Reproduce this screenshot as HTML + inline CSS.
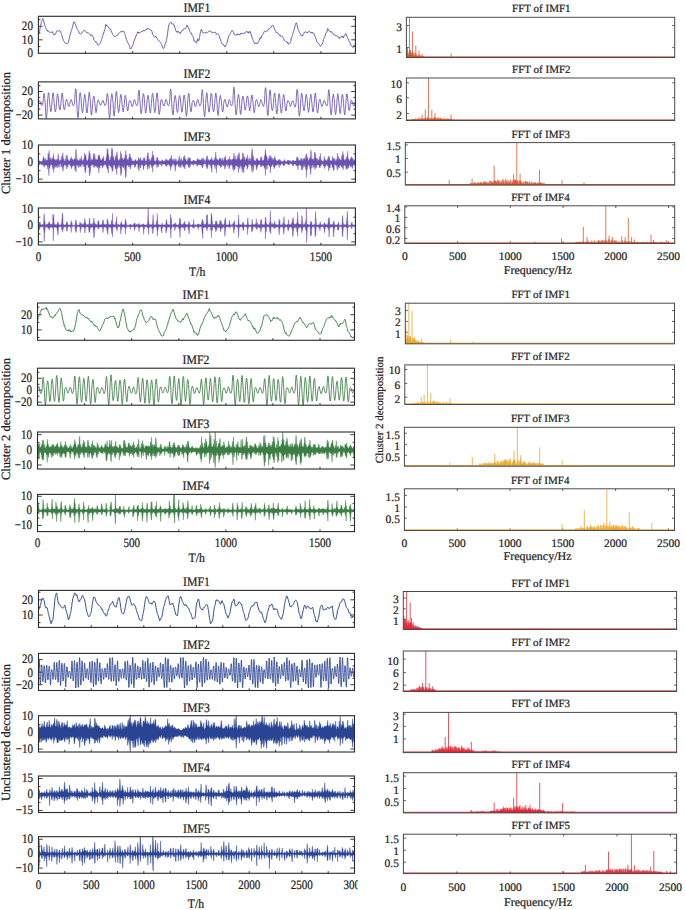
<!DOCTYPE html><html><head><meta charset="utf-8"><style>html,body{margin:0;padding:0;background:#fff;}body{width:685px;height:910px;overflow:hidden;font-family:"Liberation Serif",serif;}svg{display:block;}</style></head><body><svg width="685" height="910" viewBox="0 0 685 910" font-family="'Liberation Serif', serif" text-rendering="geometricPrecision"><style>text{stroke:#1e1e1e;stroke-width:0.22px;}</style><defs><clipPath id="lc10"><rect x="38.4" y="16.3" width="317" height="37"/></clipPath><clipPath id="lc11"><rect x="38.4" y="81.9" width="317" height="37"/></clipPath><clipPath id="lc12"><rect x="38.4" y="145" width="317" height="37.3"/></clipPath><clipPath id="lc13"><rect x="38.4" y="208" width="317" height="37"/></clipPath><clipPath id="lc20"><rect x="37.5" y="303" width="317" height="37.3"/></clipPath><clipPath id="lc21"><rect x="37.5" y="368.2" width="317" height="37"/></clipPath><clipPath id="lc22"><rect x="37.5" y="432" width="317" height="37"/></clipPath><clipPath id="lc23"><rect x="37.5" y="494.4" width="317" height="37.2"/></clipPath><clipPath id="lc30"><rect x="38.5" y="590.4" width="316" height="37"/></clipPath><clipPath id="lc31"><rect x="38.5" y="653.4" width="316" height="37.1"/></clipPath><clipPath id="lc32"><rect x="38.5" y="715.7" width="316" height="36.3"/></clipPath><clipPath id="lc33"><rect x="38.5" y="776" width="316" height="36.5"/></clipPath><clipPath id="lc34"><rect x="38.5" y="836.7" width="316" height="36.6"/></clipPath><clipPath id="rc10"><rect x="406.4" y="17.3" width="268.3" height="40.2"/></clipPath><clipPath id="rc11"><rect x="406.4" y="78" width="268.3" height="42.5"/></clipPath><clipPath id="rc12"><rect x="405.3" y="142.6" width="269.4" height="42.5"/></clipPath><clipPath id="rc13"><rect x="404.8" y="205.8" width="269.9" height="37.7"/></clipPath><clipPath id="rc20"><rect x="405.3" y="303.2" width="269.2" height="40.6"/></clipPath><clipPath id="rc21"><rect x="404.8" y="364.9" width="269.7" height="39.6"/></clipPath><clipPath id="rc22"><rect x="404.4" y="427.3" width="270.1" height="38.9"/></clipPath><clipPath id="rc23"><rect x="404.4" y="488.8" width="270.1" height="41.7"/></clipPath><clipPath id="rc30"><rect x="403.3" y="591.5" width="273.3" height="38"/></clipPath><clipPath id="rc31"><rect x="403.3" y="651" width="273.3" height="40.5"/></clipPath><clipPath id="rc32"><rect x="403.3" y="712.4" width="273.3" height="40.2"/></clipPath><clipPath id="rc33"><rect x="403.4" y="772.7" width="273.2" height="40.2"/></clipPath><clipPath id="rc34"><rect x="403.4" y="834.2" width="273.2" height="39.4"/></clipPath></defs><rect width="685" height="910" fill="#fff"/><text transform="translate(196.9,12.1) scale(0.98,1.07)" font-size="12" text-anchor="middle" fill="#1e1e1e" >IMF1</text>
<text transform="translate(32.9,30.1) scale(0.96,1.13)" font-size="11.5" text-anchor="end" fill="#1e1e1e" >20</text>
<text transform="translate(32.9,43.6) scale(0.96,1.13)" font-size="11.5" text-anchor="end" fill="#1e1e1e" >10</text>
<text transform="translate(32.9,57) scale(0.96,1.13)" font-size="11.5" text-anchor="end" fill="#1e1e1e" >0</text>
<line x1="38.4" y1="19.6" x2="40.4" y2="19.6" stroke="#2b2b2b" stroke-width="0.9"/>
<line x1="355.4" y1="19.6" x2="353.4" y2="19.6" stroke="#2b2b2b" stroke-width="0.9"/>
<line x1="38.4" y1="26.3" x2="42.6" y2="26.3" stroke="#2b2b2b" stroke-width="0.9"/>
<line x1="355.4" y1="26.3" x2="351.2" y2="26.3" stroke="#2b2b2b" stroke-width="0.9"/>
<line x1="38.4" y1="33" x2="40.4" y2="33" stroke="#2b2b2b" stroke-width="0.9"/>
<line x1="355.4" y1="33" x2="353.4" y2="33" stroke="#2b2b2b" stroke-width="0.9"/>
<line x1="38.4" y1="39.8" x2="42.6" y2="39.8" stroke="#2b2b2b" stroke-width="0.9"/>
<line x1="355.4" y1="39.8" x2="351.2" y2="39.8" stroke="#2b2b2b" stroke-width="0.9"/>
<line x1="38.4" y1="46.5" x2="40.4" y2="46.5" stroke="#2b2b2b" stroke-width="0.9"/>
<line x1="355.4" y1="46.5" x2="353.4" y2="46.5" stroke="#2b2b2b" stroke-width="0.9"/>
<line x1="85.5" y1="53.3" x2="85.5" y2="51.1" stroke="#2b2b2b" stroke-width="0.9"/>
<line x1="132.6" y1="53.3" x2="132.6" y2="51.1" stroke="#2b2b2b" stroke-width="0.9"/>
<line x1="179.7" y1="53.3" x2="179.7" y2="51.1" stroke="#2b2b2b" stroke-width="0.9"/>
<line x1="226.8" y1="53.3" x2="226.8" y2="51.1" stroke="#2b2b2b" stroke-width="0.9"/>
<line x1="273.8" y1="53.3" x2="273.8" y2="51.1" stroke="#2b2b2b" stroke-width="0.9"/>
<line x1="320.9" y1="53.3" x2="320.9" y2="51.1" stroke="#2b2b2b" stroke-width="0.9"/>
<path d="M38.9 33.9 39.2 33.3 39.6 31.6 39.9 29.2 40.3 27.2 40.6 25.8 41 23.6 41.3 22.4 41.7 21.2 42 20.5 42.4 19.8 42.7 18.6 43.1 19.1 43.4 20.3 43.8 21 44.1 23 44.5 24.3 44.8 25.3 45.2 26.5 45.5 27.7 45.9 28 46.2 28.6 46.6 29.7 46.9 30.3 47.3 30.9 47.6 30.1 48 31.5 48.3 30.9 48.7 31.4 49 31.9 49.4 32 49.7 32.3 50.1 32.3 50.4 32.4 50.8 32.3 51.1 32.1 51.5 32.2 51.8 32.2 52.2 32.5 52.5 31.7 52.9 33.2 53.2 33.4 53.6 33.9 53.9 35 54.3 34.3 54.6 34.5 55 34.4 55.3 34 55.7 34.2 56 32.6 56.4 32.2 56.7 31.4 57.1 30.6 57.4 30.9 57.8 30.9 58.1 31.2 58.5 31.2 58.8 30.8 59.2 30.9 59.5 30.6 59.9 30.6 60.2 31 60.6 31.8 60.9 32.9 61.3 33.7 61.6 34.5 62 35.7 62.3 37.1 62.7 38.3 63 39.1 63.4 40.5 63.7 41.1 64.1 41.6 64.4 41.7 64.8 42.7 65.1 43 65.5 43.4 65.8 43.4 66.2 44 66.5 43.5 66.9 43.7 67.2 43.8 67.6 43.3 67.9 43.1 68.3 42.8 68.6 41.3 69 39.7 69.3 38.1 69.7 36.8 70 35.1 70.4 34.1 70.7 32.7 71.1 31.2 71.4 30.7 71.8 29.4 72.1 28.5 72.5 26.8 72.8 26.1 73.2 24 73.5 22.1 73.9 22 74.2 21.7 74.6 22.3 74.9 23.1 75.3 23.9 75.6 24.9 76 25.8 76.3 27.2 76.7 27.4 77 28.4 77.4 29.6 77.7 29.9 78.1 30.5 78.4 31.1 78.8 31.6 79.1 33.2 79.5 33.4 79.8 33.3 80.2 33.8 80.5 34.2 80.9 33.7 81.2 33.8 81.6 33.3 81.9 32.9 82.3 32 82.6 31.9 83 31.3 83.3 31.1 83.7 30.8 84 30.7 84.4 30.5 84.7 31 85.1 30.6 85.4 31 85.8 31.7 86.1 32.1 86.5 32.3 86.8 32.5 87.2 33.2 87.5 32.7 87.9 32.7 88.2 32.7 88.6 33.3 88.9 33.5 89.3 33.9 89.6 34.2 90 34.4 90.3 34.8 90.7 35.5 91 34.6 91.4 35 91.7 35 92.1 36.3 92.4 36.2 92.8 36.2 93.1 36.6 93.5 37.7 93.8 39 94.2 40.1 94.5 40.6 94.9 41.2 95.2 41.5 95.6 42.2 95.9 41.4 96.3 42.6 96.6 42.7 97 43.1 97.3 44.4 97.7 44.5 98 45.1 98.4 44.9 98.7 44.7 99.1 44.4 99.4 44.1 99.8 44 100.1 43.5 100.5 42.8 100.8 41.7 101.2 40.5 101.5 39.8 101.9 38.8 102.2 36.9 102.6 36.1 102.9 35.2 103.3 34.2 103.6 33 104 32.1 104.3 30.8 104.7 29.9 105 28.6 105.4 27.1 105.7 24.6 106.1 25.9 106.4 24.9 106.8 25 107.1 25.6 107.5 26.1 107.8 26.6 108.2 27.1 108.5 27.2 108.9 28 109.2 28.1 109.6 28.3 109.9 29.4 110.3 29.3 110.6 29.2 111 30.3 111.3 31.1 111.7 32.3 112 33.1 112.4 33.4 112.7 34.5 113.1 34.9 113.4 35.3 113.8 35.9 114.1 35.9 114.5 36.5 114.8 36.6 115.2 36.8 115.5 36.3 115.9 36 116.2 36 116.6 35.4 116.9 35.6 117.3 35.3 117.6 35.3 118 34.4 118.3 34.2 118.7 33.5 119 33.3 119.4 32.8 119.7 32.5 120.1 32.1 120.4 31.9 120.8 32.1 121.1 31.5 121.5 32.1 121.8 31.4 122.2 31.7 122.5 31.8 122.9 31 123.2 31 123.6 31.1 123.9 31.6 124.3 32.4 124.6 33.3 125 34.5 125.3 35.5 125.7 36.9 126 37.9 126.4 39.5 126.7 39.9 127.1 41.1 127.4 41.8 127.8 42.7 128.1 43.5 128.5 43.6 128.8 44.6 129.2 45.4 129.5 46.4 129.9 47.3 130.2 49 130.6 49 130.9 48.5 131.3 48.4 131.6 47.6 132 46.7 132.3 46 132.7 45.8 133 44.3 133.4 43.3 133.7 41.8 134.1 40.7 134.4 40 134.8 39 135.1 38.4 135.5 37 135.8 36.2 136.2 36.1 136.5 34.9 136.9 34.1 137.2 33.8 137.6 31.8 137.9 32.5 138.3 32 138.6 33.3 139 32.4 139.3 32.5 139.7 32.5 140 32.6 140.4 32.2 140.7 32.3 141.1 31.9 141.4 31.4 141.8 32 142.1 31.4 142.5 31.1 142.8 30.7 143.2 31 143.5 30.4 143.9 30.5 144.2 31.2 144.6 30.7 144.9 30.6 145.3 30.6 145.6 30 146 29.6 146.3 30 146.7 29 147 28.6 147.4 28 147.7 28.9 148.1 28.5 148.4 28.7 148.8 28.5 149.1 29 149.5 29.8 149.8 29.7 150.2 29.9 150.5 29.6 150.9 30 151.2 30.6 151.6 30.4 151.9 31.4 152.3 33 152.6 34.1 153 34.4 153.3 35.4 153.7 36.2 154 36.4 154.4 36.8 154.7 36.9 155.1 36.5 155.4 36.1 155.8 37.3 156.1 36.8 156.5 37.2 156.8 38 157.2 38.5 157.5 39.3 157.9 39.8 158.2 40.4 158.6 40.4 158.9 40.8 159.3 41.3 159.6 41.3 160 41.7 160.3 42.1 160.7 42.7 161 43.5 161.4 44.1 161.7 44.7 162.1 46.3 162.4 46.3 162.8 47.1 163.1 48.5 163.5 48.4 163.8 48.2 164.2 47.7 164.5 46.6 164.9 46.1 165.2 43.2 165.6 43 165.9 42.2 166.3 40.8 166.6 39.7 167 37.5 167.3 34.9 167.7 32.5 168 30.1 168.4 27.5 168.7 25.8 169.1 24.3 169.4 23.5 169.8 23.1 170.1 22.6 170.5 22.6 170.8 22.8 171.2 22.3 171.5 23.4 171.9 23.7 172.2 24.3 172.6 24.1 172.9 23.5 173.3 23.9 173.6 24.5 174 25 174.3 26 174.7 27 175 27.7 175.4 29.1 175.7 30.4 176.1 31.6 176.4 31.5 176.8 31.5 177.1 32.4 177.5 31.4 177.8 32.1 178.2 31.4 178.5 32.1 178.9 32.1 179.2 32.6 179.6 32.7 179.9 32.1 180.3 33.6 180.6 32.8 181 32.1 181.3 31.4 181.7 31.3 182 30.7 182.4 30.2 182.7 30.8 183.1 29.5 183.4 29 183.8 28.9 184.1 28.9 184.5 28.6 184.8 28.8 185.2 28.7 185.5 27.8 185.9 27.5 186.2 27.1 186.6 26.9 186.9 25.3 187.3 26.7 187.6 26 188 26.4 188.3 27.5 188.7 28.1 189 29 189.4 30.1 189.7 31.1 190.1 31.6 190.4 32.3 190.8 32.7 191.1 33.5 191.5 32.9 191.8 34.3 192.2 35.6 192.5 35.8 192.9 36.6 193.2 36.9 193.6 38.2 193.9 40 194.3 41.3 194.6 40.8 195 41.5 195.3 42 195.7 42.7 196 42.9 196.4 42.8 196.7 42.9 197.1 40.6 197.4 41 197.8 38.7 198.1 39.7 198.5 40 198.8 40.6 199.2 39.6 199.5 37.6 199.9 35.1 200.2 33.4 200.6 31.7 200.9 30.4 201.3 29.4 201.6 30.5 202 30 202.3 31.6 202.7 32 203 32.9 203.4 32.8 203.7 33 204.1 33.1 204.4 33.1 204.8 32.8 205.1 32.4 205.5 32.7 205.8 32.1 206.2 32.7 206.5 32.1 206.9 32.2 207.2 32.4 207.6 32.7 207.9 32.4 208.3 32 208.6 31.6 209 31.5 209.3 31 209.7 30.7 210 31.2 210.4 31.2 210.7 31.4 211.1 31.7 211.4 31.6 211.8 32.5 212.1 32.1 212.5 32.8 212.8 32.5 213.2 32.6 213.5 32.6 213.9 32.4 214.2 32.4 214.6 32.5 214.9 32.4 215.3 32.1 215.6 32.6 216 33.1 216.3 34.4 216.7 34 217 34.1 217.4 33.7 217.7 33.9 218.1 34.2 218.4 34.5 218.8 35.3 219.1 35.7 219.5 37.2 219.8 38.5 220.2 38.3 220.5 39.5 220.9 40.8 221.2 41.4 221.6 42.3 221.9 43.6 222.3 43.8 222.6 44.2 223 44.1 223.3 44.4 223.7 45.5 224 45.5 224.4 45.7 224.7 45.9 225.1 47.1 225.4 45.8 225.8 45.8 226.1 44.6 226.5 44.1 226.8 43.3 227.2 42.3 227.5 41 227.9 38.9 228.2 38.4 228.6 37.1 228.9 36 229.3 35.2 229.6 34.7 230 34.1 230.3 33.4 230.7 32.7 231 32.2 231.4 31.7 231.7 30.6 232.1 30.3 232.4 30.7 232.8 30.7 233.1 31.5 233.5 32.1 233.8 33 234.2 34.4 234.5 34.2 234.9 34.6 235.2 35.1 235.6 35.2 235.9 34.9 236.3 34.9 236.6 35 237 34.2 237.3 34.9 237.7 34.5 238 33.6 238.4 34.6 238.7 34.7 239.1 35.1 239.4 34.5 239.8 34.8 240.1 34.7 240.5 33.8 240.8 34.1 241.2 33 241.5 33.9 241.9 33.5 242.2 33.1 242.6 33.4 242.9 33.4 243.3 33.6 243.6 33.5 244 33.5 244.3 32.9 244.7 33 245 32.8 245.4 32.2 245.7 32.5 246.1 32.1 246.4 31.4 246.8 31.8 247.1 31.4 247.5 32.2 247.8 32.9 248.2 32.2 248.5 32 248.9 33.3 249.2 31.5 249.6 31.4 249.9 31.8 250.3 31.8 250.6 33.1 251 34.1 251.3 34.7 251.7 36.1 252 37.3 252.4 38.5 252.7 39.2 253.1 40.4 253.4 41.3 253.8 41.9 254.1 42.7 254.5 43.6 254.8 42.9 255.2 43.4 255.5 43.2 255.9 43.2 256.2 43.6 256.6 42.8 256.9 43.3 257.3 43.9 257.6 43.4 258 43.2 258.3 42.6 258.7 41.3 259 40.7 259.4 40 259.7 38.3 260.1 38.9 260.4 38 260.8 37 261.1 38 261.5 36.1 261.8 36.1 262.2 35.4 262.5 34.9 262.9 34.4 263.2 33.5 263.6 32.7 263.9 32.7 264.3 31.4 264.6 31.8 265 31.4 265.3 31.3 265.7 31.7 266 31.3 266.4 31.3 266.7 31.1 267.1 31.2 267.4 30.3 267.8 30.3 268.1 29.7 268.5 29.7 268.8 28.7 269.2 28.5 269.5 28.2 269.9 27.9 270.2 27.9 270.6 27.7 270.9 27.1 271.3 27.1 271.6 26.4 272 25.7 272.3 25.1 272.7 25 273 25.4 273.4 26.2 273.7 27.1 274.1 27.3 274.4 29 274.8 29.4 275.1 30.3 275.5 31.1 275.8 31.7 276.2 32.7 276.5 32.2 276.9 32.6 277.2 32.5 277.6 32.8 277.9 33.4 278.3 33.6 278.6 34.1 279 34.3 279.3 34.9 279.7 35.5 280 34.9 280.4 36.2 280.7 36.2 281.1 36.3 281.4 36.2 281.8 36.3 282.1 36.4 282.5 36.4 282.8 37.3 283.2 37.8 283.5 38.4 283.9 38.6 284.2 40.4 284.6 40.6 284.9 40.7 285.3 41.2 285.6 41.5 286 41.7 286.3 41.6 286.7 42.2 287 42.1 287.4 42 287.7 43.1 288.1 42.8 288.4 44.2 288.8 44 289.1 43.9 289.5 43.4 289.8 43.1 290.2 42.7 290.5 41.5 290.9 40.8 291.2 38.2 291.6 38.4 291.9 36.7 292.3 35.4 292.6 34.4 293 33.4 293.3 32.1 293.7 31.4 294 29.8 294.4 28.7 294.7 26.8 295.1 26.3 295.4 24.2 295.8 23.4 296.1 22.8 296.5 23 296.8 24.2 297.2 25.7 297.5 27 297.9 28.3 298.2 29.5 298.6 30.3 298.9 31 299.3 32.3 299.6 32.4 300 33 300.3 33.9 300.7 34.8 301 35.8 301.4 36 301.7 36.1 302.1 35.3 302.4 35.4 302.8 35.9 303.1 34.3 303.5 33.8 303.8 33.1 304.2 32.6 304.5 33.1 304.9 32 305.2 31.7 305.6 31.8 305.9 32.1 306.3 32.3 306.6 32.4 307 33.1 307.3 32.4 307.7 32.4 308 32.5 308.4 31.6 308.7 31.9 309.1 31.5 309.4 31.3 309.8 31.5 310.1 31.7 310.5 32 310.8 33 311.2 32.6 311.5 33 311.9 33.2 312.2 32.2 312.6 32.9 312.9 33.3 313.3 32.8 313.6 33 314 33.8 314.3 34.4 314.7 35.9 315 36.2 315.4 37.4 315.7 38.2 316.1 39.1 316.4 39.6 316.8 41.5 317.1 41.8 317.5 42.4 317.8 43.1 318.2 43.6 318.5 43.7 318.9 43.6 319.2 44.1 319.6 44.7 319.9 45.3 320.3 46.3 320.6 45.9 321 45.5 321.3 44.8 321.7 44.5 322 43.8 322.4 44 322.7 42.4 323.1 41.3 323.4 39.7 323.8 39.3 324.1 37.9 324.5 37.3 324.8 36.9 325.2 35.1 325.5 33.8 325.9 33 326.2 32.8 326.6 32.1 326.9 32.3 327.3 29.9 327.6 28.6 328 28.7 328.3 29.2 328.7 29.9 329 30.7 329.4 31.2 329.7 31.2 330.1 31.3 330.4 31.8 330.8 31.6 331.1 32.3 331.5 31.7 331.8 31.6 332.2 32.3 332.5 33.1 332.9 33.7 333.2 33.6 333.6 34.5 333.9 35.2 334.3 35 334.6 35.1 335 35.5 335.3 35.6 335.7 35.5 336 35.3 336.4 36 336.7 36.1 337.1 35.9 337.4 36.1 337.8 36.5 338.1 37.7 338.5 37.7 338.8 37.6 339.2 37.5 339.5 38.6 339.9 37.3 340.2 37.3 340.6 36.8 340.9 36.8 341.3 36.9 341.6 36.2 342 36.8 342.3 36.9 342.7 36.3 343 38 343.4 37 343.7 36.4 344.1 36.5 344.4 35.4 344.8 34.7 345.1 34.3 345.5 33.7 345.8 33.6 346.2 34 346.5 35 346.9 36.3 347.2 36.6 347.6 37.8 347.9 38.3 348.3 39.1 348.6 40 349 40.9 349.3 41.7 349.7 42.4 350 43.2 350.4 43.1 350.7 44.7 351.1 45.3 351.4 45.9 351.8 46.3 352.1 46.8 352.5 47 352.8 47.5 353.2 47.2 353.5 45.7 353.9 46 354.2 45.5 354.6 45.2 354.9 45.2 355.3 44.5" fill="none" stroke="#6a51b2" stroke-width="0.95" stroke-linejoin="round" opacity="1" clip-path="url(#lc10)"/>
<rect x="38.4" y="16.3" width="317" height="37" fill="none" stroke="#2b2b2b" stroke-width="1.1"/>
<text transform="translate(196.9,77.7) scale(0.98,1.07)" font-size="12" text-anchor="middle" fill="#1e1e1e" >IMF2</text>
<text transform="translate(32.9,95.3) scale(0.96,1.13)" font-size="11.5" text-anchor="end" fill="#1e1e1e" >20</text>
<text transform="translate(32.9,107.1) scale(0.96,1.13)" font-size="11.5" text-anchor="end" fill="#1e1e1e" >0</text>
<text transform="translate(32.9,118.9) scale(0.96,1.13)" font-size="11.5" text-anchor="end" fill="#1e1e1e" >−20</text>
<line x1="38.4" y1="85.6" x2="40.4" y2="85.6" stroke="#2b2b2b" stroke-width="0.9"/>
<line x1="355.4" y1="85.6" x2="353.4" y2="85.6" stroke="#2b2b2b" stroke-width="0.9"/>
<line x1="38.4" y1="91.5" x2="42.6" y2="91.5" stroke="#2b2b2b" stroke-width="0.9"/>
<line x1="355.4" y1="91.5" x2="351.2" y2="91.5" stroke="#2b2b2b" stroke-width="0.9"/>
<line x1="38.4" y1="97.4" x2="40.4" y2="97.4" stroke="#2b2b2b" stroke-width="0.9"/>
<line x1="355.4" y1="97.4" x2="353.4" y2="97.4" stroke="#2b2b2b" stroke-width="0.9"/>
<line x1="38.4" y1="103.3" x2="42.6" y2="103.3" stroke="#2b2b2b" stroke-width="0.9"/>
<line x1="355.4" y1="103.3" x2="351.2" y2="103.3" stroke="#2b2b2b" stroke-width="0.9"/>
<line x1="38.4" y1="109.2" x2="40.4" y2="109.2" stroke="#2b2b2b" stroke-width="0.9"/>
<line x1="355.4" y1="109.2" x2="353.4" y2="109.2" stroke="#2b2b2b" stroke-width="0.9"/>
<line x1="38.4" y1="115.1" x2="42.6" y2="115.1" stroke="#2b2b2b" stroke-width="0.9"/>
<line x1="355.4" y1="115.1" x2="351.2" y2="115.1" stroke="#2b2b2b" stroke-width="0.9"/>
<line x1="85.5" y1="118.9" x2="85.5" y2="116.7" stroke="#2b2b2b" stroke-width="0.9"/>
<line x1="132.6" y1="118.9" x2="132.6" y2="116.7" stroke="#2b2b2b" stroke-width="0.9"/>
<line x1="179.7" y1="118.9" x2="179.7" y2="116.7" stroke="#2b2b2b" stroke-width="0.9"/>
<line x1="226.8" y1="118.9" x2="226.8" y2="116.7" stroke="#2b2b2b" stroke-width="0.9"/>
<line x1="273.8" y1="118.9" x2="273.8" y2="116.7" stroke="#2b2b2b" stroke-width="0.9"/>
<line x1="320.9" y1="118.9" x2="320.9" y2="116.7" stroke="#2b2b2b" stroke-width="0.9"/>
<path d="M38.4 103.3 38.8 101.9 39.2 100.7 39.5 100.9 39.9 100.9 40.3 101.7 40.7 103.2 41 104.6 41.4 105.1 41.8 105.6 42.2 105.1 42.5 104 42.9 103.4 43.3 98.8 43.7 95.3 44.1 93.3 44.4 95.1 44.8 98.6 45.2 103.1 45.6 111.3 45.9 116.6 46.3 118.7 46.7 116.7 47.1 110.9 47.4 102.9 47.8 98.2 48.2 93.9 48.6 92.7 48.9 94 49.3 98.6 49.7 103 50.1 107.8 50.5 111.4 50.8 111.8 51.2 110.7 51.6 107.6 52 102.9 52.3 98.2 52.7 93.9 53.1 92.8 53.5 94.1 53.8 97.9 54.2 103.4 54.6 107.6 55 111.3 55.4 111.9 55.7 110.8 56.1 108 56.5 102.7 56.9 98.8 57.2 95.2 57.6 94 58 95.2 58.4 99 58.7 102.8 59.1 106.8 59.5 109.3 59.9 110 60.2 109.1 60.6 106.8 61 103.1 61.4 97.8 61.8 94.6 62.1 93 62.5 94.4 62.9 98.2 63.3 103.4 63.6 107 64 109 64.4 109.8 64.8 109.1 65.1 106.6 65.5 102.8 65.9 101.1 66.3 99.5 66.7 99.5 67 100.2 67.4 101.4 67.8 102.9 68.2 105.1 68.5 105.9 68.9 106.6 69.3 105.8 69.7 104.5 70 102.8 70.4 101.4 70.8 100 71.2 99.8 71.6 99.8 71.9 101.6 72.3 103 72.7 104.8 73.1 105.7 73.4 105.7 73.8 105.4 74.2 104.5 74.6 103.3 74.9 96 75.3 91.1 75.7 88.8 76.1 90.4 76.4 96.1 76.8 103.2 77.2 110.6 77.6 115.9 78 117.7 78.3 115.8 78.7 110.5 79.1 103 79.5 97.6 79.8 93.9 80.2 92.6 80.6 93.5 81 97.8 81.3 103 81.7 108 82.1 111.3 82.5 112.8 82.9 111.4 83.2 108.3 83.6 103.1 84 99 84.4 96 84.7 94.4 85.1 95.7 85.5 99.4 85.9 103.3 86.2 108.2 86.6 112 87 113 87.4 111.7 87.7 108.1 88.1 102.8 88.5 97.9 88.9 93.6 89.3 92.2 89.6 93.6 90 97.6 90.4 102.6 90.8 109 91.1 113.8 91.5 115.1 91.9 113.2 92.3 108.8 92.6 103.2 93 99.6 93.4 96.7 93.8 96 94.2 96.5 94.5 99.8 94.9 103.2 95.3 107.8 95.7 111.3 96 112.7 96.4 111.5 96.8 107.9 97.2 103.3 97.5 102.4 97.9 100.3 98.3 99.8 98.7 100.8 99.1 101.5 99.4 103.2 99.8 103.7 100.2 104.8 100.6 105.4 100.9 105.1 101.3 103.8 101.7 103.1 102.1 102 102.4 101.2 102.8 100.2 103.2 100.6 103.6 102.1 103.9 103.1 104.3 104.1 104.7 105.5 105.1 105.1 105.5 105 105.8 104.6 106.2 103 106.6 98.4 107 94.3 107.3 93.5 107.7 94.7 108.1 98.7 108.5 103.1 108.8 110.5 109.2 116 109.6 118.3 110 115.9 110.4 110.6 110.7 103.7 111.1 98.7 111.5 95.3 111.9 93.7 112.2 95.3 112.6 98.2 113 102.8 113.4 109.4 113.7 114.7 114.1 116.1 114.5 114.1 114.9 109.5 115.2 103.3 115.6 97.4 116 92.3 116.4 91.4 116.8 92.9 117.1 96.9 117.5 103.1 117.9 108 118.3 111.2 118.6 112.6 119 111 119.4 107.4 119.8 103.8 120.1 98.7 120.5 95.4 120.9 94.3 121.3 95.7 121.7 98.9 122 102.9 122.4 107.4 122.8 110.6 123.2 111.9 123.5 110.5 123.9 107.6 124.3 103.3 124.7 99.6 125 95.7 125.4 95.3 125.8 96.4 126.2 99.4 126.5 103.2 126.9 106.8 127.3 110 127.7 111 128.1 109.7 128.4 106.7 128.8 103.3 129.2 101.5 129.6 100.8 129.9 100.6 130.3 100.7 130.7 101.8 131.1 103.2 131.4 105.2 131.8 106.4 132.2 106.5 132.6 106.2 133 104.8 133.3 103.1 133.7 101.7 134.1 100.2 134.5 99.6 134.8 99.9 135.2 101.7 135.6 103 136 104.1 136.3 105.1 136.7 105.7 137.1 104.8 137.5 104.5 137.9 103.3 138.2 96.3 138.6 91.5 139 90 139.4 92.3 139.7 96.5 140.1 103.5 140.5 108.8 140.9 112 141.2 113.8 141.6 112.7 142 108.4 142.4 103.5 142.7 98.2 143.1 94.6 143.5 93.6 143.9 95.1 144.3 98.4 144.6 103.4 145 107.7 145.4 111.5 145.8 113.2 146.1 111 146.5 108.1 146.9 103 147.3 99.2 147.6 96.5 148 95.1 148.4 96.8 148.8 99.5 149.2 103.5 149.5 108.1 149.9 111.3 150.3 113 150.7 111.2 151 107.8 151.4 103.7 151.8 98.3 152.2 94.4 152.5 93.3 152.9 94.3 153.3 98.2 153.7 103 154 107.7 154.4 111.1 154.8 112.7 155.2 110.9 155.6 108 155.9 103.2 156.3 97.7 156.7 93.9 157.1 92.8 157.4 94.6 157.8 98.2 158.2 103.7 158.6 108.8 158.9 113.2 159.3 114.4 159.7 112.6 160.1 109 160.5 103 160.8 101 161.2 99.8 161.6 99.4 162 100.1 162.3 101.6 162.7 103.4 163.1 105 163.5 104.9 163.8 105.6 164.2 106 164.6 104.4 165 102.9 165.4 101.1 165.7 99.7 166.1 99.3 166.5 100.4 166.9 101 167.2 103 167.6 104.8 168 105.5 168.4 105.8 168.7 105.3 169.1 104.7 169.5 102.9 169.9 96.3 170.2 90.9 170.6 88.9 171 90.8 171.4 96.3 171.8 103.3 172.1 109.1 172.5 113.7 172.9 115 173.3 114 173.6 109.6 174 103.5 174.4 99.6 174.8 96.9 175.1 95.4 175.5 96.7 175.9 99.4 176.3 103.2 176.7 108.2 177 111.4 177.4 112.6 177.8 111.8 178.2 107.9 178.5 103 178.9 98.9 179.3 96.2 179.7 95.5 180 96.6 180.4 98.9 180.8 103.2 181.2 107.8 181.5 110.9 181.9 112.3 182.3 111.4 182.7 107.5 183.1 102.8 183.4 99.1 183.8 96 184.2 95.1 184.6 96.4 184.9 99.4 185.3 103.3 185.7 110 186.1 114.4 186.4 116.3 186.8 114.4 187.2 109.7 187.6 103.1 188 98.2 188.3 94.5 188.7 93.2 189.1 94.6 189.5 98.5 189.8 103.1 190.2 107.7 190.6 110.4 191 111.8 191.3 111 191.7 107.6 192.1 102.7 192.5 101.9 192.9 100.8 193.2 100.2 193.6 100.5 194 101.6 194.4 102.9 194.7 105 195.1 106.2 195.5 106.7 195.9 106.3 196.2 104.3 196.6 103.1 197 101.5 197.4 99.9 197.7 99.4 198.1 99.8 198.5 101.4 198.9 103.2 199.3 104.9 199.6 105.7 200 106 200.4 105.6 200.8 104.4 201.1 103.2 201.5 96.8 201.9 91.8 202.3 89.6 202.6 91.3 203 96.7 203.4 103.3 203.8 110 204.2 114.6 204.5 116.8 204.9 115 205.3 109.9 205.7 103.3 206 98 206.4 94.5 206.8 92.7 207.2 94.4 207.5 98.8 207.9 103.4 208.3 108.1 208.7 111.1 209 112.2 209.4 111 209.8 107.6 210.2 103.4 210.6 97.7 210.9 94 211.3 93.4 211.7 94.1 212.1 97.8 212.4 103.5 212.8 107.8 213.2 110.9 213.6 111.9 213.9 110.9 214.3 107.6 214.7 103.2 215.1 98.3 215.5 94.6 215.8 93 216.2 94.7 216.6 98.3 217 102.8 217.3 109.4 217.7 113.7 218.1 115.4 218.5 113.4 218.8 109.2 219.2 103.1 219.6 99.1 220 96.7 220.4 95.4 220.7 96.6 221.1 99.1 221.5 102.9 221.9 107.4 222.2 110.5 222.6 112 223 111.1 223.4 108.1 223.7 103.5 224.1 101.4 224.5 99.8 224.9 99.4 225.2 99.5 225.6 101.3 226 103.4 226.4 104.5 226.8 106.6 227.1 107.1 227.5 106.7 227.9 105 228.3 103 228.6 101.2 229 100.2 229.4 99.6 229.8 100.4 230.1 101 230.5 103.5 230.9 105 231.3 105.3 231.7 105.9 232 105.1 232.4 103.8 232.8 102.9 233.2 95.2 233.5 89.4 233.9 87.1 234.3 89.5 234.7 95.3 235 103.7 235.4 108.8 235.8 113.3 236.2 115 236.5 113.4 236.9 109.1 237.3 103.8 237.7 98.9 238.1 96 238.4 94.3 238.8 95.7 239.2 99.2 239.6 103.5 239.9 108.4 240.3 113.5 240.7 114.5 241.1 112.7 241.4 108.9 241.8 103 242.2 99.2 242.6 97 243 96.2 243.3 97.2 243.7 99.2 244.1 103 244.5 106.4 244.8 109.1 245.2 110.1 245.6 108.8 246 106.2 246.3 103.3 246.7 99.3 247.1 96.7 247.5 95.9 247.8 96.8 248.2 99.1 248.6 102.9 249 106.5 249.4 109.8 249.7 110.9 250.1 109.3 250.5 106.8 250.9 102.9 251.2 99.1 251.6 95.9 252 94.9 252.4 96.5 252.7 99.4 253.1 103.2 253.5 108.3 253.9 111.3 254.3 112.8 254.6 111.2 255 107.8 255.4 103.4 255.8 101.2 256.1 100.1 256.5 99.5 256.9 99.9 257.3 101.5 257.6 103.2 258 104.4 258.4 106.5 258.8 106.8 259.2 105.7 259.5 104.9 259.9 103.2 260.3 101.3 260.7 99.9 261 99.7 261.4 100.2 261.8 101.8 262.2 103.2 262.5 104.5 262.9 105.8 263.3 106.4 263.7 106.3 264 104.5 264.4 103.2 264.8 95.5 265.2 89 265.6 87.6 265.9 89.2 266.3 95.2 266.7 103 267.1 109.4 267.4 113.9 267.8 115.5 268.2 114.5 268.6 108.6 268.9 103 269.3 96.3 269.7 91.8 270.1 89.9 270.5 91.8 270.8 96.6 271.2 103 271.6 107.2 272 109.4 272.3 110.7 272.7 109.8 273.1 107.4 273.5 102.8 273.8 97.7 274.2 94.4 274.6 92.9 275 93.9 275.3 98.4 275.7 103.3 276.1 108.5 276.5 112.4 276.9 114 277.2 112.4 277.6 108.7 278 103.3 278.4 97.9 278.7 94.1 279.1 93.6 279.5 94.4 279.9 98.6 280.2 103.2 280.6 107.6 281 112.1 281.4 113.1 281.8 111.4 282.1 108.3 282.5 102.9 282.9 98.6 283.3 95.7 283.6 94.4 284 95.4 284.4 98.7 284.8 103.2 285.1 107 285.5 109.9 285.9 111.1 286.3 110.2 286.7 107 287 103.1 287.4 101.8 287.8 100.5 288.2 100.6 288.5 101 288.9 101.8 289.3 102.9 289.7 104.2 290 105.2 290.4 106.5 290.8 105.9 291.2 104.5 291.5 102.8 291.9 101.9 292.3 101.2 292.7 100.7 293.1 100.7 293.4 102.7 293.8 103.3 294.2 104.8 294.6 106.7 294.9 107.2 295.3 106.8 295.7 105.2 296.1 102.9 296.4 96.4 296.8 91 297.2 89.4 297.6 91.2 298 96.4 298.3 103.2 298.7 109.6 299.1 115.2 299.5 116.2 299.8 114.4 300.2 109.8 300.6 103.3 301 98.5 301.3 94.2 301.7 93.1 302.1 94.8 302.5 98.3 302.8 103.3 303.2 106.8 303.6 109.7 304 110.9 304.4 110.1 304.7 107.3 305.1 103.4 305.5 98.2 305.9 95.4 306.2 94.3 306.6 95.3 307 98.6 307.4 102.9 307.7 107.5 308.1 110.3 308.5 112.4 308.9 110.9 309.3 108 309.6 103 310 98.5 310.4 96.4 310.8 94.2 311.1 95.6 311.5 99.2 311.9 103.5 312.3 107.5 312.6 110.9 313 112.1 313.4 111.1 313.8 107.4 314.2 103.3 314.5 98.3 314.9 94.3 315.3 93 315.7 95 316 98.2 316.4 103.1 316.8 108.5 317.2 112.2 317.5 113 317.9 111.6 318.3 108.6 318.7 103.5 319 101.7 319.4 100.4 319.8 99.2 320.2 99.6 320.6 101.6 320.9 103.4 321.3 105 321.7 106.4 322.1 106.4 322.4 105.9 322.8 104.9 323.2 103.3 323.6 101.8 323.9 100.5 324.3 100.3 324.7 100.9 325.1 101.8 325.5 103.1 325.8 104.9 326.2 105.1 326.6 105.8 327 105.9 327.3 105.1 327.7 103.6 328.1 96.4 328.5 91.2 328.8 89.7 329.2 91.6 329.6 96.5 330 102.9 330.3 108.9 330.7 113.3 331.1 114.8 331.5 113.6 331.9 109.1 332.2 103.3 332.6 98.7 333 95.6 333.4 94 333.7 95.5 334.1 98.4 334.5 103.2 334.9 108.9 335.2 112.8 335.6 114.7 336 112.6 336.4 108.7 336.8 103.1 337.1 98.5 337.5 95.6 337.9 93.7 338.3 95.7 338.6 99 339 103.3 339.4 108.4 339.8 112.5 340.1 113.7 340.5 112.8 340.9 108.2 341.3 103 341.7 98.7 342 94.7 342.4 94.5 342.8 95.3 343.2 98.9 343.5 103.2 343.9 108.6 344.3 113.3 344.7 115 345 113 345.4 108.8 345.8 102.9 346.2 98.8 346.5 95 346.9 93.9 347.3 95.3 347.7 98.7 348.1 103 348.4 107.4 348.8 110.2 349.2 110.5 349.6 110.2 349.9 107.1 350.3 103.4 350.7 102 351.1 100.5 351.4 100.1 351.8 100.9 352.2 101.6 352.6 103.9 353 104.4 353.3 105.7 353.7 105.5 354.1 106 354.5 105 354.8 102.8 355.2 101.7" fill="none" stroke="#6a51b2" stroke-width="0.85" stroke-linejoin="round" opacity="1" clip-path="url(#lc11)"/>
<rect x="38.4" y="81.9" width="317" height="37" fill="none" stroke="#2b2b2b" stroke-width="1.1"/>
<text transform="translate(196.9,140.8) scale(0.98,1.07)" font-size="12" text-anchor="middle" fill="#1e1e1e" >IMF3</text>
<text transform="translate(32.9,149.3) scale(0.96,1.13)" font-size="11.5" text-anchor="end" fill="#1e1e1e" >10</text>
<text transform="translate(32.9,166.2) scale(0.96,1.13)" font-size="11.5" text-anchor="end" fill="#1e1e1e" >0</text>
<text transform="translate(32.9,182.9) scale(0.96,1.13)" font-size="11.5" text-anchor="end" fill="#1e1e1e" >−10</text>
<line x1="38.4" y1="153.9" x2="40.4" y2="153.9" stroke="#2b2b2b" stroke-width="0.9"/>
<line x1="355.4" y1="153.9" x2="353.4" y2="153.9" stroke="#2b2b2b" stroke-width="0.9"/>
<line x1="38.4" y1="162.3" x2="42.6" y2="162.3" stroke="#2b2b2b" stroke-width="0.9"/>
<line x1="355.4" y1="162.3" x2="351.2" y2="162.3" stroke="#2b2b2b" stroke-width="0.9"/>
<line x1="38.4" y1="170.7" x2="40.4" y2="170.7" stroke="#2b2b2b" stroke-width="0.9"/>
<line x1="355.4" y1="170.7" x2="353.4" y2="170.7" stroke="#2b2b2b" stroke-width="0.9"/>
<line x1="38.4" y1="179.1" x2="42.6" y2="179.1" stroke="#2b2b2b" stroke-width="0.9"/>
<line x1="355.4" y1="179.1" x2="351.2" y2="179.1" stroke="#2b2b2b" stroke-width="0.9"/>
<line x1="85.5" y1="182.3" x2="85.5" y2="180.1" stroke="#2b2b2b" stroke-width="0.9"/>
<line x1="132.6" y1="182.3" x2="132.6" y2="180.1" stroke="#2b2b2b" stroke-width="0.9"/>
<line x1="179.7" y1="182.3" x2="179.7" y2="180.1" stroke="#2b2b2b" stroke-width="0.9"/>
<line x1="226.8" y1="182.3" x2="226.8" y2="180.1" stroke="#2b2b2b" stroke-width="0.9"/>
<line x1="273.8" y1="182.3" x2="273.8" y2="180.1" stroke="#2b2b2b" stroke-width="0.9"/>
<line x1="320.9" y1="182.3" x2="320.9" y2="180.1" stroke="#2b2b2b" stroke-width="0.9"/>
<path d="M38.6 160.7 39 160.5 39.3 160.7 39.7 161.1 40 160.9 40.4 161.4 40.7 161.4 41.1 161.7 41.4 161.6 41.8 161.5 42.1 161.4 42.5 160.7 42.8 159.4 43.2 159 43.5 156.3 43.9 157.3 44.2 160 44.6 160 44.9 158.8 45.3 158.1 45.6 160.9 46 159.8 46.3 160.7 46.7 160.3 47 160.2 47.4 160.1 47.7 160.6 48.1 153.1 48.4 156.6 48.8 154.4 49.1 150.5 49.5 159.4 49.8 158.8 50.2 157.2 50.5 160.2 50.9 160.1 51.2 160.2 51.6 158.6 51.9 161 52.3 157.7 52.6 159.4 53 158.8 53.3 153.8 53.7 156.6 54 158.5 54.4 160.3 54.7 159.6 55.1 159.2 55.4 160.6 55.8 160.6 56.1 159.9 56.5 160.8 56.8 159.1 57.2 160.2 57.5 161.1 57.9 156.6 58.2 153.9 58.6 157.5 58.9 159.4 59.3 160.2 59.6 161.1 60 161.4 60.3 160.7 60.7 160 61 160.1 61.4 156.2 61.7 159.9 62.1 160.2 62.4 155.5 62.8 152.7 63.1 156.5 63.5 161.2 63.8 158.4 64.2 160.6 64.5 161.3 64.9 160.9 65.2 160.9 65.6 158.7 65.9 159 66.3 154.9 66.6 160.9 67 159.1 67.3 155.6 67.7 159.5 68 159.5 68.4 160.4 68.7 160.6 69.1 161 69.4 160.8 69.8 161.3 70.1 159.2 70.5 159.6 70.8 158.8 71.2 156.7 71.5 159.5 71.9 158.7 72.2 158.8 72.6 160.5 72.9 159.6 73.3 160.5 73.6 160.3 74 159.6 74.3 159 74.7 158.4 75 159.8 75.4 159.3 75.7 152.1 76.1 149.1 76.4 155.2 76.8 161.2 77.1 158.4 77.5 161 77.8 160.1 78.2 160.7 78.5 160.4 78.9 160.9 79.2 160.3 79.6 161.1 79.9 158.3 80.3 159.6 80.6 159.3 81 161.1 81.3 156.3 81.7 159.5 82 160.9 82.4 161.2 82.7 160.8 83.1 159.5 83.4 159.7 83.8 160.8 84.1 158.8 84.5 152.9 84.8 158.4 85.2 155.2 85.5 155.6 85.9 154.5 86.2 159 86.6 160.5 86.9 160.6 87.3 160.9 87.6 160.9 88 159.7 88.3 159 88.7 156.7 89 151.5 89.4 151 89.7 157.7 90.1 153.2 90.4 159.9 90.8 160.7 91.1 158.2 91.5 160.3 91.8 160.8 92.2 160.1 92.5 159.7 92.9 160 93.2 156.5 93.6 153.4 93.9 156.8 94.3 160.2 94.6 153.5 95 155.5 95.3 159.5 95.7 159.5 96 159.8 96.4 159.3 96.7 160.2 97.1 160 97.4 159.7 97.8 159.4 98.1 155.2 98.5 156 98.8 157.6 99.2 154.4 99.5 157.2 99.9 157 100.2 158.8 100.6 159.9 100.9 159.7 101.3 159.8 101.6 160.5 102 159.7 102.3 158.1 102.7 159.3 103 159 103.4 156.2 103.7 158.1 104.1 160.8 104.4 161.5 104.8 161.3 105.1 161.3 105.5 160.8 105.8 160.8 106.2 157.5 106.5 156.4 106.9 154.4 107.2 148.5 107.6 154.3 107.9 148.9 108.3 156.7 108.6 154.7 109 159.3 109.3 160.3 109.7 160.5 110 159.9 110.4 159.9 110.7 156.8 111.1 159 111.4 153.8 111.8 147.9 112.1 154.5 112.5 148.9 112.8 158.7 113.2 157.6 113.5 155.9 113.9 158.6 114.2 160.6 114.6 160.7 114.9 160.3 115.3 159.1 115.6 155.9 116 159 116.3 154.4 116.7 159 117 151.6 117.4 156.8 117.7 158.6 118.1 160.6 118.4 160.7 118.8 160.5 119.1 160 119.5 160.5 119.8 158.8 120.2 160.2 120.5 151.3 120.9 158 121.2 159.4 121.6 153.4 121.9 158.8 122.3 158.6 122.6 158.3 123 159 123.3 160 123.7 159.9 124 159.8 124.4 158.1 124.7 159.6 125.1 155.2 125.4 159.8 125.8 150.3 126.1 155.6 126.5 154.9 126.8 159.6 127.2 159.6 127.5 159.1 127.9 160.4 128.2 160.4 128.6 159 128.9 157.7 129.3 157.7 129.6 153.8 130 153.8 130.3 156.8 130.7 157.1 131 157.5 131.4 160.1 131.7 159.1 132.1 160.7 132.4 161.3 132.8 160.9 133.1 161 133.5 160.9 133.8 161.1 134.2 160.9 134.5 161.5 134.9 159.7 135.2 159.9 135.6 159.5 135.9 160.5 136.3 161.1 136.6 161.4 137 161.6 137.3 160.2 137.7 161.2 138 161.4 138.4 157.2 138.7 160.3 139.1 158.9 139.4 160.7 139.8 159.3 140.1 158.8 140.5 157.4 140.8 160.9 141.2 160.2 141.5 161.3 141.9 160.8 142.2 159.6 142.6 161 142.9 160.8 143.3 161.2 143.6 158 144 159.4 144.3 157.3 144.7 158.9 145 159.5 145.4 161.7 145.7 161.2 146.1 161 146.4 160.7 146.8 160.4 147.1 156.7 147.5 154.5 147.8 152.7 148.2 152.7 148.5 159.6 148.9 160.4 149.2 158.4 149.6 160.5 149.9 161.5 150.3 160.9 150.6 160.3 151 160.7 151.3 158.3 151.7 157.6 152 158.3 152.4 151 152.7 159.1 153.1 155.5 153.4 157.6 153.8 155.1 154.1 160.6 154.5 160.9 154.8 161.1 155.2 161.4 155.5 161.3 155.9 161.4 156.2 159.6 156.6 160.7 156.9 157.6 157.3 159 157.6 157.1 158 161.6 158.3 161 158.7 159.8 159 160.8 159.4 161.5 159.7 161.5 160.1 161.7 160.4 161.2 160.8 161 161.1 161.4 161.5 160.8 161.8 160 162.2 159.7 162.5 160.9 162.9 160.3 163.2 161.3 163.6 161.3 163.9 161.4 164.3 161 164.6 160.7 165 160.9 165.3 161 165.7 159.2 166 160.5 166.4 160.3 166.7 159.2 167.1 160.5 167.4 160.5 167.8 160.2 168.1 160.4 168.5 161.1 168.8 160.6 169.2 160.5 169.5 159.5 169.9 158.5 170.2 158.8 170.6 158.7 170.9 158.2 171.3 155.2 171.6 159.2 172 159.3 172.3 159.3 172.7 160.7 173 161.7 173.4 161.6 173.7 158.8 174.1 161.4 174.4 160.8 174.8 160.5 175.1 158.6 175.5 161.5 175.8 160.2 176.2 159.4 176.5 161.3 176.9 161.5 177.2 161.8 177.6 161.6 177.9 160.7 178.3 160.5 178.6 159.2 179 158 179.3 155.8 179.7 159.5 180 161.7 180.4 160.8 180.7 160.3 181.1 157.8 181.4 159.5 181.8 160.5 182.1 161.2 182.5 161.1 182.8 161.1 183.2 160 183.5 158 183.9 156.5 184.2 159.3 184.6 155.4 184.9 158.6 185.3 159.2 185.6 160 186 159.3 186.3 161.4 186.7 161.6 187 160.8 187.4 161.5 187.7 160.2 188.1 157.4 188.4 159.7 188.8 159.9 189.1 157.8 189.5 157.5 189.8 159.6 190.2 158.2 190.5 161.2 190.9 161.1 191.2 161.5 191.6 161.5 191.9 161.4 192.3 161.4 192.6 161.3 193 160.5 193.3 160.1 193.7 160.6 194 161.5 194.4 160.6 194.7 161.1 195.1 160.8 195.4 161.6 195.8 161.5 196.1 161.3 196.5 160.9 196.8 160.9 197.2 159.6 197.5 158.3 197.9 159.5 198.2 159.8 198.6 159.9 198.9 159.4 199.3 160 199.6 160.6 200 159.5 200.3 160.6 200.7 160.4 201 160.1 201.4 159.6 201.7 160.5 202.1 157.8 202.4 160.7 202.8 159.5 203.1 158 203.5 158.9 203.8 161.3 204.2 160.8 204.5 159.7 204.9 161.9 205.2 161.9 205.6 160.6 205.9 159.3 206.3 159.7 206.6 156.7 207 159.6 207.3 155.7 207.7 160.7 208 159.7 208.4 159.2 208.7 161.7 209.1 160 209.4 161.5 209.8 160.2 210.1 160.1 210.5 160.1 210.8 159.3 211.2 160.3 211.5 158.8 211.9 157.3 212.2 161.3 212.6 160 212.9 159.6 213.3 160.9 213.6 160.8 214 160.9 214.3 159.4 214.7 159 215 157.6 215.4 158.2 215.7 152 216.1 156.7 216.4 158.3 216.8 160.3 217.1 159.1 217.5 160.3 217.8 159.8 218.2 160.4 218.5 160.4 218.9 159.7 219.2 159 219.6 158.2 219.9 160 220.3 157.6 220.6 160.2 221 158.9 221.3 160.5 221.7 160.5 222 160.5 222.4 160.1 222.7 157.9 223.1 160.7 223.4 160.7 223.8 160.2 224.1 159 224.5 157.5 224.8 160.6 225.2 156.5 225.5 156.3 225.9 160 226.2 160.9 226.6 160.1 226.9 161.3 227.3 161.2 227.6 159.4 228 160.2 228.3 159.5 228.7 159.5 229 160.7 229.4 156.4 229.7 160.8 230.1 159.2 230.4 159.4 230.8 159.8 231.1 159.4 231.5 160.7 231.8 160.7 232.2 159.8 232.5 159.2 232.9 158.9 233.2 158.6 233.6 159.3 233.9 153 234.3 158.9 234.6 160.1 235 155.3 235.3 158.5 235.7 159.7 236 160 236.4 160.2 236.7 158.8 237.1 160.4 237.4 155.5 237.8 158.2 238.1 159.3 238.5 153.6 238.8 158.9 239.2 152.5 239.5 159.2 239.9 159.1 240.2 160.4 240.6 160.4 240.9 159.8 241.3 160.4 241.6 159.2 242 159 242.3 160.3 242.7 152.6 243 159.5 243.4 153.5 243.7 159.2 244.1 158.7 244.4 156.6 244.8 159.4 245.1 160.2 245.5 160.6 245.8 159.8 246.2 157.5 246.5 159 246.9 159.1 247.2 160.2 247.6 154.7 247.9 159.9 248.3 159 248.6 160.9 249 160.2 249.3 157.8 249.7 161.6 250 161.2 250.4 161.5 250.7 158.5 251.1 161.6 251.4 156.4 251.8 151.2 252.1 148.5 252.5 152.2 252.8 157.7 253.2 156.1 253.5 158 253.9 161.2 254.2 159.8 254.6 161.5 254.9 161 255.3 160.8 255.6 161 256 161.1 256.3 159.1 256.7 160.5 257 157.9 257.4 159.3 257.7 159.2 258.1 159.8 258.4 160.1 258.8 161.1 259.1 161 259.5 161 259.8 160.7 260.2 160.8 260.5 159.2 260.9 156.8 261.2 159.7 261.6 156.9 261.9 159.6 262.3 159.9 262.6 160.4 263 160.9 263.3 160.1 263.7 160.7 264 159.7 264.4 156.2 264.7 157.2 265.1 152.6 265.4 149.3 265.8 153.2 266.1 154.5 266.5 156.1 266.8 156.5 267.2 158.2 267.5 160.7 267.9 160.7 268.2 161.1 268.6 157.7 268.9 160.4 269.3 158.6 269.6 156.8 270 154.8 270.3 158.3 270.7 157.7 271 156 271.4 158.1 271.7 159 272.1 160.6 272.4 158.2 272.8 160.4 273.1 160 273.5 160.4 273.8 158.3 274.2 160.4 274.5 156.5 274.9 158 275.2 157.7 275.6 159.5 275.9 160 276.3 160.2 276.6 160.9 277 161.1 277.3 160.9 277.7 160.8 278 160.5 278.4 160.4 278.7 159.5 279.1 159.6 279.4 161.1 279.8 159.4 280.1 160.7 280.5 160.1 280.8 160.9 281.2 161.2 281.5 161.8 281.9 161.7 282.2 160.9 282.6 161.3 282.9 161.7 283.3 161.4 283.6 161 284 160.8 284.3 159.4 284.7 160.8 285 160.5 285.4 161.4 285.7 161.6 286.1 161.7 286.4 161.8 286.8 161.3 287.1 161.5 287.5 159.9 287.8 160.8 288.2 160.7 288.5 160.2 288.9 160.1 289.2 161.1 289.6 160.8 289.9 161.7 290.3 161.8 290.6 160.4 291 161.9 291.3 161.4 291.7 161.6 292 161.7 292.4 160.8 292.7 160.2 293.1 161.6 293.4 160.2 293.8 160.6 294.1 161.1 294.5 161.4 294.8 161.1 295.2 160.9 295.5 161.1 295.9 160.8 296.2 160.8 296.6 159.3 296.9 157 297.3 159.2 297.6 156.9 298 159.4 298.3 158.7 298.7 160.7 299 160.5 299.4 160.8 299.7 160.7 300.1 159.9 300.4 161 300.8 158.5 301.1 159.2 301.5 158.3 301.8 159.9 302.2 161 302.5 161.2 302.9 158.9 303.2 159.1 303.6 158.7 303.9 161 304.3 157.7 304.6 160 305 159.6 305.3 159.8 305.7 156.7 306 154.7 306.4 156.2 306.7 153.4 307.1 160.6 307.4 158.6 307.8 157.4 308.1 160.6 308.5 160.8 308.8 160.5 309.2 159.5 309.5 157.7 309.9 160.5 310.2 158.6 310.6 157.1 310.9 149.8 311.3 153 311.6 158.4 312 159.2 312.3 159 312.7 158.7 313 160.4 313.4 160.6 313.7 159.1 314.1 159 314.4 151.9 314.8 158.9 315.1 157.2 315.5 152.7 315.8 158.1 316.2 158 316.5 158.8 316.9 160.4 317.2 158.3 317.6 160.4 317.9 160.7 318.3 160.2 318.6 159.5 319 160.1 319.3 160.2 319.7 156.4 320 159.6 320.4 153.4 320.7 158.6 321.1 160.8 321.4 161 321.8 160 322.1 161.3 322.5 161.5 322.8 161.4 323.2 161.5 323.5 160.8 323.9 160.2 324.2 156.5 324.6 161.1 324.9 159 325.3 160 325.6 159.9 326 160.6 326.3 161 326.7 160.8 327 161.1 327.4 160.1 327.7 158.8 328.1 158.8 328.4 155.8 328.8 160.2 329.1 156.7 329.5 157.4 329.8 160.5 330.2 160.1 330.5 160.5 330.9 160.9 331.2 160.7 331.6 160.8 331.9 161.4 332.3 158.9 332.6 156.4 333 160.9 333.3 158.9 333.7 157.9 334 159.6 334.4 160.9 334.7 158.5 335.1 159.3 335.4 161.1 335.8 161.4 336.1 161.3 336.5 159.4 336.8 160.2 337.2 158.2 337.5 153 337.9 161.1 338.2 155.9 338.6 159.2 338.9 160.6 339.3 159.3 339.6 158.1 340 159.3 340.3 160.4 340.7 160.3 341 160 341.4 160.6 341.7 156.5 342.1 155.3 342.4 160.3 342.8 151.4 343.1 158.3 343.5 154.1 343.8 159.1 344.2 160 344.5 160.7 344.9 160.3 345.2 159.6 345.6 159.1 345.9 159.3 346.3 159.6 346.6 156.7 347 157.4 347.3 155.9 347.7 151.1 348 158.3 348.4 160.1 348.7 158.4 349.1 160.5 349.4 161.1 349.8 160.4 350.1 160.3 350.5 158.4 350.8 160.3 351.2 157.4 351.5 156.6 351.9 158.3 352.2 158.2 352.6 159.1 352.9 158.6 353.3 160.9 353.6 160.5 354 160.5 354.3 160.3 354.7 159.8 355 159.4 355 166.2 354.7 165.2 354.3 164.5 354 164.6 353.6 164.3 353.3 164.8 352.9 165.8 352.6 168.5 352.2 167.8 351.9 165.7 351.5 166.5 351.2 164.4 350.8 167.5 350.5 165.3 350.1 165.9 349.8 164.6 349.4 164.5 349.1 166.2 348.7 167.1 348.4 168.1 348 164.3 347.7 168.1 347.3 168.8 347 166.5 346.6 169.4 346.3 169 345.9 167.8 345.6 166.3 345.2 164.7 344.9 164 344.5 164.7 344.2 166 343.8 164.5 343.5 166.3 343.1 170 342.8 165.6 342.4 168 342.1 167.1 341.7 164.4 341.4 167.2 341 165 340.7 165.7 340.3 165.1 340 165.4 339.6 164.5 339.3 167.9 338.9 167.1 338.6 166.6 338.2 167 337.9 169 337.5 164.4 337.2 170.4 336.8 164.8 336.5 166.1 336.1 164.4 335.8 164.1 335.4 165.2 335.1 165.2 334.7 163.9 334.4 164 334 170.7 333.7 168 333.3 170.1 333 167.8 332.6 167.8 332.3 166.8 331.9 165.4 331.6 164 331.2 164 330.9 164.4 330.5 164.1 330.2 167.9 329.8 167.1 329.5 167.8 329.1 168.5 328.8 171 328.4 167.7 328.1 165.7 327.7 164.6 327.4 166.1 327 164.6 326.7 164.2 326.3 164.9 326 164.5 325.6 166.6 325.3 163.8 324.9 167.7 324.6 168.6 324.2 164.2 323.9 166.4 323.5 166.2 323.2 164.3 322.8 163.8 322.5 163.5 322.1 164 321.8 164.5 321.4 165.2 321.1 165.2 320.7 166.1 320.4 163.7 320 168.1 319.7 165.6 319.3 167.7 319 165.8 318.6 165.3 318.3 164.4 317.9 164.7 317.6 165 317.2 164.9 316.9 164.8 316.5 168.1 316.2 166 315.8 165.6 315.5 167.5 315.1 168.6 314.8 169.4 314.4 165.1 314.1 166.8 313.7 167.5 313.4 164.5 313 165.1 312.7 165.4 312.3 164.2 312 168 311.6 165.1 311.3 166 310.9 172.6 310.6 174.5 310.2 168.6 309.9 169 309.5 164.8 309.2 165.5 308.8 164.7 308.5 164.8 308.1 165.5 307.8 165 307.4 168.8 307.1 169.2 306.7 170.8 306.4 177.5 306 165.3 305.7 169.5 305.3 166.1 305 164.5 304.6 166.8 304.3 164.3 303.9 165.1 303.6 164.7 303.2 167.5 302.9 166.8 302.5 170.1 302.2 166.1 301.8 166 301.5 170.1 301.1 166.4 300.8 165.1 300.4 165.2 300.1 164.9 299.7 164.8 299.4 164.4 299 165.4 298.7 165 298.3 164.8 298 169.7 297.6 165.7 297.3 166 296.9 165.5 296.6 166 296.2 165.1 295.9 164.2 295.5 164.4 295.2 164.2 294.8 164 294.5 163.9 294.1 164.2 293.8 164.1 293.4 165.9 293.1 164.9 292.7 165.8 292.4 164.4 292 163.8 291.7 164.5 291.3 163.6 291 163.3 290.6 163.3 290.3 163.5 289.9 163.8 289.6 163.9 289.2 164.9 288.9 164.9 288.5 163.4 288.2 165.2 287.8 164 287.5 164 287.1 163.6 286.8 163.5 286.4 163.5 286.1 163.5 285.7 163.7 285.4 163.6 285 163.5 284.7 164.8 284.3 165.1 284 166 283.6 164.6 283.3 165.8 282.9 163.4 282.6 163.4 282.2 164.5 281.9 163.6 281.5 163.6 281.2 163.9 280.8 164.8 280.5 165.4 280.1 164.5 279.8 164.3 279.4 164.4 279.1 167.8 278.7 164.8 278.4 164.2 278 164.7 277.7 164.2 277.3 164 277 164 276.6 164.9 276.3 165.6 275.9 165.4 275.6 165.6 275.2 165.5 274.9 166.8 274.5 168 274.2 168.8 273.8 165.9 273.5 166.7 273.1 164.9 272.8 164.4 272.4 164.2 272.1 164.8 271.7 166.5 271.4 166.3 271 166.8 270.7 166.8 270.3 173.1 270 165.7 269.6 166 269.3 166.3 268.9 164.7 268.6 165 268.2 164.4 267.9 164.7 267.5 164.5 267.2 168 266.8 169.6 266.5 165.1 266.1 165.8 265.8 165.2 265.4 175.6 265.1 167.3 264.7 168.5 264.4 166.9 264 166.9 263.7 165.8 263.3 165 263 165.3 262.6 165.3 262.3 166.2 261.9 166.4 261.6 165.8 261.2 164.9 260.9 167.3 260.5 165.9 260.2 164.9 259.8 164 259.5 164 259.1 164.5 258.8 164.1 258.4 165 258.1 165 257.7 165.4 257.4 167.7 257 164.8 256.7 169.9 256.3 169.6 256 164.5 255.6 165.6 255.3 163.6 254.9 164.6 254.6 164 254.2 164.9 253.9 165.2 253.5 168.6 253.2 171.1 252.8 167.3 252.5 164.7 252.1 172.5 251.8 169.8 251.4 166.8 251.1 164.1 250.7 165.5 250.4 165.4 250 164 249.7 163.5 249.3 164.5 249 164.3 248.6 164.8 248.3 165.7 247.9 167.7 247.6 167.6 247.2 169.5 246.9 165.3 246.5 166.2 246.2 164.6 245.8 165 245.5 164.8 245.1 165.7 244.8 167 244.4 165.9 244.1 168 243.7 172.9 243.4 168.1 243 169.5 242.7 166.6 242.3 172.2 242 170.5 241.6 165.2 241.3 166.4 240.9 165.5 240.6 164.8 240.2 167.2 239.9 168.8 239.5 167.1 239.2 166.9 238.8 164.9 238.5 172.7 238.1 167.1 237.8 164.6 237.4 167.1 237.1 166.3 236.7 166 236.4 165.8 236 165.2 235.7 164.9 235.3 166.3 235 169.1 234.6 169.2 234.3 168.2 233.9 171.4 233.6 167.5 233.2 166.8 232.9 169.5 232.5 166 232.2 165.3 231.8 164.8 231.5 164.3 231.1 165.3 230.8 165.2 230.4 164.8 230.1 164.9 229.7 167.2 229.4 166.6 229 169.1 228.7 164.9 228.3 164.8 228 164.1 227.6 166.3 227.3 164.6 226.9 164.2 226.6 164.5 226.2 164.7 225.9 166.4 225.5 167 225.2 167.4 224.8 169.2 224.5 166.2 224.1 164.8 223.8 165.5 223.4 165 223.1 165.7 222.7 164.2 222.4 164.7 222 165.1 221.7 165.5 221.3 167.1 221 165.8 220.6 167.7 220.3 166.1 219.9 165.3 219.6 164.5 219.2 165.5 218.9 165.3 218.5 164 218.2 164.5 217.8 164.5 217.5 164.7 217.1 166 216.8 165.4 216.4 173 216.1 164 215.7 165.8 215.4 164.5 215 168.8 214.7 165.5 214.3 165.3 214 164.2 213.6 164.2 213.3 164.8 212.9 164.3 212.6 164.7 212.2 164 211.9 172.3 211.5 166.7 211.2 168.4 210.8 166.4 210.5 164.3 210.1 165 209.8 165.4 209.4 163.7 209.1 163.7 208.7 164.6 208.4 163.5 208 165.6 207.7 168.7 207.3 164.4 207 168.6 206.6 163.6 206.3 167 205.9 164 205.6 164.1 205.2 163.7 204.9 163.3 204.5 163.7 204.2 164.1 203.8 163.8 203.5 165.2 203.1 164.8 202.8 165.5 202.4 168 202.1 167.7 201.7 165.6 201.4 164.8 201 165.3 200.7 164.9 200.3 164.9 200 164.4 199.6 164.3 199.3 164.7 198.9 164.3 198.6 164.4 198.2 165.2 197.9 164.5 197.5 166.3 197.2 164.4 196.8 165.6 196.5 163.6 196.1 163.9 195.8 163.9 195.4 163.8 195.1 163.7 194.7 164.6 194.4 163.7 194 164.1 193.7 164.1 193.3 165.4 193 164 192.6 164.6 192.3 163.5 191.9 164.3 191.6 163.6 191.2 163.6 190.9 163.9 190.5 164.9 190.2 166.2 189.8 165.8 189.5 167.6 189.1 164.3 188.8 167.6 188.4 167.4 188.1 164.1 187.7 164.5 187.4 164.8 187 163.9 186.7 164 186.3 164 186 164.1 185.6 165.1 185.3 165.1 184.9 169 184.6 168.2 184.2 163.9 183.9 167.3 183.5 164.6 183.2 166.8 182.8 165.8 182.5 164.7 182.1 163.7 181.8 164.4 181.4 164.5 181.1 166.9 180.7 166.4 180.4 164.9 180 168.2 179.7 165.4 179.3 164.7 179 166.3 178.6 166.6 178.3 165.6 177.9 163.7 177.6 163.7 177.2 164.1 176.9 163.7 176.5 165.2 176.2 165.6 175.8 165.8 175.5 168.8 175.1 171.3 174.8 165.3 174.4 165.6 174.1 164.2 173.7 164.7 173.4 164.1 173 163.5 172.7 163.8 172.3 163.7 172 166.4 171.6 165.1 171.3 166.7 170.9 164.7 170.6 170.5 170.2 166.7 169.9 164.7 169.5 165.4 169.2 165.6 168.8 164.3 168.5 164 168.1 164.4 167.8 164.5 167.4 164.4 167.1 165.6 166.7 165.8 166.4 166.7 166 165.5 165.7 165.8 165.3 164.9 165 164.3 164.6 164 164.3 164 163.9 164 163.6 164.2 163.2 164.2 162.9 164.4 162.5 164.2 162.2 163.7 161.8 166.6 161.5 163.6 161.1 163.6 160.8 165.3 160.4 163.5 160.1 163.9 159.7 163.5 159.4 163.9 159 165.5 158.7 164.7 158.3 163.8 158 167.4 157.6 164 157.3 165.7 156.9 167.4 156.6 164.4 156.2 164.8 155.9 164.3 155.5 164.1 155.2 163.9 154.8 164.4 154.5 164.2 154.1 164.6 153.8 165.8 153.4 165.5 153.1 165.6 152.7 172.2 152.4 164.5 152 166.6 151.7 167.6 151.3 165.8 151 164.2 150.6 164.7 150.3 164 149.9 164.1 149.6 165.6 149.2 168.7 148.9 166.9 148.5 166.9 148.2 164.4 147.8 166.5 147.5 169.6 147.1 164.6 146.8 165.1 146.4 163.9 146.1 164.2 145.7 164.3 145.4 163.6 145 165.9 144.7 165.7 144.3 165 144 166.5 143.6 169.8 143.3 169.3 142.9 164.3 142.6 165 142.2 164.4 141.9 165.4 141.5 164.1 141.2 164 140.8 165.9 140.5 167.9 140.1 168 139.8 165.7 139.4 164 139.1 171 138.7 168.6 138.4 165 138 168.8 137.7 163.8 137.3 163.9 137 163.9 136.6 163.9 136.3 163.9 135.9 165 135.6 165.7 135.2 167.2 134.9 163.5 134.5 167.5 134.2 164.8 133.8 164.2 133.5 164.4 133.1 165 132.8 164.1 132.4 164.2 132.1 165 131.7 165.1 131.4 165.2 131 164.9 130.7 168.6 130.3 169.2 130 166.2 129.6 166.1 129.3 164.9 128.9 167.2 128.6 165.4 128.2 165.2 127.9 165.5 127.5 165.1 127.2 165.1 126.8 165.4 126.5 166.9 126.1 176.4 125.8 176.5 125.4 177.7 125.1 169 124.7 169.6 124.4 165 124 165.7 123.7 168 123.3 165 123 167.5 122.6 164.9 122.3 166.3 121.9 166.8 121.6 174.2 121.2 165.2 120.9 175.8 120.5 169.2 120.2 166 119.8 167.5 119.5 165.6 119.1 164.5 118.8 164.7 118.4 165.8 118.1 167.1 117.7 167.6 117.4 168.3 117 168.7 116.7 174.7 116.3 164.9 116 169.2 115.6 168.9 115.3 168.5 114.9 166.8 114.6 164.4 114.2 165 113.9 164.9 113.5 165.1 113.2 166.1 112.8 171 112.5 171.3 112.1 171.6 111.8 166.9 111.4 168.3 111.1 165.9 110.7 166.3 110.4 166.9 110 165.5 109.7 165.6 109.3 165 109 164.5 108.6 165.4 108.3 173.2 107.9 169.3 107.6 169.6 107.2 168.6 106.9 168.1 106.5 165.1 106.2 166.3 105.8 164.5 105.5 164.6 105.1 164.4 104.8 164.2 104.4 164.9 104.1 164.7 103.7 166.3 103.4 164.3 103 165.9 102.7 167.5 102.3 168.1 102 164.6 101.6 165.8 101.3 164.6 100.9 165.1 100.6 166 100.2 165.2 99.9 168.3 99.5 167.1 99.2 166.7 98.8 173 98.5 165.5 98.1 166.9 97.8 166.1 97.4 168.2 97.1 167.2 96.7 166.9 96.4 165.6 96 166.2 95.7 166.3 95.3 165.5 95 165.8 94.6 165.1 94.3 167.3 93.9 167.7 93.6 167.1 93.2 164.6 92.9 164.9 92.5 164.6 92.2 165.2 91.8 164.2 91.5 164.6 91.1 165.8 90.8 165.1 90.4 171.4 90.1 172.4 89.7 175.7 89.4 175.5 89 165.1 88.7 166.4 88.3 168 88 166.3 87.6 164.8 87.3 164.6 86.9 164.4 86.6 165 86.2 165.4 85.9 170.1 85.5 172.1 85.2 173 84.8 170.1 84.5 165.1 84.1 166.6 83.8 164.1 83.4 164.9 83.1 166.7 82.7 164 82.4 164 82 164.1 81.7 164.4 81.3 165.5 81 166.7 80.6 166.8 80.3 164.9 79.9 166.2 79.6 166.9 79.2 164.7 78.9 164.1 78.5 167.8 78.2 164.5 77.8 164.8 77.5 165.9 77.1 165.1 76.8 164.2 76.4 165.4 76.1 172.2 75.7 169.9 75.4 165.7 75 170.1 74.7 165.9 74.3 166.1 74 164.6 73.6 164.9 73.3 165.5 72.9 165.1 72.6 166.5 72.2 165.8 71.9 167 71.5 168.9 71.2 167.5 70.8 166.3 70.5 165 70.1 165.5 69.8 164.6 69.4 164.5 69.1 163.9 68.7 164.4 68.4 164.2 68 165.2 67.7 167.4 67.3 166.2 67 167 66.6 169.1 66.3 165.5 65.9 164.8 65.6 165.8 65.2 164.2 64.9 164.9 64.5 164.8 64.2 163.8 63.8 167.1 63.5 165.7 63.1 171.3 62.8 169.3 62.4 168.1 62.1 164.5 61.7 164 61.4 167 61 167.1 60.7 163.5 60.3 163.6 60 164.5 59.6 164.1 59.3 166.7 58.9 167.6 58.6 165.2 58.2 164.8 57.9 164.1 57.5 167.6 57.2 167 56.8 164.7 56.5 165.7 56.1 167.7 55.8 164.7 55.4 167.1 55.1 165.3 54.7 165.6 54.4 168.4 54 164.6 53.7 172.5 53.3 164.8 53 169.4 52.6 167.7 52.3 165.5 51.9 164.6 51.6 165.1 51.2 164.2 50.9 165 50.5 165.7 50.2 164.5 49.8 168.2 49.5 165.8 49.1 169.9 48.8 175.6 48.4 165.6 48.1 164.7 47.7 169 47.4 165.7 47 165.1 46.7 165.1 46.3 165.1 46 165.7 45.6 164.9 45.3 164.5 44.9 165.6 44.6 164.5 44.2 167.5 43.9 165.8 43.5 165.7 43.2 164.6 42.8 165.4 42.5 164.5 42.1 163.8 41.8 163.9 41.4 165 41.1 163.6 40.7 163.8 40.4 163.7 40 164.1 39.7 165.2 39.3 164.1 39 164.5 38.6 163.9Z" fill="#6a51b2" stroke="#6a51b2" stroke-width="0.4" stroke-linejoin="round" clip-path="url(#lc12)"/>
<rect x="38.4" y="145" width="317" height="37.3" fill="none" stroke="#2b2b2b" stroke-width="1.1"/>
<text transform="translate(196.9,203.8) scale(0.98,1.07)" font-size="12" text-anchor="middle" fill="#1e1e1e" >IMF4</text>
<text transform="translate(32.9,212.7) scale(0.96,1.13)" font-size="11.5" text-anchor="end" fill="#1e1e1e" >10</text>
<text transform="translate(32.9,229.4) scale(0.96,1.13)" font-size="11.5" text-anchor="end" fill="#1e1e1e" >0</text>
<text transform="translate(32.9,245.7) scale(0.96,1.13)" font-size="11.5" text-anchor="end" fill="#1e1e1e" >−10</text>
<line x1="38.4" y1="217.2" x2="40.4" y2="217.2" stroke="#2b2b2b" stroke-width="0.9"/>
<line x1="355.4" y1="217.2" x2="353.4" y2="217.2" stroke="#2b2b2b" stroke-width="0.9"/>
<line x1="38.4" y1="225.4" x2="42.6" y2="225.4" stroke="#2b2b2b" stroke-width="0.9"/>
<line x1="355.4" y1="225.4" x2="351.2" y2="225.4" stroke="#2b2b2b" stroke-width="0.9"/>
<line x1="38.4" y1="233.7" x2="40.4" y2="233.7" stroke="#2b2b2b" stroke-width="0.9"/>
<line x1="355.4" y1="233.7" x2="353.4" y2="233.7" stroke="#2b2b2b" stroke-width="0.9"/>
<line x1="38.4" y1="241.9" x2="42.6" y2="241.9" stroke="#2b2b2b" stroke-width="0.9"/>
<line x1="355.4" y1="241.9" x2="351.2" y2="241.9" stroke="#2b2b2b" stroke-width="0.9"/>
<line x1="85.5" y1="245" x2="85.5" y2="242.8" stroke="#2b2b2b" stroke-width="0.9"/>
<line x1="132.6" y1="245" x2="132.6" y2="242.8" stroke="#2b2b2b" stroke-width="0.9"/>
<line x1="179.7" y1="245" x2="179.7" y2="242.8" stroke="#2b2b2b" stroke-width="0.9"/>
<line x1="226.8" y1="245" x2="226.8" y2="242.8" stroke="#2b2b2b" stroke-width="0.9"/>
<line x1="273.8" y1="245" x2="273.8" y2="242.8" stroke="#2b2b2b" stroke-width="0.9"/>
<line x1="320.9" y1="245" x2="320.9" y2="242.8" stroke="#2b2b2b" stroke-width="0.9"/>
<path d="M38.6 225 39 224.5 39.3 222.6 39.7 222.4 40 221.8 40.4 223.9 40.7 224.8 41.1 224.9 41.4 224.9 41.8 225.2 42.1 224.8 42.5 224.8 42.8 224.1 43.2 224.9 43.5 224.4 43.9 216.4 44.2 213.5 44.6 223.4 44.9 221.3 45.3 224.7 45.6 224.8 46 224.8 46.3 224.8 46.7 224.4 47 224.3 47.4 224.6 47.7 223.9 48.1 223.9 48.4 222.9 48.8 223.9 49.1 221.3 49.5 222.4 49.8 224.1 50.2 224.6 50.5 224.1 50.9 224.4 51.2 224.2 51.6 224.2 51.9 224.2 52.3 224.5 52.6 224.3 53 214.1 53.3 220 53.7 214.7 54 221.3 54.4 223.9 54.7 224.7 55.1 224.5 55.4 224.7 55.8 224.6 56.1 224.9 56.5 224.7 56.8 224.7 57.2 223.4 57.5 224 57.9 221.4 58.2 224.2 58.6 223.3 58.9 224.7 59.3 225.1 59.6 224.9 60 224.9 60.3 224.9 60.7 224.7 61 224.8 61.4 224.3 61.7 222.1 62.1 217.6 62.4 212.8 62.8 214.9 63.1 224 63.5 224.2 63.8 224.7 64.2 224.9 64.5 224.9 64.9 225.1 65.2 224.8 65.6 225.1 65.9 224.8 66.3 222.9 66.6 222.2 67 222 67.3 221.8 67.7 224.1 68 224.8 68.4 224.9 68.7 225.1 69.1 224.9 69.4 224.9 69.8 225.2 70.1 225.1 70.5 225 70.8 223.2 71.2 220.5 71.5 225 71.9 222.3 72.2 224.8 72.6 225.4 72.9 225.3 73.3 225.4 73.6 225.4 74 225.3 74.3 225.4 74.7 225.3 75 225.2 75.4 222.1 75.7 219.7 76.1 220.7 76.4 221.5 76.8 225 77.1 225.1 77.5 225.1 77.8 225.2 78.2 225.1 78.5 225.1 78.9 225.1 79.2 225 79.6 224.9 79.9 222.2 80.3 223.5 80.6 224.3 81 222.7 81.3 224.1 81.7 224.6 82 224.7 82.4 224.6 82.7 224.7 83.1 224.6 83.4 223.2 83.8 224.5 84.1 223.8 84.5 222.8 84.8 218.4 85.2 221.5 85.5 222.1 85.9 223.9 86.2 224.7 86.6 224.8 86.9 224.8 87.3 224.7 87.6 224.5 88 224.5 88.3 224.4 88.7 224.5 89 224.3 89.4 218.4 89.7 218 90.1 223.2 90.4 224.1 90.8 224.5 91.1 224.2 91.5 224.3 91.8 224.3 92.2 224.5 92.5 224.2 92.9 223.2 93.2 224.1 93.6 219.8 93.9 218 94.3 223.7 94.6 222.4 95 224 95.3 224.3 95.7 224.2 96 224.4 96.4 224.7 96.7 224.8 97.1 224.5 97.4 224.4 97.8 223.1 98.1 220.3 98.5 221.7 98.8 221.1 99.2 224.2 99.5 224.7 99.9 224.9 100.2 225 100.6 224.6 100.9 224.7 101.3 224.7 101.6 224.6 102 224.8 102.3 223.5 102.7 220.1 103 219.8 103.4 221.1 103.7 224.1 104.1 224.4 104.4 224.4 104.8 224.6 105.1 224.7 105.5 224.5 105.8 224.3 106.2 224.5 106.5 224.4 106.9 224 107.2 218.7 107.6 224.4 107.9 220.3 108.3 223.8 108.6 224.4 109 224.7 109.3 224.8 109.7 224.6 110 224.4 110.4 224.7 110.7 224.5 111.1 224.2 111.4 220.3 111.8 223.2 112.1 223.7 112.5 213.4 112.8 224.1 113.2 224.2 113.5 224.7 113.9 224.4 114.2 224.7 114.6 224.7 114.9 224.9 115.3 224.8 115.6 224.7 116 221.3 116.3 224.5 116.7 216.6 117 224.3 117.4 224.2 117.7 224.9 118.1 225.1 118.4 225.1 118.8 224.3 119.1 225 119.5 225.2 119.8 225.1 120.2 224.7 120.5 223.7 120.9 224 121.2 221.6 121.6 222.3 121.9 224.6 122.3 224.6 122.6 224.7 123 224.6 123.3 224.7 123.7 224.8 124 224.7 124.4 224.9 124.7 224.5 125.1 223 125.4 218.8 125.8 221.1 126.1 220.9 126.5 225 126.8 225.2 127.2 225.1 127.5 225.2 127.9 225.2 128.2 225.3 128.6 225.2 128.9 225.2 129.3 225.2 129.6 224.8 130 224.1 130.3 224.6 130.7 224.4 131 224.7 131.4 225.1 131.7 225 132.1 225 132.4 225 132.8 225 133.1 225 133.5 224.3 133.8 224.9 134.2 222.8 134.5 224.2 134.9 223 135.2 224.7 135.6 224.7 135.9 224.9 136.3 223.8 136.6 225 137 224.8 137.3 224.8 137.7 224.8 138 224.8 138.4 224.1 138.7 224.3 139.1 223.2 139.4 224.9 139.8 224.7 140.1 224.8 140.5 225.1 140.8 224.8 141.2 224.9 141.5 224.9 141.9 225 142.2 224.2 142.6 225 142.9 224.3 143.3 223.9 143.6 223.8 144 224.8 144.3 224.9 144.7 224.8 145 224.9 145.4 225.1 145.7 224.9 146.1 224.9 146.4 224.9 146.8 225 147.1 224.6 147.5 223 147.8 218.4 148.2 208.3 148.5 219.9 148.9 223.4 149.2 224.4 149.6 224.4 149.9 224.5 150.3 224.9 150.6 224.8 151 224.7 151.3 225 151.7 224.6 152 224.6 152.4 224.2 152.7 222 153.1 214.6 153.4 221.2 153.8 224.8 154.1 224.7 154.5 225 154.8 224.8 155.2 224.8 155.5 224.7 155.9 224.9 156.2 224.4 156.6 220.8 156.9 223.4 157.3 213.5 157.6 221.8 158 224.7 158.3 224.3 158.7 224.8 159 224.6 159.4 224.9 159.7 225 160.1 224.7 160.4 225 160.8 225.1 161.1 224.8 161.5 224.9 161.8 223.9 162.2 222.9 162.5 224.9 162.9 225 163.2 225 163.6 224.8 163.9 225.1 164.3 224.8 164.6 224.9 165 224.9 165.3 224.8 165.7 224.8 166 222.3 166.4 220.9 166.7 219.4 167.1 223.5 167.4 224.5 167.8 224.5 168.1 224.4 168.5 224.7 168.8 224.5 169.2 224.8 169.5 224.8 169.9 224.9 170.2 224.6 170.6 214.3 170.9 222.4 171.3 217.8 171.6 224.2 172 224.8 172.3 225.2 172.7 225.2 173 225.3 173.4 224.1 173.7 224 174.1 225.2 174.4 224 174.8 224 175.1 222.6 175.5 224.9 175.8 223.6 176.2 224.4 176.5 225.1 176.9 225.1 177.2 225.1 177.6 225 177.9 224.9 178.3 224.7 178.6 224.6 179 224.2 179.3 222.7 179.7 218.1 180 224.6 180.4 218.7 180.7 223 181.1 224.7 181.4 224.6 181.8 224.6 182.1 224.5 182.5 224.5 182.8 224.6 183.2 224.6 183.5 223.5 183.9 223.2 184.2 222 184.6 221.3 184.9 223.7 185.3 223.8 185.6 224.3 186 224.4 186.3 224.5 186.7 224.8 187 224.6 187.4 224.8 187.7 224.8 188.1 224.7 188.4 224.9 188.8 221.2 189.1 222.4 189.5 223.1 189.8 224.1 190.2 225.1 190.5 225 190.9 225.1 191.2 225.2 191.6 225.1 191.9 225.2 192.3 225.1 192.6 224.5 193 224.3 193.3 224.7 193.7 219.5 194 223.9 194.4 225 194.7 225.2 195.1 225.2 195.4 224.6 195.8 224.9 196.1 225.2 196.5 225.2 196.8 224.9 197.2 224 197.5 224.9 197.9 224 198.2 223.9 198.6 223.7 198.9 223.9 199.3 224.8 199.6 224.8 200 224.8 200.3 224.6 200.7 225 201 224.8 201.4 224.2 201.7 222 202.1 220.4 202.4 219.1 202.8 221.4 203.1 221 203.5 223.8 203.8 224.5 204.2 224.3 204.5 224.4 204.9 224.4 205.2 224.5 205.6 224.6 205.9 224.5 206.3 221.6 206.6 215.2 207 217 207.3 214.3 207.7 220.7 208 224.8 208.4 224.5 208.7 224.8 209.1 224.9 209.4 224.5 209.8 223.8 210.1 224.5 210.5 224.6 210.8 224.4 211.2 213.3 211.5 213.3 211.9 215.9 212.2 221.1 212.6 224.8 212.9 224.6 213.3 224.8 213.6 224.5 214 224.4 214.3 224.7 214.7 224.4 215 224.5 215.4 223.6 215.7 220.8 216.1 222.6 216.4 222.9 216.8 220.7 217.1 224.2 217.5 224.3 217.8 224.4 218.2 224.4 218.5 224.2 218.9 224.4 219.2 224.1 219.6 224.1 219.9 220.6 220.3 220 220.6 222.2 221 221.5 221.3 221.4 221.7 224.5 222 224.2 222.4 224.7 222.7 224.6 223.1 224.8 223.4 224.6 223.8 224.8 224.1 224.4 224.5 222 224.8 219.8 225.2 221.2 225.5 217.7 225.9 223.9 226.2 224.7 226.6 225 226.9 224.8 227.3 225 227.6 224.9 228 224.8 228.3 224.9 228.7 224.8 229 224.7 229.4 220.4 229.7 220.8 230.1 224.9 230.4 224.5 230.8 225.1 231.1 225.2 231.5 225.3 231.8 225.2 232.2 223.8 232.5 225.2 232.9 225 233.2 224 233.6 222.2 233.9 222.7 234.3 223.3 234.6 220.5 235 225.3 235.3 225.3 235.7 225.2 236 225.3 236.4 225.1 236.7 225.2 237.1 225.1 237.4 225.1 237.8 224.5 238.1 224.2 238.5 215.1 238.8 219.7 239.2 224.7 239.5 224.5 239.9 224.8 240.2 224.7 240.6 224.9 240.9 224.8 241.3 224.7 241.6 225 242 224.9 242.3 224.1 242.7 222.5 243 222.8 243.4 221.9 243.7 224.6 244.1 224.6 244.4 224.8 244.8 225 245.1 225 245.5 225 245.8 225.2 246.2 225.1 246.5 224.9 246.9 224.5 247.2 224.7 247.6 219.8 247.9 217.8 248.3 223.8 248.6 224.7 249 225 249.3 225.2 249.7 225.1 250 224.9 250.4 225 250.7 225 251.1 225.1 251.4 224.7 251.8 223.4 252.1 219.2 252.5 223.2 252.8 224.5 253.2 224.1 253.5 224.9 253.9 224.9 254.2 224.6 254.6 224.8 254.9 224.8 255.3 224.6 255.6 223.6 256 224.3 256.3 218.7 256.7 224 257 224.6 257.4 222.7 257.7 224.5 258.1 224.4 258.4 224.8 258.8 224.8 259.1 224.7 259.5 224.4 259.8 224.7 260.2 224.3 260.5 223.5 260.9 219.6 261.2 221.5 261.6 219.6 261.9 224.4 262.3 224.4 262.6 224.8 263 224.6 263.3 224.7 263.7 224.7 264 224.6 264.4 224.7 264.7 224.5 265.1 222 265.4 217.1 265.8 217.8 266.1 221.3 266.5 223.8 266.8 224.2 267.2 224.6 267.5 224.7 267.9 224.7 268.2 225 268.6 224.8 268.9 224.6 269.3 224.2 269.6 222.2 270 221.3 270.3 210.5 270.7 221.2 271 223.2 271.4 224.7 271.7 224.5 272.1 222.9 272.4 224.5 272.8 224.8 273.1 223.8 273.5 224.6 273.8 224.4 274.2 224.3 274.5 221.2 274.9 221.5 275.2 224.2 275.6 224.5 275.9 224.2 276.3 224.6 276.6 224.7 277 224.9 277.3 224.7 277.7 225 278 224.9 278.4 224.6 278.7 224.9 279.1 219 279.4 222.6 279.8 220.2 280.1 224 280.5 224.9 280.8 225 281.2 224.7 281.5 225 281.9 224.7 282.2 224.8 282.6 224.7 282.9 223.1 283.3 224.9 283.6 221.5 284 216.6 284.3 222.6 284.7 224.3 285 224.7 285.4 224.8 285.7 224.8 286.1 224.8 286.4 224.9 286.8 225 287.1 224.8 287.5 224.4 287.8 224 288.2 224.2 288.5 219.6 288.9 223.9 289.2 224.1 289.6 224.5 289.9 224.9 290.3 224.5 290.6 224.8 291 224.7 291.3 224.3 291.7 223.1 292 223.4 292.4 219.4 292.7 222.8 293.1 217.4 293.4 220.3 293.8 223.6 294.1 224.2 294.5 224.5 294.8 224.4 295.2 223.8 295.5 224.3 295.9 224.2 296.2 223.8 296.6 223.6 296.9 223 297.3 219.2 297.6 211.9 298 219.9 298.3 223.7 298.7 224.1 299 223.9 299.4 224.3 299.7 224.3 300.1 224 300.4 224.2 300.8 224.2 301.1 224.2 301.5 224.5 301.8 215.6 302.2 216.8 302.5 221.2 302.9 224 303.2 224.4 303.6 224.8 303.9 224.7 304.3 224.8 304.6 223.5 305 224.8 305.3 224.2 305.7 220.8 306 223 306.4 206.4 306.7 223 307.1 224.5 307.4 224.1 307.8 224.7 308.1 224.6 308.5 224.8 308.8 224.8 309.2 225.1 309.5 224.8 309.9 224.9 310.2 224.3 310.6 221.2 310.9 224.2 311.3 222.3 311.6 221.6 312 224.3 312.3 225 312.7 225 313 224.9 313.4 225 313.7 224.9 314.1 225.1 314.4 224.9 314.8 223.8 315.1 224.8 315.5 211.3 315.8 216.5 316.2 221.3 316.5 225 316.9 224.9 317.2 225 317.6 225 317.9 225 318.3 225.1 318.6 225 319 224.8 319.3 224.7 319.7 223.5 320 224.5 320.4 221.7 320.7 224.6 321.1 224.7 321.4 225 321.8 224.6 322.1 224.8 322.5 224.9 322.8 224.6 323.2 224.8 323.5 224.9 323.9 224.2 324.2 222.7 324.6 223.1 324.9 223.2 325.3 224.6 325.6 224.7 326 224.5 326.3 224.8 326.7 224.8 327 224.6 327.4 224.6 327.7 224.7 328.1 222.6 328.4 219.3 328.8 218.1 329.1 217.3 329.5 220.7 329.8 224.1 330.2 224.7 330.5 224.7 330.9 224.6 331.2 224.6 331.6 224.5 331.9 224.9 332.3 224.9 332.6 223.9 333 223.7 333.3 222.5 333.7 222.1 334 220.7 334.4 224.6 334.7 224.9 335.1 224.9 335.4 224.8 335.8 224.9 336.1 224.9 336.5 225.1 336.8 225 337.2 225 337.5 224.3 337.9 224.9 338.2 222 338.6 222.4 338.9 224.6 339.3 225.1 339.6 225.2 340 225.2 340.3 225.2 340.7 225.1 341 225.1 341.4 225.2 341.7 224.9 342.1 224 342.4 216.5 342.8 215.5 343.1 222.7 343.5 224.2 343.8 224.7 344.2 224.6 344.5 224.9 344.9 224.6 345.2 224.8 345.6 224.9 345.9 224.9 346.3 223.3 346.6 220.5 347 216.9 347.3 211.1 347.7 220.6 348 224.8 348.4 225.1 348.7 225.3 349.1 225.5 349.4 225.3 349.8 225.4 350.1 225.4 350.5 225.3 350.8 225.2 351.2 223.3 351.5 225.2 351.9 221.9 352.2 223.4 352.6 225.3 352.9 225.3 353.3 225.5 353.6 225.4 354 225.3 354.3 225.3 354.7 225.3 355 224.9 355 226.4 354.7 226.4 354.3 226.3 354 226.2 353.6 226.2 353.3 226.2 352.9 226.2 352.6 226.2 352.2 226.9 351.9 228.7 351.5 228.8 351.2 226.4 350.8 226.9 350.5 226.4 350.1 226.2 349.8 226.1 349.4 226.2 349.1 227.2 348.7 226.3 348.4 226.3 348 227.9 347.7 226.7 347.3 239.6 347 230.1 346.6 227.1 346.3 227.6 345.9 227 345.6 226.7 345.2 226.8 344.9 227 344.5 226.7 344.2 226.9 343.8 226.9 343.5 226.9 343.1 230.7 342.8 236.7 342.4 236 342.1 230 341.7 226.8 341.4 226.4 341 226.4 340.7 226.5 340.3 226.4 340 226.4 339.6 226.3 339.3 226.6 338.9 229.2 338.6 228.9 338.2 230.6 337.9 226.9 337.5 229.9 337.2 227.1 336.8 226.5 336.5 226.6 336.1 226.6 335.8 226.5 335.4 226.8 335.1 226.9 334.7 228.5 334.4 226.8 334 233 333.7 236.9 333.3 230.9 333 227.2 332.6 226.9 332.3 226.9 331.9 226.7 331.6 226.9 331.2 226.9 330.9 227.2 330.5 226.9 330.2 227.5 329.8 227.3 329.5 228.6 329.1 237 328.8 229.7 328.4 229.8 328.1 228.2 327.7 227.5 327.4 227.2 327 227.2 326.7 226.8 326.3 227 326 226.9 325.6 227.1 325.3 228.1 324.9 229.3 324.6 232.9 324.2 230.2 323.9 228.1 323.5 227.1 323.2 226.8 322.8 226.8 322.5 226.6 322.1 226.8 321.8 226.7 321.4 226.9 321.1 226.7 320.7 227.1 320.4 226.9 320 230.8 319.7 229.1 319.3 227.3 319 226.6 318.6 227.9 318.3 226.5 317.9 226.5 317.6 226.5 317.2 226.6 316.9 226.5 316.5 227 316.2 227 315.8 235.2 315.5 233.5 315.1 236.9 314.8 228.3 314.4 226.6 314.1 226.8 313.7 226.6 313.4 226.7 313 226.5 312.7 226.7 312.3 226.7 312 227.4 311.6 229.3 311.3 235.7 310.9 232 310.6 235.8 310.2 228.7 309.9 226.7 309.5 226.6 309.2 226.8 308.8 226.6 308.5 227 308.1 226.9 307.8 226.8 307.4 227.5 307.1 232.7 306.7 243 306.4 232.5 306 228.6 305.7 230.2 305.3 227.4 305 226.9 304.6 226.8 304.3 227 303.9 226.9 303.6 227 303.2 227.1 302.9 227.4 302.5 230.5 302.2 229.5 301.8 232.8 301.5 229.1 301.1 228.8 300.8 227.4 300.4 227.1 300.1 227.6 299.7 227.3 299.4 227.5 299 227.3 298.7 227.3 298.3 228.6 298 229.1 297.6 236.1 297.3 231.2 296.9 231.8 296.6 228.1 296.2 227.5 295.9 227.2 295.5 227.5 295.2 227.4 294.8 227.5 294.5 227.6 294.1 227.2 293.8 228.5 293.4 231.7 293.1 235.6 292.7 236.4 292.4 229.7 292 228.2 291.7 227.1 291.3 227.3 291 226.9 290.6 226.9 290.3 227.1 289.9 227 289.6 226.9 289.2 227 288.9 229.1 288.5 228.4 288.2 231.3 287.8 229.2 287.5 228.1 287.1 226.6 286.8 226.6 286.4 227.2 286.1 226.8 285.7 226.9 285.4 227 285 226.8 284.7 227.2 284.3 229.6 284 234.1 283.6 232.7 283.3 228.8 282.9 227.2 282.6 226.9 282.2 226.7 281.9 226.7 281.5 226.7 281.2 226.8 280.8 226.8 280.5 226.9 280.1 227.4 279.8 228.5 279.4 230.4 279.1 235.1 278.7 228.7 278.4 227 278 226.9 277.7 226.9 277.3 226.7 277 226.7 276.6 227.1 276.3 227 275.9 227.2 275.6 227.8 275.2 227.9 274.9 227.1 274.5 228 274.2 229 273.8 227.8 273.5 227.1 273.1 227.1 272.8 227 272.4 226.9 272.1 227.1 271.7 226.7 271.4 227.1 271 227.7 270.7 233.9 270.3 228.9 270 232.1 269.6 228.9 269.3 227.2 268.9 226.6 268.6 227 268.2 226.8 267.9 226.6 267.5 226.8 267.2 227 266.8 227.1 266.5 228 266.1 231.9 265.8 230 265.4 239.1 265.1 228.8 264.7 227.3 264.4 227.1 264 226.8 263.7 227 263.3 227 263 226.9 262.6 226.9 262.3 227.4 261.9 227 261.6 229.1 261.2 230.3 260.9 232.4 260.5 228.3 260.2 226.9 259.8 226.9 259.5 228.3 259.1 227.7 258.8 227 258.4 226.8 258.1 227.1 257.7 227.1 257.4 228.6 257 228.3 256.7 228 256.3 229.7 256 228 255.6 226.9 255.3 226.9 254.9 226.7 254.6 226.8 254.2 226.7 253.9 226.8 253.5 226.7 253.2 226.8 252.8 230.7 252.5 230.8 252.1 226.7 251.8 232.3 251.4 227.5 251.1 226.9 250.7 226.4 250.4 226.4 250 226.7 249.7 226.5 249.3 226.4 249 226.4 248.6 227.1 248.3 228.2 247.9 228.7 247.6 234.7 247.2 227.8 246.9 227 246.5 226.7 246.2 226.7 245.8 226.6 245.5 226.6 245.1 226.7 244.8 226.5 244.4 226.6 244.1 227.1 243.7 229.2 243.4 230.8 243 229.9 242.7 228.3 242.3 226.7 242 226.8 241.6 226.7 241.3 227 240.9 226.9 240.6 226.8 240.2 226.8 239.9 226.9 239.5 227.3 239.2 227 238.8 233.4 238.5 237.8 238.1 227 237.8 227.9 237.4 226.6 237.1 226.5 236.7 227.3 236.4 226.4 236 226.3 235.7 226.3 235.3 226.2 235 226.5 234.6 229.3 234.3 227.5 233.9 233.3 233.6 230.6 233.2 227.3 232.9 226.3 232.5 226.3 232.2 226.4 231.8 226.3 231.5 226.3 231.1 226.4 230.8 226.4 230.4 227.1 230.1 228.1 229.7 227.1 229.4 226.8 229 227.5 228.7 226.7 228.3 226.8 228 226.7 227.6 226.8 227.3 226.8 226.9 226.7 226.6 226.9 226.2 227 225.9 227.3 225.5 230.3 225.2 233.8 224.8 236.3 224.5 227.7 224.1 226.8 223.8 226.8 223.4 227 223.1 227 222.7 227.1 222.4 228.4 222 227 221.7 227 221.3 228.9 221 229.2 220.6 232.1 220.3 228.6 219.9 228.5 219.6 227.3 219.2 227.2 218.9 227.5 218.5 227.3 218.2 227 217.8 227.6 217.5 227.1 217.1 227.7 216.8 230.6 216.4 229.1 216.1 228.6 215.7 231.9 215.4 228.6 215 229 214.7 227 214.3 227.3 214 226.9 213.6 227 213.3 227 212.9 227.1 212.6 226.9 212.2 230.4 211.9 227.2 211.5 237.8 211.2 228.3 210.8 230.5 210.5 226.9 210.1 226.9 209.8 226.8 209.4 226.9 209.1 227 208.7 227 208.4 226.8 208 227 207.7 227.9 207.3 228.8 207 231.1 206.6 227.1 206.3 228.4 205.9 227.4 205.6 227.3 205.2 227 204.9 227.3 204.5 227.1 204.2 227.1 203.8 227 203.5 227.9 203.1 227.4 202.8 238.4 202.4 233.5 202.1 233.3 201.7 226.8 201.4 226.7 201 226.7 200.7 226.8 200.3 226.8 200 226.8 199.6 226.7 199.3 226.6 198.9 226.9 198.6 227.5 198.2 229.5 197.9 227.4 197.5 226.7 197.2 227.3 196.8 226.5 196.5 226.5 196.1 226.5 195.8 226.6 195.4 226.4 195.1 226.6 194.7 226.5 194.4 226.9 194 228.6 193.7 227.3 193.3 228.1 193 227.3 192.6 226.7 192.3 227.5 191.9 226.5 191.6 226.3 191.2 226.5 190.9 226.6 190.5 226.6 190.2 226.4 189.8 226.7 189.5 228 189.1 234 188.8 228.8 188.4 230.5 188.1 227.4 187.7 226.7 187.4 226.9 187 226.8 186.7 226.7 186.3 227.1 186 226.9 185.6 227 185.3 227.1 184.9 230.7 184.6 230.7 184.2 228.6 183.9 228.1 183.5 228 183.2 227.1 182.8 227.2 182.5 227.3 182.1 227.2 181.8 227.2 181.4 227.2 181.1 227 180.7 228.5 180.4 227.9 180 237.7 179.7 230.6 179.3 229.8 179 227 178.6 228.4 178.3 226.6 177.9 226.8 177.6 226.7 177.2 226.7 176.9 226.5 176.5 226.7 176.2 227.2 175.8 227.1 175.5 227.4 175.1 229.3 174.8 230.6 174.4 226.3 174.1 226.4 173.7 227.3 173.4 226.4 173 226.5 172.7 226.4 172.3 226.4 172 226.8 171.6 228.4 171.3 227.2 170.9 238 170.6 231.1 170.2 229.3 169.9 226.8 169.5 226.9 169.2 227.1 168.8 227 168.5 227.1 168.1 227.2 167.8 227 167.4 227.2 167.1 227.7 166.7 230.8 166.4 231.1 166 233.4 165.7 227.4 165.3 226.9 165 227.1 164.6 226.9 164.3 226.8 163.9 226.6 163.6 226.8 163.2 226.4 162.9 226.7 162.5 227.9 162.2 227.5 161.8 232.9 161.5 231.9 161.1 229 160.8 226.7 160.4 226.8 160.1 226.8 159.7 226.7 159.4 226.8 159 226.8 158.7 227.1 158.3 227.2 158 230.5 157.6 230.9 157.3 236.2 156.9 227.7 156.6 227.8 156.2 227.3 155.9 226.7 155.5 226.7 155.2 226.7 154.8 226.8 154.5 226.9 154.1 226.7 153.8 227.4 153.4 228.4 153.1 232.6 152.7 233.8 152.4 228.2 152 228.9 151.7 226.9 151.3 226.7 151 226.8 150.6 227 150.3 226.8 149.9 226.8 149.6 227.2 149.2 227.5 148.9 227.7 148.5 234.4 148.2 228.5 147.8 227.8 147.5 227.9 147.1 227 146.8 226.6 146.4 226.7 146.1 226.7 145.7 226.6 145.4 226.5 145 226.5 144.7 226.9 144.3 229.1 144 228.7 143.6 234.4 143.3 228.5 142.9 227.5 142.6 226.7 142.2 226.4 141.9 226.7 141.5 226.5 141.2 226.5 140.8 226.7 140.5 226.7 140.1 227.4 139.8 227.2 139.4 228.2 139.1 231.8 138.7 227.6 138.4 227.5 138 227 137.7 226.9 137.3 226.8 137 226.8 136.6 226.8 136.3 226.6 135.9 226.8 135.6 227.2 135.2 227.2 134.9 229.3 134.5 230.6 134.2 227 133.8 227.1 133.5 226.8 133.1 226.7 132.8 226.7 132.4 226.7 132.1 226.6 131.7 226.5 131.4 226.7 131 227 130.7 227.3 130.3 229.4 130 226.9 129.6 226.6 129.3 227 128.9 226.4 128.6 226.3 128.2 227.2 127.9 226.4 127.5 226.4 127.2 226.4 126.8 226.5 126.5 226.9 126.1 228.3 125.8 226.9 125.4 234.2 125.1 228.8 124.7 227.3 124.4 226.9 124 226.9 123.7 227 123.3 226.8 123 226.9 122.6 226.7 122.3 226.8 121.9 227.8 121.6 229.3 121.2 228.8 120.9 234.2 120.5 228.6 120.2 226.8 119.8 226.8 119.5 226.6 119.1 226.4 118.8 226.4 118.4 226.5 118.1 226.7 117.7 226.7 117.4 227.2 117 231 116.7 227.1 116.3 229.1 116 227.8 115.6 227.1 115.3 226.8 114.9 226.7 114.6 226.7 114.2 227 113.9 227 113.5 226.9 113.2 227.2 112.8 228.8 112.5 236.8 112.1 232.3 111.8 233.5 111.4 230.7 111.1 227.9 110.7 227 110.4 227.2 110 226.9 109.7 226.9 109.3 227.2 109 227 108.6 227.2 108.3 227.1 107.9 233.8 107.6 234.5 107.2 230.2 106.9 230.3 106.5 227.8 106.2 227.4 105.8 227 105.5 227.3 105.1 226.9 104.8 227.1 104.4 227.1 104.1 227 103.7 227.8 103.4 228.7 103 232.6 102.7 228.9 102.3 226.8 102 227.3 101.6 226.9 101.3 227 100.9 226.9 100.6 226.9 100.2 227 99.9 227 99.5 227 99.2 227.1 98.8 229.3 98.5 228 98.1 228.5 97.8 227.7 97.4 227.2 97.1 226.8 96.7 226.9 96.4 227.2 96 227.1 95.7 227.2 95.3 227.2 95 227.6 94.6 231 94.3 236.2 93.9 237.8 93.6 231.9 93.2 229.7 92.9 227.3 92.5 227 92.2 227 91.8 227.3 91.5 227.4 91.1 227.1 90.8 227.4 90.4 227.7 90.1 229.2 89.7 232.5 89.4 231.6 89 232.2 88.7 228.6 88.3 227 88 226.8 87.6 226.7 87.3 227 86.9 227 86.6 226.7 86.2 226.6 85.9 227.1 85.5 227.8 85.2 230.6 84.8 233.1 84.5 227.1 84.1 228 83.8 226.9 83.4 226.9 83.1 226.9 82.7 227.1 82.4 226.7 82 227.1 81.7 226.8 81.3 227.1 81 229.6 80.6 227.1 80.3 232.7 79.9 227.1 79.6 226.8 79.2 226.7 78.9 226.7 78.5 226.6 78.2 226.4 77.8 226.4 77.5 226.4 77.1 226.5 76.8 227.8 76.4 229.6 76.1 232.7 75.7 226.5 75.4 231.5 75 227.5 74.7 226.3 74.3 226.3 74 226.2 73.6 226.3 73.3 226.1 72.9 226.3 72.6 226.3 72.2 227.2 71.9 226.5 71.5 226.7 71.2 232.5 70.8 227.6 70.5 227.2 70.1 226.7 69.8 226.4 69.4 226.5 69.1 226.7 68.7 226.7 68.4 226.7 68 226.7 67.7 227.4 67.3 230.1 67 231.5 66.6 230.4 66.3 227.1 65.9 227.3 65.6 226.7 65.2 226.5 64.9 226.7 64.5 226.8 64.2 227 63.8 226.9 63.5 227.2 63.1 229.7 62.8 230.1 62.4 232.2 62.1 229.1 61.7 229.5 61.4 226.9 61 226.8 60.7 226.8 60.3 226.6 60 226.6 59.6 226.6 59.3 226.7 58.9 227 58.6 227.9 58.2 231.9 57.9 235.3 57.5 231.2 57.2 229.6 56.8 227.2 56.5 227.8 56.1 226.9 55.8 227.1 55.4 227.2 55.1 227.1 54.7 226.9 54.4 227.4 54 227.1 53.7 227.5 53.3 240.8 53 228.8 52.6 228.3 52.3 227.7 51.9 227 51.6 226.9 51.2 227.1 50.9 227.1 50.5 227.4 50.2 227.5 49.8 227.8 49.5 228.1 49.1 230.3 48.8 227.3 48.4 228.2 48.1 228.6 47.7 227.4 47.4 227.1 47 227.2 46.7 227.1 46.3 226.8 46 226.8 45.6 226.9 45.3 227.2 44.9 230.8 44.6 232.4 44.2 241.7 43.9 231.6 43.5 228.4 43.2 226.6 42.8 226.6 42.5 226.6 42.1 226.5 41.8 226.7 41.4 226.7 41.1 226.7 40.7 227.1 40.4 227 40 227.6 39.7 229.4 39.3 230 39 227.1 38.6 226.7Z" fill="#6a51b2" stroke="#6a51b2" stroke-width="0.4" stroke-linejoin="round" clip-path="url(#lc13)"/>
<rect x="38.4" y="208" width="317" height="37" fill="none" stroke="#2b2b2b" stroke-width="1.1"/>
<text transform="translate(38.4,260.8) scale(0.96,1.13)" font-size="11.5" text-anchor="middle" fill="#1e1e1e" >0</text>
<text transform="translate(132.6,260.8) scale(0.96,1.13)" font-size="11.5" text-anchor="middle" fill="#1e1e1e" >500</text>
<text transform="translate(226.8,260.8) scale(0.96,1.13)" font-size="11.5" text-anchor="middle" fill="#1e1e1e" >1000</text>
<text transform="translate(320.9,260.8) scale(0.96,1.13)" font-size="11.5" text-anchor="middle" fill="#1e1e1e" >1500</text>
<text transform="translate(197.2,275.7) scale(0.98,1.07)" font-size="12" text-anchor="middle" fill="#1e1e1e" >T/h</text>
<text transform="translate(196,298.8) scale(0.98,1.07)" font-size="12" text-anchor="middle" fill="#1e1e1e" >IMF1</text>
<text transform="translate(32,318.5) scale(0.96,1.13)" font-size="11.5" text-anchor="end" fill="#1e1e1e" >20</text>
<text transform="translate(32,333.7) scale(0.96,1.13)" font-size="11.5" text-anchor="end" fill="#1e1e1e" >10</text>
<line x1="37.5" y1="307.1" x2="39.5" y2="307.1" stroke="#2b2b2b" stroke-width="0.9"/>
<line x1="354.5" y1="307.1" x2="352.5" y2="307.1" stroke="#2b2b2b" stroke-width="0.9"/>
<line x1="37.5" y1="314.7" x2="41.7" y2="314.7" stroke="#2b2b2b" stroke-width="0.9"/>
<line x1="354.5" y1="314.7" x2="350.3" y2="314.7" stroke="#2b2b2b" stroke-width="0.9"/>
<line x1="37.5" y1="322.3" x2="39.5" y2="322.3" stroke="#2b2b2b" stroke-width="0.9"/>
<line x1="354.5" y1="322.3" x2="352.5" y2="322.3" stroke="#2b2b2b" stroke-width="0.9"/>
<line x1="37.5" y1="329.9" x2="41.7" y2="329.9" stroke="#2b2b2b" stroke-width="0.9"/>
<line x1="354.5" y1="329.9" x2="350.3" y2="329.9" stroke="#2b2b2b" stroke-width="0.9"/>
<line x1="37.5" y1="337.5" x2="39.5" y2="337.5" stroke="#2b2b2b" stroke-width="0.9"/>
<line x1="354.5" y1="337.5" x2="352.5" y2="337.5" stroke="#2b2b2b" stroke-width="0.9"/>
<line x1="84.6" y1="340.3" x2="84.6" y2="338.1" stroke="#2b2b2b" stroke-width="0.9"/>
<line x1="131.7" y1="340.3" x2="131.7" y2="338.1" stroke="#2b2b2b" stroke-width="0.9"/>
<line x1="178.8" y1="340.3" x2="178.8" y2="338.1" stroke="#2b2b2b" stroke-width="0.9"/>
<line x1="225.9" y1="340.3" x2="225.9" y2="338.1" stroke="#2b2b2b" stroke-width="0.9"/>
<line x1="272.9" y1="340.3" x2="272.9" y2="338.1" stroke="#2b2b2b" stroke-width="0.9"/>
<line x1="320" y1="340.3" x2="320" y2="338.1" stroke="#2b2b2b" stroke-width="0.9"/>
<path d="M37.5 320.8 37.9 319.3 38.2 317.8 38.6 316.8 38.9 315.7 39.3 315.1 39.6 314.3 40 313.4 40.3 312.2 40.7 311.4 41 311.3 41.4 309.3 41.7 310 42.1 309.5 42.4 308.9 42.8 308.9 43.1 308.8 43.5 309.2 43.8 309.1 44.2 309.3 44.5 309.1 44.9 308.6 45.2 308.5 45.6 308 45.9 307.5 46.3 307.6 46.6 309.5 47 308.5 47.3 309.4 47.7 310 48 310.9 48.4 312 48.7 312.2 49.1 314 49.4 314 49.8 315.5 50.1 316.7 50.5 316.6 50.8 316.8 51.2 316.3 51.5 316.9 51.9 317.4 52.2 318.3 52.6 318 52.9 318 53.3 317.2 53.6 317.1 54 317.4 54.3 316.2 54.7 315.8 55 314.8 55.4 315.5 55.7 314.2 56.1 314 56.4 313.4 56.8 313.2 57.1 312.8 57.5 311.8 57.8 311.7 58.2 311.4 58.5 310.3 58.9 310 59.2 309.4 59.6 308.7 59.9 308.3 60.3 309.1 60.6 309.9 61 310.8 61.3 312.4 61.7 313.6 62 314.9 62.4 318 62.7 319.2 63.1 321 63.4 321.9 63.8 323.3 64.1 325.8 64.5 325.1 64.8 326.6 65.2 328 65.5 328.8 65.9 329.4 66.2 330.2 66.6 330.1 66.9 330.2 67.3 330.7 67.6 330.7 68 330.8 68.3 330.6 68.7 331.2 69 329.4 69.4 330 69.7 330.4 70.1 330.2 70.4 331.5 70.8 330.8 71.1 331.9 71.5 331.1 71.8 331.4 72.2 331.2 72.5 330.9 72.9 331.2 73.2 330.8 73.6 331.1 73.9 330.2 74.3 329 74.6 327.8 75 326.4 75.3 324.5 75.7 323.3 76 321.2 76.4 319.1 76.7 316.8 77.1 314.6 77.4 312.4 77.8 311.7 78.1 310.6 78.5 310.3 78.8 310 79.2 309.6 79.5 311.5 79.9 313 80.2 313.1 80.6 313.7 80.9 314.2 81.3 314.7 81.6 314.7 82 314.5 82.3 314.7 82.7 315.4 83 315.3 83.4 315.4 83.7 315.8 84.1 315.9 84.4 316.2 84.8 317 85.1 317.5 85.5 317.1 85.8 317.6 86.2 317.4 86.5 317.3 86.9 317.5 87.2 317.4 87.6 317.9 87.9 319 88.3 318.7 88.6 318.3 89 319.7 89.3 320.3 89.7 320.7 90 321.1 90.4 320.8 90.7 321.3 91.1 321 91.4 322.1 91.8 321.1 92.1 321.5 92.5 322.7 92.8 322.9 93.2 323.6 93.5 324.2 93.9 324.8 94.2 325.4 94.6 324.8 94.9 326.2 95.3 325.9 95.6 326 96 325.7 96.3 326.3 96.7 326.8 97 326.4 97.4 327.7 97.7 328.3 98.1 328.9 98.4 329.3 98.8 330.2 99.1 330.2 99.5 330.8 99.8 330.8 100.2 330.6 100.5 330.1 100.9 328.8 101.2 327.8 101.6 327.8 101.9 326.5 102.3 325.9 102.6 325.2 103 324.3 103.3 323.8 103.7 322.9 104 321.5 104.4 320.8 104.7 319.2 105.1 318.7 105.4 318.6 105.8 318.4 106.1 317.9 106.5 318 106.8 318.2 107.2 318.4 107.5 318.7 107.9 317.9 108.2 318.3 108.6 317.2 108.9 317.6 109.3 317.3 109.6 316.9 110 316.6 110.3 316.5 110.7 316.4 111 316.4 111.4 316.5 111.7 316.9 112.1 316.7 112.4 316.5 112.8 316.8 113.1 316.2 113.5 316.1 113.8 316.4 114.2 317.3 114.5 319 114.9 318.2 115.2 319.4 115.6 320.6 115.9 322 116.3 323 116.6 324.4 117 325.8 117.3 326.2 117.7 327.7 118 327.3 118.4 327.7 118.7 326.7 119.1 326.7 119.4 323.9 119.8 321.6 120.1 320.9 120.5 319.2 120.8 318 121.2 316.3 121.5 314.6 121.9 312.8 122.2 311.3 122.6 310.4 122.9 309.1 123.3 309.2 123.6 309.9 124 312.2 124.3 312.8 124.7 314.8 125 316.6 125.4 318.7 125.7 320.7 126.1 323.3 126.4 323.7 126.8 326.9 127.1 327.8 127.5 328.6 127.8 329.1 128.2 330.2 128.5 330.4 128.9 331.2 129.2 331.4 129.6 330.7 129.9 331.5 130.3 331.1 130.6 332.1 131 331.5 131.3 331.2 131.7 331.1 132 330.7 132.4 330.3 132.7 330 133.1 330.2 133.4 330 133.8 330 134.1 328.9 134.5 328.1 134.8 327.7 135.2 326.6 135.5 325.3 135.9 323.7 136.2 321.7 136.6 320.3 136.9 318.8 137.3 318.2 137.6 317.2 138 316 138.3 315 138.7 314.2 139 313.6 139.4 312.5 139.7 311.4 140.1 311.1 140.4 310.3 140.8 309.9 141.1 309.7 141.5 310.6 141.8 311.4 142.2 312.5 142.5 314.9 142.9 315.4 143.2 317.2 143.6 317.8 143.9 317.7 144.3 319.8 144.6 320.1 145 320.8 145.3 321.1 145.7 322.2 146 322.4 146.4 322.7 146.7 322.2 147.1 322.1 147.4 321.6 147.8 321.5 148.1 321.4 148.5 320.8 148.8 320.5 149.2 319.3 149.5 319.1 149.9 318.2 150.2 317.6 150.6 316.7 150.9 316.8 151.3 316.6 151.6 316.3 152 317.2 152.3 317.9 152.7 318.2 153 319.6 153.4 319.6 153.7 318.8 154.1 319.3 154.4 318.9 154.8 319.3 155.1 319 155.5 319.9 155.8 320.5 156.2 321.7 156.5 323.5 156.9 324.5 157.2 325.8 157.6 327.7 157.9 328.3 158.3 329.3 158.6 330.1 159 330.7 159.3 331.5 159.7 332.3 160 333.2 160.4 333.3 160.7 334.5 161.1 335 161.4 336 161.8 335.6 162.1 336 162.5 336.3 162.8 336.1 163.2 335.5 163.5 335.5 163.9 333.5 164.2 332.4 164.6 331.9 164.9 331.6 165.3 330.8 165.6 330.2 166 329.4 166.3 328.8 166.7 327.6 167 326.2 167.4 325.1 167.7 324.3 168.1 322.7 168.4 321.1 168.8 320.9 169.1 319.3 169.5 318 169.8 317 170.2 316.3 170.5 314.5 170.9 313.8 171.2 312.7 171.6 312.1 171.9 311.9 172.3 310.2 172.6 309.5 173 309.3 173.3 309.8 173.7 311.1 174 312.2 174.4 312.9 174.7 314.9 175.1 315.6 175.4 317.3 175.8 317.5 176.1 318.9 176.5 319.3 176.8 319.7 177.2 320.2 177.5 319.9 177.9 321.3 178.2 321.2 178.6 321.2 178.9 321.7 179.3 321.9 179.6 321.5 180 322.3 180.3 322.2 180.7 322.4 181 321.6 181.4 321.5 181.7 321.2 182.1 320.2 182.4 319.2 182.8 318.5 183.1 319.9 183.5 318.6 183.8 318.3 184.2 317.9 184.5 317.7 184.9 316.8 185.2 316.4 185.6 315.1 185.9 314.7 186.3 313.9 186.6 313.3 187 313.6 187.3 313.7 187.7 314.9 188 316.3 188.4 317.1 188.7 318.2 189.1 318.8 189.4 319.7 189.8 321.5 190.1 321.6 190.5 322.2 190.8 324.3 191.2 324.2 191.5 324.2 191.9 325.4 192.2 326 192.6 327.3 192.9 328 193.3 329.7 193.6 331.3 194 332.4 194.3 331.5 194.7 332.3 195 332.3 195.4 332.6 195.7 332.5 196.1 332.7 196.4 333.8 196.8 334.8 197.1 335.3 197.5 335.2 197.8 333.9 198.2 334 198.5 334.1 198.9 332.9 199.2 331.6 199.6 329.9 199.9 328.8 200.3 327.6 200.6 326.3 201 325.1 201.3 324.9 201.7 324.2 202 324.3 202.4 322.9 202.7 322.4 203.1 321.4 203.4 320.6 203.8 319 204.1 318 204.5 317.4 204.8 316.6 205.2 315.8 205.5 315.2 205.9 315.2 206.2 314.3 206.6 313.8 206.9 313.6 207.3 313 207.6 312.4 208 311.4 208.3 311.4 208.7 310.3 209 309.2 209.4 308.5 209.7 310.5 210.1 310.4 210.4 311.2 210.8 311.8 211.1 312.5 211.5 313.2 211.8 314.1 212.2 314.5 212.5 315.8 212.9 316.9 213.2 316.8 213.6 317.6 213.9 318.2 214.3 318.4 214.6 317.4 215 318 215.3 317.8 215.7 317.8 216 318.1 216.4 317.1 216.7 316.8 217.1 316.8 217.4 315.6 217.8 315.9 218.1 315.4 218.5 315.5 218.8 316.5 219.2 316.1 219.5 317.3 219.9 318.3 220.2 320 220.6 320.9 220.9 321.7 221.3 322.7 221.6 323.2 222 324.5 222.3 325.4 222.7 326.4 223 327.5 223.4 329 223.7 329.5 224.1 330.8 224.4 330.6 224.8 330.3 225.1 331.2 225.5 331.5 225.8 332.1 226.2 331.6 226.5 330.9 226.9 330.3 227.2 329.9 227.6 329.2 227.9 328.8 228.3 328.1 228.6 327.6 229 326.6 229.3 325.6 229.7 325.3 230 323.4 230.4 321.9 230.7 320.7 231.1 319.6 231.4 318.3 231.8 317.4 232.1 316.5 232.5 315.7 232.8 315.1 233.2 315 233.5 314.6 233.9 313.8 234.2 315.1 234.6 314.2 234.9 313.5 235.3 313 235.6 311.9 236 312 236.3 312.3 236.7 312.2 237 313.1 237.4 314 237.7 314.8 238.1 315.7 238.4 317.1 238.8 317.6 239.1 318.4 239.5 319.5 239.8 319.5 240.2 319.8 240.5 320.3 240.9 319.1 241.2 318.3 241.6 317.9 241.9 317.7 242.3 317.4 242.6 317.1 243 317.2 243.3 316.4 243.7 316.3 244 315.5 244.4 315.3 244.7 314.7 245.1 314.6 245.4 313.7 245.8 315.1 246.1 315.9 246.5 317 246.8 317.5 247.2 318.7 247.5 319.3 247.9 319.8 248.2 321 248.6 320.5 248.9 321.1 249.3 321.1 249.6 321 250 321.2 250.3 321.6 250.7 322.3 251 323.1 251.4 324 251.7 324.3 252.1 325.5 252.4 325.8 252.8 327.1 253.1 326.7 253.5 328.7 253.8 328 254.2 328.1 254.5 329.3 254.9 328.4 255.2 329.6 255.6 330 255.9 331 256.3 332.1 256.6 332.3 257 333.4 257.3 333.2 257.7 333 258 332.8 258.4 332.9 258.7 332.2 259.1 332.1 259.4 331.3 259.8 330.9 260.1 329.8 260.5 328.8 260.8 327.1 261.2 327.1 261.5 326.5 261.9 325.1 262.2 323.4 262.6 321.6 262.9 320.2 263.3 318.5 263.6 317.1 264 315.9 264.3 315.4 264.7 315 265 315 265.4 315.2 265.7 314.9 266.1 315.2 266.4 314.8 266.8 314.8 267.1 315.1 267.5 315.1 267.8 315.5 268.2 316.9 268.5 316.8 268.9 317.1 269.2 317.9 269.6 318.8 269.9 319.5 270.3 319.8 270.6 321.4 271 321.4 271.3 321.4 271.7 321.1 272 320.4 272.4 319.5 272.7 318.9 273.1 318.1 273.4 318.6 273.8 317.2 274.1 318.3 274.5 317.6 274.8 318.3 275.2 318.5 275.5 318.2 275.9 318.4 276.2 318.3 276.6 318.2 276.9 318.4 277.3 317.4 277.6 318.5 278 319.1 278.3 318.3 278.7 318.7 279 319.5 279.4 320.1 279.7 320.4 280.1 320.2 280.4 319.6 280.8 320.3 281.1 320.5 281.5 321 281.8 321.6 282.2 322.2 282.5 323.3 282.9 324.6 283.2 326 283.6 326.6 283.9 329 284.3 329.8 284.6 331.2 285 332 285.3 332.9 285.7 333.7 286 332.7 286.4 334 286.7 334.2 287.1 334.8 287.4 335.3 287.8 335.7 288.1 335.5 288.5 335.8 288.8 335.9 289.2 336.2 289.5 335.6 289.9 335.2 290.2 334.4 290.6 333.2 290.9 332.9 291.3 331 291.6 331 292 329.9 292.3 329.5 292.7 328.7 293 327.7 293.4 326.8 293.7 325.9 294.1 324.6 294.4 323.8 294.8 323.8 295.1 322.8 295.5 322.4 295.8 322.1 296.2 321.7 296.5 321.5 296.9 322.2 297.2 321.3 297.6 321.3 297.9 321.1 298.3 320.1 298.6 319.7 299 319.1 299.3 318.5 299.7 317.9 300 317.2 300.4 318.5 300.7 318.4 301.1 319 301.4 320 301.8 320.7 302.1 321.2 302.5 322.2 302.8 322.8 303.2 322.4 303.5 323 303.9 323.2 304.2 324.2 304.6 324.1 304.9 324.3 305.3 325.4 305.6 326 306 326.7 306.3 326.9 306.7 327.7 307 326.4 307.4 325.7 307.7 325.9 308.1 325.6 308.4 324.7 308.8 324 309.1 323.8 309.5 323.6 309.8 323.3 310.2 323.8 310.5 323.7 310.9 324.4 311.2 323.8 311.6 323.6 311.9 323.5 312.3 323.2 312.6 322.6 313 322.5 313.3 322.7 313.7 322.9 314 324.2 314.4 325.1 314.7 326.2 315.1 327.8 315.4 328.9 315.8 329.1 316.1 330.1 316.5 330.1 316.8 330.7 317.2 331 317.5 331.3 317.9 332 318.2 332.3 318.6 333.2 318.9 333.4 319.3 334 319.6 333.8 320 333.5 320.3 333.9 320.7 334.1 321 333.4 321.4 333.1 321.7 330.7 322.1 330.4 322.4 329.4 322.8 328.3 323.1 328 323.5 327.6 323.8 326.3 324.2 325.6 324.5 324.5 324.9 323.1 325.2 322.5 325.6 321.7 325.9 320.9 326.3 319.7 326.6 319.1 327 318.8 327.3 318.2 327.7 317.8 328 317.5 328.4 317.8 328.7 318 329.1 318.1 329.4 317 329.8 317.9 330.1 317.3 330.5 317.3 330.8 316.8 331.2 315.6 331.5 316.3 331.9 315.7 332.2 317.5 332.6 316.8 332.9 317.7 333.3 318.5 333.6 318.9 334 319.2 334.3 319.5 334.7 319.7 335 320.5 335.4 320.3 335.7 320.7 336.1 321.9 336.4 321.7 336.8 322.5 337.1 323.3 337.5 324.2 337.8 325.1 338.2 325.8 338.5 326.6 338.9 327 339.2 325 339.6 325.2 339.9 323.9 340.3 324.4 340.6 323.4 341 323.9 341.3 323.7 341.7 323.6 342 323.2 342.4 323.5 342.7 323.4 343.1 322.5 343.4 321.9 343.8 321.7 344.1 320.4 344.5 320.1 344.8 319.3 345.2 319.9 345.5 320.7 345.9 322.4 346.2 325.4 346.6 326.3 346.9 327.4 347.3 328.6 347.6 330.7 348 330.6 348.3 331.3 348.7 331.8 349 332.6 349.4 333 349.7 333.7 350.1 334.8 350.4 335.5 350.8 336.7 351.1 336.1 351.5 337.2 351.8 337.6 352.2 337.8 352.5 337.8 352.9 337.9 353.2 337.7 353.6 337.2 353.9 337 354.3 336.3" fill="none" stroke="#3b7d45" stroke-width="0.95" stroke-linejoin="round" opacity="1" clip-path="url(#lc20)"/>
<rect x="37.5" y="303" width="317" height="37.3" fill="none" stroke="#2b2b2b" stroke-width="1.1"/>
<text transform="translate(196,364) scale(0.98,1.07)" font-size="12" text-anchor="middle" fill="#1e1e1e" >IMF2</text>
<text transform="translate(32,382.1) scale(0.96,1.13)" font-size="11.5" text-anchor="end" fill="#1e1e1e" >20</text>
<text transform="translate(32,394) scale(0.96,1.13)" font-size="11.5" text-anchor="end" fill="#1e1e1e" >0</text>
<text transform="translate(32,406) scale(0.96,1.13)" font-size="11.5" text-anchor="end" fill="#1e1e1e" >−20</text>
<line x1="37.5" y1="372.3" x2="39.5" y2="372.3" stroke="#2b2b2b" stroke-width="0.9"/>
<line x1="354.5" y1="372.3" x2="352.5" y2="372.3" stroke="#2b2b2b" stroke-width="0.9"/>
<line x1="37.5" y1="378.3" x2="41.7" y2="378.3" stroke="#2b2b2b" stroke-width="0.9"/>
<line x1="354.5" y1="378.3" x2="350.3" y2="378.3" stroke="#2b2b2b" stroke-width="0.9"/>
<line x1="37.5" y1="384.3" x2="39.5" y2="384.3" stroke="#2b2b2b" stroke-width="0.9"/>
<line x1="354.5" y1="384.3" x2="352.5" y2="384.3" stroke="#2b2b2b" stroke-width="0.9"/>
<line x1="37.5" y1="390.2" x2="41.7" y2="390.2" stroke="#2b2b2b" stroke-width="0.9"/>
<line x1="354.5" y1="390.2" x2="350.3" y2="390.2" stroke="#2b2b2b" stroke-width="0.9"/>
<line x1="37.5" y1="396.2" x2="39.5" y2="396.2" stroke="#2b2b2b" stroke-width="0.9"/>
<line x1="354.5" y1="396.2" x2="352.5" y2="396.2" stroke="#2b2b2b" stroke-width="0.9"/>
<line x1="37.5" y1="402.2" x2="41.7" y2="402.2" stroke="#2b2b2b" stroke-width="0.9"/>
<line x1="354.5" y1="402.2" x2="350.3" y2="402.2" stroke="#2b2b2b" stroke-width="0.9"/>
<line x1="84.6" y1="405.2" x2="84.6" y2="403" stroke="#2b2b2b" stroke-width="0.9"/>
<line x1="131.7" y1="405.2" x2="131.7" y2="403" stroke="#2b2b2b" stroke-width="0.9"/>
<line x1="178.8" y1="405.2" x2="178.8" y2="403" stroke="#2b2b2b" stroke-width="0.9"/>
<line x1="225.9" y1="405.2" x2="225.9" y2="403" stroke="#2b2b2b" stroke-width="0.9"/>
<line x1="272.9" y1="405.2" x2="272.9" y2="403" stroke="#2b2b2b" stroke-width="0.9"/>
<line x1="320" y1="405.2" x2="320" y2="403" stroke="#2b2b2b" stroke-width="0.9"/>
<path d="M37.5 389.8 37.9 388.4 38.3 386.9 38.6 386.5 39 386.5 39.4 388.1 39.8 390.1 40.1 392.2 40.5 393.1 40.9 393.7 41.3 393.1 41.6 392.1 42 390.2 42.4 384.2 42.8 379.2 43.2 377.3 43.5 379.4 43.9 384.1 44.3 390.2 44.7 398 45 403 45.4 405.4 45.8 402.8 46.2 397.9 46.5 390 46.9 385.6 47.3 382.2 47.7 380.8 48 381.7 48.4 385.4 48.8 390.1 49.2 396.1 49.6 400.2 49.9 401.7 50.3 400.6 50.7 395.9 51.1 390.3 51.4 384.1 51.8 380.4 52.2 379.1 52.6 380.5 52.9 384.5 53.3 390.4 53.7 396.2 54.1 400.1 54.5 401.4 54.8 399.7 55.2 395.7 55.6 390.8 56 382.7 56.3 377.3 56.7 375.5 57.1 377.9 57.5 382.8 57.8 390.7 58.2 396.3 58.6 400.6 59 402.3 59.3 400.7 59.7 396.1 60.1 389.9 60.5 384.1 60.9 379.6 61.2 377.8 61.6 379.2 62 384.1 62.4 390.2 62.7 395.4 63.1 399.5 63.5 401.1 63.9 399.2 64.2 395.2 64.6 390.5 65 388.7 65.4 388.1 65.8 387.4 66.1 387.7 66.5 388.5 66.9 389.9 67.3 391.9 67.6 392.9 68 393.1 68.4 392.6 68.8 391.6 69.1 390 69.5 388.6 69.9 387.3 70.3 387.4 70.7 387.6 71 388.4 71.4 390 71.8 392.2 72.2 393.3 72.5 393.7 72.9 392.7 73.3 391.8 73.7 390.1 74 383.1 74.4 378 74.8 376.1 75.2 378.1 75.5 382.7 75.9 390.5 76.3 396.8 76.7 402.4 77.1 404.2 77.4 401.7 77.8 397.1 78.2 390.2 78.6 383.4 78.9 378.6 79.3 376.7 79.7 377.8 80.1 383.3 80.4 390.1 80.8 396.1 81.2 400.7 81.6 402.2 82 400.4 82.3 396.1 82.7 390.4 83.1 383.5 83.5 379.5 83.8 378.3 84.2 379.9 84.6 384.4 85 390.3 85.3 396 85.7 399.8 86.1 401.3 86.5 399.5 86.8 395.5 87.2 390.2 87.6 383 88 378.5 88.4 376.3 88.7 378 89.1 383.5 89.5 390.5 89.9 396.8 90.2 402.3 90.6 404.2 91 402.4 91.4 397.4 91.7 390 92.1 384.5 92.5 380.4 92.9 379.3 93.3 380.8 93.6 384.9 94 390.7 94.4 396 94.8 400.3 95.1 402.5 95.5 400.7 95.9 396.6 96.3 390.6 96.6 388.8 97 387.5 97.4 387.1 97.8 387.9 98.2 389 98.5 390.4 98.9 391.4 99.3 393.3 99.7 393.2 100 393.1 100.4 391.3 100.8 390.4 101.2 389.1 101.5 387.7 101.9 387.5 102.3 387.8 102.7 388.9 103 389.7 103.4 391.5 103.8 393.1 104.2 393.6 104.6 393.1 104.9 391.9 105.3 390 105.7 383.2 106.1 378.1 106.4 376.5 106.8 377.9 107.2 383.1 107.6 390.2 107.9 397.4 108.3 403.1 108.7 405.1 109.1 403.2 109.5 397.5 109.8 390.4 110.2 382.6 110.6 377.6 111 374.8 111.3 377.1 111.7 382.6 112.1 390.2 112.5 395.4 112.8 399.4 113.2 400.6 113.6 399.1 114 396.1 114.3 390.3 114.7 385.2 115.1 381.5 115.5 380.5 115.9 381.5 116.2 385.2 116.6 390.5 117 396 117.4 399.9 117.7 401.4 118.1 399.6 118.5 395.4 118.9 390.3 119.2 385.1 119.6 381.7 120 380.2 120.4 381.6 120.8 384.7 121.1 390.1 121.5 397.3 121.9 402.5 122.3 404.3 122.6 402.4 123 397.3 123.4 390 123.8 384.4 124.1 380.5 124.5 379 124.9 380.8 125.3 384.9 125.6 390.1 126 395.5 126.4 399.9 126.8 401.8 127.2 399.8 127.5 396.2 127.9 390 128.3 388.6 128.7 386.8 129 387 129.4 386.5 129.8 388.4 130.2 390.2 130.5 391.7 130.9 392.9 131.3 393.3 131.7 392.9 132.1 392.2 132.4 389.9 132.8 388.9 133.2 387.8 133.6 386.8 133.9 387.4 134.3 389.2 134.7 390.7 135.1 392.5 135.4 393.7 135.8 394.1 136.2 393.5 136.6 392.5 137 390 137.3 383.6 137.7 379.6 138.1 377.5 138.5 379.7 138.8 384 139.2 390.3 139.6 395.7 140 400.4 140.3 402 140.7 400.4 141.1 396.2 141.5 390.2 141.8 384 142.2 380 142.6 378.2 143 379.8 143.4 384.1 143.7 390.7 144.1 396.1 144.5 400.9 144.9 403.2 145.2 401.2 145.6 396.8 146 390.1 146.4 385.4 146.7 381.1 147.1 379.8 147.5 381.5 147.9 384.9 148.3 390.1 148.6 396.8 149 402.6 149.4 403.4 149.8 401.7 150.1 396.7 150.5 389.9 150.9 384.8 151.3 381.1 151.6 379.9 152 381.1 152.4 385.2 152.8 389.9 153.1 397.2 153.5 403 153.9 405.3 154.3 403.1 154.7 397.7 155 389.9 155.4 384.6 155.8 380.5 156.2 378.9 156.5 380.5 156.9 384.4 157.3 390.3 157.7 396.4 158 400.7 158.4 401.9 158.8 400.6 159.2 396.1 159.6 390.4 159.9 388.4 160.3 387 160.7 387.2 161.1 387.1 161.4 389.2 161.8 390.1 162.2 391.6 162.6 392.4 162.9 393.1 163.3 392.2 163.7 391.8 164.1 389.5 164.5 388.7 164.8 387.7 165.2 387.2 165.6 387.9 166 388.7 166.3 389.8 166.7 391.6 167.1 392.5 167.5 392.7 167.8 392.7 168.2 391.3 168.6 389.7 169 382.9 169.3 378.1 169.7 376.4 170.1 377.8 170.5 383.2 170.9 390.5 171.2 397 171.6 402.2 172 403.8 172.4 402.4 172.7 396.7 173.1 390.1 173.5 382.9 173.9 378.2 174.2 375.9 174.6 378.2 175 383.6 175.4 390.4 175.8 395 176.1 398.3 176.5 400.4 176.9 399 177.3 394.8 177.6 390.5 178 384.7 178.4 379.9 178.8 378.5 179.1 380.4 179.5 384.7 179.9 390.2 180.3 397.7 180.6 403.6 181 405 181.4 403.1 181.8 397.6 182.2 390.9 182.5 383.2 182.9 377.8 183.3 376.4 183.7 377.3 184 383.3 184.4 390 184.8 395.2 185.2 399.5 185.5 401.2 185.9 399 186.3 395.3 186.7 390.4 187.1 384.5 187.4 380.5 187.8 379.5 188.2 381.1 188.6 384.5 188.9 390.2 189.3 396.9 189.7 402.2 190.1 404.3 190.4 401.9 190.8 397 191.2 390.5 191.6 388.3 192 386.8 192.3 386 192.7 386.9 193.1 388.3 193.5 390 193.8 392.1 194.2 392.9 194.6 393.6 195 392.8 195.3 392.2 195.7 390.3 196.1 388.9 196.5 388.1 196.8 387.5 197.2 387.8 197.6 389.1 198 390.2 198.4 391.2 198.7 392.7 199.1 393.1 199.5 393.1 199.9 391.7 200.2 390.1 200.6 384.9 201 381.6 201.4 379.1 201.7 381 202.1 385 202.5 390.5 202.9 397.6 203.3 402.6 203.6 404.4 204 402.8 204.4 397 204.8 390 205.1 384 205.5 379.9 205.9 377.9 206.3 379.5 206.6 384.2 207 390.2 207.4 395.2 207.8 398.4 208.1 400.1 208.5 398.7 208.9 395.3 209.3 390.1 209.7 384.8 210 380.2 210.4 378.3 210.8 379.9 211.2 384.8 211.5 389.8 211.9 395.6 212.3 400.1 212.7 401.9 213 400.2 213.4 395.9 213.8 390.1 214.2 383.4 214.6 378.7 214.9 376.8 215.3 378.7 215.7 383.5 216.1 390.1 216.4 396.3 216.8 401.6 217.2 402.9 217.6 401.1 217.9 396.6 218.3 390.6 218.7 383.5 219.1 379 219.5 377 219.8 379.3 220.2 383.5 220.6 389.7 221 396.3 221.3 400.4 221.7 401.6 222.1 400.3 222.5 395.8 222.8 390.5 223.2 388.9 223.6 388 224 387.6 224.3 388.1 224.7 388.7 225.1 390.1 225.5 392 225.9 393 226.2 393.4 226.6 393 227 391.5 227.4 390.7 227.7 388.7 228.1 387.5 228.5 386.7 228.9 387.8 229.2 388.7 229.6 390.1 230 391.8 230.4 393 230.8 393.4 231.1 392.9 231.5 391.9 231.9 390 232.3 382.3 232.6 377.1 233 375.2 233.4 377.2 233.8 382.8 234.1 390.4 234.5 397.6 234.9 403.4 235.3 405.4 235.6 402.9 236 397.5 236.4 390 236.8 384.6 237.2 380.8 237.5 379.2 237.9 380.2 238.3 384 238.7 389.9 239 395.8 239.4 399.8 239.8 401.6 240.2 399.5 240.5 395.4 240.9 390.8 241.3 382.8 241.7 377.7 242.1 375.5 242.4 377.6 242.8 383 243.2 389.9 243.6 396.1 243.9 400.6 244.3 402.5 244.7 401.4 245.1 396.4 245.4 390.2 245.8 384.1 246.2 379.2 246.6 378.1 246.9 379.6 247.3 384 247.7 390.6 248.1 396.8 248.5 401.7 248.8 403.7 249.2 401.7 249.6 396.8 250 389.9 250.3 384.2 250.7 380.3 251.1 378.5 251.5 380.2 251.8 385 252.2 390.2 252.6 396 253 400.1 253.4 402 253.7 400.3 254.1 395.8 254.5 390.1 254.9 389.3 255.2 387.7 255.6 387.5 256 388 256.4 388.5 256.7 390.8 257.1 391.8 257.5 392.8 257.9 393.3 258.3 392.9 258.6 391.2 259 390 259.4 388.7 259.8 387.6 260.1 387.5 260.5 387.7 260.9 389.1 261.3 390.1 261.6 391.6 262 392.8 262.4 393.5 262.8 392.8 263.1 391.4 263.5 389.9 263.9 384.6 264.3 380 264.7 378.6 265 380 265.4 384.5 265.8 390.5 266.2 397.8 266.5 403.4 266.9 405 267.3 403 267.7 397.7 268 390.3 268.4 383.2 268.8 378 269.2 375.4 269.6 377.7 269.9 382.7 270.3 390.1 270.7 395.8 271.1 399.7 271.4 401.2 271.8 399.6 272.2 395.6 272.6 390.3 272.9 384.9 273.3 379.5 273.7 378.5 274.1 380 274.4 384.4 274.8 390.5 275.2 395.6 275.6 399.4 276 400.7 276.3 399.9 276.7 395.6 277.1 390 277.5 384.6 277.8 380.9 278.2 379.4 278.6 380.8 279 384.5 279.3 390.5 279.7 396.3 280.1 401.3 280.5 402.3 280.9 401.1 281.2 396.8 281.6 390.4 282 383.5 282.4 378.1 282.7 376.6 283.1 378.8 283.5 383.8 283.9 390 284.2 396.9 284.6 401.8 285 403.7 285.4 402 285.8 396.6 286.1 390.5 286.5 389.3 286.9 387.7 287.3 387.7 287.6 387.9 288 388.6 288.4 390.4 288.8 391.6 289.1 392.3 289.5 393 289.9 392.4 290.3 391.7 290.6 390.4 291 388.9 291.4 387.6 291.8 386.8 292.2 387.3 292.5 388.7 292.9 390.1 293.3 391.8 293.7 392.5 294 393.3 294.4 392.5 294.8 391.2 295.2 390.1 295.5 382.9 295.9 377.1 296.3 375.1 296.7 377.4 297.1 382.4 297.4 390.1 297.8 397.6 298.2 402.8 298.6 404.9 298.9 402.6 299.3 398.1 299.7 390.6 300.1 383 300.4 378 300.8 376.3 301.2 378.8 301.6 382.9 301.9 390.3 302.3 397.3 302.7 403.3 303.1 405.7 303.5 403.2 303.8 397.7 304.2 389.8 304.6 384.2 305 379.4 305.3 377.4 305.7 379.3 306.1 383.7 306.5 389.8 306.8 396.4 307.2 400.3 307.6 402.2 308 400.2 308.4 395.6 308.7 390.4 309.1 383 309.5 377.5 309.9 375.9 310.2 377.8 310.6 383.3 311 390.2 311.4 396 311.7 399.7 312.1 401.3 312.5 400.1 312.9 395.4 313.3 390.3 313.6 384.3 314 380 314.4 378.4 314.8 379.8 315.1 384.5 315.5 390.2 315.9 395.8 316.3 399.5 316.6 401 317 399.3 317.4 395.7 317.8 390.2 318.1 388.8 318.5 387.7 318.9 386.8 319.3 386.4 319.7 388.9 320 390.4 320.4 392.2 320.8 393.2 321.2 393.8 321.5 393.1 321.9 392 322.3 390.4 322.7 388 323 387.2 323.4 386.7 323.8 386.6 324.2 388.5 324.6 390.3 324.9 391 325.3 392.6 325.7 393 326.1 392.9 326.4 391.6 326.8 390.1 327.2 382.8 327.6 377.7 327.9 375.8 328.3 377.6 328.7 383.2 329.1 390.4 329.4 396 329.8 399.8 330.2 401 330.6 399.8 331 395.7 331.3 389.8 331.7 383.6 332.1 378.2 332.5 376.6 332.8 378.6 333.2 383.3 333.6 390.4 334 395.3 334.3 398.9 334.7 400.5 335.1 398.8 335.5 395.4 335.9 390 336.2 385.8 336.6 382.7 337 381.2 337.4 382.2 337.7 385.5 338.1 390.3 338.5 395.3 338.9 398.5 339.2 400.2 339.6 398.8 340 395.2 340.4 390.3 340.8 383.8 341.1 378.8 341.5 377.4 341.9 378.3 342.3 383.9 342.6 390.4 343 395.5 343.4 399.7 343.8 401.1 344.1 399.1 344.5 395.7 344.9 390.1 345.3 383.2 345.6 378.6 346 377 346.4 379.2 346.8 383.5 347.2 390.1 347.5 395.7 347.9 400 348.3 401.9 348.7 400.4 349 395.9 349.4 390.5 349.8 388.6 350.2 387.5 350.5 387.6 350.9 388 351.3 388.9 351.7 390.3 352.1 391.8 352.4 392.6 352.8 393.2 353.2 392.3 353.6 391.8 353.9 390.2 354.3 388.7" fill="none" stroke="#3b7d45" stroke-width="0.85" stroke-linejoin="round" opacity="1" clip-path="url(#lc21)"/>
<rect x="37.5" y="368.2" width="317" height="37" fill="none" stroke="#2b2b2b" stroke-width="1.1"/>
<text transform="translate(196,427.8) scale(0.98,1.07)" font-size="12" text-anchor="middle" fill="#1e1e1e" >IMF3</text>
<text transform="translate(32,438.5) scale(0.96,1.13)" font-size="11.5" text-anchor="end" fill="#1e1e1e" >10</text>
<text transform="translate(32,453.6) scale(0.96,1.13)" font-size="11.5" text-anchor="end" fill="#1e1e1e" >0</text>
<text transform="translate(32,468.8) scale(0.96,1.13)" font-size="11.5" text-anchor="end" fill="#1e1e1e" >−10</text>
<line x1="37.5" y1="434.7" x2="41.7" y2="434.7" stroke="#2b2b2b" stroke-width="0.9"/>
<line x1="354.5" y1="434.7" x2="350.3" y2="434.7" stroke="#2b2b2b" stroke-width="0.9"/>
<line x1="37.5" y1="442.3" x2="39.5" y2="442.3" stroke="#2b2b2b" stroke-width="0.9"/>
<line x1="354.5" y1="442.3" x2="352.5" y2="442.3" stroke="#2b2b2b" stroke-width="0.9"/>
<line x1="37.5" y1="449.9" x2="41.7" y2="449.9" stroke="#2b2b2b" stroke-width="0.9"/>
<line x1="354.5" y1="449.9" x2="350.3" y2="449.9" stroke="#2b2b2b" stroke-width="0.9"/>
<line x1="37.5" y1="457.4" x2="39.5" y2="457.4" stroke="#2b2b2b" stroke-width="0.9"/>
<line x1="354.5" y1="457.4" x2="352.5" y2="457.4" stroke="#2b2b2b" stroke-width="0.9"/>
<line x1="37.5" y1="465" x2="41.7" y2="465" stroke="#2b2b2b" stroke-width="0.9"/>
<line x1="354.5" y1="465" x2="350.3" y2="465" stroke="#2b2b2b" stroke-width="0.9"/>
<line x1="84.6" y1="469" x2="84.6" y2="466.8" stroke="#2b2b2b" stroke-width="0.9"/>
<line x1="131.7" y1="469" x2="131.7" y2="466.8" stroke="#2b2b2b" stroke-width="0.9"/>
<line x1="178.8" y1="469" x2="178.8" y2="466.8" stroke="#2b2b2b" stroke-width="0.9"/>
<line x1="225.9" y1="469" x2="225.9" y2="466.8" stroke="#2b2b2b" stroke-width="0.9"/>
<line x1="272.9" y1="469" x2="272.9" y2="466.8" stroke="#2b2b2b" stroke-width="0.9"/>
<line x1="320" y1="469" x2="320" y2="466.8" stroke="#2b2b2b" stroke-width="0.9"/>
<path d="M37.7 447.9 38.1 446.5 38.4 444.6 38.8 443.2 39.1 448.2 39.5 443.6 39.8 448.4 40.2 447.2 40.5 447.4 40.9 448.1 41.2 444.5 41.6 447.6 41.9 446.9 42.3 440.1 42.6 442 43 446.8 43.3 446.3 43.7 440.1 44 446.4 44.4 444.4 44.7 448.2 45.1 447.7 45.4 448.5 45.8 448.2 46.1 445.7 46.5 447 46.8 446.6 47.2 441.5 47.5 439.2 47.9 444.6 48.2 444.2 48.6 445.5 48.9 447.5 49.3 446.9 49.6 447.6 50 448.1 50.3 446.5 50.7 446.4 51 447.2 51.4 447.4 51.7 445.5 52.1 445.9 52.4 445.8 52.8 444 53.1 447.5 53.5 444.2 53.8 446.8 54.2 447.8 54.5 447.4 54.9 446.2 55.2 446.8 55.6 447.1 55.9 445.8 56.3 444.3 56.6 445.1 57 446.2 57.3 443.9 57.7 442.8 58 447.1 58.4 446.6 58.7 447.2 59.1 447.7 59.4 447.4 59.8 447.1 60.1 446.7 60.5 445.3 60.8 441.7 61.2 447.3 61.5 444.8 61.9 446.4 62.2 446.3 62.6 447.5 62.9 447.8 63.3 447.7 63.6 447.2 64 446.4 64.3 445 64.7 447.2 65 445.7 65.4 441.3 65.7 447.4 66.1 444.9 66.4 448.1 66.8 446.1 67.1 447.2 67.5 447.7 67.8 448.6 68.2 448.2 68.5 447.9 68.9 447.5 69.2 447.9 69.6 446 69.9 448.8 70.3 448 70.6 444.2 71 448.4 71.3 446.3 71.7 448.8 72 447.9 72.4 448.6 72.7 447.4 73.1 447.4 73.4 445.2 73.8 446.8 74.1 443.4 74.5 444.9 74.8 439.6 75.2 442 75.5 443.6 75.9 444.9 76.2 446.7 76.6 447.9 76.9 447.8 77.3 447.2 77.6 446.9 78 444.6 78.3 446.6 78.7 444.6 79 447 79.4 436.7 79.7 436.2 80.1 444.9 80.4 448 80.8 444.2 81.1 447.2 81.5 447.2 81.8 448.2 82.2 446.8 82.5 447 82.9 443.9 83.2 445.4 83.6 440.1 83.9 444 84.3 442 84.6 442.8 85 447.6 85.3 446.4 85.7 447 86 448.3 86.4 448 86.7 447.1 87.1 447.2 87.4 444.9 87.8 440.6 88.1 439.9 88.5 443.3 88.8 447 89.2 445.4 89.5 446.8 89.9 446.6 90.2 446.8 90.6 447.8 90.9 448.2 91.3 447.5 91.6 443.5 92 448.3 92.3 445.9 92.7 440.6 93 448.1 93.4 444.9 93.7 446.3 94.1 447.8 94.4 446.6 94.8 445.2 95.1 448.3 95.5 447.7 95.8 446.8 96.2 448.3 96.5 448.4 96.9 447.5 97.2 442.6 97.6 444.8 97.9 446 98.3 445.3 98.6 448.5 99 447.6 99.3 448.3 99.7 448.7 100 447.1 100.4 448.2 100.7 448.2 101.1 446.6 101.4 445 101.8 446 102.1 447 102.5 447.2 102.8 447.1 103.2 448.2 103.5 448.2 103.9 447.9 104.2 447 104.6 447.2 104.9 444.7 105.3 443.5 105.6 444.5 106 445.7 106.3 447 106.7 446.7 107 440.6 107.4 447.3 107.7 446.6 108.1 447.4 108.4 447.4 108.8 447.6 109.1 446.1 109.5 443.5 109.8 439.9 110.2 445.7 110.5 444.9 110.9 445.2 111.2 442.8 111.6 440.4 111.9 448.1 112.3 446.7 112.6 446.4 113 447.5 113.3 447.4 113.7 447.9 114 445.8 114.4 446.7 114.7 446.7 115.1 446.5 115.4 444.7 115.8 441.1 116.1 447.4 116.5 446.1 116.8 447.3 117.2 447.1 117.5 447.8 117.9 447.3 118.2 448 118.6 448.7 118.9 447.8 119.3 444.4 119.6 447.7 120 444.8 120.3 445.1 120.7 446.6 121 447.4 121.4 448.4 121.7 448.8 122.1 448.1 122.4 448.7 122.8 448.6 123.1 447.7 123.5 445.8 123.8 440.4 124.2 446.7 124.5 439.8 124.9 442.2 125.2 443.8 125.6 444.2 125.9 447.8 126.3 446.8 126.6 448.1 127 448.2 127.3 447.2 127.7 447.7 128 446.1 128.4 443.4 128.7 442.8 129.1 443.5 129.4 443.7 129.8 447.4 130.1 445.2 130.5 446.6 130.8 447.1 131.2 445.8 131.5 447.8 131.9 446.2 132.2 447.9 132.6 446.9 132.9 444.3 133.3 446.2 133.6 441.7 134 446 134.3 445 134.7 448.4 135 447.8 135.4 448.4 135.7 448 136.1 446.9 136.4 447.4 136.8 447.1 137.1 447.8 137.5 444.2 137.8 448.1 138.2 447.6 138.5 439.2 138.9 442.5 139.2 446.7 139.6 448.9 139.9 449 140.3 448.7 140.6 448.2 141 446.9 141.3 443.1 141.7 446.7 142 446.7 142.4 445.7 142.7 440.6 143.1 448.3 143.4 446.7 143.8 444.3 144.1 447.5 144.5 448.4 144.8 448.2 145.2 447.2 145.5 446.2 145.9 445.8 146.2 445.4 146.6 445.9 146.9 446.2 147.3 446.3 147.6 447.2 148 445.8 148.3 445.8 148.7 447.6 149 446.7 149.4 446.3 149.7 447.4 150.1 446.5 150.4 441.8 150.8 445.4 151.1 446.6 151.5 437.3 151.8 444.4 152.2 445.5 152.5 447.6 152.9 444.2 153.2 446.5 153.6 447.9 153.9 445.4 154.3 445.9 154.6 444.4 155 446.8 155.3 447.3 155.7 437.8 156 438.6 156.4 444 156.7 446.4 157.1 447.4 157.4 447.5 157.8 447.8 158.1 447.6 158.5 448 158.8 448.5 159.2 448.7 159.5 448.7 159.9 446.4 160.2 447.9 160.6 444.3 160.9 443.9 161.3 446.3 161.6 446.2 162 448.9 162.3 449.1 162.7 449 163 449.2 163.4 449.1 163.7 449.3 164.1 447.1 164.4 448.5 164.8 446.3 165.1 447.2 165.5 448.7 165.8 446.7 166.2 446.5 166.5 448.8 166.9 448.6 167.2 449 167.6 446.2 167.9 448.5 168.3 447.1 168.6 447.5 169 445.8 169.3 442 169.7 441.4 170 443.4 170.4 447.8 170.7 447.3 171.1 446.9 171.4 447.8 171.8 448 172.1 447.6 172.5 447.4 172.8 445.3 173.2 447.8 173.5 442.9 173.9 442.9 174.2 442.7 174.6 444.3 174.9 445 175.3 447.4 175.6 447.7 176 447.4 176.3 448.4 176.7 448.4 177 447.1 177.4 448.1 177.7 446.4 178.1 444.8 178.4 446.9 178.8 445.1 179.1 445.5 179.5 447.3 179.8 446.8 180.2 447.9 180.5 448.1 180.9 448.5 181.2 448.5 181.6 447.6 181.9 448.6 182.3 446.4 182.6 444.2 183 445.3 183.3 447.1 183.7 445.4 184 447.6 184.4 448.8 184.7 447 185.1 448.5 185.4 448.1 185.8 446.6 186.1 448.3 186.5 444.3 186.8 447.4 187.2 445.5 187.5 441 187.9 448.2 188.2 443.4 188.6 441.3 188.9 446 189.3 447.5 189.6 447.6 190 448.2 190.3 448.4 190.7 448.3 191 448 191.4 447 191.7 447.2 192.1 446.2 192.4 445.9 192.8 447.9 193.1 447.7 193.5 448.2 193.8 448.1 194.2 448.3 194.5 448.6 194.9 448.5 195.2 447.9 195.6 448.2 195.9 447.3 196.3 448.4 196.6 448 197 448.5 197.3 448.6 197.7 447.6 198 448.8 198.4 448.6 198.7 448.8 199.1 448.5 199.4 448.1 199.8 447.3 200.1 447.1 200.5 445.3 200.8 447.4 201.2 447.5 201.5 436.7 201.9 447.6 202.2 442.8 202.6 445.2 202.9 448.1 203.3 447.6 203.6 447.5 204 447.7 204.3 446.6 204.7 442.7 205 445.6 205.4 443.4 205.7 438.5 206.1 441.4 206.4 441.1 206.8 442.7 207.1 445.8 207.5 448.2 207.8 447.2 208.2 446.6 208.5 447.3 208.9 444.8 209.2 445.4 209.6 438.5 209.9 431.2 210.3 444.3 210.6 438.9 211 435.5 211.3 444.9 211.7 446.9 212 447 212.4 446.9 212.7 446.7 213.1 446.6 213.4 443.8 213.8 447 214.1 439.1 214.5 447.1 214.8 447.4 215.2 426.3 215.5 446.4 215.9 446.2 216.2 440.9 216.6 446.4 216.9 448 217.3 448.4 217.6 446.4 218 447.2 218.3 443 218.7 446.4 219 444.5 219.4 443.5 219.7 440 220.1 438.4 220.4 446.3 220.8 446.8 221.1 446.6 221.5 446.7 221.8 447.2 222.2 447.1 222.5 445.1 222.9 447.2 223.2 446.2 223.6 445 223.9 441.5 224.3 445.1 224.6 444.9 225 447.8 225.3 447.9 225.7 447.8 226 447.7 226.4 448.1 226.7 446.7 227.1 446.5 227.4 448 227.8 447.1 228.1 447 228.5 440.9 228.8 444.3 229.2 444.6 229.5 445.8 229.9 446.2 230.2 448 230.6 447.8 230.9 446.9 231.3 446.3 231.6 447.4 232 448.4 232.3 445.1 232.7 441.5 233 446 233.4 436.8 233.7 446.6 234.1 446.2 234.4 447.3 234.8 447.4 235.1 448.3 235.5 448.6 235.8 447.1 236.2 444 236.5 448.1 236.9 447.1 237.2 444.9 237.6 444.9 237.9 441.3 238.3 446.3 238.6 446.8 239 447.4 239.3 447.4 239.7 447.3 240 447.4 240.4 447.8 240.7 447.3 241.1 439.7 241.4 447.5 241.8 447.8 242.1 446.7 242.5 438.9 242.8 447.2 243.2 446.9 243.5 446.1 243.9 447.6 244.2 447.9 244.6 445 244.9 447 245.3 447.3 245.6 444.3 246 440.8 246.3 436.7 246.7 438.5 247 447.6 247.4 441.7 247.7 447.4 248.1 448.2 248.4 447.8 248.8 448.2 249.1 448.1 249.5 448.4 249.8 444.9 250.2 447.1 250.5 446.2 250.9 445.1 251.2 448 251.6 445.7 251.9 447.5 252.3 446.4 252.6 447 253 447.5 253.3 448 253.7 448.4 254 446 254.4 448.2 254.7 444.3 255.1 443.5 255.4 444.5 255.8 444.3 256.1 447.5 256.5 446.1 256.8 447.9 257.2 447.8 257.5 448.5 257.9 448 258.2 447.5 258.6 447.3 258.9 445 259.3 447.4 259.6 447.7 260 442.2 260.3 443.9 260.7 448.1 261 444.3 261.4 447.3 261.7 447.8 262.1 447.8 262.4 446.7 262.8 446.2 263.1 447.2 263.5 444.1 263.8 435.6 264.2 447.7 264.5 442.7 264.9 435.2 265.2 444.5 265.6 442.5 265.9 443.9 266.3 447.1 266.6 448 267 446.8 267.3 447.1 267.7 447.2 268 446.3 268.4 442.9 268.7 445.8 269.1 445.6 269.4 443.2 269.8 446.7 270.1 446.8 270.5 445.6 270.8 445.3 271.2 446.8 271.5 447.4 271.9 444.7 272.2 443.4 272.6 441.7 272.9 447.3 273.3 436.5 273.6 444.2 274 437.1 274.3 440 274.7 443.1 275 446.9 275.4 447.9 275.7 448.1 276.1 448.3 276.4 446.2 276.8 444 277.1 446.7 277.5 448.3 277.8 437.5 278.2 444.7 278.5 440.6 278.9 447.7 279.2 446.3 279.6 446.4 279.9 447.3 280.3 447.5 280.6 446 281 444.7 281.3 444.1 281.7 446.7 282 439.9 282.4 441.5 282.7 431.6 283.1 436.9 283.4 445.3 283.8 439.5 284.1 445.6 284.5 446.2 284.8 445.5 285.2 445.8 285.5 445.8 285.9 442.6 286.2 440.9 286.6 446.7 286.9 437.8 287.3 440.7 287.6 442.6 288 446.4 288.3 445.2 288.7 447.2 289 446.9 289.4 446.7 289.7 447.1 290.1 444 290.4 445.1 290.8 447.6 291.1 446.7 291.5 446.5 291.8 443.5 292.2 443.3 292.5 443.9 292.9 447.2 293.2 447.6 293.6 446.8 293.9 447.1 294.3 445.4 294.6 444 295 444.6 295.3 445.9 295.7 441.6 296 435.1 296.4 439.9 296.7 445.5 297.1 445.4 297.4 444.1 297.8 446.3 298.1 447.5 298.5 447.4 298.8 447.5 299.2 444.8 299.5 443.9 299.9 442.2 300.2 440.3 300.6 447.4 300.9 443.6 301.3 438.3 301.6 442.9 302 445.9 302.3 446.6 302.7 447.1 303 446.7 303.4 447.4 303.7 446.4 304.1 443.3 304.4 443.3 304.8 437 305.1 438.4 305.5 445.1 305.8 447.7 306.2 444.5 306.5 447 306.9 447.4 307.2 447.1 307.6 447.3 307.9 447.3 308.3 445.9 308.6 445.2 309 444.5 309.3 444.7 309.7 444.9 310 440 310.4 446.8 310.7 446.2 311.1 446.8 311.4 446.7 311.8 448.8 312.1 448.1 312.5 448.5 312.8 446.6 313.2 447.4 313.5 444.4 313.9 446.3 314.2 444.2 314.6 447 314.9 444.1 315.3 445.4 315.6 448.3 316 447.3 316.3 447.7 316.7 448.1 317 447.8 317.4 447.3 317.7 448.5 318.1 448.3 318.4 444.3 318.8 444.8 319.1 444.7 319.5 448.6 319.8 447.4 320.2 447.5 320.5 448.3 320.9 448.5 321.2 448.4 321.6 447.6 321.9 446.3 322.3 447.1 322.6 446.1 323 447.6 323.3 447.4 323.7 446.8 324 448 324.4 448.3 324.7 448.1 325.1 447.2 325.4 448.1 325.8 447.1 326.1 447.7 326.5 447.2 326.8 444.9 327.2 439.7 327.5 443 327.9 445 328.2 441.3 328.6 446.1 328.9 446.4 329.3 448.2 329.6 447.7 330 448.6 330.3 447.1 330.7 447.1 331 445.1 331.4 443.3 331.7 443.4 332.1 442.8 332.4 440.1 332.8 440.7 333.1 446.4 333.5 446 333.8 445.8 334.2 448.1 334.5 448.5 334.9 448.6 335.2 447.5 335.6 445.4 335.9 446.3 336.3 440.6 336.6 448.5 337 446.9 337.3 448.3 337.7 446.1 338 447.3 338.4 446.5 338.7 448.8 339.1 449.3 339.4 449.3 339.8 447.7 340.1 447.5 340.5 445.1 340.8 447 341.2 446.1 341.5 447.3 341.9 446.4 342.2 447.9 342.6 445.5 342.9 447.6 343.3 447.8 343.6 447.2 344 449 344.3 448.6 344.7 448.3 345 444.1 345.4 445.5 345.7 444.6 346.1 446.1 346.4 445.5 346.8 442.7 347.1 447.1 347.5 446.9 347.8 447.6 348.2 448.3 348.5 448 348.9 448.6 349.2 447.4 349.6 446.1 349.9 447 350.3 445.2 350.6 444.9 351 447.8 351.3 446.4 351.7 448.3 352 447.7 352.4 448.3 352.7 448.4 353.1 448.1 353.4 446.3 353.8 447.3 354.1 447.9 354.1 458.8 353.8 455.3 353.4 452.3 353.1 453.1 352.7 452 352.4 451.8 352 451.7 351.7 452.8 351.3 452.7 351 453.2 350.6 455.9 350.3 453.8 349.9 453.5 349.6 454.2 349.2 452.5 348.9 452.6 348.5 451.4 348.2 451.2 347.8 452.3 347.5 453.1 347.1 452 346.8 457.5 346.4 458.3 346.1 455.9 345.7 454.3 345.4 456.1 345 452.3 344.7 450.9 344.3 452 344 453.3 343.6 451.2 343.3 451.6 342.9 451.3 342.6 455.8 342.2 454.9 341.9 457 341.5 455.9 341.2 455.5 340.8 451.3 340.5 457.4 340.1 452.9 339.8 451.7 339.4 450.9 339.1 451.1 338.7 451.8 338.4 452 338 453.3 337.7 452 337.3 453.2 337 457.5 336.6 452.3 336.3 457.7 335.9 452.9 335.6 451.9 335.2 453.6 334.9 453.8 334.5 451.6 334.2 453.3 333.8 452.9 333.5 453.6 333.1 455.8 332.8 454.6 332.4 451.8 332.1 462.3 331.7 455.5 331.4 452.2 331 453.3 330.7 454 330.3 452.4 330 452.3 329.6 452 329.3 452.4 328.9 451.6 328.6 455.3 328.2 458.9 327.9 457 327.5 452.8 327.2 459.3 326.8 458.2 326.5 455.2 326.1 452.2 325.8 451.9 325.4 451.8 325.1 452.8 324.7 451.9 324.4 453.7 324 454.5 323.7 451.4 323.3 453.2 323 452.4 322.6 452.2 322.3 453.6 321.9 452.4 321.6 451.4 321.2 454 320.9 453.1 320.5 452.3 320.2 452.1 319.8 454.2 319.5 451.8 319.1 454.1 318.8 452.5 318.4 453.4 318.1 453.4 317.7 452 317.4 451.9 317 452.2 316.7 451.7 316.3 452.4 316 454.5 315.6 452.8 315.3 454.3 314.9 454.6 314.6 453.9 314.2 453.6 313.9 452.6 313.5 455.2 313.2 455.7 312.8 452 312.5 452.3 312.1 451.6 311.8 452.2 311.4 452.5 311.1 455.3 310.7 455.6 310.4 457.3 310 452.4 309.7 455.5 309.3 458 309 455.9 308.6 456.9 308.3 454 307.9 452.9 307.6 453.1 307.2 452 306.9 453.6 306.5 452.9 306.2 456 305.8 454.8 305.5 455.3 305.1 457.3 304.8 455.7 304.4 456 304.1 455.9 303.7 452.1 303.4 452.3 303 453.3 302.7 452.6 302.3 451.9 302 453.7 301.6 461.9 301.3 454.1 300.9 464.7 300.6 460.4 300.2 463 299.9 453.9 299.5 452.8 299.2 456.4 298.8 453.2 298.5 453.8 298.1 453.3 297.8 454.7 297.4 456.7 297.1 452.9 296.7 457.9 296.4 464.3 296 464.8 295.7 461.3 295.3 460 295 454.5 294.6 454.6 294.3 453.5 293.9 454.1 293.6 453.3 293.2 454.7 292.9 454.4 292.5 457 292.2 459.5 291.8 453.2 291.5 459.5 291.1 461 290.8 453.4 290.4 454.5 290.1 453.5 289.7 454.1 289.4 453.5 289 452.6 288.7 452.7 288.3 458.3 288 455.6 287.6 453.7 287.3 457.3 286.9 455 286.6 457 286.2 458.6 285.9 454.9 285.5 453.3 285.2 453 284.8 454.7 284.5 455 284.1 454.1 283.8 460.4 283.4 455.8 283.1 460.7 282.7 454 282.4 455.8 282 454.9 281.7 462.5 281.3 452.6 281 452.2 280.6 453.6 280.3 452 279.9 451.8 279.6 452.3 279.2 451.6 278.9 459.7 278.5 461.1 278.2 453.8 277.8 462.7 277.5 457.8 277.1 451.7 276.8 456.6 276.4 451.8 276.1 452.4 275.7 452.2 275.4 453.6 275 453.8 274.7 456.6 274.3 461.2 274 463 273.6 457.3 273.3 460 272.9 456.5 272.6 456.8 272.2 453.3 271.9 453.7 271.5 453 271.2 453.6 270.8 454.6 270.5 453.7 270.1 459.7 269.8 458.1 269.4 458.3 269.1 457.6 268.7 465.1 268.4 454.2 268 454.3 267.7 452.7 267.3 453.8 267 452.7 266.6 452.5 266.3 452.1 265.9 454.7 265.6 454.2 265.2 462.3 264.9 458.7 264.5 465.9 264.2 466.4 263.8 459.1 263.5 452.9 263.1 454.8 262.8 453.2 262.4 452 262.1 452.2 261.7 452 261.4 452.1 261 453.2 260.7 455.6 260.3 454.4 260 454.3 259.6 452 259.3 452.2 258.9 455.7 258.6 452.1 258.2 452.5 257.9 452.1 257.5 452.3 257.2 452.4 256.8 452.6 256.5 453.2 256.1 454.9 255.8 454.8 255.4 452.4 255.1 453.4 254.7 453.7 254.4 451.7 254 451.6 253.7 452.3 253.3 451.7 253 452.7 252.6 452.6 252.3 451.9 251.9 454.5 251.6 456.3 251.2 457.7 250.9 458.8 250.5 457.7 250.2 454.7 249.8 453.1 249.5 453.9 249.1 452.4 248.8 452.1 248.4 452 248.1 454.7 247.7 452.8 247.4 454.9 247 459.4 246.7 455.5 246.3 459.5 246 459.8 245.6 457.2 245.3 456.2 244.9 453 244.6 452.9 244.2 452.7 243.9 452.7 243.5 454.5 243.2 453.9 242.8 454.9 242.5 452.1 242.1 459 241.8 459.4 241.4 452.7 241.1 452.3 240.7 452.7 240.4 452.8 240 453.2 239.7 452.4 239.3 453.1 239 452.6 238.6 455.8 238.3 453.8 237.9 451.8 237.6 452.4 237.2 452.2 236.9 460.9 236.5 455.1 236.2 454.1 235.8 451.9 235.5 452.2 235.1 452.1 234.8 452.3 234.4 453.1 234.1 457.2 233.7 452.8 233.4 452.8 233 465 232.7 457.7 232.3 453 232 453.2 231.6 453.6 231.3 451.8 230.9 452.2 230.6 452.4 230.2 451.9 229.9 452.9 229.5 454.4 229.2 453.4 228.8 454.3 228.5 452.6 228.1 455.5 227.8 453.7 227.4 454.7 227.1 451.9 226.7 452.5 226.4 452.1 226 452.4 225.7 452.9 225.3 452.4 225 455 224.6 452.4 224.3 454.4 223.9 453.8 223.6 458.6 223.2 454.5 222.9 453.4 222.5 452.3 222.2 455.6 221.8 452.9 221.5 452.6 221.1 454.4 220.8 454.8 220.4 455.9 220.1 453.4 219.7 459.6 219.4 456.4 219 462.8 218.7 456.6 218.3 455.5 218 452.1 217.6 454.9 217.3 453.1 216.9 452.5 216.6 452.4 216.2 456.2 215.9 454.6 215.5 457.9 215.2 467.6 214.8 464.1 214.5 453.4 214.1 456.6 213.8 462.9 213.4 453.3 213.1 455.2 212.7 454.1 212.4 452.6 212 452.7 211.7 453 211.3 458 211 455 210.6 451.8 210.3 460.1 209.9 456.1 209.6 463.9 209.2 454.3 208.9 452.4 208.5 452.1 208.2 451.9 207.8 452.5 207.5 452.9 207.1 453 206.8 453.6 206.4 452.4 206.1 456.6 205.7 452.7 205.4 454 205 452.9 204.7 457.4 204.3 453.6 204 453 203.6 452.3 203.3 452.7 202.9 453.5 202.6 453.3 202.2 451.8 201.9 457.6 201.5 459 201.2 462 200.8 451.3 200.5 459.2 200.1 457 199.8 453.7 199.4 452.2 199.1 453.8 198.7 451.2 198.4 452.3 198 451.4 197.7 454 197.3 453.4 197 452.8 196.6 455.7 196.3 455.3 195.9 453.1 195.6 451.3 195.2 451.9 194.9 452 194.5 451.1 194.2 451.6 193.8 452 193.5 452 193.1 451.6 192.8 452.1 192.4 452.2 192.1 451.8 191.7 453.3 191.4 453.4 191 452.1 190.7 451.5 190.3 452.1 190 451.6 189.6 452.9 189.3 452.4 188.9 452.1 188.6 454.8 188.2 454.3 187.9 462.2 187.5 461.8 187.2 456.4 186.8 453.7 186.5 453 186.1 452.8 185.8 453.2 185.4 451.7 185.1 451.6 184.7 451.8 184.4 452.7 184 452.2 183.7 457.9 183.3 454.5 183 455.2 182.6 452.1 182.3 452.4 181.9 454.3 181.6 451.5 181.2 451.5 180.9 451.5 180.5 451.3 180.2 451.6 179.8 455.6 179.5 452.5 179.1 455.1 178.8 455.8 178.4 455.6 178.1 451.6 177.7 453.1 177.4 454.6 177 452.1 176.7 451.9 176.3 451.4 176 452.2 175.6 451.9 175.3 453.8 174.9 456.8 174.6 455.3 174.2 455.6 173.9 453.3 173.5 458.1 173.2 452.1 172.8 454.3 172.5 452.7 172.1 452.5 171.8 451.9 171.4 452 171.1 453.9 170.7 452.1 170.4 453.3 170 457.6 169.7 453 169.3 452.7 169 452.5 168.6 452.9 168.3 453.7 167.9 452 167.6 452.4 167.2 451.4 166.9 451.3 166.5 451.5 166.2 451.6 165.8 451.4 165.5 451.1 165.1 451.1 164.8 455.6 164.4 452.1 164.1 451.6 163.7 451.1 163.4 451.8 163 451 162.7 451.1 162.3 451.2 162 452.7 161.6 452.9 161.3 454 160.9 454 160.6 454 160.2 451.5 159.9 456.1 159.5 451.9 159.2 451.7 158.8 451.5 158.5 451.3 158.1 452.5 157.8 452.5 157.4 451.7 157.1 454.4 156.7 456.5 156.4 452.9 156 453.3 155.7 457.7 155.3 455.8 155 452 154.6 455.9 154.3 453.7 153.9 456 153.6 452.1 153.2 453.4 152.9 453.5 152.5 452.7 152.2 455.8 151.8 454.7 151.5 459.8 151.1 453.8 150.8 454.8 150.4 456.4 150.1 453.3 149.7 452.4 149.4 452.9 149 453.4 148.7 453.5 148.3 456.4 148 453.8 147.6 453.9 147.3 455.2 146.9 453.1 146.6 459.3 146.2 459.3 145.9 456 145.5 453 145.2 452.1 144.8 452.5 144.5 452.3 144.1 451.5 143.8 451.6 143.4 453.1 143.1 456 142.7 451 142.4 451.8 142 454.1 141.7 453.8 141.3 458.1 141 452.6 140.6 451.4 140.3 451.3 139.9 451.1 139.6 451.3 139.2 451.2 138.9 457.2 138.5 452 138.2 454.7 137.8 453.8 137.5 456.8 137.1 455.5 136.8 453.3 136.4 452.8 136.1 452.4 135.7 451.6 135.4 451.5 135 452.4 134.7 453.4 134.3 453.7 134 451.9 133.6 457.7 133.3 453.1 132.9 452.6 132.6 455.5 132.2 452 131.9 454.1 131.5 452.6 131.2 451.9 130.8 452.5 130.5 453.9 130.1 452.6 129.8 453.8 129.4 456.7 129.1 453.4 128.7 452.3 128.4 453 128 452.7 127.7 452.1 127.3 452.6 127 452.5 126.6 451.9 126.3 452.3 125.9 452.3 125.6 452.5 125.2 456.1 124.9 452.8 124.5 455.2 124.2 455.9 123.8 451.6 123.5 453.8 123.1 455.3 122.8 451.5 122.4 451.7 122.1 451.6 121.7 451.7 121.4 451.4 121 453.8 120.7 454.4 120.3 456.5 120 453.6 119.6 451.9 119.3 460 118.9 452.9 118.6 452 118.2 453 117.9 452.3 117.5 452.2 117.2 452.5 116.8 453.6 116.5 452.5 116.1 455 115.8 454.7 115.4 458.1 115.1 453.3 114.7 452.9 114.4 456.8 114 454.2 113.7 452.1 113.3 451.9 113 452.5 112.6 452.7 112.3 454 111.9 455.2 111.6 452.2 111.2 461.6 110.9 461 110.5 455.4 110.2 452.8 109.8 453.7 109.5 452.2 109.1 454.5 108.8 452 108.4 452.9 108.1 453.3 107.7 454.4 107.4 455 107 459.5 106.7 459.7 106.3 461.3 106 459.9 105.6 451.8 105.3 452.8 104.9 453.2 104.6 451.8 104.2 452.3 103.9 451.6 103.5 451.5 103.2 452 102.8 454 102.5 452.1 102.1 453.3 101.8 452.7 101.4 452.9 101.1 453.2 100.7 451.8 100.4 452.4 100 451.3 99.7 451.5 99.3 451.6 99 451.5 98.6 451.3 98.3 454.3 97.9 454.1 97.6 451.3 97.2 458.1 96.9 452.8 96.5 456.9 96.2 455.4 95.8 451.4 95.5 452.6 95.1 451.2 94.8 452.1 94.4 452 94.1 454.3 93.7 455.5 93.4 454.1 93 452.9 92.7 458.2 92.3 457.7 92 458.3 91.6 455.7 91.3 455.1 90.9 452.6 90.6 453.1 90.2 452.4 89.9 453 89.5 453.9 89.2 457.3 88.8 452.8 88.5 453.7 88.1 454.2 87.8 457.8 87.4 453.5 87.1 452.5 86.7 452.7 86.4 452.3 86 451.7 85.7 452.8 85.3 453.5 85 452.3 84.6 451.7 84.3 457.7 83.9 456.7 83.6 453.6 83.2 455.2 82.9 452.7 82.5 451.9 82.2 453.3 81.8 452.2 81.5 452.6 81.1 452.1 80.8 452.1 80.4 454.7 80.1 454.2 79.7 453.4 79.4 458.5 79 452.5 78.7 457.7 78.3 457.5 78 452.4 77.6 454.1 77.3 452.6 76.9 452.4 76.6 452.6 76.2 452.4 75.9 456.6 75.5 453.2 75.2 454.2 74.8 455.3 74.5 459.2 74.1 454.5 73.8 454.9 73.4 451.5 73.1 451.7 72.7 452.3 72.4 451.4 72 451.6 71.7 451.2 71.3 451.2 71 454.2 70.6 452.1 70.3 458.4 69.9 456.7 69.6 453.1 69.2 452.4 68.9 452.2 68.5 451.8 68.2 451.8 67.8 451.3 67.5 451.6 67.1 451.9 66.8 452.8 66.4 452.5 66.1 457.3 65.7 457.7 65.4 455.5 65 456.7 64.7 452.4 64.3 454 64 452.7 63.6 452.8 63.3 452.4 62.9 453.9 62.6 453.1 62.2 454.3 61.9 456.4 61.5 453.1 61.2 457.9 60.8 456 60.5 452.3 60.1 457.2 59.8 455 59.4 452.8 59.1 452.6 58.7 452.5 58.4 452.4 58 452.9 57.7 452.5 57.3 455.5 57 452.5 56.6 453.4 56.3 453.1 55.9 452.5 55.6 453.5 55.2 454.6 54.9 453.6 54.5 452 54.2 452.7 53.8 452.2 53.5 454.1 53.1 456.4 52.8 455 52.4 455 52.1 455.3 51.7 457.8 51.4 453.1 51 453.4 50.7 454.5 50.3 452.4 50 452.9 49.6 452.4 49.3 452.4 48.9 453.3 48.6 457.5 48.2 456.8 47.9 454.9 47.5 454.2 47.2 462.3 46.8 454.7 46.5 454.7 46.1 454.2 45.8 452.4 45.4 452.5 45.1 452.2 44.7 451.8 44.4 453 44 453.4 43.7 459.7 43.3 454.7 43 459.4 42.6 460.2 42.3 456 41.9 458.7 41.6 454.8 41.2 454.8 40.9 452.3 40.5 452.6 40.2 451.8 39.8 452.2 39.5 452.6 39.1 459.2 38.8 459.4 38.4 453.4 38.1 457.6 37.7 454.3Z" fill="#3b7d45" stroke="#3b7d45" stroke-width="0.4" stroke-linejoin="round" clip-path="url(#lc22)"/>
<rect x="37.5" y="432" width="317" height="37" fill="none" stroke="#2b2b2b" stroke-width="1.1"/>
<text transform="translate(196,490.2) scale(0.98,1.07)" font-size="12" text-anchor="middle" fill="#1e1e1e" >IMF4</text>
<text transform="translate(32,500.1) scale(0.96,1.13)" font-size="11.5" text-anchor="end" fill="#1e1e1e" >10</text>
<text transform="translate(32,514.4) scale(0.96,1.13)" font-size="11.5" text-anchor="end" fill="#1e1e1e" >0</text>
<text transform="translate(32,529.2) scale(0.96,1.13)" font-size="11.5" text-anchor="end" fill="#1e1e1e" >−10</text>
<line x1="37.5" y1="496.3" x2="41.7" y2="496.3" stroke="#2b2b2b" stroke-width="0.9"/>
<line x1="354.5" y1="496.3" x2="350.3" y2="496.3" stroke="#2b2b2b" stroke-width="0.9"/>
<line x1="37.5" y1="503.6" x2="39.5" y2="503.6" stroke="#2b2b2b" stroke-width="0.9"/>
<line x1="354.5" y1="503.6" x2="352.5" y2="503.6" stroke="#2b2b2b" stroke-width="0.9"/>
<line x1="37.5" y1="510.9" x2="41.7" y2="510.9" stroke="#2b2b2b" stroke-width="0.9"/>
<line x1="354.5" y1="510.9" x2="350.3" y2="510.9" stroke="#2b2b2b" stroke-width="0.9"/>
<line x1="37.5" y1="518.1" x2="39.5" y2="518.1" stroke="#2b2b2b" stroke-width="0.9"/>
<line x1="354.5" y1="518.1" x2="352.5" y2="518.1" stroke="#2b2b2b" stroke-width="0.9"/>
<line x1="37.5" y1="525.4" x2="41.7" y2="525.4" stroke="#2b2b2b" stroke-width="0.9"/>
<line x1="354.5" y1="525.4" x2="350.3" y2="525.4" stroke="#2b2b2b" stroke-width="0.9"/>
<line x1="84.6" y1="531.6" x2="84.6" y2="529.4" stroke="#2b2b2b" stroke-width="0.9"/>
<line x1="131.7" y1="531.6" x2="131.7" y2="529.4" stroke="#2b2b2b" stroke-width="0.9"/>
<line x1="178.8" y1="531.6" x2="178.8" y2="529.4" stroke="#2b2b2b" stroke-width="0.9"/>
<line x1="225.9" y1="531.6" x2="225.9" y2="529.4" stroke="#2b2b2b" stroke-width="0.9"/>
<line x1="272.9" y1="531.6" x2="272.9" y2="529.4" stroke="#2b2b2b" stroke-width="0.9"/>
<line x1="320" y1="531.6" x2="320" y2="529.4" stroke="#2b2b2b" stroke-width="0.9"/>
<path d="M37.7 508.1 38.1 505.4 38.4 502.6 38.8 508.1 39.1 508.5 39.5 510.1 39.8 510.1 40.2 510.2 40.5 510 40.9 510.1 41.2 509.9 41.6 509.7 41.9 509.4 42.3 508.8 42.6 509.1 43 499.4 43.3 502.6 43.7 506.9 44 509.1 44.4 509.5 44.7 509.8 45.1 509.5 45.4 509.4 45.8 508.6 46.1 509.7 46.5 509.2 46.8 508.6 47.2 502.7 47.5 507.3 47.9 507.3 48.2 507.3 48.6 509.3 48.9 509.6 49.3 509.6 49.6 509.6 50 509.8 50.3 509.4 50.7 509.4 51 509.3 51.4 507.8 51.7 505.1 52.1 499.2 52.4 504.6 52.8 509.1 53.1 508.9 53.5 509.1 53.8 509.4 54.2 508.8 54.5 508.7 54.9 509.2 55.2 509.1 55.6 509.1 55.9 501.9 56.3 505.3 56.6 507.8 57 505.9 57.3 507.8 57.7 508.7 58 508.9 58.4 509.4 58.7 509.3 59.1 509.4 59.4 509.3 59.8 509.1 60.1 508.5 60.5 508.8 60.8 504.1 61.2 501.3 61.5 503.9 61.9 507.6 62.2 509.4 62.6 509.6 62.9 509.6 63.3 509.7 63.6 509.9 64 510 64.3 509.6 64.7 509.1 65 505 65.4 505.7 65.7 505.9 66.1 508.5 66.4 508.6 66.8 509.8 67.1 509.9 67.5 510.1 67.8 509.9 68.2 509.8 68.5 509.8 68.9 509.9 69.2 508 69.6 507 69.9 504.6 70.3 509.6 70.6 506.4 71 509.4 71.3 509.2 71.7 508.9 72 509.2 72.4 509.1 72.7 508.8 73.1 509.1 73.4 508.3 73.8 508 74.1 502.6 74.5 498.2 74.8 501.9 75.2 503.9 75.5 508.7 75.9 509.1 76.2 509.4 76.6 509.3 76.9 509.4 77.3 509.7 77.6 509.6 78 509.7 78.3 507.8 78.7 506.7 79 503.7 79.4 508.3 79.7 508.1 80.1 509.6 80.4 509.9 80.8 509.7 81.1 509.9 81.5 509.8 81.8 509.9 82.2 509.9 82.5 509.5 82.9 508.8 83.2 508.9 83.6 501.7 83.9 506.5 84.3 506.2 84.6 509.5 85 509.9 85.3 509.7 85.7 509.9 86 509.8 86.4 510 86.7 509.8 87.1 509.3 87.4 509.5 87.8 509 88.1 509 88.5 505.3 88.8 507.4 89.2 508.9 89.5 509 89.9 509.3 90.2 509 90.6 508.9 90.9 508.8 91.3 509.3 91.6 509.1 92 507.8 92.3 507 92.7 508.3 93 509.1 93.4 509.2 93.7 509 94.1 509.2 94.4 509.1 94.8 509.4 95.1 508.4 95.5 509.6 95.8 509.6 96.2 509.5 96.5 508.9 96.9 507.2 97.2 505.3 97.6 506.6 97.9 509.1 98.3 509.3 98.6 509.8 99 509.6 99.3 509.6 99.7 509.7 100 509.6 100.4 509.8 100.7 509.3 101.1 508.7 101.4 504.7 101.8 503.5 102.1 505.2 102.5 507.9 102.8 509.5 103.2 509.4 103.5 509.7 103.9 509.6 104.2 509.6 104.6 509.6 104.9 509.5 105.3 509.5 105.6 509.3 106 504.3 106.3 503.2 106.7 509.4 107 508.3 107.4 509.8 107.7 510.2 108.1 510.3 108.4 510.2 108.8 510.3 109.1 510.3 109.5 510.3 109.8 509.6 110.2 505.5 110.5 507.9 110.9 502 111.2 501.9 111.6 507.4 111.9 509.8 112.3 509.9 112.6 509.7 113 509.7 113.3 509.6 113.7 509.4 114 509.5 114.4 508.9 114.7 508.7 115.1 509 115.4 493.5 115.8 505.3 116.1 508.9 116.5 509.2 116.8 509.2 117.2 508 117.5 509.5 117.9 509.2 118.2 509.1 118.6 509.3 118.9 509.2 119.3 506.3 119.6 506.6 120 506.8 120.3 506.3 120.7 508.9 121 509.7 121.4 509.7 121.7 509.9 122.1 509.7 122.4 509.8 122.8 509.8 123.1 509.9 123.5 509.8 123.8 506.3 124.2 510 124.5 509.6 124.9 509.7 125.2 509.9 125.6 509.8 125.9 510 126.3 510 126.6 510 127 510.1 127.3 510.1 127.7 509.9 128 509.6 128.4 509.6 128.7 507.5 129.1 506.3 129.4 510 129.8 510.1 130.1 509.8 130.5 510.2 130.8 509.8 131.2 510 131.5 509.9 131.9 509.8 132.2 510 132.6 509.6 132.9 508.1 133.3 508 133.6 506.9 134 504.9 134.3 509.6 134.7 509.7 135 509.6 135.4 509.6 135.7 509.7 136.1 509.7 136.4 509.5 136.8 509.1 137.1 506.7 137.5 505.6 137.8 506.7 138.2 505 138.5 509 138.9 508.7 139.2 509.7 139.6 509.5 139.9 509.5 140.3 509.3 140.6 509.4 141 508.5 141.3 509 141.7 508.8 142 509.1 142.4 502.6 142.7 506.5 143.1 508.4 143.4 508.5 143.8 509.4 144.1 509.6 144.5 509.3 144.8 509.4 145.2 509.3 145.5 509.5 145.9 509.4 146.2 508.9 146.6 508.7 146.9 503.6 147.3 503.1 147.6 508.7 148 509 148.3 509.5 148.7 509.5 149 509.7 149.4 509.6 149.7 509.6 150.1 509.8 150.4 509.1 150.8 508.3 151.1 502.1 151.5 508.3 151.8 501.4 152.2 506.4 152.5 508.9 152.9 509.2 153.2 509.2 153.6 509 153.9 509.3 154.3 509.5 154.6 508.9 155 509.2 155.3 505.8 155.7 508.6 156 509.1 156.4 501.5 156.7 508.8 157.1 508.9 157.4 509.3 157.8 509.4 158.1 509.5 158.5 509.6 158.8 509.2 159.2 509.3 159.5 508.8 159.9 507.8 160.2 507 160.6 505.7 160.9 507.3 161.3 508.4 161.6 509 162 509.7 162.3 509.4 162.7 509.7 163 509.4 163.4 509.3 163.7 509.5 164.1 508.8 164.4 509.2 164.8 508.8 165.1 509.1 165.5 509.2 165.8 508.3 166.2 509.2 166.5 509.4 166.9 509.2 167.2 509.3 167.6 509.1 167.9 509.1 168.3 509.1 168.6 508.4 169 507.6 169.3 500.7 169.7 509 170 505.1 170.4 508.9 170.7 508.6 171.1 509.2 171.4 509.5 171.8 509.1 172.1 509.4 172.5 509.6 172.8 509.7 173.2 506.4 173.5 499.6 173.9 490.5 174.2 487.2 174.6 502 174.9 508.4 175.3 509.4 175.6 508.1 176 509.9 176.3 509.8 176.7 509.8 177 509.8 177.4 509.3 177.7 508.9 178.1 507 178.4 505.1 178.8 499.5 179.1 506.9 179.5 508.3 179.8 509.2 180.2 509.5 180.5 509.3 180.9 509.6 181.2 509.4 181.6 509.5 181.9 509.2 182.3 508.1 182.6 508.7 183 502.5 183.3 505.4 183.7 505.3 184 508.7 184.4 509.2 184.7 509.5 185.1 508.3 185.4 509.1 185.8 509.4 186.1 509.4 186.5 509.1 186.8 507.1 187.2 508.4 187.5 504.7 187.9 500.5 188.2 504.3 188.6 508.1 188.9 509.3 189.3 509.1 189.6 509.6 190 509.7 190.3 509.5 190.7 509.6 191 509.5 191.4 509.2 191.7 508.5 192.1 505.5 192.4 508.9 192.8 509.8 193.1 509.8 193.5 510 193.8 510 194.2 509.7 194.5 509.8 194.9 509.8 195.2 509.7 195.6 509.5 195.9 507.8 196.3 505.1 196.6 505.4 197 509.4 197.3 509.1 197.7 509.4 198 509.2 198.4 509.5 198.7 509.3 199.1 509.3 199.4 509.1 199.8 509.3 200.1 509.4 200.5 507.3 200.8 504.1 201.2 506.8 201.5 508.4 201.9 508.2 202.2 509.4 202.6 509.7 202.9 509.9 203.3 509.8 203.6 509.9 204 509.8 204.3 510.1 204.7 509.7 205 510.2 205.4 508.5 205.7 509.7 206.1 509.6 206.4 508.9 206.8 510.2 207.1 510.1 207.5 510.3 207.8 510.3 208.2 508.8 208.5 510.1 208.9 510.2 209.2 509.7 209.6 508.8 209.9 507.7 210.3 505.9 210.6 508.7 211 509.2 211.3 509.5 211.7 509.7 212 509.9 212.4 509.6 212.7 509.7 213.1 509.9 213.4 509.9 213.8 508.9 214.1 509.6 214.5 504.9 214.8 506.7 215.2 508.4 215.5 508.9 215.9 509.7 216.2 509.6 216.6 509.9 216.9 509.9 217.3 509.7 217.6 508.8 218 509.8 218.3 509.2 218.7 509.3 219 506.3 219.4 509.3 219.7 502.6 220.1 508 220.4 509.6 220.8 508.6 221.1 509.2 221.5 509.4 221.8 509.7 222.2 509.6 222.5 509.7 222.9 509.5 223.2 509.4 223.6 508.5 223.9 509.1 224.3 508.5 224.6 509.1 225 510 225.3 509.9 225.7 509.8 226 509.9 226.4 509.7 226.7 509.7 227.1 509.9 227.4 509.5 227.8 508.3 228.1 509.6 228.5 509.6 228.8 509.3 229.2 509.2 229.5 509.7 229.9 509.9 230.2 509.9 230.6 510.1 230.9 509.9 231.3 510 231.6 509.8 232 509.9 232.3 507 232.7 504.2 233 502.9 233.4 510.1 233.7 509 234.1 509.8 234.4 510 234.8 510.2 235.1 510.3 235.5 510 235.8 510 236.2 509.9 236.5 510.1 236.9 508.6 237.2 502.7 237.6 508.2 237.9 505.8 238.3 508.7 238.6 509.6 239 509.9 239.3 509.6 239.7 509.8 240 509.8 240.4 509.6 240.7 509.4 241.1 508.5 241.4 509.3 241.8 507.7 242.1 502.4 242.5 507.2 242.8 509.9 243.2 509.8 243.5 510 243.9 510 244.2 510 244.6 510 244.9 508.7 245.3 510 245.6 507.8 246 506.5 246.3 506.6 246.7 509.5 247 508.1 247.4 509.4 247.7 509.7 248.1 509.6 248.4 509.4 248.8 509.6 249.1 509.6 249.5 509.7 249.8 509.3 250.2 509.1 250.5 508 250.9 506.8 251.2 503.3 251.6 505.6 251.9 509.1 252.3 509.4 252.6 509.2 253 509.1 253.3 509.5 253.7 509.4 254 509.2 254.4 509.2 254.7 507.1 255.1 505.9 255.4 508.2 255.8 503.1 256.1 507 256.5 509.1 256.8 509.3 257.2 509.5 257.5 509.3 257.9 509.6 258.2 509.6 258.6 508.5 258.9 509.6 259.3 509.2 259.6 507.7 260 509.7 260.3 508.7 260.7 509.2 261 510 261.4 510.1 261.7 510 262.1 508.9 262.4 509.8 262.8 509.9 263.1 509.7 263.5 509.8 263.8 508 264.2 507.6 264.5 503.2 264.9 505.2 265.2 508.5 265.6 509.9 265.9 509.8 266.3 509.8 266.6 509.9 267 510 267.3 508.4 267.7 509.9 268 509.6 268.4 508 268.7 504.9 269.1 505.2 269.4 508.7 269.8 509.2 270.1 509.6 270.5 509.4 270.8 508.8 271.2 507.9 271.5 509.3 271.9 508.6 272.2 508.7 272.6 508.5 272.9 508.3 273.3 502.7 273.6 508.7 274 507.8 274.3 508.6 274.7 508.7 275 508.6 275.4 509 275.7 509.1 276.1 509.1 276.4 509 276.8 509.3 277.1 509 277.5 508.5 277.8 506.5 278.2 503 278.5 507.2 278.9 508.3 279.2 509.3 279.6 509.5 279.9 509.7 280.3 509.9 280.6 510 281 509.9 281.3 509.8 281.7 509.3 282 509.2 282.4 509.8 282.7 507.9 283.1 509.5 283.4 510 283.8 510.1 284.1 509.7 284.5 510 284.8 509.6 285.2 509.8 285.5 509.9 285.9 509.6 286.2 508.8 286.6 508.9 286.9 508.2 287.3 505.8 287.6 508.9 288 509 288.3 509.7 288.7 509.8 289 509.5 289.4 509.9 289.7 509.7 290.1 509.6 290.4 509.9 290.8 509.5 291.1 509.6 291.5 509.9 291.8 509.2 292.2 509.9 292.5 510.2 292.9 510.2 293.2 510.2 293.6 510.2 293.9 510.1 294.3 510 294.6 509.9 295 510.1 295.3 508.3 295.7 509.1 296 505.8 296.4 509.5 296.7 508.2 297.1 509.2 297.4 509.3 297.8 509.8 298.1 509.5 298.5 509.7 298.8 509.3 299.2 509.5 299.5 509.4 299.9 509.5 300.2 503.2 300.6 509.6 300.9 505.7 301.3 509.2 301.6 509.3 302 509.6 302.3 509.5 302.7 509.6 303 509.2 303.4 509.5 303.7 509.4 304.1 509.2 304.4 507.4 304.8 509.4 305.1 500.6 305.5 509.5 305.8 508.6 306.2 509.2 306.5 509.5 306.9 509.7 307.2 509.4 307.6 509.7 307.9 509.6 308.3 509.7 308.6 508.7 309 508.5 309.3 508.6 309.7 499.1 310 505.3 310.4 507.6 310.7 509.4 311.1 509.1 311.4 509.5 311.8 509.2 312.1 509.3 312.5 509.6 312.8 509.5 313.2 509.1 313.5 508.5 313.9 505.5 314.2 508.5 314.6 508.8 314.9 509.1 315.3 509.4 315.6 509.6 316 509.6 316.3 509.7 316.7 509.8 317 509.8 317.4 510 317.7 509.5 318.1 509.4 318.4 508 318.8 508.6 319.1 508.7 319.5 508.4 319.8 509.3 320.2 509.5 320.5 509.4 320.9 509.5 321.2 509.1 321.6 509 321.9 509.1 322.3 509.3 322.6 508.7 323 509 323.3 508.9 323.7 508.6 324 508.6 324.4 509.3 324.7 509.4 325.1 509.5 325.4 509.8 325.8 509.3 326.1 509.4 326.5 509.7 326.8 508.7 327.2 508.1 327.5 506.4 327.9 499.9 328.2 503.9 328.6 509 328.9 509.9 329.3 509.7 329.6 510 330 510 330.3 509.8 330.7 509.9 331 509.9 331.4 509.8 331.7 509.3 332.1 503.5 332.4 508.1 332.8 508.5 333.1 509.6 333.5 509.7 333.8 509.6 334.2 508.1 334.5 509.6 334.9 509.4 335.2 509.3 335.6 509.4 335.9 508 336.3 507.3 336.6 504.8 337 500.7 337.3 507.5 337.7 507.9 338 509.5 338.4 509.4 338.7 509.5 339.1 509.4 339.4 509.5 339.8 509.2 340.1 508.9 340.5 508.9 340.8 508.1 341.2 505 341.5 508.2 341.9 505.6 342.2 508.6 342.6 509.5 342.9 509.5 343.3 509.4 343.6 509.6 344 509.2 344.3 509.6 344.7 507.2 345 509.5 345.4 504.3 345.7 500.3 346.1 506.1 346.4 506.3 346.8 509 347.1 509.5 347.5 509.7 347.8 509.8 348.2 509.7 348.5 509.7 348.9 509.5 349.2 509.4 349.6 507.3 349.9 505.8 350.3 507.5 350.6 504.1 351 509.4 351.3 508.7 351.7 509.8 352 509.4 352.4 509.9 352.7 509.9 353.1 509.6 353.4 509.9 353.8 509.7 354.1 507.9 354.1 511.9 353.8 511.7 353.4 511.9 353.1 511.7 352.7 512.1 352.4 512 352 512 351.7 512.2 351.3 512.2 351 513.3 350.6 520.2 350.3 521.3 349.9 515 349.6 513.7 349.2 512 348.9 512 348.5 511.8 348.2 511.9 347.8 511.9 347.5 511.9 347.1 512.2 346.8 512.3 346.4 512.7 346.1 521.2 345.7 512.6 345.4 515.5 345 513.1 344.7 512.1 344.3 512.1 344 512.3 343.6 512.4 343.3 512 342.9 512.3 342.6 512.2 342.2 513.1 341.9 513.3 341.5 516.3 341.2 514.4 340.8 514.5 340.5 513.4 340.1 512.4 339.8 512.4 339.4 512.5 339.1 512.5 338.7 512.1 338.4 512.6 338 512.6 337.7 513.4 337.3 513.5 337 515.5 336.6 513.7 336.3 516.6 335.9 514.4 335.6 512 335.2 512.1 334.9 511.9 334.5 511.9 334.2 511.9 333.8 512.1 333.5 512.4 333.1 512.9 332.8 516.4 332.4 513.8 332.1 515.3 331.7 512.7 331.4 512.6 331 511.7 330.7 511.7 330.3 511.6 330 511.7 329.6 511.7 329.3 511.6 328.9 512 328.6 512.3 328.2 512.1 327.9 521.3 327.5 514.6 327.2 514.5 326.8 513.2 326.5 512.1 326.1 511.9 325.8 512.7 325.4 511.9 325.1 512.1 324.7 512.1 324.4 512.4 324 512.2 323.7 513.8 323.3 515 323 513.8 322.6 512.7 322.3 512.5 321.9 512.2 321.6 512.2 321.2 512.5 320.9 512.5 320.5 512.2 320.2 512.1 319.8 512.6 319.5 512 319.1 516.3 318.8 515.1 318.4 513 318.1 512.4 317.7 512.1 317.4 511.7 317 511.7 316.7 511.7 316.3 511.7 316 511.8 315.6 513 315.3 512 314.9 512.4 314.6 514.2 314.2 519.2 313.9 512.3 313.5 513.3 313.2 512.9 312.8 512.4 312.5 512 312.1 512.1 311.8 512.3 311.4 512.1 311.1 512.5 310.7 512 310.4 513.6 310 520 309.7 515.4 309.3 516.1 309 514.8 308.6 512 308.3 512 307.9 511.8 307.6 511.9 307.2 512.2 306.9 512 306.5 511.9 306.2 512.2 305.8 514.8 305.5 517.6 305.1 518.4 304.8 517.9 304.4 512.3 304.1 512.4 303.7 512.1 303.4 512.2 303 511.9 302.7 512 302.3 512 302 512.2 301.6 513 301.3 513 300.9 513.1 300.6 517.6 300.2 513.9 299.9 512.7 299.5 512.1 299.2 512.3 298.8 512 298.5 512 298.1 512.3 297.8 511.9 297.4 512.2 297.1 512.1 296.7 514.9 296.4 512.8 296 513.1 295.7 515.3 295.3 512.7 295 511.8 294.6 511.8 294.3 511.5 293.9 511.4 293.6 511.3 293.2 511.5 292.9 511.4 292.5 511.6 292.2 512.9 291.8 513.7 291.5 513.8 291.1 511.7 290.8 511.8 290.4 511.8 290.1 511.9 289.7 512 289.4 512 289 511.8 288.7 512.2 288.3 512 288 512 287.6 512.4 287.3 514.8 286.9 513.3 286.6 513.6 286.2 512.2 285.9 511.9 285.5 512 285.2 511.7 284.8 511.9 284.5 511.7 284.1 511.7 283.8 511.6 283.4 512 283.1 512.5 282.7 514.9 282.4 516.9 282 511.6 281.7 512.1 281.3 511.5 281 511.5 280.6 511.7 280.3 511.9 279.9 511.7 279.6 512.2 279.2 512 278.9 512.6 278.5 516.1 278.2 515.7 277.8 514.4 277.5 513.4 277.1 513 276.8 512.2 276.4 512.7 276.1 512.3 275.7 512.3 275.4 512.7 275 512.7 274.7 512.7 274.3 514.2 274 517.2 273.6 519.9 273.3 516.8 272.9 513.9 272.6 513.3 272.2 512.7 271.9 513 271.5 512.6 271.2 512.3 270.8 512.2 270.5 512.4 270.1 512.4 269.8 513.8 269.4 516.8 269.1 519.7 268.7 515 268.4 513 268 512.1 267.7 511.8 267.3 511.8 267 511.6 266.6 511.6 266.3 511.6 265.9 512.7 265.6 511.8 265.2 512.9 264.9 516.2 264.5 513.4 264.2 516.5 263.8 511.7 263.5 511.7 263.1 511.8 262.8 511.9 262.4 511.9 262.1 511.6 261.7 511.6 261.4 511.7 261 511.7 260.7 512.8 260.3 514.4 260 512.3 259.6 512.5 259.3 513.1 258.9 511.6 258.6 511.7 258.2 512.1 257.9 513 257.5 511.9 257.2 512.4 256.8 512.1 256.5 512.4 256.1 513.3 255.8 513.3 255.4 520.3 255.1 514.6 254.7 512.1 254.4 512.8 254 512.1 253.7 512.3 253.3 512.8 253 512.3 252.6 512.2 252.3 512 251.9 513.1 251.6 515.3 251.2 513.6 250.9 513.3 250.5 516.7 250.2 513 249.8 512.8 249.5 512.1 249.1 513.8 248.8 512.1 248.4 512.1 248.1 512.1 247.7 512.2 247.4 512.8 247 513.5 246.7 516.1 246.3 516.7 246 511.6 245.6 514.7 245.3 511.9 244.9 511.5 244.6 511.6 244.2 511.5 243.9 511.6 243.5 511.5 243.2 511.6 242.8 511.6 242.5 513.5 242.1 517 241.8 518.9 241.4 516.6 241.1 512.5 240.7 512.2 240.4 511.9 240 511.9 239.7 512.1 239.3 511.9 239 512 238.6 511.7 238.3 512 237.9 513.5 237.6 511.7 237.2 520.1 236.9 515.8 236.5 511.9 236.2 511.5 235.8 511.4 235.5 511.6 235.1 511.5 234.8 511.4 234.4 511.5 234.1 511.5 233.7 511.8 233.4 512 233 516.7 232.7 513.8 232.3 513.2 232 512.8 231.6 511.8 231.3 511.6 230.9 511.7 230.6 512.5 230.2 511.6 229.9 511.9 229.5 511.6 229.2 512 228.8 512.2 228.5 512.6 228.1 512.2 227.8 513 227.4 512.3 227.1 511.7 226.7 511.6 226.4 511.6 226 511.7 225.7 511.7 225.3 511.8 225 512 224.6 512.2 224.3 514.6 223.9 516 223.6 517.2 223.2 512.3 222.9 512.2 222.5 512.1 222.2 512.1 221.8 511.8 221.5 512 221.1 512.2 220.8 511.9 220.4 512.3 220.1 513.8 219.7 514.6 219.4 518.5 219 517.7 218.7 514.1 218.3 512.2 218 511.8 217.6 511.9 217.3 511.8 216.9 511.7 216.6 511.6 216.2 511.6 215.9 512.2 215.5 514.1 215.2 514.2 214.8 515.2 214.5 517.9 214.1 512.1 213.8 512.4 213.4 511.9 213.1 512 212.7 511.9 212.4 511.8 212 511.7 211.7 511.9 211.3 512 211 513.3 210.6 515.4 210.3 516.2 209.9 512.1 209.6 512.1 209.2 511.7 208.9 511.5 208.5 511.3 208.2 511.3 207.8 511.3 207.5 511.3 207.1 511.3 206.8 511.6 206.4 512.5 206.1 512.8 205.7 514.6 205.4 513.8 205 511.9 204.7 511.8 204.3 511.6 204 511.8 203.6 511.8 203.3 511.9 202.9 511.7 202.6 511.8 202.2 512.2 201.9 513.9 201.5 517.7 201.2 516.8 200.8 513.2 200.5 512.4 200.1 512.1 199.8 512.3 199.4 512.6 199.1 512.2 198.7 512.1 198.4 513 198 512 197.7 512.1 197.3 514.2 197 512.4 196.6 513.9 196.3 515.9 195.9 512.4 195.6 512.3 195.2 511.7 194.9 511.9 194.5 511.7 194.2 511.8 193.8 512 193.5 511.7 193.1 512.2 192.8 513.5 192.4 514.6 192.1 513.6 191.7 513.8 191.4 512.7 191 511.8 190.7 511.8 190.3 512.1 190 512.1 189.6 512.3 189.3 512.6 188.9 512.1 188.6 512.7 188.2 514.9 187.9 518.3 187.5 518.9 187.2 513.6 186.8 513.9 186.5 512.4 186.1 512.8 185.8 512.3 185.4 512.7 185.1 512.3 184.7 512.4 184.4 512.5 184 512.4 183.7 512.5 183.3 520 183 513.8 182.6 512.3 182.3 513.1 181.9 512.5 181.6 512 181.2 512.1 180.9 511.8 180.5 512 180.2 512 179.8 512.2 179.5 513.6 179.1 515 178.8 520.7 178.4 516.3 178.1 517.3 177.7 513.2 177.4 512.1 177 512 176.7 512 176.3 512 176 512.1 175.6 512 175.3 512.2 174.9 514.3 174.6 523.2 174.2 518.6 173.9 513.5 173.5 513.4 173.2 512 172.8 512.1 172.5 512.3 172.1 512.5 171.8 512.5 171.4 512.5 171.1 512.5 170.7 512.4 170.4 513.2 170 514.4 169.7 513.9 169.3 516.4 169 518.2 168.6 514.5 168.3 512.3 167.9 512.7 167.6 512.3 167.2 512.1 166.9 512.4 166.5 512.1 166.2 512.1 165.8 513.2 165.5 514.5 165.1 513.4 164.8 513.6 164.4 513.5 164.1 512.7 163.7 511.9 163.4 511.9 163 512.3 162.7 512.2 162.3 511.9 162 512.2 161.6 512.2 161.3 512.5 160.9 517.4 160.6 521.6 160.2 513.1 159.9 512.1 159.5 512.5 159.2 512.4 158.8 512.3 158.5 512.3 158.1 512.6 157.8 512.4 157.4 512.4 157.1 513.1 156.7 514.2 156.4 517.3 156 515.4 155.7 515.9 155.3 514.8 155 513.3 154.6 512.7 154.3 513.1 153.9 512.1 153.6 512.3 153.2 512.1 152.9 512 152.5 512.4 152.2 513.6 151.8 512.6 151.5 519.9 151.1 519.7 150.8 514.6 150.4 512.4 150.1 511.8 149.7 512 149.4 511.8 149 512 148.7 512.4 148.3 512.5 148 512.2 147.6 513.3 147.3 516 146.9 522.5 146.6 515.6 146.2 512.8 145.9 512.7 145.5 512.5 145.2 512 144.8 512.2 144.5 512.3 144.1 512.3 143.8 512.3 143.4 512.9 143.1 514.1 142.7 518.9 142.4 521.5 142 516 141.7 512.9 141.3 512.2 141 512.2 140.6 512.3 140.3 512.1 139.9 512 139.6 512.1 139.2 512.1 138.9 513.1 138.5 515.5 138.2 515 137.8 516.8 137.5 520.6 137.1 511.9 136.8 512.5 136.4 511.7 136.1 511.7 135.7 511.9 135.4 511.8 135 511.9 134.7 511.8 134.3 512.2 134 514 133.6 514.9 133.3 516.3 132.9 517.2 132.6 513 132.2 511.8 131.9 511.6 131.5 511.6 131.2 511.6 130.8 511.6 130.5 511.5 130.1 511.6 129.8 512.3 129.4 512.1 129.1 511.6 128.7 513.6 128.4 512.9 128 512.2 127.7 511.7 127.3 511.6 127 511.4 126.6 511.4 126.3 511.6 125.9 511.7 125.6 511.8 125.2 513.5 124.9 513.3 124.5 517.3 124.2 517 123.8 512.1 123.5 513.9 123.1 511.7 122.8 511.8 122.4 511.6 122.1 511.9 121.7 511.7 121.4 512 121 512 120.7 513.6 120.3 512.2 120 514.6 119.6 512.6 119.3 514.1 118.9 512.8 118.6 513.3 118.2 512.4 117.9 512.2 117.5 512.4 117.2 512.8 116.8 512.6 116.5 512.3 116.1 512.7 115.8 513 115.4 524 115.1 520.8 114.7 513.2 114.4 512.7 114 512 113.7 512.2 113.3 511.8 113 511.8 112.6 511.5 112.3 511.6 111.9 511.7 111.6 511.6 111.2 513.6 110.9 515.9 110.5 516 110.2 515.6 109.8 511.5 109.5 511.3 109.1 511.3 108.8 511.2 108.4 511.3 108.1 511.3 107.7 511.4 107.4 511.6 107 513.3 106.7 514 106.3 516.6 106 514.2 105.6 512.3 105.3 512.1 104.9 511.9 104.6 512.1 104.2 512.2 103.9 511.8 103.5 511.8 103.2 511.8 102.8 511.9 102.5 512.8 102.1 514.9 101.8 514.7 101.4 512.9 101.1 512.2 100.7 512.3 100.4 512.2 100 512.1 99.7 511.8 99.3 512 99 511.9 98.6 512.2 98.3 512.2 97.9 512.5 97.6 514.5 97.2 512.7 96.9 514.2 96.5 512.5 96.2 512.3 95.8 512.2 95.5 512 95.1 512.3 94.8 512.2 94.4 512.4 94.1 512.1 93.7 512.3 93.4 513.4 93 515.7 92.7 520.7 92.3 517.1 92 513.2 91.6 512.8 91.3 512.3 90.9 512.5 90.6 512.8 90.2 512.4 89.9 512.4 89.5 512.7 89.2 514.5 88.8 513.5 88.5 512.7 88.1 522.6 87.8 518.9 87.4 512.8 87.1 512.3 86.7 511.7 86.4 511.7 86 511.7 85.7 511.8 85.3 511.8 85 511.9 84.6 512 84.3 512.7 83.9 512.7 83.6 520.1 83.2 512.4 82.9 514.1 82.5 512.4 82.2 512 81.8 511.7 81.5 511.6 81.1 511.8 80.8 511.6 80.4 511.8 80.1 512.8 79.7 515.7 79.4 517.3 79 522.4 78.7 516.5 78.3 512.4 78 511.9 77.6 511.7 77.3 512.1 76.9 513.5 76.6 512.3 76.2 512.1 75.9 512.5 75.5 513.7 75.2 513.6 74.8 522.7 74.5 514.7 74.1 515.8 73.8 514 73.4 512.8 73.1 512.5 72.7 512.4 72.4 512.8 72 512.3 71.7 512.4 71.3 512.7 71 514.2 70.6 517.8 70.3 512.7 69.9 517.5 69.6 513.9 69.2 512.2 68.9 512.1 68.5 511.8 68.2 511.9 67.8 511.7 67.5 511.7 67.1 511.7 66.8 512.3 66.4 511.7 66.1 511.7 65.7 512.7 65.4 514.9 65 514.7 64.7 512.3 64.3 513 64 511.8 63.6 511.7 63.3 511.7 62.9 511.8 62.6 511.8 62.2 512.1 61.9 512.6 61.5 514.5 61.2 515.1 60.8 521.9 60.5 513.7 60.1 512.6 59.8 512.2 59.4 512.5 59.1 512.3 58.7 512.3 58.4 513.5 58 512.6 57.7 512.7 57.3 514.5 57 514.9 56.6 521.7 56.3 513 55.9 514.7 55.6 514 55.2 512.4 54.9 512.7 54.5 512.6 54.2 512.4 53.8 512.4 53.5 512.3 53.1 512.2 52.8 513.1 52.4 518.9 52.1 513.6 51.7 513.7 51.4 513.1 51 512.6 50.7 512.3 50.3 512 50 512 49.6 512.1 49.3 511.9 48.9 511.8 48.6 511.7 48.2 512.8 47.9 515.3 47.5 514.2 47.2 516.1 46.8 513.6 46.5 512.1 46.1 512 45.8 512.2 45.4 511.9 45.1 511.9 44.7 511.9 44.4 512.1 44 512.2 43.7 513.9 43.3 518.1 43 513.1 42.6 519.2 42.3 512.6 41.9 512.6 41.6 511.7 41.2 511.5 40.9 511.6 40.5 511.5 40.2 511.4 39.8 511.3 39.5 511.4 39.1 512.8 38.8 514 38.4 511.6 38.1 513.8 37.7 511.9Z" fill="#3b7d45" stroke="#3b7d45" stroke-width="0.4" stroke-linejoin="round" clip-path="url(#lc23)"/>
<rect x="37.5" y="494.4" width="317" height="37.2" fill="none" stroke="#2b2b2b" stroke-width="1.1"/>
<text transform="translate(37.5,547.1) scale(0.96,1.13)" font-size="11.5" text-anchor="middle" fill="#1e1e1e" >0</text>
<text transform="translate(131.7,547.1) scale(0.96,1.13)" font-size="11.5" text-anchor="middle" fill="#1e1e1e" >500</text>
<text transform="translate(225.9,547.1) scale(0.96,1.13)" font-size="11.5" text-anchor="middle" fill="#1e1e1e" >1000</text>
<text transform="translate(320,547.1) scale(0.96,1.13)" font-size="11.5" text-anchor="middle" fill="#1e1e1e" >1500</text>
<text transform="translate(196.7,562) scale(0.98,1.07)" font-size="12" text-anchor="middle" fill="#1e1e1e" >T/h</text>
<text transform="translate(196.5,586.2) scale(0.98,1.07)" font-size="12" text-anchor="middle" fill="#1e1e1e" >IMF1</text>
<text transform="translate(33,603.6) scale(0.96,1.13)" font-size="11.5" text-anchor="end" fill="#1e1e1e" >20</text>
<text transform="translate(33,618.8) scale(0.96,1.13)" font-size="11.5" text-anchor="end" fill="#1e1e1e" >10</text>
<line x1="38.5" y1="592.2" x2="40.5" y2="592.2" stroke="#2b2b2b" stroke-width="0.9"/>
<line x1="354.5" y1="592.2" x2="352.5" y2="592.2" stroke="#2b2b2b" stroke-width="0.9"/>
<line x1="38.5" y1="599.8" x2="42.7" y2="599.8" stroke="#2b2b2b" stroke-width="0.9"/>
<line x1="354.5" y1="599.8" x2="350.3" y2="599.8" stroke="#2b2b2b" stroke-width="0.9"/>
<line x1="38.5" y1="607.4" x2="40.5" y2="607.4" stroke="#2b2b2b" stroke-width="0.9"/>
<line x1="354.5" y1="607.4" x2="352.5" y2="607.4" stroke="#2b2b2b" stroke-width="0.9"/>
<line x1="38.5" y1="615" x2="42.7" y2="615" stroke="#2b2b2b" stroke-width="0.9"/>
<line x1="354.5" y1="615" x2="350.3" y2="615" stroke="#2b2b2b" stroke-width="0.9"/>
<line x1="38.5" y1="622.6" x2="40.5" y2="622.6" stroke="#2b2b2b" stroke-width="0.9"/>
<line x1="354.5" y1="622.6" x2="352.5" y2="622.6" stroke="#2b2b2b" stroke-width="0.9"/>
<line x1="64.8" y1="627.4" x2="64.8" y2="625.2" stroke="#2b2b2b" stroke-width="0.9"/>
<line x1="91.2" y1="627.4" x2="91.2" y2="625.2" stroke="#2b2b2b" stroke-width="0.9"/>
<line x1="117.5" y1="627.4" x2="117.5" y2="625.2" stroke="#2b2b2b" stroke-width="0.9"/>
<line x1="143.8" y1="627.4" x2="143.8" y2="625.2" stroke="#2b2b2b" stroke-width="0.9"/>
<line x1="170.2" y1="627.4" x2="170.2" y2="625.2" stroke="#2b2b2b" stroke-width="0.9"/>
<line x1="196.5" y1="627.4" x2="196.5" y2="625.2" stroke="#2b2b2b" stroke-width="0.9"/>
<line x1="222.8" y1="627.4" x2="222.8" y2="625.2" stroke="#2b2b2b" stroke-width="0.9"/>
<line x1="249.2" y1="627.4" x2="249.2" y2="625.2" stroke="#2b2b2b" stroke-width="0.9"/>
<line x1="275.5" y1="627.4" x2="275.5" y2="625.2" stroke="#2b2b2b" stroke-width="0.9"/>
<line x1="301.8" y1="627.4" x2="301.8" y2="625.2" stroke="#2b2b2b" stroke-width="0.9"/>
<line x1="328.2" y1="627.4" x2="328.2" y2="625.2" stroke="#2b2b2b" stroke-width="0.9"/>
<path d="M38.5 610.3 38.9 609.3 39.2 608.8 39.6 607.9 39.9 607.1 40.3 605.5 40.6 604.2 41 602.9 41.3 601.2 41.7 599.8 42 598.6 42.4 598.3 42.7 598 43.1 598.1 43.4 599 43.8 599.8 44.1 600.3 44.5 602.2 44.8 604.4 45.2 606.1 45.5 607.5 45.9 607.9 46.2 608.2 46.6 607.1 46.9 607.7 47.3 608.2 47.6 609.8 48 611.6 48.3 613.5 48.7 614.7 49 616 49.4 617.1 49.7 618.8 50.1 620.1 50.4 621.9 50.8 622.8 51.1 623.8 51.5 622.4 51.8 620.8 52.2 621.1 52.5 620.5 52.9 619.5 53.2 617.2 53.6 613.2 53.9 610.3 54.3 606.5 54.6 601.8 55 598.8 55.3 596.6 55.7 595.2 56 593.7 56.4 593.4 56.7 593.2 57.1 595.6 57.4 597.8 57.8 600.4 58.1 601.8 58.5 603.3 58.8 604.3 59.2 604.4 59.5 604.1 59.9 604.9 60.2 605.4 60.6 606.1 60.9 606.4 61.3 606.9 61.6 607.4 62 607.5 62.3 607.6 62.7 608.1 63 608.4 63.4 608 63.7 607.6 64.1 606.4 64.4 605.6 64.8 605.1 65.1 606.4 65.5 608.1 65.8 609.5 66.2 611.1 66.5 612 66.9 612.9 67.2 614.1 67.6 615.8 67.9 617.8 68.3 619.7 68.6 618.8 69 619 69.3 618.2 69.7 616.8 70 615 70.4 613.6 70.7 612.5 71.1 610.6 71.4 608 71.8 605.7 72.1 602.6 72.5 601.1 72.8 598.3 73.2 597.4 73.5 596.3 73.9 596.4 74.2 594.4 74.6 593.3 74.9 592.9 75.3 593.3 75.6 593.9 76 594.1 76.3 595.7 76.7 594.7 77 595.2 77.4 596.9 77.7 597.9 78.1 599.5 78.4 600.8 78.8 601.4 79.1 601.8 79.5 600.8 79.8 600 80.2 600 80.5 599.8 80.9 599.5 81.2 598.7 81.6 597.9 81.9 596.2 82.3 595.6 82.6 595.4 83 595.6 83.3 596.8 83.7 597.7 84 598.5 84.4 599.3 84.7 600 85.1 602.3 85.4 604.1 85.8 606.3 86.1 608.6 86.5 610.1 86.8 611.6 87.2 613 87.5 613.4 87.9 615.2 88.2 615.9 88.6 616.2 88.9 616.9 89.3 616.4 89.6 616.1 90 615.3 90.3 614.1 90.7 613.6 91 612.9 91.4 610.8 91.7 608.9 92.1 606.3 92.4 603.4 92.8 601.3 93.1 599.2 93.5 598 93.8 597 94.2 597.6 94.5 597.5 94.9 597.5 95.2 598.5 95.6 599.8 95.9 601.2 96.3 602.1 96.6 602.9 97 603.5 97.3 603.6 97.7 604 98 604.1 98.4 605.1 98.7 605.6 99.1 605.4 99.4 605.4 99.8 605.6 100.1 605.9 100.5 606.5 100.8 606.8 101.2 608.1 101.5 609.6 101.9 609.3 102.2 609.2 102.6 609.7 102.9 610.9 103.3 612.5 103.6 612.6 104 613.4 104.3 613.7 104.7 613.8 105 613.4 105.4 615.5 105.7 615.6 106.1 615.8 106.4 616.2 106.8 615.7 107.1 614.2 107.5 612.6 107.8 611.5 108.2 610.1 108.5 609.1 108.9 608.7 109.2 607.6 109.6 606.4 109.9 605.3 110.3 604.5 110.6 603.9 111 603.9 111.3 603.8 111.7 603.4 112 602.8 112.4 601.9 112.7 601.3 113.1 602.5 113.4 603.6 113.8 604.8 114.1 605.3 114.5 606.3 114.8 605.9 115.2 606.2 115.5 606.7 115.9 607.2 116.2 607.2 116.6 606.4 116.9 604.4 117.3 601.7 117.6 601.4 118 599.1 118.3 598.3 118.7 598.1 119 597.4 119.4 598.3 119.7 600.1 120.1 602.6 120.4 604.9 120.8 607.4 121.1 610 121.5 612 121.8 612.6 122.2 613.3 122.5 613 122.9 613.4 123.2 613.7 123.6 614 123.9 612.5 124.3 612.1 124.6 610.6 125 608.9 125.3 606.8 125.7 605 126 603.5 126.4 601.8 126.7 600 127.1 598.3 127.4 597.1 127.8 596.6 128.1 596.5 128.5 596.2 128.8 596.2 129.2 597 129.5 598.2 129.9 598.2 130.2 599.7 130.6 601.7 130.9 602.2 131.3 604.3 131.6 604.7 132 605.3 132.3 605 132.7 604.3 133 604 133.4 603.6 133.7 603.8 134.1 604.8 134.4 605.5 134.8 605.6 135.1 605.5 135.5 606.6 135.8 607.9 136.2 609.2 136.5 610.5 136.9 612 137.2 613 137.6 613.8 137.9 614.6 138.3 615.9 138.6 617.1 139 617.6 139.3 619.6 139.7 620 140 619.9 140.4 620 140.7 620.3 141.1 620.9 141.4 620.9 141.8 620.3 142.1 618.7 142.5 616.4 142.8 615 143.2 613.4 143.5 611.4 143.9 609.9 144.2 607.5 144.6 604.6 144.9 602.2 145.3 600.1 145.6 599.3 146 597.4 146.3 596.5 146.7 596.9 147 596.7 147.4 597.6 147.7 598.5 148.1 599.5 148.4 600.5 148.8 601.8 149.1 602.5 149.5 603.2 149.8 603.4 150.2 603.6 150.5 603.1 150.9 603.4 151.2 603.3 151.6 603.1 151.9 604.4 152.3 603.5 152.6 602.8 153 602.3 153.3 601.4 153.7 601.1 154 601.8 154.4 601.3 154.7 601.9 155.1 602.7 155.4 603.8 155.8 606.1 156.1 607.8 156.5 609.8 156.8 611.6 157.2 613.4 157.5 614.2 157.9 614.9 158.2 615.8 158.6 616.9 158.9 618 159.3 619.2 159.6 620.8 160 620.3 160.3 619.8 160.7 619 161 617.9 161.4 617.6 161.7 617.1 162.1 616.1 162.4 613.9 162.8 612.3 163.1 609.3 163.5 607.8 163.8 606.5 164.2 605.4 164.5 604 164.9 603.7 165.2 601.2 165.6 599.7 165.9 599.2 166.3 597.6 166.6 597.1 167 597.1 167.3 596.9 167.7 596.3 168 595.7 168.4 597 168.7 598.6 169.1 600.4 169.4 602 169.8 603.9 170.1 604.8 170.5 604.6 170.8 603.9 171.2 603.8 171.5 603.7 171.9 603.8 172.2 604.3 172.6 603.3 172.9 603.3 173.3 604.6 173.6 605.9 174 607.3 174.3 609 174.7 610.2 175 611.1 175.4 612.8 175.7 614.1 176.1 615 176.4 615.1 176.8 615.6 177.1 615.8 177.5 615.2 177.8 613.3 178.2 610.4 178.5 607.1 178.9 604.1 179.2 602 179.6 599.3 179.9 598.4 180.3 596.8 180.6 596.3 181 596.8 181.3 597.9 181.7 598.9 182 600.6 182.4 601.7 182.7 602.3 183.1 602.8 183.4 603.1 183.8 604.3 184.1 604.9 184.5 604.8 184.8 605.6 185.2 605.1 185.5 604.7 185.9 604.6 186.2 605.6 186.6 605.1 186.9 606.6 187.3 606.7 187.6 607.4 188 607.6 188.3 607.9 188.7 608 189 609.2 189.4 610.5 189.7 611.7 190.1 611.9 190.4 612.5 190.8 613.4 191.1 613.9 191.5 615.7 191.8 616.6 192.2 617.8 192.5 619 192.9 618.8 193.2 618.3 193.6 618.4 193.9 618.1 194.3 618.1 194.6 618.1 195 617.7 195.3 615.5 195.7 612.1 196 607.6 196.4 604.1 196.7 602.7 197.1 602.4 197.4 602 197.8 600.4 198.1 599.4 198.5 598.9 198.8 599.9 199.2 601.7 199.5 604.2 199.9 606.5 200.2 607.9 200.6 607.9 200.9 608.5 201.3 609.4 201.6 609.5 202 609.6 202.3 609.5 202.7 610.1 203 608.6 203.4 607.9 203.7 607.5 204.1 607.3 204.4 607.5 204.8 606.8 205.1 606.5 205.5 605.7 205.8 604.8 206.2 604.5 206.5 604.7 206.9 604.3 207.2 604.6 207.6 605.4 207.9 607.4 208.3 610.1 208.6 610.9 209 614.7 209.3 617.3 209.7 619.2 210 620.6 210.4 623.5 210.7 623.8 211.1 623.1 211.4 622 211.8 621.9 212.1 621.2 212.5 620.9 212.8 619.1 213.2 616.3 213.5 613.8 213.9 610.9 214.2 607.8 214.6 606.6 214.9 605.3 215.3 604.5 215.6 603 216 600.3 216.3 600.7 216.7 599.8 217 599.5 217.4 600 217.7 600.6 218.1 600.7 218.4 601 218.8 600.7 219.1 601.8 219.5 602.5 219.8 603.3 220.2 603.6 220.5 604.4 220.9 603.2 221.2 602.2 221.6 602.7 221.9 600.6 222.3 602 222.6 602.9 223 603.1 223.3 603.3 223.7 604.1 224 605 224.4 606.7 224.7 608.5 225.1 610.1 225.4 611.4 225.8 613.5 226.1 613.5 226.5 614.3 226.8 614.9 227.2 615.9 227.5 617.1 227.9 618.1 228.2 617.5 228.6 617.1 228.9 615.6 229.3 614.6 229.6 614.3 230 612.9 230.3 611.3 230.7 608.8 231 607.2 231.4 604.9 231.7 603.6 232.1 601.9 232.4 602.1 232.8 601.6 233.1 601 233.5 599.9 233.8 599.1 234.2 599.9 234.5 601.7 234.9 604.1 235.2 605.7 235.6 605.9 235.9 606.1 236.3 605.4 236.6 605.8 237 605.3 237.3 604.9 237.7 604 238 604.2 238.4 603 238.7 601.9 239.1 601.7 239.4 601.8 239.8 602.4 240.1 603 240.5 603.4 240.8 604 241.2 604.3 241.5 603.9 241.9 605.3 242.2 607.3 242.6 608.4 242.9 610.3 243.3 611.5 243.6 612.3 244 613.4 244.3 614.2 244.7 616.4 245 618.1 245.4 619.3 245.7 620.4 246.1 620.1 246.4 620 246.8 620.2 247.1 619.8 247.5 619.2 247.8 618.4 248.2 617 248.5 616.5 248.9 613.8 249.2 612.2 249.6 611.5 249.9 610.8 250.3 609.1 250.6 608.2 251 607.4 251.3 606.6 251.7 606.1 252 605.6 252.4 606.2 252.7 606.2 253.1 606.1 253.4 605.5 253.8 605.2 254.1 603.8 254.5 603.9 254.8 602.9 255.2 602.1 255.5 602.4 255.9 602.2 256.2 602.2 256.6 603 256.9 602.3 257.3 603.9 257.6 605.1 258 606.9 258.3 607.8 258.7 609 259 610.2 259.4 610.8 259.7 611.6 260.1 612.4 260.4 612.3 260.8 612.2 261.1 611.7 261.5 612 261.8 613.2 262.2 614 262.5 615.4 262.9 617.2 263.2 618.2 263.6 619.3 263.9 619.9 264.3 621.1 264.6 622.4 265 622.9 265.3 622.1 265.7 621.9 266 619.9 266.4 618.1 266.7 616.8 267.1 614.3 267.4 612.5 267.8 611.7 268.1 610.1 268.5 609 268.8 607.8 269.2 606.8 269.5 605.8 269.9 605 270.2 605.1 270.6 605.6 270.9 605.6 271.3 604.9 271.6 604.1 272 603.9 272.3 604.7 272.7 605.5 273 607.6 273.4 609 273.7 609.5 274.1 610 274.4 609 274.8 608.8 275.1 608.4 275.5 609.2 275.8 609.3 276.2 609.2 276.5 609.3 276.9 609 277.2 609.3 277.6 610.5 277.9 612.1 278.3 614.3 278.6 614.9 279 615.7 279.3 616.5 279.7 616.7 280 617.5 280.4 618.4 280.7 618.6 281.1 619.3 281.4 619.2 281.8 619.2 282.1 616.6 282.5 616.6 282.8 615 283.2 613.7 283.5 611.8 283.9 609.5 284.2 606.9 284.6 604.5 284.9 602.7 285.3 600.9 285.6 599.6 286 598.4 286.3 596.4 286.7 596.2 287 596.1 287.4 596.9 287.7 598 288.1 599.1 288.4 600.1 288.8 601.8 289.1 602.8 289.5 603.8 289.8 606.3 290.2 606 290.5 606.5 290.9 606.6 291.2 606.7 291.6 606.8 291.9 605.7 292.3 605.1 292.6 605 293 604.7 293.3 604.5 293.7 603.9 294 602.8 294.4 601.8 294.7 601.1 295.1 600.7 295.4 600.6 295.8 600.1 296.1 600.3 296.5 600.9 296.8 601.4 297.2 602.4 297.5 604 297.9 605.9 298.2 607.9 298.6 609.2 298.9 612.1 299.3 613.6 299.6 614.5 300 615.2 300.3 616.5 300.7 618.2 301 618.8 301.4 618.5 301.7 617.4 302.1 615.3 302.4 613 302.8 612 303.1 610.8 303.5 609.2 303.8 607.5 304.2 606.1 304.5 605 304.9 605.7 305.2 606.1 305.6 606.9 305.9 607.7 306.3 608.6 306.6 607.3 307 606.9 307.3 605.9 307.7 606.1 308 606.1 308.4 607.2 308.7 607.3 309.1 607.5 309.4 607.6 309.8 607.6 310.1 608.8 310.5 608.8 310.8 608.8 311.2 608.7 311.5 608.6 311.9 608 312.2 607.8 312.6 607.2 312.9 608.2 313.3 609.7 313.6 611.9 314 613.6 314.3 614.8 314.7 615.8 315 617 315.4 618.3 315.7 620.6 316.1 621 316.4 622 316.8 620.8 317.1 622.1 317.5 620.7 317.8 620.1 318.2 618.7 318.5 617.7 318.9 616 319.2 613.8 319.6 611.5 319.9 609.4 320.3 607.5 320.6 606.4 321 605.9 321.3 605.3 321.7 605.2 322 605.1 322.4 605.7 322.7 607.3 323.1 609.8 323.4 609.8 323.8 610.1 324.1 610.1 324.5 609.6 324.8 609.2 325.2 608.9 325.5 609.1 325.9 609.2 326.2 609.8 326.6 609 326.9 608.3 327.3 607.6 327.6 607.1 328 607.6 328.3 607.9 328.7 607.9 329 608.7 329.4 608.5 329.7 608.2 330.1 607.1 330.4 607 330.8 607.5 331.1 607.3 331.5 606.5 331.8 606.2 332.2 605.8 332.5 608.4 332.9 610.7 333.2 614 333.6 616.2 333.9 617.3 334.3 618.3 334.6 618.5 335 619.5 335.3 619.4 335.7 619.1 336 618.7 336.4 616.8 336.7 615.3 337.1 614 337.4 610.5 337.8 610 338.1 608.5 338.5 608.5 338.8 607.2 339.2 606 339.5 604.9 339.9 603.3 340.2 602.7 340.6 602.1 340.9 602.1 341.3 602.2 341.6 601.4 342 601.2 342.3 599.3 342.7 599.1 343 599.1 343.4 599 343.7 599.1 344.1 599.3 344.4 600.9 344.8 601.1 345.1 602.5 345.5 603.9 345.8 605.3 346.2 607.1 346.5 607.5 346.9 608.1 347.2 608.3 347.6 608.7 347.9 609 348.3 610.1 348.6 612 349 612.3 349.3 613.1 349.7 612.6 350 613.7 350.4 613.8 350.7 614.2 351.1 616.7 351.4 617.7 351.8 617.9 352.1 618 352.5 617.4 352.8 616 353.2 616.4 353.5 616.6 353.9 616 354.2 616.2" fill="none" stroke="#2a4494" stroke-width="0.95" stroke-linejoin="round" opacity="1" clip-path="url(#lc30)"/>
<rect x="38.5" y="590.4" width="316" height="37" fill="none" stroke="#2b2b2b" stroke-width="1.1"/>
<text transform="translate(196.5,649.2) scale(0.98,1.07)" font-size="12" text-anchor="middle" fill="#1e1e1e" >IMF2</text>
<text transform="translate(33,663.4) scale(0.96,1.13)" font-size="11.5" text-anchor="end" fill="#1e1e1e" >20</text>
<text transform="translate(33,676.7) scale(0.96,1.13)" font-size="11.5" text-anchor="end" fill="#1e1e1e" >0</text>
<text transform="translate(33,688.5) scale(0.96,1.13)" font-size="11.5" text-anchor="end" fill="#1e1e1e" >−20</text>
<line x1="38.5" y1="659.6" x2="42.7" y2="659.6" stroke="#2b2b2b" stroke-width="0.9"/>
<line x1="354.5" y1="659.6" x2="350.3" y2="659.6" stroke="#2b2b2b" stroke-width="0.9"/>
<line x1="38.5" y1="665.9" x2="40.5" y2="665.9" stroke="#2b2b2b" stroke-width="0.9"/>
<line x1="354.5" y1="665.9" x2="352.5" y2="665.9" stroke="#2b2b2b" stroke-width="0.9"/>
<line x1="38.5" y1="672.2" x2="42.7" y2="672.2" stroke="#2b2b2b" stroke-width="0.9"/>
<line x1="354.5" y1="672.2" x2="350.3" y2="672.2" stroke="#2b2b2b" stroke-width="0.9"/>
<line x1="38.5" y1="678.4" x2="40.5" y2="678.4" stroke="#2b2b2b" stroke-width="0.9"/>
<line x1="354.5" y1="678.4" x2="352.5" y2="678.4" stroke="#2b2b2b" stroke-width="0.9"/>
<line x1="38.5" y1="684.7" x2="42.7" y2="684.7" stroke="#2b2b2b" stroke-width="0.9"/>
<line x1="354.5" y1="684.7" x2="350.3" y2="684.7" stroke="#2b2b2b" stroke-width="0.9"/>
<line x1="64.8" y1="690.5" x2="64.8" y2="688.3" stroke="#2b2b2b" stroke-width="0.9"/>
<line x1="91.2" y1="690.5" x2="91.2" y2="688.3" stroke="#2b2b2b" stroke-width="0.9"/>
<line x1="117.5" y1="690.5" x2="117.5" y2="688.3" stroke="#2b2b2b" stroke-width="0.9"/>
<line x1="143.8" y1="690.5" x2="143.8" y2="688.3" stroke="#2b2b2b" stroke-width="0.9"/>
<line x1="170.2" y1="690.5" x2="170.2" y2="688.3" stroke="#2b2b2b" stroke-width="0.9"/>
<line x1="196.5" y1="690.5" x2="196.5" y2="688.3" stroke="#2b2b2b" stroke-width="0.9"/>
<line x1="222.8" y1="690.5" x2="222.8" y2="688.3" stroke="#2b2b2b" stroke-width="0.9"/>
<line x1="249.2" y1="690.5" x2="249.2" y2="688.3" stroke="#2b2b2b" stroke-width="0.9"/>
<line x1="275.5" y1="690.5" x2="275.5" y2="688.3" stroke="#2b2b2b" stroke-width="0.9"/>
<line x1="301.8" y1="690.5" x2="301.8" y2="688.3" stroke="#2b2b2b" stroke-width="0.9"/>
<line x1="328.2" y1="690.5" x2="328.2" y2="688.3" stroke="#2b2b2b" stroke-width="0.9"/>
<path d="M38.5 672.5 38.7 665.7 38.9 661.6 39.1 659.5 39.3 661 39.6 666 39.8 672 40 678.3 40.2 682.5 40.4 684.3 40.6 682.2 40.8 678.6 41 672.2 41.2 668.5 41.4 665.9 41.7 664.8 41.9 666.1 42.1 668.4 42.3 672.6 42.5 677.2 42.7 680.5 42.9 681.8 43.1 680.5 43.3 677.3 43.6 672.7 43.8 669.1 44 666.3 44.2 665.6 44.4 666.9 44.6 669.1 44.8 672.9 45 678.2 45.2 682.3 45.5 682.9 45.7 682 45.9 677.6 46.1 672.7 46.3 668.8 46.5 666 46.7 665.2 46.9 666 47.1 668.9 47.3 672.6 47.6 676.1 47.8 679.7 48 679.9 48.2 679 48.4 676.2 48.6 672.4 48.8 668.6 49 667.2 49.2 665.9 49.5 666.5 49.7 669 49.9 672.6 50.1 679 50.3 683.6 50.5 685.1 50.7 683.6 50.9 678.7 51.1 672.2 51.4 671.7 51.6 670.1 51.8 669.6 52 670.2 52.2 671.3 52.4 672.4 52.6 676.3 52.8 678.5 53 679.5 53.2 678.4 53.5 676.5 53.7 672.2 53.9 667.3 54.1 663.3 54.3 662.2 54.5 663.7 54.7 667.7 54.9 672.5 55.1 676.2 55.4 679 55.6 679.6 55.8 678.9 56 676.9 56.2 672.2 56.4 667.6 56.6 664.1 56.8 662.4 57 664.2 57.2 667.4 57.5 672.5 57.7 677.3 57.9 680.7 58.1 682.3 58.3 680.9 58.5 677.2 58.7 673 58.9 666.3 59.1 662 59.4 660.4 59.6 661.9 59.8 666.1 60 672.9 60.2 678.8 60.4 683.8 60.6 685.5 60.8 683.6 61 679 61.3 672.7 61.5 668.1 61.7 664.2 61.9 663.2 62.1 664.3 62.3 667.6 62.5 672.7 62.7 676.4 62.9 679.8 63.1 681 63.4 679.9 63.6 676.5 63.8 672.4 64 668.4 64.2 664.1 64.4 663.4 64.6 664.5 64.8 667.9 65 673.3 65.3 679.5 65.5 684.4 65.7 687 65.9 684.5 66.1 679.9 66.3 672.6 66.5 669.6 66.7 667 66.9 666.8 67.2 667.1 67.4 669.5 67.6 672.9 67.8 675.3 68 676.8 68.2 677.4 68.4 676.4 68.6 674.7 68.8 672.7 69 671.7 69.3 671.1 69.5 671 69.7 671.5 69.9 671.7 70.1 673 70.3 675.3 70.5 677.4 70.7 678.8 70.9 677.5 71.2 675.2 71.4 672.6 71.6 666.5 71.8 662.6 72 660.9 72.2 662.7 72.4 667.1 72.6 672.1 72.8 676.6 73 679.9 73.3 681 73.5 679.7 73.7 677.1 73.9 672.8 74.1 666.6 74.3 662.4 74.5 660.6 74.7 662.5 74.9 666.7 75.2 672.6 75.4 680.4 75.6 685.7 75.8 687.9 76 685.6 76.2 680.2 76.4 672.7 76.6 667.7 76.8 663.7 77.1 662.2 77.3 663.6 77.5 667.3 77.7 672.4 77.9 680 78.1 685.6 78.3 687.3 78.5 685.6 78.7 680.1 78.9 673 79.2 665.3 79.4 660 79.6 657.6 79.8 659.9 80 665.3 80.2 672.3 80.4 678.7 80.6 683.4 80.8 685.1 81.1 683.5 81.3 678.9 81.5 672.4 81.7 666.9 81.9 662.7 82.1 660.9 82.3 662.9 82.5 667.2 82.7 672.6 83 677.2 83.2 680.1 83.4 681 83.6 680.1 83.8 676.9 84 672.5 84.2 668.4 84.4 664.5 84.6 663.1 84.8 664.6 85.1 667.9 85.3 672.2 85.5 675.6 85.7 677.5 85.9 678.3 86.1 677 86.3 674.8 86.5 672.6 86.7 670.5 87 669.1 87.2 668.6 87.4 669.2 87.6 670.6 87.8 672.5 88 676.1 88.2 678.9 88.4 679.8 88.6 678.9 88.8 676 89.1 673.2 89.3 666.8 89.5 663.5 89.7 661.8 89.9 662.7 90.1 667.3 90.3 673 90.5 677.1 90.7 680.9 91 682.7 91.2 681.5 91.4 677.6 91.6 672.9 91.8 666.9 92 662.3 92.2 661 92.4 662.4 92.6 666.8 92.9 672.2 93.1 679.9 93.3 684.9 93.5 686.9 93.7 684.8 93.9 679.9 94.1 672.5 94.3 667.8 94.5 663 94.7 662.1 95 663.3 95.2 667.4 95.4 672.7 95.6 678.6 95.8 683 96 685.1 96.2 683.4 96.4 679 96.6 672.9 96.9 665.7 97.1 660.4 97.3 658.6 97.5 660.7 97.7 665.8 97.9 672.6 98.1 676.7 98.3 680.1 98.5 681 98.8 679.7 99 677.5 99.2 672.5 99.4 667.7 99.6 663.7 99.8 662.6 100 664 100.2 667.5 100.4 672.8 100.6 678.1 100.9 682.1 101.1 683.8 101.3 682.6 101.5 678.4 101.7 672.7 101.9 671 102.1 669.3 102.3 668.6 102.5 669.5 102.8 670.6 103 672.7 103.2 676.3 103.4 678.9 103.6 679.5 103.8 679 104 676.3 104.2 672.7 104.4 670.5 104.6 668.5 104.9 668 105.1 668.3 105.3 670.2 105.5 672.5 105.7 674.9 105.9 677.2 106.1 677.5 106.3 676.8 106.5 674.7 106.8 672.8 107 667.8 107.2 664.2 107.4 663.5 107.6 664.3 107.8 668.1 108 672.8 108.2 675.9 108.4 678.1 108.7 679.4 108.9 678.2 109.1 675.5 109.3 672.3 109.5 664.7 109.7 659.3 109.9 657.8 110.1 659.5 110.3 665.4 110.5 672.6 110.8 677 111 680.2 111.2 681.4 111.4 680 111.6 676.9 111.8 672.6 112 665.1 112.2 659.4 112.4 657.6 112.7 659.9 112.9 665.5 113.1 672.5 113.3 677.3 113.5 679.9 113.7 681.1 113.9 679.7 114.1 677 114.3 672.9 114.6 668.7 114.8 666.1 115 664.7 115.2 665.6 115.4 668.6 115.6 672.8 115.8 678.8 116 683.6 116.2 685.7 116.4 683.8 116.7 679.2 116.9 672.5 117.1 666.8 117.3 662.5 117.5 660.9 117.7 662.9 117.9 666.4 118.1 672.9 118.3 676.9 118.6 680.5 118.8 681.5 119 680.7 119.2 677.7 119.4 672.8 119.6 671 119.8 670 120 669.1 120.2 669.6 120.4 670.6 120.7 672.4 120.9 675.8 121.1 677.4 121.3 678.3 121.5 676.8 121.7 675.2 121.9 672.3 122.1 670.7 122.3 668.8 122.6 668.9 122.8 669.3 123 671 123.2 672.9 123.4 675.6 123.6 677.9 123.8 678.3 124 677.6 124.2 675.6 124.5 672.9 124.7 666.6 124.9 662.9 125.1 661.4 125.3 662.5 125.5 667.3 125.7 672.1 125.9 676.4 126.1 679 126.3 680.2 126.6 679.1 126.8 676.9 127 673.2 127.2 666.7 127.4 662.8 127.6 660.8 127.8 662.8 128 666.9 128.2 672.6 128.5 680.2 128.7 686 128.9 687.5 129.1 685.7 129.3 679.8 129.5 672.6 129.7 669 129.9 666.3 130.1 665.1 130.4 666.5 130.6 668.8 130.8 672.6 131 678.5 131.2 682.3 131.4 684.2 131.6 683.2 131.8 678.4 132 672.9 132.2 665.2 132.5 659.7 132.7 657.3 132.9 659.7 133.1 665.4 133.3 672.1 133.5 680.1 133.7 685.6 133.9 687.7 134.1 685.8 134.4 680.3 134.6 672.8 134.8 667.4 135 663.9 135.2 663.3 135.4 663.9 135.6 668.1 135.8 672.8 136 675.7 136.2 679 136.5 679.4 136.7 679.2 136.9 676.7 137.1 672.4 137.3 669.2 137.5 666.9 137.7 665.8 137.9 667.1 138.1 669.6 138.4 672.6 138.6 675.7 138.8 677.8 139 678.3 139.2 677.4 139.4 675.3 139.6 672.7 139.8 670.1 140 667.6 140.3 666.9 140.5 667.5 140.7 669.9 140.9 672.9 141.1 675.4 141.3 678 141.5 679.3 141.7 678.3 141.9 675.8 142.1 672.6 142.4 666.7 142.6 662.6 142.8 660.4 143 662.4 143.2 666.8 143.4 673 143.6 675.6 143.8 677.8 144 678.8 144.3 678 144.5 675.9 144.7 672.6 144.9 667.2 145.1 663.4 145.3 661.5 145.5 663.3 145.7 667.4 145.9 672.6 146.2 677.3 146.4 680.7 146.6 681.6 146.8 680.7 147 677.1 147.2 672.8 147.4 664.9 147.6 659.7 147.8 658.3 148 659.8 148.3 665.1 148.5 672.6 148.7 679.8 148.9 685.2 149.1 687.2 149.3 685.4 149.5 679.9 149.7 672.2 149.9 668 150.2 664 150.4 663.1 150.6 664.9 150.8 668.2 151 672.6 151.2 677.6 151.4 681.2 151.6 682.2 151.8 680.5 152 677.6 152.3 672.5 152.5 667.5 152.7 664.2 152.9 662.1 153.1 663.6 153.3 667.7 153.5 672.8 153.7 678.7 153.9 683 154.2 684.6 154.4 682.7 154.6 678.6 154.8 672.7 155 668.9 155.2 666.8 155.4 665.8 155.6 666.2 155.8 668.8 156.1 672.8 156.3 676.8 156.5 679.5 156.7 680.8 156.9 679.5 157.1 677 157.3 672.6 157.5 670.2 157.7 667.8 157.9 667.5 158.2 667.9 158.4 669.5 158.6 672.6 158.8 675 159 676.7 159.2 677 159.4 676.5 159.6 675.3 159.8 672.4 160.1 667.9 160.3 663.9 160.5 662.8 160.7 664.5 160.9 668.6 161.1 672.6 161.3 675.6 161.5 677.5 161.7 678.8 162 677.8 162.2 675.8 162.4 672.4 162.6 668 162.8 664.9 163 664 163.2 665.1 163.4 668.2 163.6 672.4 163.8 680 164.1 685.2 164.3 687.6 164.5 685 164.7 679.7 164.9 672.6 165.1 665.5 165.3 659.4 165.5 657.5 165.7 659.4 166 664.8 166.2 672.6 166.4 680.4 166.6 685.7 166.8 687.5 167 685.7 167.2 680.3 167.4 672.7 167.6 665.6 167.8 659.9 168.1 658.7 168.3 660.8 168.5 665.5 168.7 672.4 168.9 677.4 169.1 680.8 169.3 682.2 169.5 680.5 169.7 677.2 170 672.7 170.2 669 170.4 666.5 170.6 665.3 170.8 666.2 171 668.8 171.2 672.9 171.4 677.6 171.6 681.1 171.9 682.3 172.1 681.4 172.3 677.6 172.5 672.2 172.7 669.9 172.9 668.3 173.1 667.6 173.3 668 173.5 670.3 173.7 672.7 174 676 174.2 678.2 174.4 679.2 174.6 678.1 174.8 675.9 175 672.7 175.2 669.7 175.4 667.5 175.6 666.9 175.9 668 176.1 669.5 176.3 672.4 176.5 674.4 176.7 675.6 176.9 676.2 177.1 675.5 177.3 674.3 177.5 672.3 177.8 667.8 178 665 178.2 663.7 178.4 664.6 178.6 668.2 178.8 672.5 179 675.8 179.2 677.2 179.4 678.3 179.6 677.3 179.9 675.9 180.1 672.9 180.3 665.4 180.5 660.1 180.7 657.6 180.9 659.3 181.1 664.7 181.3 672.8 181.5 675 181.8 677.3 182 678.2 182.2 677.5 182.4 675.6 182.6 672.3 182.8 665 183 659.5 183.2 657.5 183.4 659.8 183.6 665.3 183.9 672.8 184.1 680 184.3 685.5 184.5 688 184.7 685.4 184.9 680.2 185.1 672.5 185.3 667 185.5 662.7 185.8 661.1 186 662.7 186.2 666.6 186.4 672.3 186.6 678.2 186.8 683.4 187 685.3 187.2 683.5 187.4 678.9 187.7 672.8 187.9 669.2 188.1 666.5 188.3 665.6 188.5 666.9 188.7 668.9 188.9 672.3 189.1 677 189.3 680.4 189.5 681.2 189.8 680.2 190 677 190.2 672.4 190.4 668.8 190.6 666.1 190.8 664.5 191 665.7 191.2 668.3 191.4 672.6 191.7 675.4 191.9 679 192.1 679.9 192.3 679 192.5 676.4 192.7 672.9 192.9 669.6 193.1 667.6 193.3 667.2 193.6 667.9 193.8 669.5 194 672.6 194.2 675.3 194.4 677.3 194.6 677.8 194.8 677 195 675.2 195.2 672.8 195.4 667 195.7 663.5 195.9 661.8 196.1 662.7 196.3 666.5 196.5 672.1 196.7 680.1 196.9 685.6 197.1 687.7 197.3 685.6 197.6 680.1 197.8 672.5 198 667.9 198.2 665.1 198.4 663.9 198.6 664.9 198.8 668.5 199 672.6 199.2 677.3 199.4 680.7 199.7 682.2 199.9 680.8 200.1 677.4 200.3 672.6 200.5 666.9 200.7 662.8 200.9 661.2 201.1 663 201.3 666.9 201.6 672.5 201.8 679.6 202 684.6 202.2 686.7 202.4 684.9 202.6 679.4 202.8 672.5 203 665.1 203.2 659.3 203.5 657.3 203.7 659.6 203.9 664.8 204.1 672.6 204.3 677.1 204.5 681.1 204.7 682.8 204.9 681.1 205.1 676.9 205.3 672.9 205.6 665.8 205.8 660.5 206 659 206.2 660.9 206.4 665.9 206.6 672.7 206.8 676.7 207 679.9 207.2 680.2 207.5 679.5 207.7 677 207.9 672.9 208.1 666.9 208.3 662.9 208.5 661.7 208.7 663 208.9 667.2 209.1 672.1 209.4 676 209.6 678.3 209.8 679.4 210 677.9 210.2 675.9 210.4 672.9 210.6 671.1 210.8 670.1 211 669.6 211.2 670.2 211.5 671 211.7 672.3 211.9 675.6 212.1 678.5 212.3 679.4 212.5 678.3 212.7 676 212.9 672.8 213.1 669.3 213.4 666.9 213.6 665.9 213.8 666.5 214 669.3 214.2 672.7 214.4 677 214.6 680.1 214.8 680.9 215 679.2 215.2 676.9 215.5 672.5 215.7 667.3 215.9 663.5 216.1 662.4 216.3 663.4 216.5 667.5 216.7 672.8 216.9 678 217.1 680.9 217.4 682.1 217.6 681.1 217.8 677.9 218 673 218.2 669.2 218.4 666.8 218.6 665.9 218.8 666.7 219 669.1 219.3 672.4 219.5 678.7 219.7 683 219.9 684.3 220.1 683.2 220.3 678.7 220.5 672.3 220.7 667.2 220.9 663.7 221.1 662.3 221.4 664.1 221.6 667.5 221.8 672.4 222 677.2 222.2 680.6 222.4 682.1 222.6 680.8 222.8 677.4 223 672.5 223.3 668 223.5 664.2 223.7 662.9 223.9 663.9 224.1 668.1 224.3 672.6 224.5 675.2 224.7 677.5 224.9 678 225.2 677.1 225.4 675 225.6 672.9 225.8 669.9 226 667.5 226.2 667.4 226.4 668 226.6 669.9 226.8 672.7 227 675.8 227.3 678.1 227.5 678.7 227.7 678 227.9 675.7 228.1 672.4 228.3 670.4 228.5 669.4 228.7 668.8 228.9 669.2 229.2 670.7 229.4 672.6 229.6 674 229.8 675 230 674.9 230.2 675.3 230.4 674.4 230.6 672.5 230.8 668.1 231 664.4 231.3 663.7 231.5 665 231.7 667.7 231.9 672.3 232.1 676.9 232.3 680.4 232.5 681.2 232.7 680.3 232.9 676.6 233.2 672.7 233.4 665 233.6 660.2 233.8 657.6 234 659.9 234.2 665.5 234.4 672.7 234.6 677.8 234.8 681.2 235.1 682.9 235.3 681.3 235.5 678.3 235.7 672.6 235.9 665.2 236.1 660 236.3 658.1 236.5 660.4 236.7 665.3 236.9 672.7 237.2 679.6 237.4 685.3 237.6 688 237.8 685.1 238 679.9 238.2 672.5 238.4 667.8 238.6 664.4 238.8 663 239.1 663.7 239.3 667.9 239.5 673.2 239.7 677.7 239.9 680.5 240.1 682.2 240.3 680.7 240.5 677.3 240.7 672.5 241 666.2 241.2 662.1 241.4 660 241.6 662.1 241.8 666.7 242 672.7 242.2 680.1 242.4 685.6 242.6 687.7 242.8 685.8 243.1 680 243.3 672.8 243.5 669.6 243.7 667.8 243.9 667 244.1 667.4 244.3 670.1 244.5 672.4 244.7 675.7 245 678 245.2 679 245.4 678.1 245.6 676 245.8 672.4 246 670.2 246.2 668.4 246.4 668.2 246.6 668.3 246.8 670.7 247.1 672.6 247.3 674.5 247.5 675.9 247.7 677 247.9 675.9 248.1 674.2 248.3 672.6 248.5 668.8 248.7 666.2 249 665 249.2 666.2 249.4 668.8 249.6 672.8 249.8 676.1 250 678.8 250.2 680.1 250.4 678.5 250.6 676.1 250.9 672.4 251.1 666 251.3 661.3 251.5 659.3 251.7 661.5 251.9 665.7 252.1 672.7 252.3 678.5 252.5 682.5 252.7 684.1 253 682.6 253.2 677.9 253.4 672.4 253.6 666.5 253.8 661.1 254 659.5 254.2 661.3 254.4 665.6 254.6 673.1 254.9 680.1 255.1 685.6 255.3 687.5 255.5 685.8 255.7 680.6 255.9 672.7 256.1 669.4 256.3 666.8 256.5 665.3 256.8 666.6 257 669.3 257.2 672.4 257.4 679.8 257.6 686.1 257.8 687.7 258 685.9 258.2 680.5 258.4 672.1 258.6 668.5 258.9 666.4 259.1 665.4 259.3 666.5 259.5 668.8 259.7 672.6 259.9 677.4 260.1 680.9 260.3 682.1 260.5 681.1 260.8 677.5 261 672.6 261.2 669.3 261.4 668.2 261.6 666.8 261.8 668.2 262 669.5 262.2 672.8 262.4 678.1 262.6 682.4 262.9 683.9 263.1 682.7 263.3 678 263.5 672.3 263.7 670.8 263.9 670 264.1 669.5 264.3 669.6 264.5 671 264.8 672.9 265 675.3 265.2 677.7 265.4 678.2 265.6 677.6 265.8 675.1 266 672.1 266.2 666.7 266.4 662.7 266.7 660.9 266.9 662.3 267.1 667 267.3 672.2 267.5 675.9 267.7 678 267.9 679 268.1 677.8 268.3 676.3 268.5 672.4 268.8 665.3 269 660.3 269.2 658 269.4 660.1 269.6 665.2 269.8 672.5 270 676.4 270.2 678.5 270.4 679.2 270.7 678.5 270.9 675.7 271.1 672.7 271.3 666.4 271.5 662.3 271.7 660.4 271.9 662.1 272.1 666.6 272.3 672.6 272.6 677.8 272.8 680.9 273 682.7 273.2 681.5 273.4 677.4 273.6 672.3 273.8 665.3 274 659.8 274.2 657.1 274.4 659.4 274.7 665.7 274.9 673 275.1 679.2 275.3 684 275.5 686.4 275.7 684.4 275.9 679 276.1 672.9 276.3 667.4 276.6 663 276.8 661.8 277 663.2 277.2 667.4 277.4 672.5 277.6 678.3 277.8 682.5 278 683.9 278.2 682.2 278.4 678.7 278.7 672.7 278.9 670 279.1 666.9 279.3 666.4 279.5 667.7 279.7 670.1 279.9 672.7 280.1 675.4 280.3 677.8 280.6 678.7 280.8 677.8 281 675.4 281.2 672.6 281.4 668.9 281.6 665.3 281.8 664.2 282 665.4 282.2 668.4 282.5 672.6 282.7 674.5 282.9 675 283.1 676 283.3 675.3 283.5 674.1 283.7 672.2 283.9 667.6 284.1 664 284.3 662.4 284.6 663.9 284.8 667.5 285 672 285.2 676.7 285.4 679.4 285.6 681.1 285.8 679.9 286 676.8 286.2 672.4 286.5 664.6 286.7 659.8 286.9 657.6 287.1 659.7 287.3 664.8 287.5 672.6 287.7 676.2 287.9 679.4 288.1 680.4 288.4 679.6 288.6 676.8 288.8 672.8 289 667 289.2 662.8 289.4 660.5 289.6 662.7 289.8 666.7 290 672.4 290.2 679.8 290.5 685.8 290.7 687.5 290.9 685.9 291.1 680.2 291.3 672.5 291.5 667.9 291.7 664.8 291.9 663.7 292.1 665 292.4 668 292.6 672 292.8 677.6 293 681.2 293.2 681.7 293.4 681.1 293.6 677.7 293.8 672.8 294 667.1 294.2 663.8 294.5 662.7 294.7 664.2 294.9 667.5 295.1 673.1 295.3 676.6 295.5 679.6 295.7 680.7 295.9 679.2 296.1 676.3 296.4 673.4 296.6 668.7 296.8 666.5 297 666.1 297.2 666.2 297.4 669.7 297.6 672.7 297.8 678.6 298 683.4 298.3 685 298.5 683.6 298.7 678.8 298.9 672.9 299.1 671.1 299.3 669.5 299.5 669.4 299.7 669.9 299.9 670.6 300.1 672.6 300.4 675.2 300.6 676.3 300.8 677 301 676.2 301.2 674.8 301.4 672.5 301.6 666.2 301.8 661.8 302 660.1 302.3 661.4 302.5 666.5 302.7 672.6 302.9 677.4 303.1 680.4 303.3 682 303.5 680.5 303.7 677.4 303.9 673 304.2 670.1 304.4 668.7 304.6 667.9 304.8 668.8 305 670.2 305.2 672.3 305.4 678.8 305.6 682.6 305.8 684.1 306 682.3 306.3 678.4 306.5 672.6 306.7 666.4 306.9 661.6 307.1 659.8 307.3 661.8 307.5 666.3 307.7 672.3 307.9 680.2 308.2 685.8 308.4 687.9 308.6 686 308.8 680.1 309 672.4 309.2 665.9 309.4 661 309.6 658.9 309.8 661.1 310 665.9 310.3 673 310.5 680 310.7 685.7 310.9 687.6 311.1 685.2 311.3 679.8 311.5 672.5 311.7 667.2 311.9 664 312.2 662.8 312.4 664 312.6 667.6 312.8 672.3 313 679.7 313.2 685 313.4 686.8 313.6 685.1 313.8 679.6 314.1 672.3 314.3 668.3 314.5 666.1 314.7 664.9 314.9 666.1 315.1 668.6 315.3 672.6 315.5 675.4 315.7 676.9 315.9 677.4 316.2 677.2 316.4 674.7 316.6 672.5 316.8 669 317 666.1 317.2 664.7 317.4 666.4 317.6 668.7 317.8 672.6 318.1 673.8 318.3 674.7 318.5 675.3 318.7 674.9 318.9 673.9 319.1 672.8 319.3 667.9 319.5 665 319.7 664.2 320 664.7 320.2 668.4 320.4 673.1 320.6 680 320.8 685.7 321 687.5 321.2 685.7 321.4 680.4 321.6 672.9 321.8 668.4 322.1 664.4 322.3 663.5 322.5 665 322.7 668.5 322.9 672.8 323.1 677.1 323.3 680.1 323.5 680.8 323.7 679.4 324 676.6 324.2 672.7 324.4 666.4 324.6 662.4 324.8 661.1 325 662.6 325.2 666.9 325.4 672.9 325.6 676.7 325.8 679.9 326.1 681.1 326.3 680.1 326.5 677.1 326.7 672.8 326.9 665.4 327.1 659.3 327.3 658.3 327.5 659.4 327.7 665.1 328 672.9 328.2 680.1 328.4 685.7 328.6 687.8 328.8 685.5 329 680.4 329.2 672.2 329.4 664.9 329.6 659.4 329.9 657.7 330.1 659.4 330.3 665.1 330.5 672 330.7 677.5 330.9 682.2 331.1 684.1 331.3 682.2 331.5 678.1 331.7 672.8 332 670.5 332.2 669 332.4 668.2 332.6 668.4 332.8 670.8 333 672.6 333.2 675.8 333.4 678 333.6 679 333.9 677.7 334.1 675.4 334.3 672.7 334.5 670 334.7 667.7 334.9 666.3 335.1 667.5 335.3 669.6 335.5 672.5 335.8 674.9 336 675.9 336.2 676.7 336.4 676.5 336.6 674.9 336.8 672.7 337 668.4 337.2 665.6 337.4 664 337.6 665.8 337.9 668.6 338.1 672.7 338.3 678.4 338.5 682 338.7 683.5 338.9 681.8 339.1 678.5 339.3 672.5 339.5 665.1 339.8 659.7 340 657 340.2 659.5 340.4 664.7 340.6 672.8 340.8 679.9 341 685.1 341.2 686.7 341.4 684.9 341.6 679.8 341.9 672.5 342.1 664.7 342.3 659.6 342.5 657.6 342.7 659.3 342.9 665 343.1 672.4 343.3 677.5 343.5 681 343.8 682 344 681.2 344.2 677.1 344.4 672.5 344.6 669.5 344.8 666.4 345 665.5 345.2 666.6 345.4 668.9 345.7 672.6 345.9 680.1 346.1 685.1 346.3 687.1 346.5 685.5 346.7 680 346.9 672.1 347.1 665.1 347.3 659.4 347.5 657.7 347.8 659.9 348 665.1 348.2 672.5 348.4 676.5 348.6 678.9 348.8 679 349 678.7 349.2 675.7 349.4 672.3 349.7 670.5 349.9 668.2 350.1 667.7 350.3 668.5 350.5 669.7 350.7 672.6 350.9 674.1 351.1 675.6 351.3 676.3 351.6 675.7 351.8 674.4 352 672.7 352.2 670.7 352.4 669.2 352.6 668.1 352.8 668.8 353 670 353.2 672.5 353.4 674.8 353.7 676.2 353.9 677.3 354.1 676.5 354.3 674.7 354.5 672.8" fill="none" stroke="#2a4494" stroke-width="0.85" stroke-linejoin="round" opacity="1" clip-path="url(#lc31)"/>
<rect x="38.5" y="653.4" width="316" height="37.1" fill="none" stroke="#2b2b2b" stroke-width="1.1"/>
<text transform="translate(196.5,711.5) scale(0.98,1.07)" font-size="12" text-anchor="middle" fill="#1e1e1e" >IMF3</text>
<text transform="translate(33,720.4) scale(0.96,1.13)" font-size="11.5" text-anchor="end" fill="#1e1e1e" >10</text>
<text transform="translate(33,736.1) scale(0.96,1.13)" font-size="11.5" text-anchor="end" fill="#1e1e1e" >0</text>
<text transform="translate(33,752.8) scale(0.96,1.13)" font-size="11.5" text-anchor="end" fill="#1e1e1e" >−10</text>
<line x1="38.5" y1="724.7" x2="40.5" y2="724.7" stroke="#2b2b2b" stroke-width="0.9"/>
<line x1="354.5" y1="724.7" x2="352.5" y2="724.7" stroke="#2b2b2b" stroke-width="0.9"/>
<line x1="38.5" y1="732.8" x2="42.7" y2="732.8" stroke="#2b2b2b" stroke-width="0.9"/>
<line x1="354.5" y1="732.8" x2="350.3" y2="732.8" stroke="#2b2b2b" stroke-width="0.9"/>
<line x1="38.5" y1="740.9" x2="40.5" y2="740.9" stroke="#2b2b2b" stroke-width="0.9"/>
<line x1="354.5" y1="740.9" x2="352.5" y2="740.9" stroke="#2b2b2b" stroke-width="0.9"/>
<line x1="38.5" y1="749" x2="42.7" y2="749" stroke="#2b2b2b" stroke-width="0.9"/>
<line x1="354.5" y1="749" x2="350.3" y2="749" stroke="#2b2b2b" stroke-width="0.9"/>
<line x1="64.8" y1="752" x2="64.8" y2="749.8" stroke="#2b2b2b" stroke-width="0.9"/>
<line x1="91.2" y1="752" x2="91.2" y2="749.8" stroke="#2b2b2b" stroke-width="0.9"/>
<line x1="117.5" y1="752" x2="117.5" y2="749.8" stroke="#2b2b2b" stroke-width="0.9"/>
<line x1="143.8" y1="752" x2="143.8" y2="749.8" stroke="#2b2b2b" stroke-width="0.9"/>
<line x1="170.2" y1="752" x2="170.2" y2="749.8" stroke="#2b2b2b" stroke-width="0.9"/>
<line x1="196.5" y1="752" x2="196.5" y2="749.8" stroke="#2b2b2b" stroke-width="0.9"/>
<line x1="222.8" y1="752" x2="222.8" y2="749.8" stroke="#2b2b2b" stroke-width="0.9"/>
<line x1="249.2" y1="752" x2="249.2" y2="749.8" stroke="#2b2b2b" stroke-width="0.9"/>
<line x1="275.5" y1="752" x2="275.5" y2="749.8" stroke="#2b2b2b" stroke-width="0.9"/>
<line x1="301.8" y1="752" x2="301.8" y2="749.8" stroke="#2b2b2b" stroke-width="0.9"/>
<line x1="328.2" y1="752" x2="328.2" y2="749.8" stroke="#2b2b2b" stroke-width="0.9"/>
<path d="M38.7 724.6 39.2 726.8 39.7 728.5 40.2 727.5 40.7 728.5 41.2 725.6 41.7 727.4 42.2 723.4 42.7 728.2 43.2 726.5 43.7 726.2 44.2 720.9 44.7 726.1 45.2 727.3 45.7 727.8 46.2 726.9 46.7 724.2 47.2 722 47.7 726.8 48.2 727 48.7 727 49.2 720.2 49.7 725.1 50.2 727.3 50.7 728 51.2 724.4 51.7 725.1 52.2 725.7 52.7 727.4 53.2 723.5 53.7 725 54.2 721.6 54.7 717.8 55.2 726.6 55.7 726.1 56.2 726.7 56.7 719.3 57.2 720.9 57.7 725.8 58.2 727.8 58.7 721.1 59.2 722 59.7 724.6 60.2 725.7 60.7 727.8 61.2 727.7 61.7 722.5 62.2 727.1 62.7 722.2 63.2 727.5 63.7 727.3 64.2 722.7 64.7 726.1 65.2 724.5 65.7 726.3 66.2 725 66.7 725.9 67.2 720.6 67.7 727.7 68.2 726.9 68.7 727.6 69.2 728.4 69.7 726.6 70.2 728.1 70.7 727.7 71.2 728.8 71.7 727.5 72.2 727.7 72.7 724.6 73.2 727 73.7 725.9 74.2 724.6 74.7 724.5 75.2 728.2 75.7 727.5 76.2 722.3 76.7 726.3 77.2 725.9 77.7 726.1 78.2 728.8 78.7 724.3 79.2 728.4 79.7 723.4 80.2 725.1 80.7 727.3 81.2 726.5 81.7 725.4 82.2 723.9 82.7 726.2 83.2 726.6 83.7 727.5 84.2 724.6 84.7 726.3 85.2 724.8 85.7 725.6 86.2 724.3 86.7 723.9 87.2 726.4 87.7 727.1 88.2 728.5 88.7 727.5 89.2 725 89.7 724.1 90.2 718.4 90.7 728.6 91.2 728.4 91.7 726 92.2 727.3 92.7 727.8 93.2 727.6 93.7 727.3 94.2 727.4 94.7 718.2 95.2 719.3 95.7 725.9 96.2 726.2 96.7 722.8 97.2 726 97.7 725.8 98.2 725.3 98.7 728 99.2 726 99.7 727.6 100.2 728.2 100.7 728.2 101.2 728.5 101.7 729 102.2 727.7 102.7 727.7 103.2 729.1 103.7 729.8 104.2 728.1 104.7 725 105.2 726.4 105.7 727.9 106.2 729.7 106.7 728.9 107.2 729.8 107.7 727.9 108.2 729.3 108.7 729.5 109.2 727.2 109.7 726.5 110.2 725.3 110.7 729.7 111.2 728.7 111.7 729.3 112.2 725.2 112.7 726 113.2 726.1 113.7 729.9 114.2 728.8 114.7 725.3 115.2 728.7 115.7 726.3 116.2 729.5 116.7 726.3 117.2 724.4 117.7 727 118.2 724.4 118.7 729.2 119.2 729.6 119.7 725.6 120.2 723.1 120.7 726.4 121.2 729.5 121.7 729.6 122.2 722.1 122.7 729.9 123.2 724.7 123.7 729 124.2 729.1 124.7 725.5 125.2 727.3 125.7 726.5 126.2 727.3 126.7 726.3 127.2 727.3 127.7 723.2 128.2 719.9 128.7 725.6 129.2 718.2 129.7 723.8 130.2 713.2 130.7 724.4 131.2 722.2 131.7 725.1 132.2 726.7 132.7 724.4 133.2 721.9 133.7 724.7 134.2 723.2 134.7 719.7 135.2 721.4 135.7 720.6 136.2 727.3 136.7 726.7 137.2 723.7 137.7 721.1 138.2 721.1 138.7 724.2 139.2 724.8 139.7 722.7 140.2 718.2 140.7 717.2 141.2 723.1 141.7 726.7 142.2 726.9 142.7 726.3 143.2 720.8 143.7 721.1 144.2 723.1 144.7 722.5 145.2 716.7 145.7 718.7 146.2 722.5 146.7 724 147.2 724.9 147.7 721.1 148.2 724.6 148.7 723 149.2 723.6 149.7 724.8 150.2 724.7 150.7 717.8 151.2 725.3 151.7 723.8 152.2 724.3 152.7 723.2 153.2 725.3 153.7 720.4 154.2 724.6 154.7 723.9 155.2 719.2 155.7 719.6 156.2 727.2 156.7 726.7 157.2 725.9 157.7 727.3 158.2 725.2 158.7 726.9 159.2 727.3 159.7 728.3 160.2 728.5 160.7 726.7 161.2 728.7 161.7 729.8 162.2 728.6 162.7 726.6 163.2 729 163.7 728.1 164.2 727.9 164.7 727.4 165.2 726.3 165.7 725.6 166.2 726.2 166.7 726.8 167.2 726.3 167.7 718.6 168.2 725.9 168.7 724.4 169.2 723 169.7 727.4 170.2 725.8 170.7 727.5 171.2 728.3 171.7 725.4 172.2 727.5 172.7 724.6 173.2 727.6 173.7 728 174.2 728.4 174.7 726.7 175.2 728.7 175.7 727.9 176.2 729 176.7 728.9 177.2 729.5 177.7 729.2 178.2 728.5 178.7 728.5 179.2 729.3 179.7 729.5 180.2 730.4 180.7 730 181.2 730.2 181.7 730 182.2 729.7 182.7 729.7 183.2 728.6 183.7 728.4 184.2 728.9 184.7 728.9 185.2 727.3 185.7 727.3 186.2 729.2 186.7 727.7 187.2 729.1 187.7 725.2 188.2 724.6 188.7 727.7 189.2 727.9 189.7 728.4 190.2 726.7 190.7 724.1 191.2 720.3 191.7 721.8 192.2 727.1 192.7 727.7 193.2 719.9 193.7 725.9 194.2 722.3 194.7 727.8 195.2 727.1 195.7 723.4 196.2 724.3 196.7 724.4 197.2 728.4 197.7 727.6 198.2 727.1 198.7 726.5 199.2 726.7 199.7 727.3 200.2 726.4 200.7 720.4 201.2 725 201.7 722.4 202.2 727.2 202.7 726.8 203.2 727.9 203.7 722.8 204.2 729.2 204.7 729.3 205.2 728.1 205.7 727.9 206.2 720.5 206.7 719.6 207.2 726.4 207.7 725.5 208.2 726.4 208.7 720.6 209.2 725.8 209.7 727.2 210.2 727.9 210.7 726.7 211.2 724.3 211.7 724.8 212.2 727.9 212.7 726.9 213.2 722.5 213.7 725.3 214.2 726.2 214.7 722.5 215.2 728.3 215.7 727.7 216.2 727 216.7 725.8 217.2 726.9 217.7 728 218.2 726.2 218.7 726.8 219.2 726.5 219.7 728.2 220.2 728 220.7 726 221.2 720.4 221.7 722.9 222.2 728.6 222.7 728.6 223.2 728.2 223.7 728.8 224.2 728.4 224.7 727.6 225.2 727.6 225.7 725.9 226.2 726.2 226.7 726 227.2 729.5 227.7 727.6 228.2 725.5 228.7 724.2 229.2 728.7 229.7 728.5 230.2 726.9 230.7 727.1 231.2 727.6 231.7 728.4 232.2 724.9 232.7 727.7 233.2 728 233.7 729 234.2 718.9 234.7 727.8 235.2 727.3 235.7 719.3 236.2 715.3 236.7 726.7 237.2 729.6 237.7 728.5 238.2 725.6 238.7 725.5 239.2 729.3 239.7 724.8 240.2 729 240.7 726.2 241.2 725.6 241.7 727.8 242.2 729.3 242.7 728.2 243.2 727.8 243.7 728 244.2 727.8 244.7 726.7 245.2 728.2 245.7 727.7 246.2 726.6 246.7 720.9 247.2 723.9 247.7 727.5 248.2 726.3 248.7 724.2 249.2 725.7 249.7 724.4 250.2 728 250.7 726.7 251.2 726.2 251.7 724.9 252.2 725 252.7 726.2 253.2 726.4 253.7 720.8 254.2 727.3 254.7 725.2 255.2 724 255.7 725.1 256.2 718.5 256.7 725.4 257.2 724.7 257.7 721.7 258.2 726.3 258.7 722.8 259.2 725.7 259.7 721 260.2 723.9 260.7 722.2 261.2 723.3 261.7 718 262.2 715.5 262.7 721.5 263.2 724.7 263.7 723.6 264.2 716.8 264.7 725.2 265.2 724.9 265.7 725 266.2 722.4 266.7 725.1 267.2 725.4 267.7 725 268.2 727.6 268.7 725.5 269.2 723 269.7 726.3 270.2 727.5 270.7 727.8 271.2 721.6 271.7 723.9 272.2 725.3 272.7 727.4 273.2 727 273.7 721.5 274.2 718.9 274.7 726.1 275.2 724.2 275.7 726.2 276.2 721.6 276.7 723.5 277.2 717.3 277.7 726 278.2 726.8 278.7 727 279.2 725.3 279.7 721.2 280.2 726.3 280.7 726.2 281.2 721.7 281.7 728 282.2 728.3 282.7 726.4 283.2 729.6 283.7 729.6 284.2 726.1 284.7 725 285.2 727.3 285.7 726.1 286.2 726.9 286.7 726.1 287.2 728.9 287.7 722.6 288.2 724.9 288.7 729.8 289.2 728.3 289.7 728.6 290.2 728.3 290.7 726.1 291.2 729.5 291.7 720.5 292.2 726.2 292.7 724.6 293.2 729.2 293.7 725.9 294.2 723.7 294.7 730 295.2 729.6 295.7 730.6 296.2 729.8 296.7 723 297.2 730.2 297.7 728.7 298.2 728.3 298.7 729.9 299.2 727.9 299.7 724.5 300.2 726.2 300.7 729.6 301.2 730.4 301.7 728.3 302.2 726.6 302.7 725.2 303.2 728 303.7 728.1 304.2 720.1 304.7 722.9 305.2 725.6 305.7 725.2 306.2 726.2 306.7 726.6 307.2 725 307.7 727.7 308.2 728 308.7 727 309.2 728 309.7 720.7 310.2 725.9 310.7 726.3 311.2 728.6 311.7 725.2 312.2 728.2 312.7 728.3 313.2 727.5 313.7 727.8 314.2 728.4 314.7 719.8 315.2 724.2 315.7 726.4 316.2 729 316.7 724.6 317.2 728.8 317.7 728.8 318.2 725.9 318.7 728.8 319.2 726.7 319.7 721.6 320.2 725.6 320.7 723.8 321.2 728.6 321.7 727.8 322.2 727.4 322.7 726.6 323.2 727.8 323.7 728.1 324.2 726.4 324.7 726.1 325.2 727.3 325.7 725.7 326.2 726.2 326.7 726.3 327.2 724.6 327.7 720.3 328.2 727.5 328.7 725.7 329.2 725.6 329.7 726.4 330.2 723.2 330.7 726.6 331.2 727.9 331.7 726.9 332.2 724.5 332.7 725.5 333.2 722.9 333.7 727.6 334.2 724.7 334.7 725.5 335.2 728.3 335.7 720.9 336.2 729.6 336.7 728.9 337.2 726.3 337.7 726.8 338.2 727.7 338.7 729.4 339.2 721 339.7 727.8 340.2 716.3 340.7 728.5 341.2 726.1 341.7 724.7 342.2 725.4 342.7 721 343.2 722 343.7 724.2 344.2 728.3 344.7 728.5 345.2 727.8 345.7 727.2 346.2 729.4 346.7 728 347.2 727.1 347.7 720 348.2 727.5 348.7 726.1 349.2 725.3 349.7 726.5 350.2 728.2 350.7 725.1 351.2 726.6 351.7 728.2 352.2 726.2 352.7 718.7 353.2 724.1 353.7 724.6 354.2 727.4 354.2 737.1 353.7 739.5 353.2 739.5 352.7 747.4 352.2 741.8 351.7 739.9 351.2 737.8 350.7 740.1 350.2 739.2 349.7 739 349.2 737.7 348.7 738 348.2 737.6 347.7 739 347.2 738.2 346.7 739 346.2 738.5 345.7 740.7 345.2 737.1 344.7 736.9 344.2 736.3 343.7 738 343.2 738.1 342.7 743.7 342.2 738.1 341.7 737.1 341.2 738.9 340.7 738.4 340.2 745.8 339.7 735.7 339.2 738.5 338.7 737.9 338.2 738.1 337.7 739.4 337.2 736.9 336.7 735.6 336.2 736.6 335.7 737 335.2 736.5 334.7 741.6 334.2 736.8 333.7 737.1 333.2 739.6 332.7 737.7 332.2 737.1 331.7 736.6 331.2 738 330.7 739.1 330.2 738.9 329.7 743.5 329.2 739 328.7 740.1 328.2 739.8 327.7 739.3 327.2 739.5 326.7 738.3 326.2 738.7 325.7 741.3 325.2 738.3 324.7 743.8 324.2 740.1 323.7 738 323.2 737.4 322.7 740.1 322.2 738.5 321.7 738.8 321.2 738.3 320.7 737.7 320.2 739.8 319.7 737.1 319.2 736.3 318.7 736.3 318.2 737.8 317.7 740.7 317.2 739.2 316.7 737.2 316.2 735.5 315.7 737.8 315.2 743.1 314.7 736.2 314.2 735.2 313.7 735.7 313.2 736.6 312.7 735.3 312.2 738.2 311.7 737.4 311.2 738.2 310.7 737.8 310.2 736.3 309.7 741.2 309.2 739.1 308.7 740.2 308.2 736.9 307.7 738.8 307.2 739.3 306.7 739.7 306.2 738 305.7 738.5 305.2 738.9 304.7 742.2 304.2 736.5 303.7 736 303.2 740.3 302.7 740.4 302.2 739.2 301.7 739.6 301.2 735.2 300.7 737.3 300.2 742 299.7 739.5 299.2 736.8 298.7 735.8 298.2 734.5 297.7 737.7 297.2 737 296.7 736.1 296.2 734.8 295.7 736.5 295.2 738.9 294.7 736.9 294.2 735.3 293.7 737.5 293.2 736.5 292.7 740.6 292.2 736.3 291.7 737.6 291.2 741.2 290.7 737.5 290.2 735.9 289.7 737.3 289.2 741.6 288.7 737.4 288.2 738.2 287.7 737.8 287.2 737.8 286.7 744.4 286.2 738.1 285.7 735.7 285.2 739.1 284.7 744.2 284.2 737.8 283.7 736.5 283.2 736.7 282.7 735.9 282.2 744.2 281.7 745.4 281.2 737.6 280.7 737.3 280.2 742 279.7 740.2 279.2 746.5 278.7 740.1 278.2 739.9 277.7 743.3 277.2 739 276.7 742.3 276.2 744.5 275.7 737.3 275.2 743.2 274.7 741.2 274.2 740.7 273.7 743.8 273.2 738.7 272.7 737.4 272.2 740.4 271.7 740.9 271.2 740.2 270.7 738.2 270.2 740.1 269.7 738.6 269.2 741 268.7 739.7 268.2 740.1 267.7 740.8 267.2 737.7 266.7 748.7 266.2 744.5 265.7 741.8 265.2 740.3 264.7 737.9 264.2 745.1 263.7 747.3 263.2 741.4 262.7 738.2 262.2 744.3 261.7 742.6 261.2 748.6 260.7 739.4 260.2 740.7 259.7 737.4 259.2 737.6 258.7 739.7 258.2 738.7 257.7 739.6 257.2 739.3 256.7 744 256.2 744.9 255.7 739.6 255.2 739.8 254.7 741.6 254.2 742.8 253.7 741.9 253.2 741.3 252.7 738 252.2 742.3 251.7 745.7 251.2 742 250.7 736.7 250.2 738.7 249.7 738.7 249.2 740.6 248.7 738.9 248.2 737.2 247.7 738.6 247.2 737.6 246.7 740.3 246.2 737.2 245.7 737.3 245.2 736.2 244.7 737.1 244.2 739.3 243.7 742.3 243.2 735.4 242.7 735.9 242.2 740.9 241.7 737.6 241.2 736.8 240.7 735.4 240.2 737.4 239.7 738 239.2 743.3 238.7 736 238.2 737.3 237.7 736.5 237.2 738.1 236.7 739.3 236.2 748.3 235.7 738.9 235.2 738.4 234.7 738.5 234.2 740.2 233.7 736.7 233.2 739.6 232.7 740.6 232.2 736.9 231.7 738.6 231.2 740 230.7 738.5 230.2 737.2 229.7 736.5 229.2 736.3 228.7 738.7 228.2 738.3 227.7 736.8 227.2 736.9 226.7 737 226.2 738.3 225.7 737.7 225.2 735.8 224.7 736.6 224.2 738.9 223.7 738.6 223.2 736.9 222.7 738.1 222.2 738.7 221.7 736.7 221.2 739.7 220.7 737 220.2 737.3 219.7 739.1 219.2 739.7 218.7 737.4 218.2 737.5 217.7 735.9 217.2 737.7 216.7 736.8 216.2 738.7 215.7 736.5 215.2 739.3 214.7 738.7 214.2 736.7 213.7 740.8 213.2 737.4 212.7 739.1 212.2 736.6 211.7 737.9 211.2 739.2 210.7 738.7 210.2 737.5 209.7 737.3 209.2 736.1 208.7 742.9 208.2 740.1 207.7 736.7 207.2 738.6 206.7 738.2 206.2 744.2 205.7 738.5 205.2 739.5 204.7 737.4 204.2 738.2 203.7 738 203.2 739.4 202.7 737.2 202.2 738.6 201.7 740.3 201.2 738.5 200.7 738 200.2 739.2 199.7 736.2 199.2 739.5 198.7 737.6 198.2 739.7 197.7 736.9 197.2 736.7 196.7 739.8 196.2 739.5 195.7 737.3 195.2 739.7 194.7 742.9 194.2 739.7 193.7 737.6 193.2 739.9 192.7 743.1 192.2 738.7 191.7 738.3 191.2 741.4 190.7 739.9 190.2 737.4 189.7 738.9 189.2 738.9 188.7 738.6 188.2 736.7 187.7 737 187.2 736.2 186.7 736.9 186.2 735.5 185.7 735.4 185.2 735.9 184.7 735.4 184.2 735.4 183.7 737.9 183.2 735 182.7 737.1 182.2 735.1 181.7 735.9 181.2 737.5 180.7 736.5 180.2 735.3 179.7 735.4 179.2 735 178.7 736.6 178.2 735.5 177.7 736.5 177.2 735.6 176.7 737 176.2 736 175.7 736.6 175.2 736.1 174.7 736.8 174.2 737 173.7 737.2 173.2 739.2 172.7 739.6 172.2 737.1 171.7 736.6 171.2 742.2 170.7 737.9 170.2 738.9 169.7 740.2 169.2 740.9 168.7 744.6 168.2 737.3 167.7 737.5 167.2 739.8 166.7 738.4 166.2 739.1 165.7 741.4 165.2 738 164.7 737.3 164.2 737.5 163.7 737.9 163.2 736.3 162.7 738.4 162.2 739.1 161.7 735.3 161.2 735 160.7 738 160.2 736 159.7 736.4 159.2 735.9 158.7 738.9 158.2 739.3 157.7 737.3 157.2 739.8 156.7 738.1 156.2 739.9 155.7 742.9 155.2 738.2 154.7 740.5 154.2 740 153.7 741.6 153.2 742.6 152.7 741.8 152.2 738.6 151.7 739.8 151.2 741 150.7 743.3 150.2 739.2 149.7 744.5 149.2 741.8 148.7 740.4 148.2 747.8 147.7 743.6 147.2 744 146.7 747 146.2 743.9 145.7 740.1 145.2 740.1 144.7 746.8 144.2 739.5 143.7 745.2 143.2 741.6 142.7 743.5 142.2 743.8 141.7 739.8 141.2 740.2 140.7 744.9 140.2 744 139.7 737.8 139.2 737.4 138.7 737.3 138.2 745.9 137.7 742.8 137.2 738.7 136.7 738.5 136.2 739.9 135.7 747.5 135.2 744.8 134.7 747.3 134.2 740.1 133.7 740.1 133.2 747.9 132.7 743.5 132.2 740 131.7 741 131.2 740.5 130.7 740.2 130.2 752.3 129.7 744.2 129.2 738.9 128.7 739.8 128.2 742.4 127.7 745.4 127.2 737.6 126.7 736.8 126.2 738 125.7 739.8 125.2 737.6 124.7 736.9 124.2 736.2 123.7 737.9 123.2 738.6 122.7 737 122.2 738.1 121.7 737.5 121.2 736.1 120.7 739 120.2 738.7 119.7 736.9 119.2 735.4 118.7 740.1 118.2 736.7 117.7 737.7 117.2 736.2 116.7 735.9 116.2 735.9 115.7 738.5 115.2 740.8 114.7 735.8 114.2 736.3 113.7 737 113.2 735.5 112.7 735 112.2 739.7 111.7 734.9 111.2 736 110.7 735.7 110.2 737.3 109.7 736.6 109.2 735.5 108.7 735.3 108.2 735.4 107.7 738.5 107.2 737.4 106.7 736.5 106.2 736 105.7 737.5 105.2 737 104.7 736.1 104.2 736.3 103.7 735.1 103.2 736.6 102.7 738.3 102.2 737 101.7 737.6 101.2 736.5 100.7 737.5 100.2 737.2 99.7 743.3 99.2 740.1 98.7 737.1 98.2 739.8 97.7 742.9 97.2 738.6 96.7 740.9 96.2 738.7 95.7 739.6 95.2 743.1 94.7 743.5 94.2 739.9 93.7 738.6 93.2 739 92.7 737.4 92.2 739 91.7 738.1 91.2 736.3 90.7 737.3 90.2 737.5 89.7 744.3 89.2 742.1 88.7 738.1 88.2 739.1 87.7 737.5 87.2 739 86.7 740.9 86.2 738.1 85.7 738.3 85.2 742.5 84.7 745.9 84.2 743 83.7 737.2 83.2 739 82.7 738.2 82.2 742 81.7 735.9 81.2 737.6 80.7 738.7 80.2 740.5 79.7 747.6 79.2 736.2 78.7 741 78.2 735.4 77.7 739.2 77.2 738.8 76.7 737.8 76.2 737.3 75.7 738 75.2 737.8 74.7 742.6 74.2 744 73.7 736.8 73.2 737 72.7 737.1 72.2 736.3 71.7 738.3 71.2 736.8 70.7 736.6 70.2 736.9 69.7 738 69.2 744.3 68.7 738 68.2 739 67.7 736.7 67.2 740 66.7 739.6 66.2 737.1 65.7 736.8 65.2 739.7 64.7 742.1 64.2 739.6 63.7 737 63.2 738.9 62.7 739.9 62.2 739.4 61.7 740.7 61.2 740.2 60.7 739 60.2 741 59.7 740.7 59.2 738.4 58.7 739.5 58.2 742.6 57.7 741.9 57.2 743.2 56.7 739.6 56.2 737.9 55.7 737.3 55.2 737.6 54.7 740.4 54.2 737 53.7 743.4 53.2 736.5 52.7 738.6 52.2 736.6 51.7 739.2 51.2 740.6 50.7 738.2 50.2 739.2 49.7 737.7 49.2 737.4 48.7 738.1 48.2 740.1 47.7 737.6 47.2 737.8 46.7 740.2 46.2 742.6 45.7 739.7 45.2 738.3 44.7 738.5 44.2 740.5 43.7 739.5 43.2 738.9 42.7 740.8 42.2 738.2 41.7 738.1 41.2 742.6 40.7 738.4 40.2 739.1 39.7 739.2 39.2 742.5 38.7 741Z" fill="#2a4494" stroke="#2a4494" stroke-width="0.4" stroke-linejoin="round" clip-path="url(#lc32)"/>
<rect x="38.5" y="715.7" width="316" height="36.3" fill="none" stroke="#2b2b2b" stroke-width="1.1"/>
<text transform="translate(196.5,771.8) scale(0.98,1.07)" font-size="12" text-anchor="middle" fill="#1e1e1e" >IMF4</text>
<text transform="translate(33,782.3) scale(0.96,1.13)" font-size="11.5" text-anchor="end" fill="#1e1e1e" >15</text>
<text transform="translate(33,798) scale(0.96,1.13)" font-size="11.5" text-anchor="end" fill="#1e1e1e" >0</text>
<text transform="translate(33,814.2) scale(0.96,1.13)" font-size="11.5" text-anchor="end" fill="#1e1e1e" >−15</text>
<line x1="38.5" y1="778.5" x2="42.7" y2="778.5" stroke="#2b2b2b" stroke-width="0.9"/>
<line x1="354.5" y1="778.5" x2="350.3" y2="778.5" stroke="#2b2b2b" stroke-width="0.9"/>
<line x1="38.5" y1="786.5" x2="40.5" y2="786.5" stroke="#2b2b2b" stroke-width="0.9"/>
<line x1="354.5" y1="786.5" x2="352.5" y2="786.5" stroke="#2b2b2b" stroke-width="0.9"/>
<line x1="38.5" y1="794.5" x2="42.7" y2="794.5" stroke="#2b2b2b" stroke-width="0.9"/>
<line x1="354.5" y1="794.5" x2="350.3" y2="794.5" stroke="#2b2b2b" stroke-width="0.9"/>
<line x1="38.5" y1="802.4" x2="40.5" y2="802.4" stroke="#2b2b2b" stroke-width="0.9"/>
<line x1="354.5" y1="802.4" x2="352.5" y2="802.4" stroke="#2b2b2b" stroke-width="0.9"/>
<line x1="38.5" y1="810.4" x2="42.7" y2="810.4" stroke="#2b2b2b" stroke-width="0.9"/>
<line x1="354.5" y1="810.4" x2="350.3" y2="810.4" stroke="#2b2b2b" stroke-width="0.9"/>
<line x1="64.8" y1="812.5" x2="64.8" y2="810.3" stroke="#2b2b2b" stroke-width="0.9"/>
<line x1="91.2" y1="812.5" x2="91.2" y2="810.3" stroke="#2b2b2b" stroke-width="0.9"/>
<line x1="117.5" y1="812.5" x2="117.5" y2="810.3" stroke="#2b2b2b" stroke-width="0.9"/>
<line x1="143.8" y1="812.5" x2="143.8" y2="810.3" stroke="#2b2b2b" stroke-width="0.9"/>
<line x1="170.2" y1="812.5" x2="170.2" y2="810.3" stroke="#2b2b2b" stroke-width="0.9"/>
<line x1="196.5" y1="812.5" x2="196.5" y2="810.3" stroke="#2b2b2b" stroke-width="0.9"/>
<line x1="222.8" y1="812.5" x2="222.8" y2="810.3" stroke="#2b2b2b" stroke-width="0.9"/>
<line x1="249.2" y1="812.5" x2="249.2" y2="810.3" stroke="#2b2b2b" stroke-width="0.9"/>
<line x1="275.5" y1="812.5" x2="275.5" y2="810.3" stroke="#2b2b2b" stroke-width="0.9"/>
<line x1="301.8" y1="812.5" x2="301.8" y2="810.3" stroke="#2b2b2b" stroke-width="0.9"/>
<line x1="328.2" y1="812.5" x2="328.2" y2="810.3" stroke="#2b2b2b" stroke-width="0.9"/>
<path d="M38.7 792.5 39.1 791.9 39.4 789.8 39.8 793.4 40.1 793 40.5 793.6 40.8 793.1 41.2 792.8 41.5 793.1 41.9 791.8 42.2 793.2 42.6 793.1 42.9 793.2 43.3 793.2 43.6 792.8 44 792.9 44.3 792.8 44.7 791.3 45 792.8 45.4 793.2 45.7 793 46.1 792.5 46.4 792.3 46.8 789.2 47.1 792.1 47.5 793.3 47.8 792.8 48.2 793.1 48.5 793.2 48.9 792.4 49.2 792.9 49.6 792.2 49.9 789.4 50.3 792.6 50.6 793.2 51 793.1 51.3 791.2 51.7 792.2 52 787.3 52.4 790.3 52.7 792.5 53.1 792.6 53.4 792.9 53.8 792.2 54.1 791.1 54.5 791.8 54.8 790.3 55.2 792.4 55.5 792.2 55.9 792.8 56.2 792.5 56.6 791.2 56.9 790.3 57.3 791.4 57.6 792.6 58 792.7 58.3 792.9 58.7 792 59 791.1 59.4 786.7 59.7 792.2 60.1 790.8 60.4 791.9 60.8 792.5 61.1 791.5 61.5 789.5 61.8 790.2 62.2 789.3 62.5 791.7 62.9 791.6 63.2 791.6 63.6 791.4 63.9 791.4 64.3 784.3 64.6 781.9 65 787.5 65.3 791.7 65.7 789.4 66 791.6 66.4 789.7 66.7 788.8 67.1 790.7 67.4 788.7 67.8 791.8 68.1 792.9 68.5 792.9 68.8 792.2 69.2 792.4 69.5 785 69.9 787.2 70.2 789.6 70.6 793 70.9 793 71.3 793 71.6 791.3 72 790.6 72.3 792.4 72.7 792.8 73 793.1 73.4 792.9 73.7 792.9 74.1 791.9 74.4 792 74.8 790.7 75.1 791.2 75.5 793 75.8 793 76.2 792.6 76.5 790.7 76.9 788.2 77.2 789.3 77.6 789.6 77.9 790.3 78.3 792.9 78.6 792.8 79 792.8 79.3 791.2 79.7 792.1 80 792.7 80.4 793 80.7 792.6 81.1 792.7 81.4 790 81.8 792.5 82.1 790.8 82.5 791.1 82.8 792.4 83.2 792.8 83.5 792.6 83.9 792.7 84.2 792.9 84.6 787.5 84.9 792.1 85.3 791.8 85.6 792.8 86 793.3 86.3 792.8 86.7 789 87 792.6 87.4 790.8 87.7 791.1 88.1 792.5 88.4 793.3 88.8 793.6 89.1 792.9 89.5 793.6 89.8 793.5 90.2 791.6 90.5 793 90.9 793.3 91.2 793.1 91.6 792.1 91.9 791.6 92.3 787.4 92.6 792.3 93 792.3 93.3 791.9 93.7 792.1 94 791.8 94.4 788.6 94.7 782.5 95.1 790.7 95.4 789.6 95.8 791.6 96.1 792 96.5 792.3 96.8 790.4 97.2 792.7 97.5 792.3 97.9 792.8 98.2 793.2 98.6 793.4 98.9 793.6 99.3 791 99.6 788 100 786.4 100.3 793 100.7 792.1 101 792.7 101.4 792.9 101.7 789.8 102.1 792 102.4 781.9 102.8 786 103.1 791.7 103.5 791.6 103.8 791.5 104.2 791.7 104.5 790.9 104.9 790.1 105.2 788.1 105.6 791.7 105.9 792.5 106.3 792.6 106.6 792.6 107 791.4 107.3 789.2 107.7 791.3 108 791.7 108.4 792.6 108.7 792.6 109.1 792.7 109.4 792.2 109.8 791.5 110.1 790.1 110.5 792.5 110.8 792.8 111.2 791.7 111.5 793.1 111.9 792.7 112.2 791.3 112.6 792.8 112.9 790.3 113.3 792.5 113.6 793.3 114 793.1 114.3 793.1 114.7 792.2 115 790.3 115.4 790.1 115.7 792.4 116.1 791.9 116.4 792.3 116.8 791.4 117.1 791.2 117.5 788.3 117.8 788.7 118.2 790.1 118.5 790.9 118.9 791.7 119.2 790.6 119.6 785.3 119.9 778.7 120.3 785.1 120.6 791.5 121 790.7 121.3 791.1 121.7 790.8 122 789.6 122.4 785.6 122.7 786 123.1 789.8 123.4 790 123.8 792.2 124.1 792.6 124.5 793.1 124.8 791.5 125.2 790.2 125.5 791.6 125.9 792.8 126.2 792.6 126.6 792.9 126.9 792 127.3 792.8 127.6 787.3 128 791.6 128.3 792.7 128.7 792.2 129 792.4 129.4 792.7 129.7 792 130.1 787.5 130.4 786.7 130.8 791 131.1 792.1 131.5 790.4 131.8 792.3 132.2 792.2 132.5 791.6 132.9 789.3 133.2 790.1 133.6 792.6 133.9 793 134.3 792.8 134.6 792.1 135 792.4 135.3 789.6 135.7 790.4 136 791.7 136.4 793.2 136.7 793.2 137.1 793.1 137.4 792.4 137.8 789.1 138.1 792.1 138.5 791.9 138.8 790.9 139.2 792.8 139.5 792.2 139.9 791.6 140.2 791.8 140.6 792.2 140.9 792 141.3 792.7 141.6 792.9 142 792.9 142.3 792.1 142.7 789.4 143 788.1 143.4 792.7 143.7 792.3 144.1 792.9 144.4 792.4 144.8 792.2 145.1 791.5 145.5 790.5 145.8 791.8 146.2 791.5 146.5 792.4 146.9 792.3 147.2 792 147.6 790.9 147.9 791.6 148.3 791.6 148.6 791.7 149 792.6 149.3 792.6 149.7 792.1 150 792.8 150.4 786 150.7 789.6 151.1 792.1 151.4 792.2 151.8 792.5 152.1 792 152.5 790.8 152.8 791.6 153.2 788.9 153.5 792 153.9 793.2 154.2 793 154.6 793 154.9 791.5 155.3 788.7 155.6 787 156 792.2 156.3 791.6 156.7 793 157 792.7 157.4 791.9 157.7 791.9 158.1 791.3 158.4 789.6 158.8 791.1 159.1 792.6 159.5 792.9 159.8 790.3 160.2 791.8 160.5 789.7 160.9 787.2 161.2 790.9 161.6 792.5 161.9 791.2 162.3 792.7 162.6 790.1 163 790.5 163.3 788.5 163.7 789.5 164 792.8 164.4 792.8 164.7 792.6 165.1 789.7 165.4 788.3 165.8 787.9 166.1 788.8 166.5 792.8 166.8 793.1 167.2 793.1 167.5 792 167.9 792.2 168.2 790.2 168.6 791.7 168.9 792.3 169.3 793.2 169.6 793.4 170 792.8 170.3 792.1 170.7 793.2 171 790.6 171.4 792.9 171.7 793.2 172.1 793.2 172.4 792.7 172.8 789.7 173.1 792.3 173.5 789.7 173.8 788.2 174.2 790.7 174.5 792.9 174.9 793.1 175.2 792.7 175.6 789.9 175.9 790.7 176.3 792.2 176.6 792.8 177 792.6 177.3 792.8 177.7 791.5 178 790.2 178.4 791.7 178.7 789.6 179.1 792.3 179.4 792.6 179.8 792.7 180.1 791.3 180.5 789.6 180.8 789.5 181.2 789.9 181.5 791.8 181.9 792.5 182.2 792.4 182.6 791.8 182.9 789.5 183.3 792.3 183.6 792.8 184 792.3 184.3 791.4 184.7 792.3 185 792.3 185.4 791.9 185.7 790.8 186.1 788.1 186.4 791.3 186.8 792.2 187.1 792.8 187.5 792.2 187.8 791.1 188.2 791.7 188.5 786.6 188.9 792.3 189.2 792.4 189.6 792.5 189.9 792.6 190.3 792.4 190.6 791.5 191 792.5 191.3 791.9 191.7 791.9 192 792.8 192.4 793 192.7 792.3 193.1 792.7 193.4 792.4 193.8 791.7 194.1 792.1 194.5 792.7 194.8 792.8 195.2 792.5 195.5 792.8 195.9 788.3 196.2 788.6 196.6 792.3 196.9 793.1 197.3 792.7 197.6 792.4 198 791.6 198.3 792.3 198.7 790 199 791.9 199.4 792.8 199.7 792.8 200.1 792.6 200.4 792.1 200.8 788.8 201.1 784 201.5 792.9 201.8 792.4 202.2 793.2 202.5 793 202.9 793.3 203.2 792.7 203.6 792.6 203.9 793.1 204.3 793.5 204.6 793.6 205 793.6 205.3 792.6 205.7 790.6 206 784.8 206.4 787.5 206.7 793.1 207.1 792.6 207.4 793.3 207.8 793.2 208.1 788.8 208.5 789.9 208.8 790 209.2 791.4 209.5 792.8 209.9 793 210.2 792.2 210.6 790.7 210.9 788.8 211.3 787.5 211.6 788 212 791.6 212.3 792.7 212.7 792.9 213 792.4 213.4 791.7 213.7 789.8 214.1 790.8 214.4 792.9 214.8 793.2 215.1 793.3 215.5 792.8 215.8 791.8 216.2 793.1 216.5 792.6 216.9 793 217.2 793.3 217.6 792.9 217.9 792.7 218.3 790.2 218.6 793 219 789.8 219.3 792.9 219.7 792.9 220 793.1 220.4 793.2 220.7 793.5 221.1 793.3 221.4 792.3 221.8 792.9 222.1 793.1 222.5 793.4 222.8 793.1 223.2 791.9 223.5 789.2 223.9 789.3 224.2 792.5 224.6 792.4 224.9 792.5 225.3 792.3 225.6 791 226 792.1 226.3 791 226.7 786.1 227 790.8 227.4 790.8 227.7 791.3 228.1 790.7 228.4 784.2 228.8 789 229.1 782.7 229.5 791.1 229.8 791.2 230.2 792.1 230.5 792.5 230.9 788.5 231.2 792.6 231.6 791.9 231.9 792.1 232.3 792.6 232.6 793.1 233 792.7 233.3 792.6 233.7 792.5 234 785.9 234.4 789.4 234.7 792 235.1 792.4 235.4 792.1 235.8 789.9 236.1 786.3 236.5 786.6 236.8 789.7 237.2 792 237.5 792 237.9 792.3 238.2 792.5 238.6 790.8 238.9 791.8 239.3 790.7 239.6 792.4 240 792.5 240.3 792.5 240.7 791.1 241 791.9 241.4 789.2 241.7 786.9 242.1 790.6 242.4 792.5 242.8 791.6 243.1 791.3 243.5 790.6 243.8 789.6 244.2 790.7 244.5 791 244.9 790.7 245.2 791.2 245.6 791.1 245.9 789.3 246.3 787.4 246.6 785.9 247 790.5 247.3 788.1 247.7 791.7 248 792.3 248.4 791.9 248.7 791.9 249.1 790.1 249.4 790.2 249.8 792.5 250.1 793.1 250.5 793.4 250.8 792.8 251.2 792.7 251.5 791.4 251.9 793.2 252.2 793.3 252.6 793.2 252.9 793.2 253.3 792.9 253.6 791.9 254 792.5 254.3 792.5 254.7 790.4 255 792.4 255.4 792.8 255.7 792.6 256.1 789.3 256.4 787.5 256.8 785.7 257.1 786.4 257.5 791.9 257.8 791.9 258.2 792.1 258.5 791.8 258.9 790.5 259.2 792.4 259.6 789.6 259.9 791.8 260.3 793 260.6 791.4 261 792.2 261.3 789.3 261.7 790 262 789.2 262.4 792.7 262.7 792.9 263.1 793 263.4 792.6 263.8 789.7 264.1 787.5 264.5 792.5 264.8 791.4 265.2 792.6 265.5 793.1 265.9 792.8 266.2 792.1 266.6 793 266.9 791.7 267.3 791.7 267.6 792.2 268 793 268.3 792.9 268.7 792.3 269 792.6 269.4 791.4 269.7 792.7 270.1 792.5 270.4 792.5 270.8 792.1 271.1 791.7 271.5 786.9 271.8 792.2 272.2 786.7 272.5 792.1 272.9 792.2 273.2 792.9 273.6 792.8 273.9 790.2 274.3 787.9 274.6 791.3 275 792.7 275.3 792.8 275.7 792.8 276 792.7 276.4 791.6 276.7 791.7 277.1 792.7 277.4 792.9 277.8 792.9 278.1 793 278.5 793.3 278.8 792.9 279.2 790.7 279.5 791.6 279.9 793 280.2 793 280.6 793.3 280.9 793.5 281.3 793.5 281.6 793.5 282 793.6 282.3 791.3 282.7 793 283 793.6 283.4 793.6 283.7 793.4 284.1 791.9 284.4 791.7 284.8 793.6 285.1 793.4 285.5 793.6 285.8 793.7 286.2 793.6 286.5 793.7 286.9 791.9 287.2 792.6 287.6 792.5 287.9 793.2 288.3 793.3 288.6 793 289 792.2 289.3 791.4 289.7 792 290 790.6 290.4 792.8 290.7 792.8 291.1 792.9 291.4 792.4 291.8 792 292.1 791.5 292.5 790.7 292.8 792.4 293.2 792.9 293.5 792.6 293.9 792 294.2 791.5 294.6 791.2 294.9 792.2 295.3 792.7 295.6 791.9 296 792 296.3 792 296.7 791.7 297 789.7 297.4 789.7 297.7 791.6 298.1 792 298.4 792.6 298.8 792.4 299.1 792.6 299.5 791.1 299.8 790.5 300.2 792.7 300.5 793.3 300.9 793.2 301.2 793.5 301.6 793.6 301.9 793.7 302.3 789.8 302.6 793.7 303 793.5 303.3 793.8 303.7 792.5 304 793.6 304.4 791.7 304.7 791.2 305.1 792.8 305.4 793.5 305.8 793.3 306.1 793.1 306.5 793.3 306.8 793 307.2 791.4 307.5 792.9 307.9 792.8 308.2 793.1 308.6 793 308.9 791 309.3 792.7 309.6 792.7 310 792 310.3 792.7 310.7 792.8 311 793.2 311.4 792.7 311.7 792.4 312.1 792 312.4 789.2 312.8 792.7 313.1 792.4 313.5 793 313.8 792.7 314.2 792.1 314.5 792.6 314.9 791.2 315.2 789.6 315.6 792.8 315.9 792.7 316.3 792.9 316.6 792.5 317 792.4 317.3 791.2 317.7 792.4 318 792.7 318.4 791.2 318.7 793.1 319.1 792.5 319.4 792.6 319.8 790.6 320.1 792.6 320.5 792.4 320.8 792.2 321.2 792.8 321.5 792.5 321.9 790.6 322.2 787.5 322.6 790.6 322.9 791.4 323.3 792.1 323.6 792.3 324 792.3 324.3 789.7 324.7 782.7 325 788.3 325.4 789.9 325.7 791.1 326.1 792.2 326.4 791.9 326.8 790.4 327.1 790.3 327.5 791 327.8 788.6 328.2 791.6 328.5 792.4 328.9 792.3 329.2 791 329.6 790.6 329.9 791.4 330.3 792 330.6 792.2 331 792.4 331.3 792.4 331.7 792 332 791.3 332.4 789.1 332.7 790.4 333.1 791.3 333.4 792.4 333.8 793 334.1 792.8 334.5 792 334.8 791.6 335.2 791 335.5 792.2 335.9 793 336.2 793.2 336.6 793.5 336.9 792.8 337.3 792.6 337.6 792.6 338 791.3 338.3 793.3 338.7 793.3 339 793.4 339.4 793.4 339.7 791.2 340.1 792.3 340.4 793.2 340.8 793.3 341.1 793.4 341.5 793.5 341.8 793.6 342.2 791.6 342.5 793.5 342.9 793.5 343.2 792 343.6 793.6 343.9 793.6 344.3 793.8 344.6 793.5 345 787.6 345.3 792.8 345.7 791.9 346 793.2 346.4 793.6 346.7 793.6 347.1 793.2 347.4 792.6 347.8 792.2 348.1 792.6 348.5 793.1 348.8 793.1 349.2 793 349.5 793.2 349.9 792.6 350.2 790.7 350.6 791.9 350.9 792.4 351.3 792.9 351.6 792.9 352 792.2 352.3 792.5 352.7 791.9 353 789.9 353.4 792 353.7 792.8 354.1 792.9 354.1 795.8 353.7 796.4 353.4 797.5 353 797.7 352.7 800.6 352.3 796.3 352 798.9 351.6 796.3 351.3 796.1 350.9 796.1 350.6 798.3 350.2 796.9 349.9 796.8 349.5 796.1 349.2 795.8 348.8 795.5 348.5 795.8 348.1 796.3 347.8 795.8 347.4 798.6 347.1 795.4 346.7 795.3 346.4 795 346 795.1 345.7 797.4 345.3 798.3 345 797.7 344.6 797.4 344.3 795.6 343.9 795.1 343.6 795.4 343.2 796.4 342.9 800 342.5 797.5 342.2 798.5 341.8 795.2 341.5 795.5 341.1 795.5 340.8 796.3 340.4 798 340.1 798.4 339.7 796.2 339.4 795.9 339 795.3 338.7 795.3 338.3 795.4 338 796.1 337.6 798.5 337.3 797.5 336.9 795.2 336.6 797.4 336.2 795.7 335.9 795.7 335.5 796.7 335.2 795.7 334.8 798.5 334.5 796.3 334.1 795.9 333.8 796.2 333.4 796.2 333.1 797.4 332.7 796.8 332.4 797.4 332 796.6 331.7 796.7 331.3 796 331 796.7 330.6 796.3 330.3 800.6 329.9 797.6 329.6 799.5 329.2 796.7 328.9 796.6 328.5 797.6 328.2 797 327.8 796.5 327.5 800.8 327.1 799 326.8 797.3 326.4 797 326.1 796.8 325.7 797.7 325.4 802.5 325 802.2 324.7 798.5 324.3 798.7 324 797.1 323.6 796.3 323.3 796.4 322.9 798.9 322.6 797.2 322.2 797.7 321.9 797.3 321.5 796.3 321.2 796.2 320.8 796.3 320.5 796 320.1 796.2 319.8 798 319.4 798.6 319.1 796.2 318.7 795.8 318.4 796.1 318 796.4 317.7 796.6 317.3 798.3 317 796 316.6 795.9 316.3 796.2 315.9 796 315.6 796.5 315.2 796.9 314.9 796.6 314.5 797.8 314.2 797.3 313.8 796.3 313.5 795.9 313.1 796.2 312.8 798.7 312.4 800.6 312.1 798.2 311.7 796.8 311.4 796.2 311 795.7 310.7 795.6 310.3 796.1 310 797.4 309.6 797.2 309.3 796.2 308.9 796 308.6 795.4 308.2 795.9 307.9 795.6 307.5 796.5 307.2 797.6 306.8 796.9 306.5 795.7 306.1 795.5 305.8 795.4 305.4 795.3 305.1 795.5 304.7 795.2 304.4 796.5 304 795.5 303.7 795 303.3 795.1 303 795.3 302.6 795.6 302.3 795.9 301.9 796.5 301.6 795.2 301.2 795.5 300.9 795.5 300.5 795.8 300.2 796.4 299.8 796.8 299.5 796.9 299.1 796.9 298.8 796.2 298.4 796.5 298.1 796.8 297.7 798 297.4 798.4 297 799.3 296.7 796.8 296.3 797 296 796.6 295.6 796.9 295.3 797.2 294.9 798.2 294.6 803 294.2 799.6 293.9 797 293.5 796.5 293.2 796.1 292.8 796.5 292.5 796.6 292.1 797 291.8 796.5 291.4 796 291.1 795.9 290.7 795.5 290.4 796.2 290 796 289.7 796.4 289.3 798.9 289 795.9 288.6 795.6 288.3 797.6 287.9 795.6 287.6 796 287.2 795.6 286.9 796.6 286.5 795.5 286.2 795.3 285.8 795 285.5 795.2 285.1 795.4 284.8 796.6 284.4 796.4 284.1 796.5 283.7 795 283.4 795.2 283 795.1 282.7 795.8 282.3 795.7 282 795.4 281.6 796.3 281.3 795.8 280.9 795.4 280.6 795.5 280.2 795.4 279.9 796.6 279.5 796.3 279.2 796.2 278.8 795.6 278.5 795.8 278.1 795.6 277.8 795.9 277.4 796.2 277.1 796 276.7 797.6 276.4 796.1 276 796.2 275.7 795.8 275.3 796.1 275 796.9 274.6 797.7 274.3 796.1 273.9 797.4 273.6 796 273.2 796.1 272.9 796.4 272.5 797.5 272.2 802 271.8 799.3 271.5 798.7 271.1 797.1 270.8 796.3 270.4 796 270.1 796.9 269.7 797 269.4 798 269 796.4 268.7 797.5 268.3 796.3 268 796.2 267.6 795.8 267.3 797.4 266.9 800.3 266.6 798.7 266.2 796.6 265.9 795.8 265.5 795.7 265.2 796.3 264.8 796.8 264.5 798.6 264.1 798 263.8 798 263.4 796.7 263.1 795.8 262.7 795.9 262.4 796.5 262 799.5 261.7 796.1 261.3 796.7 261 796.5 260.6 795.9 260.3 796.4 259.9 796.6 259.6 797.3 259.2 802.2 258.9 798.5 258.5 797.8 258.2 796.3 257.8 796.2 257.5 797.4 257.1 797.6 256.8 796.5 256.4 805.8 256.1 796.9 255.7 796 255.4 796.1 255 796.8 254.7 797.1 254.3 796.3 254 796.5 253.6 798.8 253.3 795.8 252.9 795.6 252.6 795.8 252.2 796.4 251.9 797.7 251.5 796.2 251.2 796 250.8 796.1 250.5 795.4 250.1 797.3 249.8 796.6 249.4 798.8 249.1 800.5 248.7 796.8 248.4 798.4 248 797.1 247.7 796.5 247.3 797.8 247 797.8 246.6 800.8 246.3 797.5 245.9 799.8 245.6 797.5 245.2 798.1 244.9 797.8 244.5 798 244.2 800.3 243.8 797.9 243.5 798.4 243.1 797.2 242.8 796.4 242.4 796.9 242.1 796.8 241.7 801.7 241.4 804.4 241 799.4 240.7 796.5 240.3 799.2 240 796.4 239.6 797.3 239.3 796.8 238.9 798.9 238.6 799 238.2 796.8 237.9 796.4 237.5 796.4 237.2 797.6 236.8 801.2 236.5 805.2 236.1 800.3 235.8 797.4 235.4 796.4 235.1 796.2 234.7 796.3 234.4 797.5 234 800 233.7 799.6 233.3 796.7 233 796.5 232.6 796.2 232.3 796 231.9 798.3 231.6 797.1 231.2 800.9 230.9 797.3 230.5 796.4 230.2 796.6 229.8 797.7 229.5 802 229.1 802.4 228.8 798.1 228.4 804.8 228.1 798 227.7 798 227.4 797.9 227 797.7 226.7 801.3 226.3 797.3 226 797.5 225.6 796.7 225.3 798.6 224.9 796.5 224.6 796.6 224.2 798.5 223.9 798 223.5 797.5 223.2 795.7 222.8 795.7 222.5 797.3 222.1 795.7 221.8 796 221.4 798.4 221.1 795.7 220.7 795.7 220.4 795.5 220 795.7 219.7 795.6 219.3 797 219 797 218.6 796.2 218.3 796.1 217.9 796.1 217.6 796 217.2 795.8 216.9 796 216.5 796.8 216.2 799.5 215.8 796.5 215.5 796.1 215.1 795.8 214.8 796.1 214.4 795.6 214.1 798.1 213.7 798.8 213.4 797.5 213 797.3 212.7 795.6 212.3 796.1 212 797 211.6 799 211.3 806.2 210.9 802.8 210.6 796.6 210.2 796.3 209.9 796 209.5 796.6 209.2 796.1 208.8 804.3 208.5 800.2 208.1 798.4 207.8 796.2 207.4 795.8 207.1 795.8 206.7 796.1 206.4 796.7 206 798.2 205.7 800.7 205.3 795.5 205 795.2 204.6 795.3 204.3 795.9 203.9 796.5 203.6 796.1 203.2 796 202.9 795.8 202.5 795.7 202.2 795.5 201.8 796.3 201.5 796.6 201.1 797.8 200.8 802.8 200.4 797.8 200.1 796.6 199.7 796.3 199.4 796.4 199 797 198.7 801 198.3 797.2 198 798.5 197.6 796 197.3 796.1 196.9 796.2 196.6 795.9 196.2 797.6 195.9 800.1 195.5 796.8 195.2 796.3 194.8 795.5 194.5 795.8 194.1 797.2 193.8 797.7 193.4 798.2 193.1 796.9 192.7 795.7 192.4 795.5 192 795.7 191.7 797 191.3 797.6 191 799 190.6 797.7 190.3 796.5 189.9 796.2 189.6 796.2 189.2 797 188.9 796.8 188.5 804.7 188.2 799.8 187.8 796.3 187.5 796.7 187.1 796.5 186.8 799.3 186.4 797.5 186.1 803.1 185.7 801.9 185.4 797.5 185 796.4 184.7 796.6 184.3 796.4 184 796.7 183.6 800.3 183.3 799.2 182.9 796.3 182.6 797 182.2 796.2 181.9 796.5 181.5 796.8 181.2 797.2 180.8 799.2 180.5 797.9 180.1 796.9 179.8 796.5 179.4 796.1 179.1 796.1 178.7 798 178.4 798.6 178 796.8 177.7 797.5 177.3 796 177 796 176.6 796.6 176.3 797.6 175.9 796.6 175.6 796.9 175.2 796.1 174.9 796.1 174.5 796 174.2 795.9 173.8 797.4 173.5 795.6 173.1 801.6 172.8 796.2 172.4 796.1 172.1 795.3 171.7 795.7 171.4 797 171 795.6 170.7 798 170.3 797.4 170 796.3 169.6 795.8 169.3 795.8 168.9 795.7 168.6 796.6 168.2 799.2 167.9 798.7 167.5 795.7 167.2 796.1 166.8 796 166.5 795.7 166.1 796.2 165.8 802.2 165.4 801.9 165.1 798 164.7 796.5 164.4 796 164 796.5 163.7 797 163.3 796.9 163 803 162.6 797.6 162.3 796.1 161.9 798.2 161.6 797.9 161.2 796.7 160.9 797.3 160.5 799 160.2 798.6 159.8 796.5 159.5 795.9 159.1 796.6 158.8 797.1 158.4 798.3 158.1 800.7 157.7 800.2 157.4 796.5 157 796.2 156.7 795.9 156.3 795.9 156 797.4 155.6 796.7 155.3 797.7 154.9 796.2 154.6 795.7 154.2 798.4 153.9 796.2 153.5 798.4 153.2 797.3 152.8 804.6 152.5 796.3 152.1 796.6 151.8 796.1 151.4 796.1 151.1 798.1 150.7 803.3 150.4 796.5 150 797.4 149.7 797.2 149.3 796.5 149 796.4 148.6 797.5 148.3 796.8 147.9 797.8 147.6 797.8 147.2 796.3 146.9 796.4 146.5 796.3 146.2 797.1 145.8 798.3 145.5 798.8 145.1 796.1 144.8 796.1 144.4 797.9 144.1 796.2 143.7 796.3 143.4 798.2 143 796.5 142.7 797.4 142.3 797.3 142 795.7 141.6 795.8 141.3 796 140.9 796.8 140.6 799.6 140.2 796.3 139.9 797.4 139.5 796.1 139.2 796 138.8 796.1 138.5 797.9 138.1 797 137.8 797.7 137.4 796.8 137.1 797.2 136.7 795.5 136.4 795.8 136 796.4 135.7 797.9 135.3 797.4 135 796.3 134.6 796.1 134.3 796 133.9 795.9 133.6 796.2 133.2 797.7 132.9 803.5 132.5 797.8 132.2 798.2 131.8 796.1 131.5 796.4 131.1 799 130.8 797.1 130.4 799.2 130.1 799.2 129.7 796.7 129.4 796.7 129 796.4 128.7 796.3 128.3 797 128 796.9 127.6 799 127.3 796.3 126.9 795.8 126.6 796.1 126.2 795.9 125.9 797.1 125.5 796.3 125.2 800.3 124.8 796.2 124.5 796.3 124.1 795.7 123.8 796.4 123.4 800.9 123.1 804.7 122.7 796.9 122.4 799 122 798 121.7 798 121.3 797.7 121 798.2 120.6 798.5 120.3 801.5 119.9 806.8 119.6 798 119.2 797.1 118.9 797.7 118.5 798.4 118.2 800.1 117.8 797.3 117.5 805.7 117.1 799.2 116.8 797.2 116.4 796.4 116.1 796.5 115.7 797.3 115.4 797.6 115 797.6 114.7 796.2 114.3 796.1 114 795.7 113.6 795.6 113.3 797.5 112.9 797.6 112.6 795.6 112.2 797 111.9 796.7 111.5 795.6 111.2 795.8 110.8 795.5 110.5 797.6 110.1 796.9 109.8 796.8 109.4 796.1 109.1 795.9 108.7 795.7 108.4 795.8 108 798.2 107.7 796.7 107.3 796.8 107 798.6 106.6 798.1 106.3 796.3 105.9 796.8 105.6 796.5 105.2 799.8 104.9 798.6 104.5 798.1 104.2 797.4 103.8 798.6 103.5 797.3 103.1 797.7 102.8 804.8 102.4 797.5 102.1 800.6 101.7 797.7 101.4 796.6 101 796.1 100.7 797.6 100.3 795.8 100 796.4 99.6 796.8 99.3 795.3 98.9 795.4 98.6 795.5 98.2 796.2 97.9 797.3 97.5 802.5 97.2 797.6 96.8 797.4 96.5 796.4 96.1 796.6 95.8 796.9 95.4 797.8 95.1 801.2 94.7 804.2 94.4 799.1 94 797.3 93.7 796.7 93.3 796.5 93 797.6 92.6 799.8 92.3 801.4 91.9 796.7 91.6 796.6 91.2 795.6 90.9 795.6 90.5 796 90.2 796.6 89.8 795.5 89.5 795.1 89.1 795.6 88.8 795.1 88.4 795.4 88.1 795.6 87.7 796.2 87.4 797.8 87 797.7 86.7 797.2 86.3 795.9 86 795.8 85.6 795.8 85.3 799 84.9 797.1 84.6 797.9 84.2 796.3 83.9 796.6 83.5 798.5 83.2 796.4 82.8 797.1 82.5 796.8 82.1 797.9 81.8 798.3 81.4 796.6 81.1 795.9 80.7 796 80.4 796.7 80 797.6 79.7 798.5 79.3 798.5 79 796.8 78.6 796.3 78.3 796.5 77.9 796.4 77.6 800.6 77.2 796.5 76.9 797.6 76.5 798 76.2 795.9 75.8 795.9 75.5 796.4 75.1 796.1 74.8 797.7 74.4 795.9 74.1 796.2 73.7 795.7 73.4 795.9 73 796 72.7 795.7 72.3 796.7 72 797.5 71.6 795.7 71.3 795.6 70.9 795.8 70.6 795.7 70.2 797.3 69.9 798.5 69.5 799.6 69.2 796 68.8 797.2 68.5 796.1 68.1 799 67.8 796.6 67.4 796.6 67.1 799.9 66.7 800.3 66.4 796.8 66 796.7 65.7 797.3 65.3 797.5 65 800.5 64.6 801 64.3 803.7 63.9 799 63.6 797.2 63.2 796.5 62.9 797.1 62.5 797 62.2 799.9 61.8 796.2 61.5 797.7 61.1 797.3 60.8 796.1 60.4 797 60.1 796.6 59.7 799 59.4 796.9 59 799.2 58.7 797 58.3 796.5 58 796.1 57.6 796 57.3 800.5 56.9 798.4 56.6 796.3 56.2 798.6 55.9 797.7 55.5 796 55.2 796.2 54.8 798.7 54.5 799.3 54.1 801 53.8 796.9 53.4 796.5 53.1 796.1 52.7 796.8 52.4 797.4 52 800.3 51.7 798.9 51.3 797.7 51 795.6 50.6 795.4 50.3 795.8 49.9 796.1 49.6 805.7 49.2 797.5 48.9 795.8 48.5 795.9 48.2 795.7 47.8 795.8 47.5 796.9 47.1 797.7 46.8 797.9 46.4 798.4 46.1 795.5 45.7 796 45.4 796 45 795.8 44.7 798 44.3 796.9 44 795.7 43.6 795.9 43.3 795.9 42.9 795.9 42.6 796 42.2 797.3 41.9 796.3 41.5 800.2 41.2 795.6 40.8 797.7 40.5 795.3 40.1 795.6 39.8 795.9 39.4 799.1 39.1 796.5 38.7 795.7Z" fill="#2a4494" stroke="#2a4494" stroke-width="0.4" stroke-linejoin="round" clip-path="url(#lc33)"/>
<rect x="38.5" y="776" width="316" height="36.5" fill="none" stroke="#2b2b2b" stroke-width="1.1"/>
<text transform="translate(196.5,832.5) scale(0.98,1.07)" font-size="12" text-anchor="middle" fill="#1e1e1e" >IMF5</text>
<text transform="translate(33,843.1) scale(0.96,1.13)" font-size="11.5" text-anchor="end" fill="#1e1e1e" >10</text>
<text transform="translate(33,857.4) scale(0.96,1.13)" font-size="11.5" text-anchor="end" fill="#1e1e1e" >0</text>
<text transform="translate(33,871.9) scale(0.96,1.13)" font-size="11.5" text-anchor="end" fill="#1e1e1e" >−10</text>
<line x1="38.5" y1="839.3" x2="42.7" y2="839.3" stroke="#2b2b2b" stroke-width="0.9"/>
<line x1="354.5" y1="839.3" x2="350.3" y2="839.3" stroke="#2b2b2b" stroke-width="0.9"/>
<line x1="38.5" y1="846.5" x2="40.5" y2="846.5" stroke="#2b2b2b" stroke-width="0.9"/>
<line x1="354.5" y1="846.5" x2="352.5" y2="846.5" stroke="#2b2b2b" stroke-width="0.9"/>
<line x1="38.5" y1="853.7" x2="42.7" y2="853.7" stroke="#2b2b2b" stroke-width="0.9"/>
<line x1="354.5" y1="853.7" x2="350.3" y2="853.7" stroke="#2b2b2b" stroke-width="0.9"/>
<line x1="38.5" y1="860.9" x2="40.5" y2="860.9" stroke="#2b2b2b" stroke-width="0.9"/>
<line x1="354.5" y1="860.9" x2="352.5" y2="860.9" stroke="#2b2b2b" stroke-width="0.9"/>
<line x1="38.5" y1="868.1" x2="42.7" y2="868.1" stroke="#2b2b2b" stroke-width="0.9"/>
<line x1="354.5" y1="868.1" x2="350.3" y2="868.1" stroke="#2b2b2b" stroke-width="0.9"/>
<line x1="64.8" y1="873.3" x2="64.8" y2="871.1" stroke="#2b2b2b" stroke-width="0.9"/>
<line x1="91.2" y1="873.3" x2="91.2" y2="871.1" stroke="#2b2b2b" stroke-width="0.9"/>
<line x1="117.5" y1="873.3" x2="117.5" y2="871.1" stroke="#2b2b2b" stroke-width="0.9"/>
<line x1="143.8" y1="873.3" x2="143.8" y2="871.1" stroke="#2b2b2b" stroke-width="0.9"/>
<line x1="170.2" y1="873.3" x2="170.2" y2="871.1" stroke="#2b2b2b" stroke-width="0.9"/>
<line x1="196.5" y1="873.3" x2="196.5" y2="871.1" stroke="#2b2b2b" stroke-width="0.9"/>
<line x1="222.8" y1="873.3" x2="222.8" y2="871.1" stroke="#2b2b2b" stroke-width="0.9"/>
<line x1="249.2" y1="873.3" x2="249.2" y2="871.1" stroke="#2b2b2b" stroke-width="0.9"/>
<line x1="275.5" y1="873.3" x2="275.5" y2="871.1" stroke="#2b2b2b" stroke-width="0.9"/>
<line x1="301.8" y1="873.3" x2="301.8" y2="871.1" stroke="#2b2b2b" stroke-width="0.9"/>
<line x1="328.2" y1="873.3" x2="328.2" y2="871.1" stroke="#2b2b2b" stroke-width="0.9"/>
<path d="M38.7 850.9 39.1 840.1 39.4 850 39.8 851.5 40.1 852.4 40.5 852.9 40.8 852.7 41.2 852.5 41.5 844.8 41.9 847.2 42.2 849.7 42.6 850.2 42.9 852.2 43.3 852.5 43.6 851.5 44 846.7 44.3 852.2 44.7 851.7 45 851.6 45.4 852.3 45.7 852.2 46.1 852.4 46.4 852.2 46.8 844.3 47.1 846 47.5 851.4 47.8 852.6 48.2 852.7 48.5 852.7 48.9 852.5 49.2 845.7 49.6 851 49.9 851.9 50.3 852.8 50.6 853 51 853 51.3 852.3 51.7 852.4 52 846.9 52.4 852.1 52.7 852.1 53.1 852.7 53.4 852.5 53.8 851.6 54.1 852.3 54.5 852.2 54.8 848.8 55.2 852.3 55.5 852.8 55.9 852.9 56.2 852.7 56.6 851.1 56.9 848.9 57.3 850.9 57.6 853.2 58 853.1 58.3 853.1 58.7 853 59 851.2 59.4 849.7 59.7 850.6 60.1 852.8 60.4 853.3 60.8 853.3 61.1 853.2 61.5 852.5 61.8 852.4 62.2 848.2 62.5 850.1 62.9 852.8 63.2 852.9 63.6 852.8 63.9 852.7 64.3 848.3 64.6 845.8 65 852.5 65.3 852.4 65.7 852.8 66 852.6 66.4 852.2 66.7 851.7 67.1 851.8 67.4 850.9 67.8 852.7 68.1 852.6 68.5 852.8 68.8 852.4 69.2 848.7 69.5 848.1 69.9 852.7 70.2 852.1 70.6 852.7 70.9 852.7 71.3 851.5 71.6 852.7 72 847.3 72.3 849.6 72.7 851.5 73 852.9 73.4 853.2 73.7 853 74.1 852.9 74.4 852 74.8 852.7 75.1 851.6 75.5 853 75.8 853.2 76.2 852.9 76.5 852.5 76.9 852.9 77.2 851.7 77.6 850.1 77.9 852.7 78.3 852.8 78.6 853 79 852.7 79.3 850.1 79.7 849.7 80 848.9 80.4 852.5 80.7 852.6 81.1 852.4 81.4 852.6 81.8 852 82.1 852 82.5 849.8 82.8 848.5 83.2 852.3 83.5 850.9 83.9 852.1 84.2 849.4 84.6 847.4 84.9 850.4 85.3 850.3 85.6 852.1 86 850.5 86.3 852.4 86.7 852.1 87 851.8 87.4 849.8 87.7 851.9 88.1 852.2 88.4 852.6 88.8 852.3 89.1 851.9 89.5 852.2 89.8 851.5 90.2 849.4 90.5 852.5 90.9 852.6 91.2 852.8 91.6 852.5 91.9 851.8 92.3 851.4 92.6 848.4 93 852.4 93.3 852.6 93.7 852.8 94 850.3 94.4 848.5 94.7 842.2 95.1 848.4 95.4 850.6 95.8 852.7 96.1 852.5 96.5 852.7 96.8 850 97.2 849.1 97.5 849.3 97.9 849.2 98.2 852.8 98.6 853.1 98.9 853.1 99.3 852.5 99.6 848.4 100 851.5 100.3 852.6 100.7 853 101 853.2 101.4 850.7 101.7 852.7 102.1 848 102.4 847.9 102.8 848 103.1 852.6 103.5 852.8 103.8 853.1 104.2 852.9 104.5 849 104.9 844.1 105.2 849.8 105.6 852.9 105.9 852.9 106.3 853.2 106.6 853.1 107 853.1 107.3 852.7 107.7 850 108 853.2 108.4 852.9 108.7 853.1 109.1 852.8 109.4 850.5 109.8 852 110.1 848.2 110.5 852.5 110.8 852.7 111.2 852.8 111.5 852.4 111.9 851.9 112.2 851.1 112.6 849.9 112.9 847.7 113.3 852.8 113.6 852.9 114 852.9 114.3 852.2 114.7 848.2 115 840.8 115.4 847.1 115.7 852.7 116.1 852.8 116.4 852.9 116.8 853 117.1 850.6 117.5 848.9 117.8 845.8 118.2 847.9 118.5 852.5 118.9 852.7 119.2 852.5 119.6 851.7 119.9 845.7 120.3 848.6 120.6 850.1 121 852.2 121.3 852.4 121.7 852.2 122 852.2 122.4 849.7 122.7 851.9 123.1 852.2 123.4 852.3 123.8 852.8 124.1 852.9 124.5 852.1 124.8 849 125.2 849.5 125.5 852.7 125.9 851.2 126.2 852.8 126.6 853.1 126.9 852.9 127.3 851.7 127.6 850.1 128 847 128.3 851.5 128.7 853 129 853 129.4 852.7 129.7 852.7 130.1 844.7 130.4 845.1 130.8 851 131.1 852.7 131.5 852.8 131.8 852.9 132.2 852.3 132.5 849.8 132.9 850.7 133.2 851.9 133.6 852.2 133.9 852.8 134.3 851.1 134.6 851.8 135 849.7 135.3 846.7 135.7 851.4 136 852 136.4 852.8 136.7 852.9 137.1 852.6 137.4 850.9 137.8 842.6 138.1 846.2 138.5 852.4 138.8 853.1 139.2 853.1 139.5 852.7 139.9 846.2 140.2 832.1 140.6 842.5 140.9 851 141.3 853.3 141.6 853.2 142 853.2 142.3 852.7 142.7 844.3 143 848.9 143.4 849.8 143.7 853 144.1 851.6 144.4 853.1 144.8 852.7 145.1 851.9 145.5 848.6 145.8 851.6 146.2 852.6 146.5 852.9 146.9 852.9 147.2 852.1 147.6 852.5 147.9 852 148.3 852 148.6 852.5 149 852.9 149.3 852.7 149.7 852.5 150 851.6 150.4 844.7 150.7 852.1 151.1 852 151.4 852.6 151.8 852.8 152.1 852.6 152.5 847.5 152.8 834.9 153.2 839.8 153.5 845.9 153.9 851.8 154.2 852.6 154.6 852.7 154.9 851 155.3 845 155.6 840 156 847 156.3 852.1 156.7 852.9 157 852.4 157.4 851.6 157.7 843.2 158.1 852.4 158.4 851.1 158.8 851.6 159.1 852.9 159.5 852.8 159.8 852.5 160.2 851.9 160.5 841 160.9 850.5 161.2 852.6 161.6 852.9 161.9 853.1 162.3 852.7 162.6 852.1 163 852.6 163.3 850 163.7 852.7 164 852.8 164.4 852.8 164.7 852.7 165.1 852.5 165.4 852.4 165.8 851.2 166.1 851.5 166.5 853 166.8 852.9 167.2 852.8 167.5 852.4 167.9 852.5 168.2 850.5 168.6 852.3 168.9 853.2 169.3 853.2 169.6 853 170 852.6 170.3 848.3 170.7 849.5 171 848.4 171.4 852.4 171.7 853 172.1 853.3 172.4 853 172.8 851.7 173.1 847.8 173.5 848.8 173.8 853 174.2 853.1 174.5 853.2 174.9 853.2 175.2 852.6 175.6 850.1 175.9 848.5 176.3 852.7 176.6 852.9 177 852.9 177.3 853.1 177.7 851.9 178 848.8 178.4 850.4 178.7 849.6 179.1 852.4 179.4 852.9 179.8 851.3 180.1 852.2 180.5 848.9 180.8 844.4 181.2 850.6 181.5 852 181.9 852.6 182.2 852.8 182.6 852.5 182.9 851.6 183.3 850.2 183.6 849 184 851.5 184.3 852.6 184.7 852.7 185 852.5 185.4 850.5 185.7 849.1 186.1 848.4 186.4 852.4 186.8 852.5 187.1 852.8 187.5 852.5 187.8 852 188.2 852.6 188.5 851.3 188.9 852.3 189.2 852.4 189.6 852.5 189.9 852.5 190.3 852.4 190.6 850.9 191 852 191.3 852.4 191.7 852.7 192 852.9 192.4 852.8 192.7 852.7 193.1 851.2 193.4 849.8 193.8 852.4 194.1 852.8 194.5 852.8 194.8 853 195.2 851.9 195.5 852.1 195.9 852.7 196.2 851.6 196.6 852.7 196.9 853 197.3 852.8 197.6 852.8 198 852.7 198.3 851.4 198.7 852.4 199 851.1 199.4 852.8 199.7 852.5 200.1 852.6 200.4 850.8 200.8 852.1 201.1 842.5 201.5 850.4 201.8 851.9 202.2 852.6 202.5 852.3 202.9 852.3 203.2 848.9 203.6 851.3 203.9 847.8 204.3 849.9 204.6 852.3 205 850.8 205.3 852.3 205.7 852 206 850.4 206.4 849 206.7 850.8 207.1 852.7 207.4 852.8 207.8 852.8 208.1 849.1 208.5 852.2 208.8 851.1 209.2 852.8 209.5 852.9 209.9 853 210.2 853.1 210.6 852.7 210.9 846.2 211.3 852.5 211.6 850.3 212 852.6 212.3 853 212.7 852.9 213 853 213.4 848.8 213.7 851.7 214.1 850.4 214.4 852.7 214.8 853 215.1 852.9 215.5 852.9 215.8 852.6 216.2 852.6 216.5 852.2 216.9 852.9 217.2 853.1 217.6 853.1 217.9 853 218.3 851.8 218.6 850.3 219 849.9 219.3 852.8 219.7 853 220 853.1 220.4 853 220.7 852.8 221.1 851.6 221.4 846.2 221.8 851.4 222.1 852.8 222.5 849.9 222.8 852.7 223.2 851.4 223.5 846.2 223.9 841.3 224.2 847.3 224.6 852.1 224.9 852.8 225.3 852.9 225.6 852.5 226 845.7 226.3 846 226.7 852 227 852.8 227.4 853.1 227.7 853 228.1 852.6 228.4 849.2 228.8 842.6 229.1 846.3 229.5 850.8 229.8 852.5 230.2 852.9 230.5 852.5 230.9 849.5 231.2 850.6 231.6 850 231.9 852.1 232.3 852.5 232.6 852.6 233 852.6 233.3 852.8 233.7 851.5 234 851.8 234.4 851.6 234.7 852.8 235.1 853.2 235.4 851 235.8 852.6 236.1 853 236.5 845.3 236.8 851.7 237.2 853.1 237.5 853.1 237.9 853.2 238.2 852.8 238.6 851.5 238.9 851.1 239.3 852.6 239.6 852.9 240 853.1 240.3 853.1 240.7 852.7 241 851.2 241.4 851.9 241.7 848.7 242.1 850.1 242.4 852.9 242.8 852.9 243.1 853.1 243.5 850.2 243.8 851.5 244.2 852.3 244.5 852.7 244.9 853.1 245.2 853.1 245.6 853.2 245.9 853.2 246.3 850.5 246.6 851.3 247 850.7 247.3 852.9 247.7 853.1 248 853 248.4 853 248.7 847.5 249.1 852.6 249.4 849 249.8 851.9 250.1 852.9 250.5 852.9 250.8 853.1 251.2 851.5 251.5 848.3 251.9 850.9 252.2 852.7 252.6 853 252.9 853.1 253.3 853.2 253.6 853 254 848.2 254.3 850.3 254.7 852.5 255 852.9 255.4 851.1 255.7 852.8 256.1 851.6 256.4 851.3 256.8 844.8 257.1 848.9 257.5 852.3 257.8 852.8 258.2 852.7 258.5 852 258.9 850.3 259.2 846.7 259.6 850.4 259.9 852.6 260.3 852.9 260.6 852.8 261 852.2 261.3 851.5 261.7 845.7 262 852.4 262.4 850.8 262.7 852.8 263.1 852.8 263.4 853.1 263.8 852.8 264.1 842.5 264.5 851.4 264.8 852.6 265.2 852.9 265.5 852.9 265.9 853 266.2 852.6 266.6 845.9 266.9 847.9 267.3 850.7 267.6 853.2 268 853.1 268.3 853 268.7 853 269 851.7 269.4 849.6 269.7 852.2 270.1 852.5 270.4 853 270.8 853.1 271.1 853.1 271.5 851.1 271.8 848.9 272.2 849.5 272.5 852.3 272.9 853 273.2 853.2 273.6 852.8 273.9 853 274.3 852.5 274.6 850.5 275 853 275.3 853 275.7 852.9 276 852.9 276.4 852.7 276.7 852.5 277.1 848.3 277.4 852.3 277.8 852.7 278.1 852.8 278.5 852.8 278.8 852.1 279.2 847.6 279.5 850.3 279.9 852.4 280.2 853.2 280.6 853.3 280.9 853.3 281.3 852.3 281.6 853.1 282 849.7 282.3 847.9 282.7 853 283 853.4 283.4 853.3 283.7 853.1 284.1 852.9 284.4 852.8 284.8 851.7 285.1 853.1 285.5 853.3 285.8 853.1 286.2 853 286.5 850.8 286.9 852.1 287.2 851.5 287.6 852 287.9 853.1 288.3 853 288.6 852.9 289 852.4 289.3 849.6 289.7 848.7 290 851.6 290.4 853.2 290.7 850.7 291.1 853.1 291.4 853 291.8 851 292.1 848.5 292.5 852.9 292.8 853.1 293.2 853.3 293.5 853.2 293.9 853.2 294.2 851.5 294.6 850.4 294.9 852.8 295.3 852.8 295.6 853 296 853.1 296.3 850 296.7 852.5 297 850.3 297.4 849.7 297.7 852.1 298.1 852.8 298.4 852.8 298.8 853 299.1 852.6 299.5 850.4 299.8 852.6 300.2 852.5 300.5 853.1 300.9 850.7 301.2 853.1 301.6 852.8 301.9 850.9 302.3 852.4 302.6 852.8 303 853.1 303.3 853.3 303.7 853.1 304 852.7 304.4 848.7 304.7 852.9 305.1 849.7 305.4 851 305.8 853.2 306.1 853.2 306.5 852.5 306.8 849.2 307.2 843.5 307.5 851.1 307.9 851.8 308.2 852.9 308.6 852.8 308.9 852.4 309.3 852.4 309.6 847.6 310 850.2 310.3 852.2 310.7 852.5 311 852.4 311.4 852.1 311.7 851.9 312.1 849.6 312.4 846.1 312.8 850 313.1 852.3 313.5 852.5 313.8 852.5 314.2 852.8 314.5 852.2 314.9 849.8 315.2 848.6 315.6 852.2 315.9 852.6 316.3 853 316.6 851.9 317 848.7 317.3 851.4 317.7 848 318 852.6 318.4 853 318.7 853 319.1 853.2 319.4 849.5 319.8 850.9 320.1 853 320.5 853.1 320.8 853 321.2 853.2 321.5 853.1 321.9 853.1 322.2 851.7 322.6 853 322.9 852.2 323.3 853 323.6 853 324 853.1 324.3 851.6 324.7 851.9 325 852.8 325.4 851.1 325.7 852.4 326.1 853 326.4 853 326.8 852.2 327.1 848.8 327.5 845.2 327.8 848.7 328.2 852.9 328.5 852.9 328.9 853.1 329.2 852.9 329.6 851.9 329.9 852.2 330.3 851.8 330.6 852.5 331 853.2 331.3 851.5 331.7 853.2 332 853 332.4 852.7 332.7 851.6 333.1 850.2 333.4 853.1 333.8 853.1 334.1 853 334.5 852.6 334.8 847.1 335.2 852.5 335.5 853.1 335.9 853 336.2 853.1 336.6 853.2 336.9 853.1 337.3 852.3 337.6 849.9 338 849.8 338.3 853.2 338.7 853.2 339 851 339.4 852.5 339.7 850.3 340.1 852.7 340.4 851.7 340.8 852.2 341.1 852.9 341.5 853 341.8 852.6 342.2 847.4 342.5 848.4 342.9 849.3 343.2 852.1 343.6 852.9 343.9 852.8 344.3 852.7 344.6 850.3 345 851.3 345.3 848.5 345.7 852 346 853 346.4 853 346.7 853 347.1 852.5 347.4 850 347.8 850.8 348.1 851.2 348.5 853 348.8 853.1 349.2 853.1 349.5 852.5 349.9 847.5 350.2 850 350.6 852 350.9 853.2 351.3 853.1 351.6 853 352 852.9 352.3 852.3 352.7 849.9 353 851.3 353.4 852.5 353.7 850.7 354.1 852.8 354.1 854.9 353.7 855.1 353.4 854.9 353 855.2 352.7 861.1 352.3 856.2 352 854.8 351.6 855.9 351.3 854.6 350.9 854.5 350.6 855.6 350.2 857.4 349.9 855.3 349.5 854.8 349.2 854.6 348.8 854.5 348.5 854.7 348.1 855.6 347.8 855.2 347.4 856 347.1 855.7 346.7 854.5 346.4 854.6 346 854.7 345.7 857.3 345.3 856 345 859.2 344.6 855.3 344.3 856 343.9 854.7 343.6 854.9 343.2 855.2 342.9 855.5 342.5 854.9 342.2 858.3 341.8 854.9 341.5 854.8 341.1 854.7 340.8 855.6 340.4 856.4 340.1 854.9 339.7 857.1 339.4 854.8 339 854.3 338.7 854.4 338.3 854.3 338 854.4 337.6 861.6 337.3 854.7 336.9 854.9 336.6 854.3 336.2 854.3 335.9 854.6 335.5 857.9 335.2 856.4 334.8 854.7 334.5 854.9 334.1 854.4 333.8 854.4 333.4 854.4 333.1 854.8 332.7 860.8 332.4 861.4 332 855.3 331.7 854.4 331.3 854.5 331 854.5 330.6 855.2 330.3 857.3 329.9 859.9 329.6 856.6 329.2 854.7 328.9 854.6 328.5 854.6 328.2 855 327.8 860.5 327.5 860.9 327.1 859.3 326.8 854.7 326.4 854.6 326.1 854.7 325.7 854.7 325.4 856.1 325 856.9 324.7 855.6 324.3 855.2 324 854.6 323.6 854.5 323.3 854.7 322.9 855 322.6 855.6 322.2 856.3 321.9 855.7 321.5 854.5 321.2 854.3 320.8 854.3 320.5 855.1 320.1 855.2 319.8 855.5 319.4 855.5 319.1 854.5 318.7 854.7 318.4 854.6 318 854.9 317.7 855.8 317.3 861.8 317 855.8 316.6 855.5 316.3 854.9 315.9 855 315.6 854.9 315.2 856.3 314.9 857 314.5 860.8 314.2 855.4 313.8 857 313.5 854.8 313.1 855.4 312.8 858.3 312.4 859.1 312.1 856.4 311.7 856.1 311.4 855.6 311 855.1 310.7 855.1 310.3 856 310 855.8 309.6 858.1 309.3 855.5 308.9 855.4 308.6 854.9 308.2 854.8 307.9 856.1 307.5 860.6 307.2 863.3 306.8 858.1 306.5 854.9 306.1 854.4 305.8 854.5 305.4 854.5 305.1 855.2 304.7 858.8 304.4 854.4 304 855 303.7 854.4 303.3 854.5 303 854.4 302.6 854.4 302.3 856.5 301.9 855.8 301.6 855 301.2 854.6 300.9 854.7 300.5 854.6 300.2 855 299.8 855.2 299.5 854.9 299.1 854.8 298.8 854.7 298.4 854.6 298.1 854.6 297.7 854.6 297.4 857.6 297 858.2 296.7 855.6 296.3 854.7 296 854.4 295.6 854.5 295.3 854.6 294.9 855.4 294.6 857.8 294.2 854.6 293.9 854.5 293.5 854.4 293.2 854.2 292.8 854.3 292.5 856.2 292.1 862.1 291.8 859 291.4 855.8 291.1 854.4 290.7 854.3 290.4 854.5 290 856.2 289.7 856.4 289.3 856.3 289 856 288.6 854.5 288.3 854.5 287.9 854.6 287.6 856.4 287.2 855.1 286.9 858.5 286.5 858.1 286.2 854.6 285.8 854.6 285.5 854.4 285.1 854.7 284.8 860.5 284.4 859.6 284.1 856.4 283.7 854.3 283.4 854.3 283 854.2 282.7 854.5 282.3 854.5 282 858.1 281.6 855.9 281.3 854.7 280.9 854.4 280.6 854.3 280.2 854.4 279.9 854.4 279.5 860.8 279.2 856.3 278.8 854.8 278.5 854.7 278.1 854.8 277.8 855 277.4 855.7 277.1 857.4 276.7 858.6 276.4 856.4 276 854.9 275.7 854.6 275.3 854.8 275 855.5 274.6 854.9 274.3 855.9 273.9 854.9 273.6 854.7 273.2 854.5 272.9 854.6 272.5 854.5 272.2 856.5 271.8 859.7 271.5 857.8 271.1 854.8 270.8 854.7 270.4 854.6 270.1 854.6 269.7 859.4 269.4 868.7 269 855.9 268.7 857.5 268.3 854.6 268 854.6 267.6 854.6 267.3 854.6 266.9 857.3 266.6 855 266.2 855.6 265.9 854.7 265.5 854.7 265.2 854.7 264.8 855 264.5 858.7 264.1 857.1 263.8 855.3 263.4 854.8 263.1 854.7 262.7 854.6 262.4 854.8 262 855.9 261.7 859.2 261.3 855.5 261 854.9 260.6 854.8 260.3 854.8 259.9 855.2 259.6 857.4 259.2 859.5 258.9 855.6 258.5 855.3 258.2 854.8 257.8 854.9 257.5 855 257.1 855.5 256.8 866.1 256.4 855.9 256.1 854.9 255.7 854.9 255.4 854.5 255 854.7 254.7 854.8 254.3 857.5 254 856.5 253.6 854.7 253.3 854.4 252.9 854.6 252.6 854.5 252.2 854.7 251.9 859.9 251.5 861.1 251.2 855 250.8 854.6 250.5 854.7 250.1 854.6 249.8 855.5 249.4 858.5 249.1 857.7 248.7 857.2 248.4 854.6 248 854.5 247.7 854.7 247.3 857.9 247 855 246.6 858.2 246.3 854.6 245.9 855.7 245.6 854.4 245.2 854.6 244.9 854.7 244.5 854.7 244.2 858.1 243.8 856.9 243.5 855.3 243.1 854.8 242.8 856.7 242.4 854.6 242.1 856.8 241.7 857.7 241.4 860.6 241 857 240.7 854.6 240.3 854.6 240 854.6 239.6 854.8 239.3 855.1 238.9 857.2 238.6 859.7 238.2 854.8 237.9 854.6 237.5 854.6 237.2 854.5 236.8 858.9 236.5 861.4 236.1 858.6 235.8 855 235.4 854.4 235.1 854.5 234.7 854.6 234.4 857.3 234 859.1 233.7 854.9 233.3 856 233 855 232.6 855.1 232.3 854.8 231.9 855.5 231.6 863.1 231.2 859.9 230.9 856.4 230.5 855.1 230.2 854.8 229.8 854.9 229.5 856.6 229.1 860.3 228.8 856.6 228.4 859.8 228.1 854.8 227.7 854.7 227.4 854.7 227 854.5 226.7 860.2 226.3 856.4 226 857.5 225.6 855.4 225.3 854.7 224.9 854.6 224.6 855 224.2 856.2 223.9 861.8 223.5 855.9 223.2 856.2 222.8 854.7 222.5 854.7 222.1 854.8 221.8 855 221.4 858.5 221.1 858.3 220.7 854.9 220.4 854.8 220 854.6 219.7 854.6 219.3 855.5 219 855.2 218.6 856.1 218.3 855.5 217.9 854.6 217.6 854.7 217.2 854.5 216.9 854.5 216.5 856.9 216.2 855.9 215.8 855.4 215.5 854.7 215.1 854.5 214.8 854.5 214.4 854.5 214.1 854.6 213.7 861.2 213.4 856.5 213 855.2 212.7 854.7 212.3 854.6 212 854.6 211.6 855.3 211.3 858.6 210.9 856 210.6 855.2 210.2 854.7 209.9 854.5 209.5 854.4 209.2 854.7 208.8 856.1 208.5 855.4 208.1 854.7 207.8 855 207.4 854.9 207.1 855.1 206.7 855.4 206.4 855.6 206 859 205.7 855.6 205.3 855.5 205 855.4 204.6 855.4 204.3 856.6 203.9 859.8 203.6 856.5 203.2 862.4 202.9 855.9 202.5 855.2 202.2 855 201.8 855.8 201.5 855 201.1 857 200.8 856.4 200.4 855.9 200.1 854.9 199.7 855.1 199.4 854.9 199 855.8 198.7 855.6 198.3 857.6 198 855.8 197.6 854.8 197.3 854.8 196.9 854.6 196.6 855.2 196.2 856 195.9 855.5 195.5 854.9 195.2 854.6 194.8 854.7 194.5 854.7 194.1 854.6 193.8 860.1 193.4 856.8 193.1 856.5 192.7 854.6 192.4 857.6 192 854.7 191.7 854.7 191.3 855.3 191 854.9 190.6 856.7 190.3 854.9 189.9 855.2 189.6 857.2 189.2 855.3 188.9 857.5 188.5 859.9 188.2 855.5 187.8 855.5 187.5 854.9 187.1 857 186.8 855 186.4 856.1 186.1 856.8 185.7 858.3 185.4 854.8 185 855.1 184.7 855 184.3 854.7 184 855.7 183.6 855.9 183.3 858.9 182.9 856.8 182.6 855.2 182.2 855 181.9 854.9 181.5 855.3 181.2 859 180.8 860.6 180.5 858.8 180.1 854.7 179.8 854.8 179.4 854.6 179.1 854.9 178.7 856.3 178.4 861 178 856.7 177.7 854.9 177.3 854.6 177 854.5 176.6 854.7 176.3 854.9 175.9 861.7 175.6 860.7 175.2 854.6 174.9 854.3 174.5 856.8 174.2 854.5 173.8 855.4 173.5 856.7 173.1 856.3 172.8 854.7 172.4 854.4 172.1 854.4 171.7 854.6 171.4 854.7 171 857.4 170.7 858.2 170.3 855.5 170 854.6 169.6 854.4 169.3 854.6 168.9 854.7 168.6 856.8 168.2 857.1 167.9 855 167.5 854.8 167.2 857.7 166.8 854.5 166.5 854.7 166.1 855.2 165.8 855.5 165.4 857.2 165.1 855.5 164.7 854.8 164.4 854.7 164 854.8 163.7 855 163.3 854.9 163 855.4 162.6 856.4 162.3 854.8 161.9 854.7 161.6 854.9 161.2 855.9 160.9 855.2 160.5 855.9 160.2 857.6 159.8 855.1 159.5 854.6 159.1 858 158.8 855.1 158.4 858.2 158.1 855.3 157.7 859.6 157.4 856.2 157 855 156.7 854.9 156.3 855.1 156 857.9 155.6 857.3 155.3 857 154.9 855.6 154.6 855.2 154.2 854.8 153.9 855.1 153.5 855.4 153.2 871.2 152.8 867.4 152.5 857.7 152.1 855.2 151.8 854.7 151.4 855.2 151.1 855.7 150.7 863.3 150.4 855.1 150 856.9 149.7 854.7 149.3 854.7 149 854.8 148.6 855.4 148.3 855.3 147.9 865.2 147.6 857.6 147.2 855.1 146.9 854.8 146.5 854.9 146.2 855.3 145.8 856 145.5 857.9 145.1 857 144.8 855 144.4 854.5 144.1 856.1 143.7 854.7 143.4 858.7 143 854.4 142.7 854.9 142.3 855.8 142 854.4 141.6 854.3 141.3 854.8 140.9 855.9 140.6 861.6 140.2 860.1 139.9 855.1 139.5 854.7 139.2 854.5 138.8 854.5 138.5 857.2 138.1 865.7 137.8 861.1 137.4 858.5 137.1 855.7 136.7 854.9 136.4 854.8 136 855.5 135.7 859.4 135.3 855.9 135 856.2 134.6 855.7 134.3 855 133.9 854.8 133.6 855.4 133.2 859 132.9 860.9 132.5 860.2 132.2 855 131.8 854.9 131.5 854.9 131.1 855 130.8 857.8 130.4 855.7 130.1 863.8 129.7 854.7 129.4 854.7 129 854.7 128.7 854.5 128.3 854.8 128 856.5 127.6 854.9 127.3 856 126.9 854.5 126.6 854.7 126.2 854.5 125.9 854.6 125.5 858.5 125.2 854.6 124.8 857.3 124.5 854.7 124.1 854.6 123.8 854.9 123.4 854.9 123.1 861.6 122.7 868.3 122.4 857.8 122 856.4 121.7 854.9 121.3 855.3 121 855.7 120.6 856.8 120.3 863.6 119.9 863.5 119.6 855.3 119.2 855.3 118.9 855 118.5 855.2 118.2 857.3 117.8 862.9 117.5 855.4 117.1 857.3 116.8 854.9 116.4 854.7 116.1 854.6 115.7 854.7 115.4 862.5 115 857 114.7 856.8 114.3 855.1 114 854.6 113.6 854.7 113.3 855.2 112.9 858.1 112.6 855.3 112.2 857.7 111.9 855.2 111.5 854.8 111.2 855.1 110.8 854.8 110.5 856.1 110.1 855.3 109.8 858.8 109.4 854.7 109.1 854.7 108.7 854.7 108.4 854.5 108 855.6 107.7 862.3 107.3 856.3 107 854.8 106.6 854.6 106.3 854.5 105.9 854.4 105.6 854.8 105.2 856.5 104.9 856 104.5 855.6 104.2 854.8 103.8 854.5 103.5 857 103.1 854.8 102.8 855.8 102.4 859.1 102.1 856.8 101.7 854.7 101.4 854.5 101 854.4 100.7 854.5 100.3 855 100 856 99.6 859 99.3 857.7 98.9 854.5 98.6 854.5 98.2 856 97.9 856.2 97.5 860.6 97.2 857.2 96.8 855.6 96.5 854.8 96.1 855 95.8 855.1 95.4 854.9 95.1 862.4 94.7 863.5 94.4 856.7 94 854.8 93.7 854.8 93.3 854.8 93 858.5 92.6 857.1 92.3 856.6 91.9 859.2 91.6 855 91.2 854.7 90.9 855 90.5 855.9 90.2 859.3 89.8 857.4 89.5 860.2 89.1 855.4 88.8 854.9 88.4 855.2 88.1 855.3 87.7 856.9 87.4 855.8 87 858.5 86.7 855.1 86.3 855.1 86 855.3 85.6 855.3 85.3 855.8 84.9 861.7 84.6 863.3 84.2 856 83.9 855.2 83.5 855 83.2 855 82.8 858.2 82.5 865.5 82.1 861.7 81.8 861.3 81.4 855.2 81.1 855.1 80.7 854.8 80.4 855.3 80 860.6 79.7 861.1 79.3 858.6 79 855.1 78.6 854.6 78.3 854.8 77.9 854.9 77.6 854.9 77.2 856.1 76.9 856.1 76.5 855.2 76.2 854.6 75.8 854.4 75.5 854.5 75.1 855.8 74.8 861.3 74.4 857.5 74.1 855.2 73.7 854.4 73.4 854.4 73 854.6 72.7 855.2 72.3 860 72 863.4 71.6 856.8 71.3 854.9 70.9 854.8 70.6 855 70.2 854.9 69.9 858 69.5 854.9 69.2 855.4 68.8 855.4 68.5 854.9 68.1 854.8 67.8 858.3 67.4 859.6 67.1 857.3 66.7 856.8 66.4 854.8 66 854.7 65.7 854.8 65.3 854.8 65 856.8 64.6 856.5 64.3 858.1 63.9 855.5 63.6 854.9 63.2 854.7 62.9 855 62.5 854.8 62.2 857.1 61.8 859.4 61.5 855.5 61.1 854.5 60.8 854.3 60.4 854.3 60.1 857.9 59.7 857.3 59.4 862.7 59 857.6 58.7 854.8 58.3 854.4 58 854.4 57.6 856.8 57.3 858 56.9 864.5 56.6 855.7 56.2 857 55.9 855 55.5 854.9 55.2 855.3 54.8 857.7 54.5 856.8 54.1 856 53.8 857 53.4 855.1 53.1 855.1 52.7 855.4 52.4 855.6 52 859.7 51.7 861.5 51.3 855.5 51 854.6 50.6 854.7 50.3 854.8 49.9 856.9 49.6 856.6 49.2 860.6 48.9 857.4 48.5 855 48.2 855 47.8 855.2 47.5 856.2 47.1 855.3 46.8 866.6 46.4 859.4 46.1 855.5 45.7 858 45.4 855.5 45 855.9 44.7 855.6 44.3 861.2 44 856.9 43.6 855.6 43.3 855.1 42.9 855.2 42.6 855.6 42.2 858.5 41.9 858.7 41.5 857.3 41.2 855.1 40.8 855.2 40.5 855.1 40.1 855 39.8 857.2 39.4 857.6 39.1 866.6 38.7 855.6Z" fill="#2a4494" stroke="#2a4494" stroke-width="0.4" stroke-linejoin="round" clip-path="url(#lc34)"/>
<rect x="38.5" y="836.7" width="316" height="36.6" fill="none" stroke="#2b2b2b" stroke-width="1.1"/>
<text transform="translate(38.5,889.1) scale(0.96,1.13)" font-size="11.5" text-anchor="middle" fill="#1e1e1e" >0</text>
<text transform="translate(91.2,889.1) scale(0.96,1.13)" font-size="11.5" text-anchor="middle" fill="#1e1e1e" >500</text>
<text transform="translate(143.8,889.1) scale(0.96,1.13)" font-size="11.5" text-anchor="middle" fill="#1e1e1e" >1000</text>
<text transform="translate(196.5,889.1) scale(0.96,1.13)" font-size="11.5" text-anchor="middle" fill="#1e1e1e" >1500</text>
<text transform="translate(249.2,889.1) scale(0.96,1.13)" font-size="11.5" text-anchor="middle" fill="#1e1e1e" >2000</text>
<text transform="translate(301.8,889.1) scale(0.96,1.13)" font-size="11.5" text-anchor="middle" fill="#1e1e1e" >2500</text>
<text transform="translate(354.5,889.1) scale(0.96,1.13)" font-size="11.5" text-anchor="middle" fill="#1e1e1e" >3000</text>
<text transform="translate(196,907.6) scale(0.98,1.07)" font-size="12" text-anchor="middle" fill="#1e1e1e" >T/h</text>
<rect x="357.8" y="860" width="12" height="40" fill="#fff"/>
<text x="541.3" y="12.3" font-size="11" text-anchor="middle" fill="#1e1e1e" >FFT of IMF1</text>
<text x="401.9" y="30.7" font-size="11.5" text-anchor="end" fill="#1e1e1e" >3</text>
<line x1="406.4" y1="25.5" x2="408.9" y2="25.5" stroke="#4a4a4a" stroke-width="0.9"/>
<line x1="674.7" y1="25.5" x2="672.2" y2="25.5" stroke="#4a4a4a" stroke-width="0.9"/>
<text x="401.9" y="52.8" font-size="11.5" text-anchor="end" fill="#1e1e1e" >1</text>
<line x1="406.4" y1="47.6" x2="408.9" y2="47.6" stroke="#4a4a4a" stroke-width="0.9"/>
<line x1="674.7" y1="47.6" x2="672.2" y2="47.6" stroke="#4a4a4a" stroke-width="0.9"/>
<path d="M406.4 56.9 406.4 54.2 406.7 54 407 50.1 407.3 56.3 407.6 54.3 407.9 51.8 408.2 53.7 408.5 54 408.8 55.1 409.1 51.6 409.4 52.6 409.7 51.5 410 50.4 410.3 56.4 410.6 54.3 410.9 56 411.2 53.5 411.5 54.7 411.8 52.8 412.1 56.1 412.4 54 412.7 51.8 413 54.2 413.3 56.2 413.6 53.6 413.9 52.6 414.2 54.6 414.5 55.1 414.8 55.7 415.1 53.2 415.4 56.3 415.7 55.8 416 53.2 416.3 55.1 416.6 56.1 416.9 55.8 417.2 55.9 417.5 56.4 417.8 55.6 418.1 54.8 418.4 54.8 418.7 56.6 419 56.2 419.3 55.4 419.6 56.2 419.9 54.9 420.2 56 420.5 55.3 420.8 55.7 421.1 56.6 421.4 56.8 421.7 55.9 422 56.7 422.3 56.4 422.6 55.8 422.9 56.7 423.2 56 423.5 56.5 423.8 56.2 424 56.9Z" fill="#dc4a22" stroke="#dc4a22" stroke-width="0.3" opacity="0.9" clip-path="url(#rc10)"/>
<path d="M406.1 56.9V39.5M409.5 56.9V16M412.6 56.9V31.5M415.8 56.9V45.4M419 56.9V50.5M422.2 56.9V53.7M451.1 56.9V53.4M407.5 56.9V48M410.5 56.9V50M411.2 56.9V52" fill="none" stroke="#dc4a22" stroke-width="0.8" opacity="0.95" clip-path="url(#rc10)"/>
<line x1="406.4" y1="56.9" x2="674.7" y2="56.9" stroke="#dc4a22" stroke-width="1.0"/>
<rect x="406.4" y="17.3" width="268.3" height="40.2" fill="none" stroke="#4a4a4a" stroke-width="1.0"/>
<text x="541.3" y="73" font-size="11" text-anchor="middle" fill="#1e1e1e" >FFT of IMF2</text>
<text x="401.9" y="88.4" font-size="11.5" text-anchor="end" fill="#1e1e1e" >10</text>
<line x1="406.4" y1="82.8" x2="408.9" y2="82.8" stroke="#4a4a4a" stroke-width="0.9"/>
<line x1="674.7" y1="82.8" x2="672.2" y2="82.8" stroke="#4a4a4a" stroke-width="0.9"/>
<text x="401.9" y="103.4" font-size="11.5" text-anchor="end" fill="#1e1e1e" >6</text>
<line x1="406.4" y1="97.7" x2="408.9" y2="97.7" stroke="#4a4a4a" stroke-width="0.9"/>
<line x1="674.7" y1="97.7" x2="672.2" y2="97.7" stroke="#4a4a4a" stroke-width="0.9"/>
<text x="401.9" y="118.7" font-size="11.5" text-anchor="end" fill="#1e1e1e" >2</text>
<line x1="406.4" y1="113.5" x2="408.9" y2="113.5" stroke="#4a4a4a" stroke-width="0.9"/>
<line x1="674.7" y1="113.5" x2="672.2" y2="113.5" stroke="#4a4a4a" stroke-width="0.9"/>
<path d="M412 119.9 412 119.1 412.3 119.8 412.6 119.1 412.9 119 413.2 119.5 413.5 119.4 413.8 119.2 414.1 119 414.4 118.9 414.7 119.4 415 119.1 415.3 119.1 415.6 119.1 415.9 119.8 416.2 119.8 416.5 119.7 416.8 119.3 417.1 119.7 417.4 118.5 417.7 119.3 418 119.7 418.3 118.9 418.6 119.3 418.9 119.6 419.2 119.7 419.5 119.3 419.8 119 420.1 118.4 420.4 119.7 420.7 118.8 421 118.5 421.3 119.4 421.6 118.6 421.9 118.6 422.2 119.7 422.5 119.6 422.8 118.1 423.1 119.4 423.4 119.2 423.7 118.8 424 119.2 424.3 118.9 424.6 117.9 424.9 119 425.2 118.6 425.5 117.6 425.8 118.3 426.1 119.5 426.4 119.7 426.7 118.2 427 117.6 427.3 117.6 427.6 117.6 427.9 117.6 428.2 118.9 428.5 118.4 428.8 119.3 429.1 119.1 429.4 117.8 429.7 119.6 430 117.9 430.3 118.3 430.6 119.3 430.9 119.7 431.2 118.1 431.5 118.1 431.8 119.7 432.1 119.2 432.4 119.3 432.7 118.4 433 117.8 433.3 118.5 433.6 118.8 433.9 118.1 434.2 117.4 434.5 117.2 434.8 117.6 435.1 118.4 435.4 117.6 435.7 118.2 436 117.8 436.3 119.7 436.6 118.5 436.9 119.7 437.2 119.2 437.5 118.2 437.8 118.2 438.1 118 438.4 119.5 438.7 119.7 439 119.3 439.3 119.7 439.6 117.9 439.9 119.1 440.2 117.9 440.5 118.1 440.8 118.6 441.1 119.4 441.4 118.6 441.7 119.6 442 119.2 442.3 119.3 442.6 119.2 442.9 119.6 443.2 118.8 443.5 119.1 443.8 119.8 444.1 119.3 444.4 119 444.7 119.7 445 118.5 445.3 119.8 445.6 119.3 445.9 119.6 446.2 119.2 446.5 119 446.8 118.8 447.1 119.2 447.4 118.9 447.7 119.1 448 119.3 448.3 119.7 448.6 118.8 448.9 119.5 449.2 119 449.5 119.2 449.8 119.3 450.1 118.8 450.4 119.6 450.7 119.1 451 119.2 451.3 119.4 451.6 119.1 451.9 119.8 452 119.9Z" fill="#dc4a22" stroke="#dc4a22" stroke-width="0.3" opacity="0.9" clip-path="url(#rc11)"/>
<path d="M428.5 119.9V78M425.3 119.9V109.5M431.8 119.9V109.8M422.2 119.9V114.6M435 119.9V113.1M419 119.9V117.1M438.2 119.9V117.2M415.8 119.9V118.5M441.3 119.9V118.2M444.5 119.9V118.5M447.9 119.9V118.6M451.1 119.9V114.6M453.5 119.9V119.2" fill="none" stroke="#dc4a22" stroke-width="0.8" opacity="0.95" clip-path="url(#rc11)"/>
<line x1="406.4" y1="119.9" x2="674.7" y2="119.9" stroke="#dc4a22" stroke-width="1.0"/>
<rect x="406.4" y="78" width="268.3" height="42.5" fill="none" stroke="#4a4a4a" stroke-width="1.0"/>
<text x="540.8" y="137.6" font-size="11" text-anchor="middle" fill="#1e1e1e" >FFT of IMF3</text>
<text x="400.8" y="150.1" font-size="11.5" text-anchor="end" fill="#1e1e1e" >1.5</text>
<line x1="405.3" y1="144.9" x2="407.8" y2="144.9" stroke="#4a4a4a" stroke-width="0.9"/>
<line x1="674.7" y1="144.9" x2="672.2" y2="144.9" stroke="#4a4a4a" stroke-width="0.9"/>
<text x="400.8" y="162.8" font-size="11.5" text-anchor="end" fill="#1e1e1e" >1</text>
<line x1="405.3" y1="158.5" x2="407.8" y2="158.5" stroke="#4a4a4a" stroke-width="0.9"/>
<line x1="674.7" y1="158.5" x2="672.2" y2="158.5" stroke="#4a4a4a" stroke-width="0.9"/>
<text x="400.8" y="177.1" font-size="11.5" text-anchor="end" fill="#1e1e1e" >0.5</text>
<line x1="405.3" y1="172.2" x2="407.8" y2="172.2" stroke="#4a4a4a" stroke-width="0.9"/>
<line x1="674.7" y1="172.2" x2="672.2" y2="172.2" stroke="#4a4a4a" stroke-width="0.9"/>
<path d="M470 184.5 470 183.5 470.3 184.3 470.6 182.9 470.9 183.8 471.2 183.6 471.5 184.1 471.8 183.3 472.1 184.2 472.4 184.2 472.7 183.3 473 182.9 473.3 183.6 473.6 183.6 473.9 183.4 474.2 182.5 474.5 182.3 474.8 182.2 475.1 183.1 475.4 183 475.7 183.5 476 184.2 476.3 183.7 476.6 182.9 476.9 184.2 477.2 182.6 477.5 183.7 477.8 183.1 478.1 183.1 478.4 181.8 478.7 183.1 479 184 479.3 182.6 479.6 183.6 479.9 184.3 480.2 182.6 480.5 181.9 480.8 183.7 481.1 182.1 481.4 183.1 481.7 181.7 482 184.2 482.3 183.4 482.6 183.3 482.9 182.9 483.2 183.4 483.5 181.7 483.8 182.4 484.1 181.4 484.4 181.9 484.7 182.6 485 181.9 485.3 183.1 485.6 181.2 485.9 183.8 486.2 182.5 486.5 181.9 486.8 183.7 487.1 182.2 487.4 183.2 487.7 183.6 488 182.6 488.3 183.2 488.6 183 488.9 183.9 489.2 180.9 489.5 183.2 489.8 180.6 490.1 183.3 490.4 183.2 490.7 180.8 491 180.8 491.3 180.6 491.6 182.7 491.9 183.1 492.2 183.3 492.5 181.9 492.8 181.6 493.1 183.3 493.4 181.5 493.7 184.1 494 183.1 494.3 180.6 494.6 180.4 494.9 181.3 495.2 181.8 495.5 180.4 495.8 180.8 496.1 182.1 496.4 181.7 496.7 181.6 497 181.9 497.3 179.7 497.6 183.4 497.9 181.2 498.2 181.3 498.5 180.1 498.8 179.9 499.1 183.7 499.4 181 499.7 180.5 500 183.5 500.3 182.6 500.6 183.2 500.9 181.9 501.2 180.5 501.5 182.7 501.8 181.3 502.1 184.1 502.4 179.2 502.7 182.9 503 182.1 503.3 179 503.6 183 503.9 182.3 504.2 180.2 504.5 183.7 504.8 183.5 505.1 184 505.4 180.4 505.7 178.8 506 180.2 506.3 182.9 506.6 179.7 506.9 182.2 507.2 181.3 507.5 181 507.8 182.5 508.1 183 508.4 180.3 508.7 184.1 509 182.3 509.3 181.4 509.6 184.1 509.9 182.6 510.2 179.4 510.5 182.1 510.8 180.1 511.1 181.2 511.4 183.6 511.7 183.6 512 183.5 512.3 180.2 512.6 182.3 512.9 181.8 513.2 182.9 513.5 183.6 513.8 179.3 514.1 182.6 514.4 179.3 514.7 180.7 515 180.6 515.3 179.5 515.6 179.6 515.9 179.9 516.2 182.6 516.5 182.7 516.8 180.4 517.1 182.2 517.4 181.3 517.7 180 518 182.7 518.3 180.6 518.6 183.7 518.9 183.8 519.2 183.5 519.5 180.3 519.8 181.9 520.1 182.7 520.4 181.1 520.7 180.5 521 182.5 521.3 181 521.6 182.2 521.9 184 522.2 182.1 522.5 184 522.8 183.7 523.1 184 523.4 181.6 523.7 183.1 524 183.2 524.3 184 524.6 183.1 524.9 181.6 525.2 180.8 525.5 182.3 525.8 181.1 526.1 183.6 526.4 182 526.7 181.9 527 181.4 527.3 182.5 527.6 181.4 527.9 184.1 528.2 183.2 528.5 182.7 528.8 184.1 529.1 184 529.4 181.3 529.7 181.3 530 183.1 530.3 184.3 530.6 183.9 530.9 182.5 531.2 183.8 531.5 182.4 531.8 182.6 532.1 181.4 532.4 183.7 532.7 184.2 533 184.2 533.3 182.5 533.6 183.7 533.9 182.8 534.2 183 534.5 183.1 534.8 182.6 535.1 182.4 535.4 182.6 535.7 182.1 536 184.3 536.3 183.2 536.6 183.9 536.9 183.7 537.2 183.2 537.5 183.3 537.8 182.4 538.1 183 538.4 183.2 538.7 183.2 539 182.5 539.3 182.3 539.6 184.3 539.9 183.5 540.2 183.2 540.5 182.6 540.8 182.6 541.1 182.5 541.4 183.1 541.7 182.6 542 183.8 542.3 183.3 542.6 184.4 542.9 183.7 543.2 184 543.5 182.9 543.8 183.5 544.1 182.7 544.4 183.9 544.7 183.7 545 184.5Z" fill="#dc4a22" stroke="#dc4a22" stroke-width="0.3" opacity="0.9" clip-path="url(#rc12)"/>
<path d="M449.2 184.5V179.9M472.1 184.5V178.5M494.2 184.5V165.6M513.6 184.5V174.4M516.8 184.5V142M520.1 184.5V173.8M539.5 184.5V169.7M562 184.5V179.9M584 184.5V182.5" fill="none" stroke="#dc4a22" stroke-width="0.8" opacity="0.95" clip-path="url(#rc12)"/>
<line x1="405.3" y1="184.5" x2="674.7" y2="184.5" stroke="#dc4a22" stroke-width="1.0"/>
<rect x="405.3" y="142.6" width="269.4" height="42.5" fill="none" stroke="#4a4a4a" stroke-width="1.0"/>
<text x="540.5" y="200.8" font-size="11" text-anchor="middle" fill="#1e1e1e" >FFT of IMF4</text>
<text x="400.3" y="211.5" font-size="11.5" text-anchor="end" fill="#1e1e1e" >1.4</text>
<line x1="404.8" y1="206.9" x2="407.3" y2="206.9" stroke="#4a4a4a" stroke-width="0.9"/>
<line x1="674.7" y1="206.9" x2="672.2" y2="206.9" stroke="#4a4a4a" stroke-width="0.9"/>
<text x="400.3" y="222.3" font-size="11.5" text-anchor="end" fill="#1e1e1e" >1</text>
<line x1="404.8" y1="217.4" x2="407.3" y2="217.4" stroke="#4a4a4a" stroke-width="0.9"/>
<line x1="674.7" y1="217.4" x2="672.2" y2="217.4" stroke="#4a4a4a" stroke-width="0.9"/>
<text x="400.3" y="233.1" font-size="11.5" text-anchor="end" fill="#1e1e1e" >0.6</text>
<line x1="404.8" y1="227.7" x2="407.3" y2="227.7" stroke="#4a4a4a" stroke-width="0.9"/>
<line x1="674.7" y1="227.7" x2="672.2" y2="227.7" stroke="#4a4a4a" stroke-width="0.9"/>
<text x="400.3" y="243.7" font-size="11.5" text-anchor="end" fill="#1e1e1e" >0.2</text>
<line x1="404.8" y1="238.5" x2="407.3" y2="238.5" stroke="#4a4a4a" stroke-width="0.9"/>
<line x1="674.7" y1="238.5" x2="672.2" y2="238.5" stroke="#4a4a4a" stroke-width="0.9"/>
<line x1="457.6" y1="243.5" x2="457.6" y2="241.3" stroke="#4a4a4a" stroke-width="0.9"/>
<line x1="457.6" y1="205.8" x2="457.6" y2="208" stroke="#4a4a4a" stroke-width="0.9"/>
<line x1="510.3" y1="243.5" x2="510.3" y2="241.3" stroke="#4a4a4a" stroke-width="0.9"/>
<line x1="510.3" y1="205.8" x2="510.3" y2="208" stroke="#4a4a4a" stroke-width="0.9"/>
<line x1="563.1" y1="243.5" x2="563.1" y2="241.3" stroke="#4a4a4a" stroke-width="0.9"/>
<line x1="563.1" y1="205.8" x2="563.1" y2="208" stroke="#4a4a4a" stroke-width="0.9"/>
<line x1="615.8" y1="243.5" x2="615.8" y2="241.3" stroke="#4a4a4a" stroke-width="0.9"/>
<line x1="615.8" y1="205.8" x2="615.8" y2="208" stroke="#4a4a4a" stroke-width="0.9"/>
<line x1="668.6" y1="243.5" x2="668.6" y2="241.3" stroke="#4a4a4a" stroke-width="0.9"/>
<line x1="668.6" y1="205.8" x2="668.6" y2="208" stroke="#4a4a4a" stroke-width="0.9"/>
<path d="M575 242.9 575 242.7 575.3 242.1 575.6 242.4 575.9 242.8 576.2 241.9 576.5 242.4 576.8 242.8 577.1 241.9 577.4 241.9 577.7 242.4 578 242.6 578.3 242.6 578.6 241.9 578.9 241.6 579.2 242.7 579.5 242.1 579.8 241.6 580.1 242.7 580.4 242.2 580.7 242 581 242.2 581.3 242.8 581.6 242.4 581.9 241.4 582.2 242.5 582.5 242.3 582.8 241.9 583.1 242.7 583.4 241.3 583.7 241.5 584 242.7 584.3 242.8 584.6 242.6 584.9 241.7 585.2 241.8 585.5 242.6 585.8 242 586.1 242.5 586.4 242 586.7 241.9 587 241 587.3 242 587.6 242.7 587.9 242 588.2 242 588.5 240.6 588.8 242.5 589.1 242.4 589.4 242.4 589.7 242.6 590 242 590.3 241.8 590.6 242.5 590.9 242.7 591.2 242 591.5 240.4 591.8 242.7 592.1 242.3 592.4 242.7 592.7 241.6 593 242.4 593.3 242.7 593.6 242.5 593.9 241.7 594.2 241.9 594.5 240.2 594.8 241 595.1 242.6 595.4 242.6 595.7 242.7 596 242.7 596.3 242.2 596.6 242 596.9 242.7 597.2 240.9 597.5 242.6 597.8 242.2 598.1 242.3 598.4 239.8 598.7 241.1 599 241.1 599.3 241.7 599.6 240.3 599.9 242.2 600.2 242.6 600.5 240.9 600.8 241.1 601.1 241.8 601.4 242.5 601.7 240 602 239.8 602.3 241.5 602.6 239.9 602.9 241.2 603.2 242.5 603.5 240.7 603.8 242.5 604.1 242.7 604.4 240.1 604.7 242.7 605 240.5 605.3 240.9 605.6 242.1 605.9 239.6 606.2 242.6 606.5 242.6 606.8 240.8 607.1 240.6 607.4 242.7 607.7 242.6 608 242.2 608.3 242.5 608.6 239.4 608.9 239.2 609.2 241.8 609.5 241.8 609.8 239.9 610.1 242.7 610.4 241.9 610.7 242.4 611 241.9 611.3 239.6 611.6 241.4 611.9 240 612.2 242.1 612.5 241.4 612.8 241.2 613.1 242.7 613.4 241.8 613.7 240.8 614 242.7 614.3 240.2 614.6 242.4 614.9 240.4 615.2 240.6 615.5 242.3 615.8 242.5 616.1 240.3 616.4 241.7 616.7 242 617 242.3 617.3 241.4 617.6 242.7 617.9 242.4 618.2 242 618.5 241.5 618.8 242.3 619.1 242.3 619.4 241.8 619.7 241.7 620 242.3 620.3 242 620.6 242.5 620.9 242.4 621.2 241.4 621.5 241.1 621.8 241.7 622.1 242.7 622.4 242.4 622.7 240.4 623 241.8 623.3 242.1 623.6 242.4 623.9 242.4 624.2 242.2 624.5 240.6 624.8 242.3 625.1 242 625.4 241.4 625.7 240.8 626 241 626.3 241.8 626.6 242.7 626.9 242.6 627.2 241.6 627.5 242.3 627.8 242.2 628.1 241.4 628.4 241 628.7 242.8 629 242.1 629.3 242.7 629.6 241.9 629.9 241 630.2 242.7 630.5 241.6 630.8 241.7 631.1 242.7 631.4 242.8 631.7 241.4 632 242.7 632.3 242.3 632.6 242.6 632.9 241.8 633.2 242 633.5 242.8 633.8 242.8 634.1 242.3 634.4 242.8 634.7 242.8 635 242.4 635.3 242.6 635.6 242.1 635.9 242.7 636.2 241.9 636.5 242.8 636.8 242.7 637.1 241.8 637.4 242.2 637.7 242.8 638 241.7 638.3 242.7 638.6 241.9 638.9 242.3 639.2 242.7 639.5 242.5 639.8 242.8 640 242.9Z" fill="#dc4a22" stroke="#dc4a22" stroke-width="0.3" opacity="0.9" clip-path="url(#rc13)"/>
<path d="M640 242.9 640 242.9 640.3 242.9 640.6 242.5 640.9 242.9 641.2 242.7 641.5 242.6 641.8 242.8 642.1 242.2 642.4 242.2 642.7 242.7 643 242.8 643.3 242.6 643.6 242.3 643.9 242.8 644.2 241.9 644.5 242.8 644.8 242.8 645.1 242.8 645.4 242.7 645.7 242.8 646 242.8 646.3 242.8 646.6 242.8 646.9 242.8 647.2 241.6 647.5 242.3 647.8 242.8 648.1 242.8 648.4 242.5 648.7 242.6 649 242.8 649.3 242.2 649.6 242.8 649.9 242.6 650.2 242.4 650.5 242.1 650.8 242.2 651.1 242.1 651.4 242.3 651.7 242.7 652 242.4 652.3 242.4 652.6 242 652.9 241.9 653.2 241.7 653.5 242.2 653.8 242.8 654.1 242.8 654.4 241.8 654.7 242.8 655 242.8 655.3 241.7 655.6 242.8 655.9 242.3 656.2 242.8 656.5 242.8 656.8 242.7 657.1 242.6 657.4 242.8 657.7 242.7 658 242.8 658.3 242.8 658.6 242.8 658.9 242.7 659.2 242.4 659.5 242.8 659.8 242.7 660.1 242.8 660.4 242.4 660.7 241.7 661 242.3 661.3 242.3 661.6 241.7 661.9 242.6 662.2 242.2 662.5 242.1 662.8 242.4 663.1 242.8 663.4 242.7 663.7 242.8 664 242.6 664.3 242.8 664.6 242 664.9 242.7 665.2 242.1 665.5 242.7 665.8 242.8 666.1 242.9 666.4 242.5 666.7 242.5 667 242.8 667.3 242.9 667.6 242.9 667.9 242.9 668 242.9Z" fill="#dc4a22" stroke="#dc4a22" stroke-width="0.3" opacity="0.9" clip-path="url(#rc13)"/>
<path d="M561.5 242.9V238.4M583.3 242.9V227M587 242.9V237.2M605.8 242.9V205.5M609.1 242.9V235.8M612.6 242.9V237.2M621.7 242.9V236.4M625.2 242.9V237.2M628.3 242.9V218M631.6 242.9V237M634.4 242.9V239.5M651 242.9V234.7M653.4 242.9V240M666.7 242.9V240M535 242.9V241.5" fill="none" stroke="#dc4a22" stroke-width="0.8" opacity="0.95" clip-path="url(#rc13)"/>
<line x1="404.8" y1="242.9" x2="674.7" y2="242.9" stroke="#dc4a22" stroke-width="1.0"/>
<rect x="404.8" y="205.8" width="269.9" height="37.7" fill="none" stroke="#4a4a4a" stroke-width="1.0"/>
<text x="404.8" y="260.4" font-size="11.5" text-anchor="middle" fill="#1e1e1e" >0</text>
<text x="457.6" y="260.4" font-size="11.5" text-anchor="middle" fill="#1e1e1e" >500</text>
<text x="510.3" y="260.4" font-size="11.5" text-anchor="middle" fill="#1e1e1e" >1000</text>
<text x="563.1" y="260.4" font-size="11.5" text-anchor="middle" fill="#1e1e1e" >1500</text>
<text x="615.8" y="260.4" font-size="11.5" text-anchor="middle" fill="#1e1e1e" >2000</text>
<text x="668.6" y="260.4" font-size="11.5" text-anchor="middle" fill="#1e1e1e" >2500</text>
<text x="537.8" y="274.3" font-size="12" text-anchor="middle" fill="#1e1e1e" >Frequency/Hz</text>
<text x="540.7" y="298.2" font-size="11" text-anchor="middle" fill="#1e1e1e" >FFT of IMF1</text>
<text x="400.8" y="315.2" font-size="11.5" text-anchor="end" fill="#1e1e1e" >3</text>
<line x1="405.3" y1="310.6" x2="407.8" y2="310.6" stroke="#4a4a4a" stroke-width="0.9"/>
<line x1="674.5" y1="310.6" x2="672" y2="310.6" stroke="#4a4a4a" stroke-width="0.9"/>
<text x="400.8" y="326.3" font-size="11.5" text-anchor="end" fill="#1e1e1e" >2</text>
<line x1="405.3" y1="321.4" x2="407.8" y2="321.4" stroke="#4a4a4a" stroke-width="0.9"/>
<line x1="674.5" y1="321.4" x2="672" y2="321.4" stroke="#4a4a4a" stroke-width="0.9"/>
<text x="400.8" y="337.5" font-size="11.5" text-anchor="end" fill="#1e1e1e" >1</text>
<line x1="405.3" y1="332.2" x2="407.8" y2="332.2" stroke="#4a4a4a" stroke-width="0.9"/>
<line x1="674.5" y1="332.2" x2="672" y2="332.2" stroke="#4a4a4a" stroke-width="0.9"/>
<path d="M405.3 343.2 405.3 336.7 405.6 341.4 405.9 336 406.2 340.5 406.5 339.2 406.8 339 407.1 339.5 407.4 337 407.7 336.2 408 335.1 408.3 340.9 408.6 339 408.9 336.1 409.2 336.3 409.5 340.7 409.8 337.4 410.1 337.4 410.4 341.1 410.7 337.6 411 338.8 411.3 341.1 411.6 342.4 411.9 342.1 412.2 340.9 412.5 337.9 412.8 338.3 413.1 338.7 413.4 338.4 413.7 338.9 414 340.2 414.3 338.5 414.6 339.3 414.9 339.9 415.2 341.5 415.5 340.6 415.8 339.9 416.1 342.8 416.4 341.3 416.7 340.1 417 342.5 417.3 342.2 417.6 340.7 417.9 342.2 418.2 341.6 418.5 340.6 418.8 341.4 419.1 342.7 419.4 341 419.7 342.3 420 342.3 420.3 343 420.6 342.8 420.9 341.7 421.2 342.6 421.5 342.5 421.8 342.4 422.1 342.9 422.4 342.3 422.7 342.3 423 342.9 423.3 342.5 423.6 342.2 423.9 342.5 424 343.2Z" fill="#e7a322" stroke="#e7a322" stroke-width="0.3" opacity="0.9" clip-path="url(#rc20)"/>
<path d="M405.8 343.2V325M408.8 343.2V302M412 343.2V311.1M414.6 343.2V336.7M421.6 343.2V338.6M450.4 343.2V339.6M473 343.2V341.5M407 343.2V334M410.5 343.2V336" fill="none" stroke="#e7a322" stroke-width="0.8" opacity="0.95" clip-path="url(#rc20)"/>
<line x1="405.3" y1="343.2" x2="674.5" y2="343.2" stroke="#e7a322" stroke-width="1.0"/>
<rect x="405.3" y="303.2" width="269.2" height="40.6" fill="none" stroke="#4a4a4a" stroke-width="1.0"/>
<text x="540.4" y="359.9" font-size="11" text-anchor="middle" fill="#1e1e1e" >FFT of IMF2</text>
<text x="400.3" y="374.2" font-size="11.5" text-anchor="end" fill="#1e1e1e" >10</text>
<line x1="404.8" y1="369.5" x2="407.3" y2="369.5" stroke="#4a4a4a" stroke-width="0.9"/>
<line x1="674.5" y1="369.5" x2="672" y2="369.5" stroke="#4a4a4a" stroke-width="0.9"/>
<text x="400.3" y="388.5" font-size="11.5" text-anchor="end" fill="#1e1e1e" >6</text>
<line x1="404.8" y1="383.4" x2="407.3" y2="383.4" stroke="#4a4a4a" stroke-width="0.9"/>
<line x1="674.5" y1="383.4" x2="672" y2="383.4" stroke="#4a4a4a" stroke-width="0.9"/>
<text x="400.3" y="402.8" font-size="11.5" text-anchor="end" fill="#1e1e1e" >2</text>
<line x1="404.8" y1="397.2" x2="407.3" y2="397.2" stroke="#4a4a4a" stroke-width="0.9"/>
<line x1="674.5" y1="397.2" x2="672" y2="397.2" stroke="#4a4a4a" stroke-width="0.9"/>
<path d="M412 403.9 412 403.5 412.3 403.7 412.6 403.7 412.9 403.5 413.2 403.4 413.5 403.3 413.8 403.3 414.1 402.8 414.4 403.6 414.7 403.7 415 403 415.3 403 415.6 403.7 415.9 403.2 416.2 403.4 416.5 403.2 416.8 402.9 417.1 403.8 417.4 403.7 417.7 403.1 418 403 418.3 403.5 418.6 403.4 418.9 403.7 419.2 403.7 419.5 403.3 419.8 403.5 420.1 403.4 420.4 403.7 420.7 402.1 421 403.1 421.3 403.6 421.6 403.1 421.9 402.5 422.2 402 422.5 402.8 422.8 402 423.1 402.3 423.4 403.4 423.7 402.1 424 403.5 424.3 402.3 424.6 402 424.9 402.9 425.2 402.8 425.5 401.9 425.8 402.6 426.1 403.5 426.4 403.7 426.7 403.6 427 403.3 427.3 403.3 427.6 403.6 427.9 402.2 428.2 401.7 428.5 403.2 428.8 403.4 429.1 402.9 429.4 403.3 429.7 403.5 430 401.4 430.3 401.9 430.6 403 430.9 401.5 431.2 403.5 431.5 403.3 431.8 402.8 432.1 402.9 432.4 401.5 432.7 403.6 433 402.1 433.3 401.3 433.6 402.3 433.9 402 434.2 401.7 434.5 403.1 434.8 401.7 435.1 403.2 435.4 402.5 435.7 401.5 436 403.6 436.3 402.1 436.6 403.5 436.9 403 437.2 402.8 437.5 402.3 437.8 402.8 438.1 401.6 438.4 402.5 438.7 402.7 439 403.6 439.3 403.6 439.6 402.3 439.9 403.7 440.2 402.4 440.5 403.3 440.8 403.1 441.1 402.9 441.4 403.7 441.7 403.5 442 403.2 442.3 402.9 442.6 403.5 442.9 403.1 443.2 402.7 443.5 402.6 443.8 402.4 444.1 402.6 444.4 403.7 444.7 403.3 445 403.6 445.3 403.6 445.6 403.2 445.9 403.7 446.2 403.6 446.5 403.6 446.8 403.6 447.1 403.7 447.4 403.7 447.7 402.8 448 403.2 448.3 403.1 448.6 403.1 448.9 403.5 449.2 403.1 449.5 402.8 449.8 403.8 450.1 403.6 450.4 403.5 450.7 403.4 451 403.7 451.3 403 451.6 403.5 451.9 403.6 452 403.9Z" fill="#e7a322" stroke="#e7a322" stroke-width="0.3" opacity="0.9" clip-path="url(#rc21)"/>
<path d="M421.2 403.9V396.5M424.1 403.9V394.7M427.4 403.9V364.5M430.7 403.9V393.3M433.9 403.9V399.7M446.7 403.9V401.6M450.1 403.9V398.2M437 403.9V401.5M418 403.9V401.5" fill="none" stroke="#e7a322" stroke-width="0.8" opacity="0.95" clip-path="url(#rc21)"/>
<line x1="404.8" y1="403.9" x2="674.5" y2="403.9" stroke="#e7a322" stroke-width="1.0"/>
<rect x="404.8" y="364.9" width="269.7" height="39.6" fill="none" stroke="#4a4a4a" stroke-width="1.0"/>
<text x="540.2" y="422.3" font-size="11" text-anchor="middle" fill="#1e1e1e" >FFT of IMF3</text>
<text x="399.9" y="438.7" font-size="11.5" text-anchor="end" fill="#1e1e1e" >1.5</text>
<line x1="404.4" y1="433.2" x2="406.9" y2="433.2" stroke="#4a4a4a" stroke-width="0.9"/>
<line x1="674.5" y1="433.2" x2="672" y2="433.2" stroke="#4a4a4a" stroke-width="0.9"/>
<text x="399.9" y="449.7" font-size="11.5" text-anchor="end" fill="#1e1e1e" >1</text>
<line x1="404.4" y1="444.4" x2="406.9" y2="444.4" stroke="#4a4a4a" stroke-width="0.9"/>
<line x1="674.5" y1="444.4" x2="672" y2="444.4" stroke="#4a4a4a" stroke-width="0.9"/>
<text x="399.9" y="460.5" font-size="11.5" text-anchor="end" fill="#1e1e1e" >0.5</text>
<line x1="404.4" y1="455.3" x2="406.9" y2="455.3" stroke="#4a4a4a" stroke-width="0.9"/>
<line x1="674.5" y1="455.3" x2="672" y2="455.3" stroke="#4a4a4a" stroke-width="0.9"/>
<path d="M478 465.6 478 465.4 478.3 464.8 478.6 465.3 478.9 465 479.2 463.6 479.5 464.7 479.8 465.3 480.1 464.9 480.4 463.4 480.7 463.5 481 465.2 481.3 465.1 481.6 464.7 481.9 464.7 482.2 465.3 482.5 465.3 482.8 463.2 483.1 463.6 483.4 464.7 483.7 463.8 484 463.1 484.3 463.8 484.6 463 484.9 465.2 485.2 463.5 485.5 465.2 485.8 462.4 486.1 464.8 486.4 462.5 486.7 464.3 487 463.3 487.3 463.4 487.6 464.8 487.9 464.8 488.2 464.4 488.5 462 488.8 463 489.1 464.8 489.4 462.7 489.7 463.4 490 464 490.3 463.9 490.6 462.5 490.9 464 491.2 464.6 491.5 462.7 491.8 462.8 492.1 464.4 492.4 463.3 492.7 463.4 493 465.2 493.3 463.8 493.6 463.5 493.9 462.3 494.2 463.7 494.5 462.4 494.8 462.8 495.1 462.4 495.4 462.7 495.7 462.6 496 464.1 496.3 463.6 496.6 464.7 496.9 461 497.2 462.7 497.5 464 497.8 461.2 498.1 464.5 498.4 460.8 498.7 462.4 499 464.8 499.3 464.6 499.6 462.7 499.9 464.9 500.2 462.3 500.5 461.4 500.8 462.8 501.1 461.1 501.4 463 501.7 461.5 502 463.1 502.3 464.6 502.6 460.6 502.9 464.4 503.2 460 503.5 463.7 503.8 462 504.1 461.5 504.4 461.5 504.7 460.5 505 462 505.3 460.1 505.6 459.6 505.9 460.1 506.2 461.6 506.5 463 506.8 459.4 507.1 464.8 507.4 461.1 507.7 461.1 508 459.8 508.3 459.9 508.6 462.1 508.9 463.6 509.2 460.7 509.5 464.4 509.8 464 510.1 461.1 510.4 460.1 510.7 459.1 511 464.1 511.3 464.8 511.6 465.1 511.9 462.6 512.2 463.7 512.5 461.5 512.8 462.7 513.1 461.7 513.4 459.6 513.7 460.3 514 459.3 514.3 462.1 514.6 460 514.9 461.4 515.2 460.3 515.5 464.4 515.8 464.1 516.1 462.9 516.4 463.3 516.7 464.7 517 464.3 517.3 463.3 517.6 464.6 517.9 460.7 518.2 459.6 518.5 463.6 518.8 464.7 519.1 461 519.4 460.9 519.7 464.7 520 464.9 520.3 460.2 520.6 463.1 520.9 460.4 521.2 460.3 521.5 465.1 521.8 462.8 522.1 462.5 522.4 464.1 522.7 464.2 523 463.5 523.3 462.4 523.6 461.2 523.9 461.8 524.2 460.8 524.5 462.3 524.8 462.2 525.1 463.7 525.4 462.9 525.7 462.8 526 465.1 526.3 465 526.6 462.9 526.9 464.2 527.2 463.7 527.5 463.9 527.8 465.1 528.1 463.8 528.4 462.7 528.7 461.7 529 462.3 529.3 463.3 529.6 464.2 529.9 461.9 530.2 464 530.5 464.6 530.8 462.5 531.1 462.7 531.4 464.4 531.7 463.7 532 464.5 532.3 462.6 532.6 463.3 532.9 464.3 533.2 464.3 533.5 462.3 533.8 462.9 534.1 462.1 534.4 464.6 534.7 462.9 535 464 535.3 463.5 535.6 464.6 535.9 463.1 536.2 463 536.5 465 536.8 465.1 537.1 463.1 537.4 464.6 537.7 463.1 538 463.5 538.3 463.4 538.6 463.9 538.9 462.9 539.2 463.5 539.5 464.2 539.8 464.4 540.1 463.3 540.4 465.4 540.7 463.7 541 463.7 541.3 463.5 541.6 463.8 541.9 464.6 542.2 463.2 542.5 464.7 542.8 464.1 543.1 465.5 543.4 463.8 543.7 464.5 544 465.2 544.3 465.4 544.6 465.4 544.9 465.3 545 465.6Z" fill="#e7a322" stroke="#e7a322" stroke-width="0.3" opacity="0.9" clip-path="url(#rc22)"/>
<path d="M449.8 465.6V462.9M472.3 465.6V457.2M494.8 465.6V453.7M514 465.6V451.2M517.3 465.6V427.5M520.7 465.6V455.1M539.7 465.6V447.5M562.2 465.6V460.4M505 465.6V459M510 465.6V458" fill="none" stroke="#e7a322" stroke-width="0.8" opacity="0.95" clip-path="url(#rc22)"/>
<line x1="404.4" y1="465.6" x2="674.5" y2="465.6" stroke="#e7a322" stroke-width="1.0"/>
<rect x="404.4" y="427.3" width="270.1" height="38.9" fill="none" stroke="#4a4a4a" stroke-width="1.0"/>
<text x="540.2" y="483.8" font-size="11" text-anchor="middle" fill="#1e1e1e" >FFT of IMF4</text>
<text x="399.9" y="500.5" font-size="11.5" text-anchor="end" fill="#1e1e1e" >1.5</text>
<line x1="404.4" y1="495.4" x2="406.9" y2="495.4" stroke="#4a4a4a" stroke-width="0.9"/>
<line x1="674.5" y1="495.4" x2="672" y2="495.4" stroke="#4a4a4a" stroke-width="0.9"/>
<text x="399.9" y="512.2" font-size="11.5" text-anchor="end" fill="#1e1e1e" >1</text>
<line x1="404.4" y1="507" x2="406.9" y2="507" stroke="#4a4a4a" stroke-width="0.9"/>
<line x1="674.5" y1="507" x2="672" y2="507" stroke="#4a4a4a" stroke-width="0.9"/>
<text x="399.9" y="523.4" font-size="11.5" text-anchor="end" fill="#1e1e1e" >0.5</text>
<line x1="404.4" y1="518.2" x2="406.9" y2="518.2" stroke="#4a4a4a" stroke-width="0.9"/>
<line x1="674.5" y1="518.2" x2="672" y2="518.2" stroke="#4a4a4a" stroke-width="0.9"/>
<line x1="457.2" y1="530.5" x2="457.2" y2="528.3" stroke="#4a4a4a" stroke-width="0.9"/>
<line x1="457.2" y1="488.8" x2="457.2" y2="491" stroke="#4a4a4a" stroke-width="0.9"/>
<line x1="510" y1="530.5" x2="510" y2="528.3" stroke="#4a4a4a" stroke-width="0.9"/>
<line x1="510" y1="488.8" x2="510" y2="491" stroke="#4a4a4a" stroke-width="0.9"/>
<line x1="562.8" y1="530.5" x2="562.8" y2="528.3" stroke="#4a4a4a" stroke-width="0.9"/>
<line x1="562.8" y1="488.8" x2="562.8" y2="491" stroke="#4a4a4a" stroke-width="0.9"/>
<line x1="615.6" y1="530.5" x2="615.6" y2="528.3" stroke="#4a4a4a" stroke-width="0.9"/>
<line x1="615.6" y1="488.8" x2="615.6" y2="491" stroke="#4a4a4a" stroke-width="0.9"/>
<line x1="668.4" y1="530.5" x2="668.4" y2="528.3" stroke="#4a4a4a" stroke-width="0.9"/>
<line x1="668.4" y1="488.8" x2="668.4" y2="491" stroke="#4a4a4a" stroke-width="0.9"/>
<path d="M575 529.9 575 529.7 575.3 528.7 575.6 528.9 575.9 528 576.2 528.8 576.5 529.2 576.8 527.9 577.1 529.3 577.4 529.5 577.7 529.3 578 529.6 578.3 528.3 578.6 528.5 578.9 528.4 579.2 528.6 579.5 529.1 579.8 529 580.1 528 580.4 528.5 580.7 529.6 581 527.5 581.3 528.7 581.6 528.3 581.9 529.7 582.2 528.3 582.5 527.6 582.8 529.4 583.1 529.5 583.4 527.6 583.7 527.9 584 528.8 584.3 528.5 584.6 527.2 584.9 528.1 585.2 529.4 585.5 528.4 585.8 529 586.1 529.6 586.4 529.2 586.7 529.3 587 526.6 587.3 529.1 587.6 527.9 587.9 528.9 588.2 527.9 588.5 528.3 588.8 529.3 589.1 527 589.4 528 589.7 526.9 590 529.5 590.3 527.9 590.6 528.1 590.9 526.2 591.2 527.9 591.5 527.5 591.8 526.2 592.1 527.7 592.4 527.6 592.7 529.4 593 526.8 593.3 528.4 593.6 527.5 593.9 529.5 594.2 526.9 594.5 526.2 594.8 527.3 595.1 526.8 595.4 529 595.7 527.9 596 529.3 596.3 529.3 596.6 526.1 596.9 528.5 597.2 527.9 597.5 525.8 597.8 528.5 598.1 527.1 598.4 525.3 598.7 525.4 599 525.5 599.3 529.5 599.6 529.3 599.9 528.3 600.2 529.5 600.5 525.5 600.8 529.4 601.1 528.7 601.4 527.9 601.7 529.1 602 524.9 602.3 528.3 602.6 528.5 602.9 525.6 603.2 525.3 603.5 527.2 603.8 524.6 604.1 528.5 604.4 529.5 604.7 526.9 605 526.1 605.3 525.3 605.6 526.4 605.9 528.9 606.2 524.4 606.5 524.1 606.8 528.2 607.1 529.5 607.4 528.9 607.7 526 608 527.8 608.3 526.9 608.6 527.5 608.9 524.5 609.2 527.6 609.5 529.4 609.8 528.5 610.1 526.6 610.4 528.5 610.7 525.7 611 526.4 611.3 528.5 611.6 526.1 611.9 525.5 612.2 528.2 612.5 528.4 612.8 526 613.1 524.8 613.4 525.5 613.7 527 614 525.3 614.3 526.3 614.6 529 614.9 527.6 615.2 526.2 615.5 526.8 615.8 525 616.1 526.1 616.4 526.2 616.7 525.3 617 525.8 617.3 527.4 617.6 527.3 617.9 526.2 618.2 528.1 618.5 525.9 618.8 526.9 619.1 528.6 619.4 528.4 619.7 525.6 620 529.3 620.3 526.1 620.6 527.6 620.9 527.5 621.2 528.6 621.5 525.9 621.8 528.7 622.1 526.9 622.4 525.9 622.7 527.3 623 526.6 623.3 529.1 623.6 528.5 623.9 529.2 624.2 527.6 624.5 526.3 624.8 529.5 625.1 526.7 625.4 528.4 625.7 526.6 626 526.9 626.3 529 626.6 528.3 626.9 529.6 627.2 528.2 627.5 529.1 627.8 529.7 628.1 528.7 628.4 527.9 628.7 529.5 629 528.7 629.3 528.2 629.6 529.4 629.9 527.8 630.2 528.3 630.5 528.4 630.8 527.3 631.1 528.8 631.4 529.5 631.7 528.8 632 527.2 632.3 529.5 632.6 529.4 632.9 527.7 633.2 527.4 633.5 527.9 633.8 529.4 634.1 527.7 634.4 529.7 634.7 529.1 635 528.9 635.3 529.3 635.6 528 635.9 529.6 636.2 529.2 636.5 529 636.8 529.3 637.1 529.7 637.4 529.1 637.7 528 638 528.7 638.3 528.2 638.6 528.7 638.9 528 639.2 529.6 639.5 528.8 639.8 528.4 640 529.9Z" fill="#e7a322" stroke="#e7a322" stroke-width="0.3" opacity="0.9" clip-path="url(#rc23)"/>
<path d="M562.1 529.9V523.9M580.9 529.9V526M584.3 529.9V510.2M587.4 529.9V526M590.7 529.9V524.5M600.5 529.9V525M603.8 529.9V522.8M606.8 529.9V489.5M609.9 529.9V521.8M613.2 529.9V525M622.8 529.9V525M625.8 529.9V526M629.3 529.9V512.2M632.4 529.9V526M651.8 529.9V522.8" fill="none" stroke="#e7a322" stroke-width="0.8" opacity="0.95" clip-path="url(#rc23)"/>
<line x1="404.4" y1="529.9" x2="674.5" y2="529.9" stroke="#e7a322" stroke-width="1.0"/>
<rect x="404.4" y="488.8" width="270.1" height="41.7" fill="none" stroke="#4a4a4a" stroke-width="1.0"/>
<text x="404.4" y="547" font-size="11.5" text-anchor="middle" fill="#1e1e1e" >0</text>
<text x="457.2" y="547" font-size="11.5" text-anchor="middle" fill="#1e1e1e" >500</text>
<text x="510" y="547" font-size="11.5" text-anchor="middle" fill="#1e1e1e" >1000</text>
<text x="562.8" y="547" font-size="11.5" text-anchor="middle" fill="#1e1e1e" >1500</text>
<text x="615.6" y="547" font-size="11.5" text-anchor="middle" fill="#1e1e1e" >2000</text>
<text x="668.4" y="547" font-size="11.5" text-anchor="middle" fill="#1e1e1e" >2500</text>
<text x="537.5" y="560" font-size="12" text-anchor="middle" fill="#1e1e1e" >Frequency/Hz</text>
<text x="540.8" y="586.5" font-size="11" text-anchor="middle" fill="#1e1e1e" >FFT of IMF1</text>
<text x="398.8" y="602.9" font-size="11.5" text-anchor="end" fill="#1e1e1e" >3</text>
<line x1="403.3" y1="598" x2="405.8" y2="598" stroke="#4a4a4a" stroke-width="0.9"/>
<line x1="676.6" y1="598" x2="674.1" y2="598" stroke="#4a4a4a" stroke-width="0.9"/>
<text x="398.8" y="613.5" font-size="11.5" text-anchor="end" fill="#1e1e1e" >2</text>
<line x1="403.3" y1="608.8" x2="405.8" y2="608.8" stroke="#4a4a4a" stroke-width="0.9"/>
<line x1="676.6" y1="608.8" x2="674.1" y2="608.8" stroke="#4a4a4a" stroke-width="0.9"/>
<text x="398.8" y="624.5" font-size="11.5" text-anchor="end" fill="#1e1e1e" >1</text>
<line x1="403.3" y1="619.6" x2="405.8" y2="619.6" stroke="#4a4a4a" stroke-width="0.9"/>
<line x1="676.6" y1="619.6" x2="674.1" y2="619.6" stroke="#4a4a4a" stroke-width="0.9"/>
<path d="M403.3 628.9 403.3 617.5 403.6 625.7 403.9 618 404.2 626.2 404.5 620.4 404.8 621.7 405.1 618.3 405.4 624.4 405.7 621.9 406 621.4 406.3 627.1 406.6 622.5 406.9 623.1 407.2 622.5 407.5 625.2 407.8 625.9 408.1 620.9 408.4 627.5 408.7 623.7 409 623.1 409.3 625 409.6 622.5 409.9 622.2 410.2 624 410.5 622.8 410.8 622.6 411.1 627.6 411.4 622.8 411.7 623.2 412 627.4 412.3 627.4 412.6 624.7 412.9 624.6 413.2 624.8 413.5 627.3 413.8 626.1 414.1 624.8 414.4 628.2 414.7 627 415 627.2 415.3 625.2 415.6 626.4 415.9 626.3 416.2 627.3 416.5 626.2 416.8 627.4 417.1 627.9 417.4 626 417.7 626.9 418 627.4 418.3 627.2 418.6 627.1 418.9 627.1 419.2 627.2 419.5 627.5 419.8 627.6 420.1 628.1 420.4 628.2 420.7 627.7 421 628.8 421.3 628 421.6 628 421.9 628.2 422 628.9Z" fill="#e0202e" stroke="#e0202e" stroke-width="0.3" opacity="0.9" clip-path="url(#rc30)"/>
<path d="M403.8 628.9V615.7M405.2 628.9V620M406.6 628.9V591M408.2 628.9V620M410.2 628.9V602.5M413.1 628.9V622.2M411.5 628.9V618" fill="none" stroke="#e0202e" stroke-width="0.8" opacity="0.95" clip-path="url(#rc30)"/>
<line x1="403.3" y1="628.9" x2="676.6" y2="628.9" stroke="#e0202e" stroke-width="1.0"/>
<rect x="403.3" y="591.5" width="273.3" height="38" fill="none" stroke="#4a4a4a" stroke-width="1.0"/>
<text x="540.8" y="646" font-size="11" text-anchor="middle" fill="#1e1e1e" >FFT of IMF2</text>
<text x="398.8" y="664.5" font-size="11.5" text-anchor="end" fill="#1e1e1e" >10</text>
<line x1="403.3" y1="659.1" x2="405.8" y2="659.1" stroke="#4a4a4a" stroke-width="0.9"/>
<line x1="676.6" y1="659.1" x2="674.1" y2="659.1" stroke="#4a4a4a" stroke-width="0.9"/>
<text x="398.8" y="676.9" font-size="11.5" text-anchor="end" fill="#1e1e1e" >6</text>
<line x1="403.3" y1="672.6" x2="405.8" y2="672.6" stroke="#4a4a4a" stroke-width="0.9"/>
<line x1="676.6" y1="672.6" x2="674.1" y2="672.6" stroke="#4a4a4a" stroke-width="0.9"/>
<text x="398.8" y="689.9" font-size="11.5" text-anchor="end" fill="#1e1e1e" >2</text>
<line x1="403.3" y1="685.2" x2="405.8" y2="685.2" stroke="#4a4a4a" stroke-width="0.9"/>
<line x1="676.6" y1="685.2" x2="674.1" y2="685.2" stroke="#4a4a4a" stroke-width="0.9"/>
<path d="M410 690.9 410 690.7 410.3 689.5 410.6 690.4 410.9 690.7 411.2 690.5 411.5 689.2 411.8 689.2 412.1 689.2 412.4 690 412.7 690.5 413 690 413.3 690.1 413.6 688.9 413.9 689.5 414.2 688.9 414.5 689.9 414.8 689.9 415.1 689 415.4 690 415.7 689.9 416 689.9 416.3 690.1 416.6 687.8 416.9 690.6 417.2 689.7 417.5 688 417.8 687.8 418.1 687.5 418.4 690 418.7 689.3 419 687.1 419.3 688.9 419.6 688.4 419.9 689.5 420.2 689.6 420.5 687 420.8 689.1 421.1 687.7 421.4 687 421.7 690.3 422 687 422.3 689.8 422.6 686.5 422.9 686.8 423.2 687.2 423.5 687 423.8 688.1 424.1 690.4 424.4 689.4 424.7 690.1 425 689.2 425.3 686.9 425.6 686.9 425.9 689.1 426.2 689.2 426.5 688.4 426.8 687.2 427.1 689.6 427.4 690.6 427.7 687.4 428 688.5 428.3 690.5 428.6 688.6 428.9 690 429.2 688.6 429.5 688.5 429.8 689.2 430.1 688.6 430.4 690.1 430.7 688.1 431 689.2 431.3 689.4 431.6 690.4 431.9 689.3 432.2 688.9 432.5 689.3 432.8 690 433.1 689.1 433.4 689.2 433.7 688.9 434 689.7 434.3 689.7 434.6 689.2 434.9 690.7 435.2 690.1 435.5 690 435.8 690.3 436 690.9Z" fill="#e0202e" stroke="#e0202e" stroke-width="0.3" opacity="0.9" clip-path="url(#rc31)"/>
<path d="M419.4 690.9V685.6M422.6 690.9V682.7M425.8 690.9V650.5M429.2 690.9V683.2M432.4 690.9V686.3" fill="none" stroke="#e0202e" stroke-width="0.8" opacity="0.95" clip-path="url(#rc31)"/>
<line x1="403.3" y1="690.9" x2="676.6" y2="690.9" stroke="#e0202e" stroke-width="1.0"/>
<rect x="403.3" y="651" width="273.3" height="40.5" fill="none" stroke="#4a4a4a" stroke-width="1.0"/>
<text x="540.8" y="707.4" font-size="11" text-anchor="middle" fill="#1e1e1e" >FFT of IMF3</text>
<text x="398.8" y="719.5" font-size="11.5" text-anchor="end" fill="#1e1e1e" >3</text>
<line x1="403.3" y1="714.1" x2="405.8" y2="714.1" stroke="#4a4a4a" stroke-width="0.9"/>
<line x1="676.6" y1="714.1" x2="674.1" y2="714.1" stroke="#4a4a4a" stroke-width="0.9"/>
<text x="398.8" y="730.9" font-size="11.5" text-anchor="end" fill="#1e1e1e" >2</text>
<line x1="403.3" y1="726.4" x2="405.8" y2="726.4" stroke="#4a4a4a" stroke-width="0.9"/>
<line x1="676.6" y1="726.4" x2="674.1" y2="726.4" stroke="#4a4a4a" stroke-width="0.9"/>
<text x="398.8" y="743.2" font-size="11.5" text-anchor="end" fill="#1e1e1e" >1</text>
<line x1="403.3" y1="738.9" x2="405.8" y2="738.9" stroke="#4a4a4a" stroke-width="0.9"/>
<line x1="676.6" y1="738.9" x2="674.1" y2="738.9" stroke="#4a4a4a" stroke-width="0.9"/>
<path d="M432 752 432 750.7 432.3 750.4 432.6 751.2 432.9 750.5 433.2 750.1 433.5 751.1 433.8 751.4 434.1 751.3 434.4 751.6 434.7 750.8 435 749.3 435.3 751.2 435.6 750 435.9 749.2 436.2 749.6 436.5 751.2 436.8 751.5 437.1 749.4 437.4 750.5 437.7 749.3 438 750.1 438.3 750.6 438.6 748.5 438.9 750 439.2 748.9 439.5 748.5 439.8 748.2 440.1 749.9 440.4 748.8 440.7 749.9 441 748.2 441.3 749.5 441.6 750.3 441.9 748.1 442.2 749 442.5 747.6 442.8 748.3 443.1 748.8 443.4 749.7 443.7 747.6 444 747.4 444.3 751 444.6 750.1 444.9 748.6 445.2 750.4 445.5 750.8 445.8 747.7 446.1 749.2 446.4 749.6 446.7 746.6 447 746.7 447.3 747.5 447.6 749 447.9 750 448.2 748.2 448.5 750.4 448.8 746.1 449.1 749.6 449.4 746.5 449.7 750.2 450 748.4 450.3 748.2 450.6 747.9 450.9 746.3 451.2 748.9 451.5 750.3 451.8 747.1 452.1 747.8 452.4 749.8 452.7 746.4 453 748.5 453.3 751 453.6 747.3 453.9 747.4 454.2 747.6 454.5 751 454.8 745.7 455.1 746.8 455.4 751 455.7 747.4 456 749.6 456.3 747.4 456.6 746.8 456.9 748.5 457.2 749.1 457.5 750.6 457.8 748.4 458.1 747.4 458.4 747.7 458.7 747.3 459 747.8 459.3 748.6 459.6 748.3 459.9 748.5 460.2 750.6 460.5 749.6 460.8 749.8 461.1 750.3 461.4 747.4 461.7 749 462 749.3 462.3 747.4 462.6 750.8 462.9 747.7 463.2 749.9 463.5 748 463.8 748.6 464.1 747.6 464.4 749.5 464.7 750.4 465 748.9 465.3 750.1 465.6 749.7 465.9 749.2 466.2 751.2 466.5 749.1 466.8 750 467.1 751.5 467.4 749.1 467.7 750.6 468 750.4 468.3 748.9 468.6 751.3 468.9 748.7 469.2 751.1 469.5 748.8 469.8 748.8 470.1 750.7 470.4 750.5 470.7 751.1 471 750 471.3 749.3 471.6 749.8 471.9 750.3 472.2 750.9 472.5 750.5 472.8 749.8 473.1 751.3 473.4 751.4 473.7 751.7 474 749.8 474.3 751.8 474.6 751.8 474.9 751.8 475 752Z" fill="#e0202e" stroke="#e0202e" stroke-width="0.3" opacity="0.9" clip-path="url(#rc32)"/>
<path d="M475 752 475 752 475.3 751.7 475.6 751.9 475.9 751.9 476.2 751.8 476.5 751.9 476.8 751.8 477.1 751.3 477.4 751.4 477.7 751.7 478 751.5 478.3 751.9 478.6 751.8 478.9 751.9 479.2 751.9 479.5 751.7 479.8 751.7 480.1 751.9 480.4 751.7 480.7 751.8 481 751.6 481.3 751.9 481.6 751.9 481.9 751.9 482.2 750.8 482.5 750.7 482.8 751.7 483.1 751.8 483.4 751.9 483.7 751.3 484 751.8 484.3 751.1 484.6 751.7 484.9 751.3 485.2 751.9 485.5 750.3 485.8 750.7 486.1 751.6 486.4 751.6 486.7 751.9 487 750.8 487.3 751.8 487.6 751.9 487.9 751.9 488.2 751.9 488.5 751.8 488.8 751.9 489.1 751.1 489.4 751.7 489.7 751.9 490 751.5 490.3 751.9 490.6 751.8 490.9 751.9 491.2 751.7 491.5 751.4 491.8 751.9 492.1 751.7 492.4 750.6 492.7 750.9 493 751.9 493.3 751.4 493.6 751.2 493.9 751.4 494.2 751.2 494.5 751.9 494.8 751.6 495.1 750.9 495.4 751.8 495.7 751.9 496 751.9 496.3 751.9 496.6 751.9 496.9 751.6 497.2 751.5 497.5 751.9 497.8 751.9 498.1 751.8 498.4 751.9 498.7 751.8 499 751.9 499.3 751.7 499.6 751.4 499.9 751.9 500 752Z" fill="#e0202e" stroke="#e0202e" stroke-width="0.3" opacity="0.9" clip-path="url(#rc32)"/>
<path d="M432.1 752V750.2M442 752V746.2M445.2 752V737.1M448.5 752V712M450.8 752V746M455.2 752V746.2M461.7 752V745.6M468 752V747M471.3 752V741.8M494.3 752V750.2" fill="none" stroke="#e0202e" stroke-width="0.8" opacity="0.95" clip-path="url(#rc32)"/>
<line x1="403.3" y1="752" x2="676.6" y2="752" stroke="#e0202e" stroke-width="1.0"/>
<rect x="403.3" y="712.4" width="273.3" height="40.2" fill="none" stroke="#4a4a4a" stroke-width="1.0"/>
<text x="540.8" y="767.7" font-size="11" text-anchor="middle" fill="#1e1e1e" >FFT of IMF4</text>
<text x="398.9" y="781.5" font-size="11.5" text-anchor="end" fill="#1e1e1e" >1.5</text>
<line x1="403.4" y1="776.1" x2="405.9" y2="776.1" stroke="#4a4a4a" stroke-width="0.9"/>
<line x1="676.6" y1="776.1" x2="674.1" y2="776.1" stroke="#4a4a4a" stroke-width="0.9"/>
<text x="398.9" y="793.5" font-size="11.5" text-anchor="end" fill="#1e1e1e" >1</text>
<line x1="403.4" y1="788.4" x2="405.9" y2="788.4" stroke="#4a4a4a" stroke-width="0.9"/>
<line x1="676.6" y1="788.4" x2="674.1" y2="788.4" stroke="#4a4a4a" stroke-width="0.9"/>
<text x="398.9" y="805.5" font-size="11.5" text-anchor="end" fill="#1e1e1e" >0.5</text>
<line x1="403.4" y1="800.6" x2="405.9" y2="800.6" stroke="#4a4a4a" stroke-width="0.9"/>
<line x1="676.6" y1="800.6" x2="674.1" y2="800.6" stroke="#4a4a4a" stroke-width="0.9"/>
<path d="M490 812.3 490 810.8 490.3 811.8 490.6 811.9 490.9 811.4 491.2 810.8 491.5 810.7 491.8 811.1 492.1 810.9 492.4 811.2 492.7 811.7 493 811.2 493.3 811.8 493.6 811.9 493.9 810.1 494.2 810.2 494.5 811.3 494.8 810.3 495.1 810.5 495.4 811.4 495.7 811.1 496 811.5 496.3 811.5 496.6 809.2 496.9 809.4 497.2 811 497.5 809 497.8 808.8 498.1 810.6 498.4 810.4 498.7 810.8 499 811.2 499.3 810.6 499.6 811.7 499.9 810.3 500.2 809 500.5 809.3 500.8 810 501.1 809.5 501.4 808.7 501.7 809.7 502 810.1 502.3 809.4 502.6 808.9 502.9 808.3 503.2 809.8 503.5 808 503.8 809.6 504.1 810.1 504.4 808 504.7 809.5 505 808 505.3 808.5 505.6 811 505.9 808.4 506.2 811.3 506.5 807.3 506.8 811.7 507.1 808.6 507.4 808 507.7 808 508 807.7 508.3 808.8 508.6 811.4 508.9 808.4 509.2 808.4 509.5 810.7 509.8 808.3 510.1 811.6 510.4 811.3 510.7 810.3 511 807.5 511.3 809.3 511.6 809.3 511.9 810.8 512.2 809.9 512.5 811.8 512.8 808.3 513.1 808.1 513.4 810.5 513.7 810.5 514 810 514.3 808.7 514.6 807.5 514.9 806.9 515.2 805.8 515.5 811 515.8 808 516.1 806.5 516.4 809.1 516.7 807.2 517 807.4 517.3 808.6 517.6 806.6 517.9 807.9 518.2 810.2 518.5 806.5 518.8 809.8 519.1 805.9 519.4 806.6 519.7 807.8 520 810.1 520.3 809.3 520.6 810.5 520.9 810 521.2 810 521.5 807.7 521.8 809.1 522.1 811.2 522.4 806.2 522.7 810.1 523 809.5 523.3 808.2 523.6 811.7 523.9 807 524.2 811.5 524.5 806.9 524.8 809.4 525.1 809.7 525.4 808 525.7 811.2 526 809.1 526.3 810.9 526.6 808.2 526.9 809.7 527.2 811 527.5 809.7 527.8 809.3 528.1 807.5 528.4 807.7 528.7 808.9 529 807.9 529.3 808.2 529.6 810.8 529.9 809.2 530.2 809 530.5 808.2 530.8 808.7 531.1 809.4 531.4 811 531.7 809.8 532 808.9 532.3 810.3 532.6 808 532.9 811.7 533.2 811.2 533.5 809.5 533.8 810.2 534.1 810.1 534.4 810.5 534.7 809 535 810.5 535.3 810.5 535.6 808.5 535.9 809.5 536.2 810.4 536.5 809.6 536.8 811.4 537.1 811 537.4 810.4 537.7 809.2 538 809.7 538.3 809.4 538.6 809.1 538.9 809.7 539.2 810.3 539.5 810 539.8 811.3 540.1 809.9 540.4 809.5 540.7 811.9 541 810.4 541.3 812 541.6 810 541.9 810.2 542.2 810.9 542.5 812 542.8 811 543.1 810.1 543.4 810.6 543.7 810 544 810.5 544.3 812 544.6 811.6 544.9 810.7 545 812.3Z" fill="#e0202e" stroke="#e0202e" stroke-width="0.3" opacity="0.9" clip-path="url(#rc33)"/>
<path d="M470 812.3 470 811.7 470.3 811.6 470.6 812.2 470.9 811.9 471.2 812.2 471.5 812 471.8 812 472.1 812.2 472.4 812.2 472.7 811.5 473 812.2 473.3 812 473.6 811.9 473.9 811.7 474.2 812.2 474.5 812.1 474.8 812.2 475.1 812.2 475.4 811.9 475.7 812.1 476 812.2 476.3 812.2 476.6 811.4 476.9 812.2 477.2 811.5 477.5 812 477.8 812.2 478.1 811.4 478.4 812.2 478.7 811.6 479 811.4 479.3 811.7 479.6 811.9 479.9 812.2 480.2 811.4 480.5 812.1 480.8 812.2 481.1 811.6 481.4 811.5 481.7 811.3 482 811.9 482.3 811.2 482.6 811.3 482.9 811.9 483.2 811.1 483.5 812.2 483.8 811.7 484.1 812.2 484.4 811.7 484.7 812 485 812.2 485.3 811.7 485.6 812.1 485.9 812.1 486.2 811.6 486.5 811.7 486.8 812.2 487.1 811.7 487.4 811.8 487.7 812.2 488 811.8 488.3 812.2 488.6 811.6 488.9 812 489.2 812.2 489.5 812.2 489.8 812.2 490.1 811.2 490.4 812 490.7 811.6 491 812.2 491.3 811.3 491.6 812.1 491.9 811.8 492.2 811.7 492.5 811.3 492.8 811 493.1 812 493.4 811.3 493.7 812.2 494 812.2 494.3 811.8 494.6 811.9 494.9 812.2 495.2 812.2 495.5 812 495.8 812.1 496.1 812 496.4 812.2 496.7 812.2 497 811.7 497.3 812.2 497.6 811.5 497.9 812.1 498.2 811.6 498.5 811.3 498.8 811.6 499.1 812.2 499.4 810.7 499.7 812.2 500 812 500.3 811.5 500.6 812 500.9 811.3 501.2 810.6 501.5 811.7 501.8 812.2 502.1 810.8 502.4 811.3 502.7 811 503 810.7 503.3 811.9 503.6 811.9 503.9 812.1 504.2 811.6 504.5 811.8 504.8 811.6 505.1 811.5 505.4 812 505.7 812.2 506 811.8 506.3 812 506.6 812.1 506.9 811.7 507.2 811.2 507.5 810.6 507.8 812 508.1 812.1 508.4 811.8 508.7 812 509 811.3 509.3 811.7 509.6 810.7 509.9 812.1 510.2 811.8 510.5 812 510.8 810.5 511.1 811 511.4 812.1 511.7 810.6 512 811.2 512.3 810.6 512.6 812.2 512.9 812.1 513.2 811.7 513.5 811.9 513.8 810.4 514.1 812.1 514.4 810.1 514.7 812.2 515 810.2 515.3 811.6 515.6 811.6 515.9 812.2 516.2 810.3 516.5 810.5 516.8 811 517.1 812 517.4 811.2 517.7 811.3 518 810.7 518.3 810.1 518.6 812 518.9 812.2 519.2 811.5 519.5 811.8 519.8 811 520.1 812.1 520.4 812.1 520.7 811.9 521 810.8 521.3 811.1 521.6 811.5 521.9 812.1 522.2 810.7 522.5 811.4 522.8 809.9 523.1 811.6 523.4 812 523.7 812 524 810.9 524.3 810.2 524.6 812.1 524.9 811.1 525.2 812.1 525.5 810.4 525.8 811.6 526.1 811.2 526.4 810.4 526.7 811.3 527 810.4 527.3 811.2 527.6 810 527.9 811.3 528.2 811.4 528.5 812.1 528.8 811.4 529.1 810.2 529.4 810.2 529.7 811.8 530 810.5 530.3 810.8 530.6 811.6 530.9 811.8 531.2 811.8 531.5 811.6 531.8 810.4 532.1 812.1 532.4 811.5 532.7 810.8 533 812.1 533.3 810.7 533.6 810.5 533.9 810.3 534.2 812.2 534.5 812.1 534.8 812.1 535.1 810.5 535.4 811.5 535.7 811.2 536 811.7 536.3 811.6 536.6 811.5 536.9 810.7 537.2 810.9 537.5 812.1 537.8 810.3 538.1 812.2 538.4 810.4 538.7 811.8 539 811.3 539.3 812 539.6 812.2 539.9 810.4 540.2 811.7 540.5 811.9 540.8 810.9 541.1 811.9 541.4 810.6 541.7 811.6 542 810.5 542.3 812 542.6 811.3 542.9 811.6 543.2 810.9 543.5 811.6 543.8 812.1 544.1 812 544.4 811.2 544.7 811.5 545 811.6 545.3 812.2 545.6 812.1 545.9 812.2 546.2 812.2 546.5 811.8 546.8 812.2 547.1 811.2 547.4 811.9 547.7 811.6 548 812 548.3 810.9 548.6 812.2 548.9 811.7 549.2 812 549.5 811.6 549.8 812.1 550.1 812 550.4 811.7 550.7 812 551 811.6 551.3 812.1 551.6 811 551.9 812.2 552.2 812.2 552.5 812 552.8 812.1 553.1 812.2 553.4 812.2 553.7 812 554 811.3 554.3 812.1 554.6 812 554.9 812.2 555.2 811.5 555.5 811.8 555.8 811.4 556.1 811 556.4 811.9 556.7 812.2 557 811.3 557.3 811.9 557.6 812.2 557.9 812.2 558.2 811.4 558.5 811.3 558.8 812.2 559.1 812.2 559.4 811.5 559.7 812.2 560 811.1 560.3 811.7 560.6 812.2 560.9 811.1 561.2 812 561.5 811.5 561.8 812.2 562.1 811.1 562.4 811.8 562.7 811.6 563 812.2 563.3 812.2 563.6 811.9 563.9 812.1 564.2 812.2 564.5 812.2 564.8 812.2 565.1 811.9 565.4 812.2 565.7 812.2 566 811.9 566.3 812.2 566.6 811.5 566.9 812.2 567.2 812 567.5 811.8 567.8 812.2 568.1 812.1 568.4 811.8 568.7 812.2 569 812.2 569.3 812.2 569.6 812.1 569.9 812.1 570.2 811.6 570.5 811.9 570.8 812.2 571.1 811.8 571.4 812.1 571.7 812.1 572 811.5 572.3 812.2 572.6 811.8 572.9 812.2 573.2 811.7 573.5 812.2 573.8 812.2 574.1 811.7 574.4 811.6 574.7 812.2 575 812.3Z" fill="#e0202e" stroke="#e0202e" stroke-width="0.3" opacity="0.9" clip-path="url(#rc33)"/>
<path d="M471.3 812.3V810M494.2 812.3V802.4M503.7 812.3V806.5M510.5 812.3V807.5M513.6 812.3V797.7M516.8 812.3V772.8M520.1 812.3V805.3M525.8 812.3V805M530 812.3V805M539.7 812.3V782.8M562.6 812.3V803.2" fill="none" stroke="#e0202e" stroke-width="0.8" opacity="0.95" clip-path="url(#rc33)"/>
<line x1="403.4" y1="812.3" x2="676.6" y2="812.3" stroke="#e0202e" stroke-width="1.0"/>
<rect x="403.4" y="772.7" width="273.2" height="40.2" fill="none" stroke="#4a4a4a" stroke-width="1.0"/>
<text x="540.8" y="829.2" font-size="11" text-anchor="middle" fill="#1e1e1e" >FFT of IMF5</text>
<text x="398.9" y="843.4" font-size="11.5" text-anchor="end" fill="#1e1e1e" >1.5</text>
<line x1="403.4" y1="838.2" x2="405.9" y2="838.2" stroke="#4a4a4a" stroke-width="0.9"/>
<line x1="676.6" y1="838.2" x2="674.1" y2="838.2" stroke="#4a4a4a" stroke-width="0.9"/>
<text x="398.9" y="855.2" font-size="11.5" text-anchor="end" fill="#1e1e1e" >1</text>
<line x1="403.4" y1="850.2" x2="405.9" y2="850.2" stroke="#4a4a4a" stroke-width="0.9"/>
<line x1="676.6" y1="850.2" x2="674.1" y2="850.2" stroke="#4a4a4a" stroke-width="0.9"/>
<text x="398.9" y="866.8" font-size="11.5" text-anchor="end" fill="#1e1e1e" >0.5</text>
<line x1="403.4" y1="862.2" x2="405.9" y2="862.2" stroke="#4a4a4a" stroke-width="0.9"/>
<line x1="676.6" y1="862.2" x2="674.1" y2="862.2" stroke="#4a4a4a" stroke-width="0.9"/>
<line x1="456.8" y1="873.6" x2="456.8" y2="871.4" stroke="#4a4a4a" stroke-width="0.9"/>
<line x1="456.8" y1="834.2" x2="456.8" y2="836.4" stroke="#4a4a4a" stroke-width="0.9"/>
<line x1="510.2" y1="873.6" x2="510.2" y2="871.4" stroke="#4a4a4a" stroke-width="0.9"/>
<line x1="510.2" y1="834.2" x2="510.2" y2="836.4" stroke="#4a4a4a" stroke-width="0.9"/>
<line x1="563.6" y1="873.6" x2="563.6" y2="871.4" stroke="#4a4a4a" stroke-width="0.9"/>
<line x1="563.6" y1="834.2" x2="563.6" y2="836.4" stroke="#4a4a4a" stroke-width="0.9"/>
<line x1="617" y1="873.6" x2="617" y2="871.4" stroke="#4a4a4a" stroke-width="0.9"/>
<line x1="617" y1="834.2" x2="617" y2="836.4" stroke="#4a4a4a" stroke-width="0.9"/>
<line x1="670.4" y1="873.6" x2="670.4" y2="871.4" stroke="#4a4a4a" stroke-width="0.9"/>
<line x1="670.4" y1="834.2" x2="670.4" y2="836.4" stroke="#4a4a4a" stroke-width="0.9"/>
<path d="M581 873 581 872.6 581.3 871.6 581.6 871.8 581.9 872.9 582.2 871.6 582.5 871.5 582.8 871.8 583.1 871.4 583.4 871.5 583.7 871.7 584 872 584.3 871.4 584.6 871.5 584.9 871.5 585.2 872.9 585.5 872.9 585.8 871.9 586.1 872.2 586.4 871.7 586.7 871.6 587 872.6 587.3 871.9 587.6 872.4 587.9 872.3 588.2 872.3 588.5 872.1 588.8 870.9 589.1 871.6 589.4 871.6 589.7 871.8 590 872.6 590.3 871.2 590.6 870.7 590.9 872.5 591.2 872.5 591.5 871.4 591.8 870.8 592.1 871 592.4 871.9 592.7 871.1 593 872.4 593.3 872.2 593.6 871.3 593.9 871.4 594.2 871.3 594.5 871.9 594.8 871.9 595.1 872.4 595.4 872 595.7 870.3 596 871.6 596.3 870.3 596.6 871.9 596.9 871.1 597.2 872.8 597.5 871.4 597.8 871.3 598.1 870.6 598.4 871.6 598.7 870.4 599 871.3 599.3 871.9 599.6 870.2 599.9 870 600.2 872.1 600.5 871.7 600.8 871.5 601.1 872.8 601.4 872.7 601.7 872.3 602 870.2 602.3 870.1 602.6 871.6 602.9 872.6 603.2 871.3 603.5 872.7 603.8 870.8 604.1 870.9 604.4 872.2 604.7 872.1 605 871.4 605.3 870.8 605.6 872 605.9 872.6 606.2 870.1 606.5 869.9 606.8 870.7 607.1 869.3 607.4 871.7 607.7 869.5 608 872.3 608.3 871.7 608.6 872.4 608.9 871 609.2 869.6 609.5 870.5 609.8 869.4 610.1 870.2 610.4 871.2 610.7 869.1 611 869.3 611.3 872.5 611.6 870.8 611.9 869.2 612.2 869.7 612.5 869.8 612.8 870.6 613.1 869.6 613.4 870.6 613.7 872.2 614 872.6 614.3 869 614.6 872.5 614.9 870.3 615.2 869.4 615.5 871.5 615.8 870.4 616.1 868.9 616.4 870.2 616.7 869.5 617 871.3 617.3 869.2 617.6 872.4 617.9 870.2 618.2 869.4 618.5 872.1 618.8 871.4 619.1 868.8 619.4 869.7 619.7 868.6 620 869.9 620.3 868.8 620.6 870.1 620.9 871.8 621.2 870 621.5 869.2 621.8 869.3 622.1 870.5 622.4 868.7 622.7 872.1 623 871.5 623.3 869.8 623.6 868.3 623.9 871.4 624.2 872.4 624.5 870.6 624.8 869.5 625.1 868.5 625.4 869 625.7 869.7 626 868.4 626.3 872 626.6 872.2 626.9 869.5 627.2 869.2 627.5 870.7 627.8 870.6 628.1 871.8 628.4 870.1 628.7 869.1 629 870.5 629.3 870.4 629.6 870.4 629.9 869.2 630.2 870.4 630.5 870.4 630.8 871 631.1 869.2 631.4 871.3 631.7 868.8 632 870.6 632.3 872 632.6 872.7 632.9 870.8 633.2 871.6 633.5 872.4 633.8 870.9 634.1 871.1 634.4 871.4 634.7 871.6 635 872.5 635.3 870.4 635.6 871.5 635.9 871.4 636.2 869.6 636.5 872.1 636.8 871 637.1 869.6 637.4 871.4 637.7 872.3 638 869.6 638.3 870.7 638.6 870 638.9 872.3 639.2 869.6 639.5 872.6 639.8 871.5 640.1 871.2 640.4 870.7 640.7 870.9 641 871.9 641.3 871.5 641.6 871.8 641.9 872.3 642.2 870.5 642.5 870.2 642.8 871.2 643.1 870.1 643.4 871.7 643.7 870.1 644 871.5 644.3 870.9 644.6 872.1 644.9 870.6 645.2 870.5 645.5 871.6 645.8 871.2 646.1 870.4 646.4 870.2 646.7 872.6 647 870.6 647.3 870.2 647.6 871.1 647.9 872.1 648.2 872.6 648.5 871 648.8 870.5 649.1 871.1 649.4 871.3 649.7 870.6 650 872.3 650.3 872.2 650.6 872.5 650.9 872.8 651.2 871.5 651.5 870.7 651.8 871.2 652.1 871.7 652.4 872 652.7 872.5 653 871.1 653.3 872.4 653.6 870.9 653.9 872.4 654.2 872 654.5 871.4 654.8 870.9 655.1 871.7 655.4 871 655.7 871.8 656 872.5 656.3 872.7 656.6 871.3 656.9 871.3 657.2 872 657.5 872.7 657.8 871.3 658.1 872.6 658.4 871.8 658.7 871.7 659 872.3 659.3 872.3 659.6 871.9 659.9 872 660.2 872.2 660.5 871.4 660.8 872.2 661.1 871.5 661.4 872.3 661.7 872.9 662 872.4 662.3 872.7 662.6 872.4 662.9 872.8 663 873Z" fill="#e0202e" stroke="#e0202e" stroke-width="0.3" opacity="0.9" clip-path="url(#rc34)"/>
<path d="M562.9 873V871M585.4 873V864.8M608.5 873V851.5M627.9 873V864.8M631.4 873V833.8M634.4 873V865.2M650.4 873V866.8M653.8 873V850.9M666.8 873V871" fill="none" stroke="#e0202e" stroke-width="0.8" opacity="0.95" clip-path="url(#rc34)"/>
<line x1="403.4" y1="873" x2="676.6" y2="873" stroke="#e0202e" stroke-width="1.0"/>
<rect x="403.4" y="834.2" width="273.2" height="39.4" fill="none" stroke="#4a4a4a" stroke-width="1.0"/>
<text x="403.4" y="891.2" font-size="11.5" text-anchor="middle" fill="#1e1e1e" >0</text>
<text x="456.8" y="891.2" font-size="11.5" text-anchor="middle" fill="#1e1e1e" >500</text>
<text x="510.2" y="891.2" font-size="11.5" text-anchor="middle" fill="#1e1e1e" >1000</text>
<text x="563.6" y="891.2" font-size="11.5" text-anchor="middle" fill="#1e1e1e" >1500</text>
<text x="617" y="891.2" font-size="11.5" text-anchor="middle" fill="#1e1e1e" >2000</text>
<text x="670.4" y="891.2" font-size="11.5" text-anchor="middle" fill="#1e1e1e" >2500</text>
<text x="538" y="906" font-size="12" text-anchor="middle" fill="#1e1e1e" >Frequency/Hz</text>
<text x="0" y="0" font-size="12.5" text-anchor="middle" fill="#1e1e1e" transform="translate(9.8,133) rotate(-90)">Cluster 1 decomposition</text>
<text x="0" y="0" font-size="12.5" text-anchor="middle" fill="#1e1e1e" transform="translate(9.8,419) rotate(-90)">Cluster 2 decomposition</text>
<text x="0" y="0" font-size="12.5" text-anchor="middle" fill="#1e1e1e" transform="translate(9.8,732.5) rotate(-90)">Unclustered decomposition</text>
<text x="0" y="0" font-size="10.9" text-anchor="middle" fill="#1e1e1e" transform="translate(382.8,409.9) rotate(-90)">Cluster 2 decomposition</text></svg></body></html>
